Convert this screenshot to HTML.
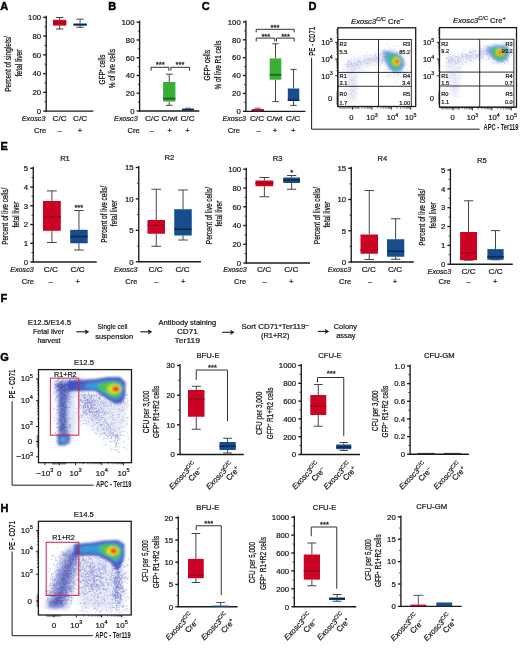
<!DOCTYPE html>
<html><head><meta charset="utf-8"><style>
html,body{margin:0;padding:0;background:#fff;}
body{width:520px;height:649px;overflow:hidden;font-family:"Liberation Sans", sans-serif;}
svg{display:block;will-change:transform;filter:blur(0.35px);}
</style></head><body>
<svg width="520" height="649" viewBox="0 0 520 649" font-family='"Liberation Sans", sans-serif'>
<rect width="520" height="649" fill="#fff"/>
<text x="0.20" y="9.96" font-size="11" fill="#000" text-anchor="start" font-weight="bold" stroke="#000" stroke-width="0.45">A</text>
<line x1="46.20" y1="15.80" x2="46.20" y2="111.60" stroke="#1a1a1a" stroke-width="1.35" />
<line x1="45.70" y1="111.10" x2="93.50" y2="111.10" stroke="#1a1a1a" stroke-width="1.35" />
<line x1="43.20" y1="17.30" x2="46.20" y2="17.30" stroke="#1a1a1a" stroke-width="1.35" />
<text x="41.10" y="20.11" font-size="7.8" fill="#1a1a1a" text-anchor="end" stroke="#1a1a1a" stroke-width="0.22" >100</text>
<line x1="43.20" y1="36.06" x2="46.20" y2="36.06" stroke="#1a1a1a" stroke-width="1.35" />
<text x="41.10" y="38.87" font-size="7.8" fill="#1a1a1a" text-anchor="end" stroke="#1a1a1a" stroke-width="0.22" >80</text>
<line x1="43.20" y1="54.82" x2="46.20" y2="54.82" stroke="#1a1a1a" stroke-width="1.35" />
<text x="41.10" y="57.63" font-size="7.8" fill="#1a1a1a" text-anchor="end" stroke="#1a1a1a" stroke-width="0.22" >60</text>
<line x1="43.20" y1="73.58" x2="46.20" y2="73.58" stroke="#1a1a1a" stroke-width="1.35" />
<text x="41.10" y="76.39" font-size="7.8" fill="#1a1a1a" text-anchor="end" stroke="#1a1a1a" stroke-width="0.22" >40</text>
<line x1="43.20" y1="92.34" x2="46.20" y2="92.34" stroke="#1a1a1a" stroke-width="1.35" />
<text x="41.10" y="95.15" font-size="7.8" fill="#1a1a1a" text-anchor="end" stroke="#1a1a1a" stroke-width="0.22" >20</text>
<line x1="43.20" y1="111.10" x2="46.20" y2="111.10" stroke="#1a1a1a" stroke-width="1.35" />
<text x="41.10" y="113.91" font-size="7.8" fill="#1a1a1a" text-anchor="end" stroke="#1a1a1a" stroke-width="0.22" >0</text>
<line x1="44.40" y1="26.68" x2="46.20" y2="26.68" stroke="#1a1a1a" stroke-width="0.8" />
<line x1="44.40" y1="45.44" x2="46.20" y2="45.44" stroke="#1a1a1a" stroke-width="0.8" />
<line x1="44.40" y1="64.20" x2="46.20" y2="64.20" stroke="#1a1a1a" stroke-width="0.8" />
<line x1="44.40" y1="82.96" x2="46.20" y2="82.96" stroke="#1a1a1a" stroke-width="0.8" />
<line x1="44.40" y1="101.72" x2="46.20" y2="101.72" stroke="#1a1a1a" stroke-width="0.8" />
<line x1="59.65" y1="17.50" x2="59.65" y2="19.80" stroke="#444" stroke-width="1.0" />
<line x1="59.65" y1="25.60" x2="59.65" y2="29.00" stroke="#444" stroke-width="1.0" />
<line x1="55.99" y1="17.50" x2="63.31" y2="17.50" stroke="#444" stroke-width="1.0" />
<line x1="55.99" y1="29.00" x2="63.31" y2="29.00" stroke="#444" stroke-width="1.0" />
<rect x="53.00" y="19.80" width="13.30" height="5.80" fill="#cc0324" />
<line x1="53.00" y1="22.70" x2="66.30" y2="22.70" stroke="#9a0820" stroke-width="1.6" />
<line x1="80.10" y1="19.20" x2="80.10" y2="23.60" stroke="#444" stroke-width="1.0" />
<line x1="80.10" y1="25.60" x2="80.10" y2="27.30" stroke="#444" stroke-width="1.0" />
<line x1="76.47" y1="19.20" x2="83.73" y2="19.20" stroke="#444" stroke-width="1.0" />
<line x1="76.47" y1="27.30" x2="83.73" y2="27.30" stroke="#444" stroke-width="1.0" />
<rect x="73.50" y="23.60" width="13.20" height="2.00" fill="#164d8d" />
<line x1="73.50" y1="24.60" x2="86.70" y2="24.60" stroke="#0a2a50" stroke-width="1.6" />
<text x="45.40" y="121.29" font-size="7.2" fill="#1a1a1a" text-anchor="end" stroke="#1a1a1a" stroke-width="0.22" font-style="italic" >Exosc3</text>
<text x="59.70" y="121.47" font-size="7.7" fill="#1a1a1a" text-anchor="middle" stroke="#1a1a1a" stroke-width="0.22" textLength="14.2" lengthAdjust="spacingAndGlyphs" >C/C</text>
<text x="80.10" y="121.47" font-size="7.7" fill="#1a1a1a" text-anchor="middle" stroke="#1a1a1a" stroke-width="0.22" textLength="14.2" lengthAdjust="spacingAndGlyphs" >C/C</text>
<text x="46.20" y="132.94" font-size="7.6" fill="#1a1a1a" text-anchor="end" stroke="#1a1a1a" stroke-width="0.22" >Cre</text>
<text x="59.70" y="132.94" font-size="7.6" fill="#1a1a1a" text-anchor="middle" stroke="#1a1a1a" stroke-width="0.22" >–</text>
<text x="80.00" y="132.94" font-size="7.6" fill="#1a1a1a" text-anchor="middle" stroke="#1a1a1a" stroke-width="0.22" >+</text>
<text transform="translate(7.60,64.00) rotate(-90)" x="0" y="3.24" font-size="9" fill="#1a1a1a" text-anchor="middle" stroke="#1a1a1a" stroke-width="0.28" textLength="55.7" lengthAdjust="spacingAndGlyphs" >Percent of singlets/</text>
<text transform="translate(18.90,63.00) rotate(-90)" x="0" y="3.24" font-size="9" fill="#1a1a1a" text-anchor="middle" stroke="#1a1a1a" stroke-width="0.28" textLength="27" lengthAdjust="spacingAndGlyphs" >fetal liver</text>
<text x="108.30" y="10.16" font-size="11" fill="#000" text-anchor="start" font-weight="bold" stroke="#000" stroke-width="0.45">B</text>
<line x1="139.60" y1="20.70" x2="139.60" y2="111.50" stroke="#1a1a1a" stroke-width="1.35" />
<line x1="139.10" y1="111.00" x2="199.30" y2="111.00" stroke="#1a1a1a" stroke-width="1.35" />
<line x1="136.60" y1="22.20" x2="139.60" y2="22.20" stroke="#1a1a1a" stroke-width="1.35" />
<text x="134.50" y="25.01" font-size="7.8" fill="#1a1a1a" text-anchor="end" stroke="#1a1a1a" stroke-width="0.22" >100</text>
<line x1="136.60" y1="39.96" x2="139.60" y2="39.96" stroke="#1a1a1a" stroke-width="1.35" />
<text x="134.50" y="42.77" font-size="7.8" fill="#1a1a1a" text-anchor="end" stroke="#1a1a1a" stroke-width="0.22" >80</text>
<line x1="136.60" y1="57.72" x2="139.60" y2="57.72" stroke="#1a1a1a" stroke-width="1.35" />
<text x="134.50" y="60.53" font-size="7.8" fill="#1a1a1a" text-anchor="end" stroke="#1a1a1a" stroke-width="0.22" >60</text>
<line x1="136.60" y1="75.48" x2="139.60" y2="75.48" stroke="#1a1a1a" stroke-width="1.35" />
<text x="134.50" y="78.29" font-size="7.8" fill="#1a1a1a" text-anchor="end" stroke="#1a1a1a" stroke-width="0.22" >40</text>
<line x1="136.60" y1="93.24" x2="139.60" y2="93.24" stroke="#1a1a1a" stroke-width="1.35" />
<text x="134.50" y="96.05" font-size="7.8" fill="#1a1a1a" text-anchor="end" stroke="#1a1a1a" stroke-width="0.22" >20</text>
<line x1="136.60" y1="111.00" x2="139.60" y2="111.00" stroke="#1a1a1a" stroke-width="1.35" />
<text x="134.50" y="113.81" font-size="7.8" fill="#1a1a1a" text-anchor="end" stroke="#1a1a1a" stroke-width="0.22" >0</text>
<line x1="137.80" y1="31.08" x2="139.60" y2="31.08" stroke="#1a1a1a" stroke-width="0.8" />
<line x1="137.80" y1="48.84" x2="139.60" y2="48.84" stroke="#1a1a1a" stroke-width="0.8" />
<line x1="137.80" y1="66.60" x2="139.60" y2="66.60" stroke="#1a1a1a" stroke-width="0.8" />
<line x1="137.80" y1="84.36" x2="139.60" y2="84.36" stroke="#1a1a1a" stroke-width="0.8" />
<line x1="137.80" y1="102.12" x2="139.60" y2="102.12" stroke="#1a1a1a" stroke-width="0.8" />
<line x1="169.25" y1="74.20" x2="169.25" y2="82.00" stroke="#444" stroke-width="1.0" />
<line x1="169.25" y1="101.50" x2="169.25" y2="105.30" stroke="#444" stroke-width="1.0" />
<line x1="165.87" y1="74.20" x2="172.63" y2="74.20" stroke="#444" stroke-width="1.0" />
<line x1="165.87" y1="105.30" x2="172.63" y2="105.30" stroke="#444" stroke-width="1.0" />
<rect x="163.10" y="82.00" width="12.30" height="19.50" fill="#39ae35" />
<line x1="163.10" y1="98.60" x2="175.40" y2="98.60" stroke="#1c6420" stroke-width="1.8" />
<rect x="182.00" y="108.60" width="12.00" height="2.00" fill="#0a2a50" />
<line x1="185.00" y1="108.20" x2="191.00" y2="108.20" stroke="#444" stroke-width="0.8" />
<polyline points="151.00,70.70 151.00,67.30 168.80,67.30 168.80,70.70" fill="none" stroke="#1a1a1a" stroke-width="0.9"/>
<polyline points="170.90,70.70 170.90,67.30 189.60,67.30 189.60,70.70" fill="none" stroke="#1a1a1a" stroke-width="0.9"/>
<text x="160.20" y="67.40" font-size="7.5" fill="#1a1a1a" text-anchor="middle" stroke="#1a1a1a" stroke-width="0.28" >***</text>
<text x="180.00" y="67.40" font-size="7.5" fill="#1a1a1a" text-anchor="middle" stroke="#1a1a1a" stroke-width="0.28" >***</text>
<text x="137.70" y="121.29" font-size="7.2" fill="#1a1a1a" text-anchor="end" stroke="#1a1a1a" stroke-width="0.22" font-style="italic" >Exosc3</text>
<text x="152.00" y="121.47" font-size="7.7" fill="#1a1a1a" text-anchor="middle" stroke="#1a1a1a" stroke-width="0.22" textLength="14.2" lengthAdjust="spacingAndGlyphs" >C/C</text>
<text x="169.50" y="121.47" font-size="7.7" fill="#1a1a1a" text-anchor="middle" stroke="#1a1a1a" stroke-width="0.22" textLength="15.9" lengthAdjust="spacingAndGlyphs" >C/wt</text>
<text x="187.50" y="121.47" font-size="7.7" fill="#1a1a1a" text-anchor="middle" stroke="#1a1a1a" stroke-width="0.22" textLength="14.2" lengthAdjust="spacingAndGlyphs" >C/C</text>
<text x="139.80" y="132.94" font-size="7.6" fill="#1a1a1a" text-anchor="end" stroke="#1a1a1a" stroke-width="0.22" >Cre</text>
<text x="151.50" y="132.94" font-size="7.6" fill="#1a1a1a" text-anchor="middle" stroke="#1a1a1a" stroke-width="0.22" >–</text>
<text x="169.70" y="132.94" font-size="7.6" fill="#1a1a1a" text-anchor="middle" stroke="#1a1a1a" stroke-width="0.22" >+</text>
<text x="187.50" y="132.94" font-size="7.6" fill="#1a1a1a" text-anchor="middle" stroke="#1a1a1a" stroke-width="0.22" >+</text>
<text transform="translate(101.50,69.50) rotate(-90)" x="0" y="3.24" font-size="9" fill="#1a1a1a" text-anchor="middle" stroke="#1a1a1a" stroke-width="0.28" textLength="30" lengthAdjust="spacingAndGlyphs" >GFP<tspan font-size="5" dy="-2.5">+</tspan><tspan dy="2.5"> cells</tspan></text>
<text transform="translate(111.70,68.70) rotate(-90)" x="0" y="3.24" font-size="9" fill="#1a1a1a" text-anchor="middle" stroke="#1a1a1a" stroke-width="0.28" textLength="39.3" lengthAdjust="spacingAndGlyphs" >% of live cells</text>
<text x="201.70" y="10.16" font-size="11" fill="#000" text-anchor="start" font-weight="bold" stroke="#000" stroke-width="0.45">C</text>
<line x1="245.90" y1="20.40" x2="245.90" y2="111.80" stroke="#1a1a1a" stroke-width="1.35" />
<line x1="245.40" y1="111.30" x2="305.40" y2="111.30" stroke="#1a1a1a" stroke-width="1.35" />
<line x1="242.90" y1="21.90" x2="245.90" y2="21.90" stroke="#1a1a1a" stroke-width="1.35" />
<text x="240.80" y="24.71" font-size="7.8" fill="#1a1a1a" text-anchor="end" stroke="#1a1a1a" stroke-width="0.22" >100</text>
<line x1="242.90" y1="39.78" x2="245.90" y2="39.78" stroke="#1a1a1a" stroke-width="1.35" />
<text x="240.80" y="42.59" font-size="7.8" fill="#1a1a1a" text-anchor="end" stroke="#1a1a1a" stroke-width="0.22" >80</text>
<line x1="242.90" y1="57.66" x2="245.90" y2="57.66" stroke="#1a1a1a" stroke-width="1.35" />
<text x="240.80" y="60.47" font-size="7.8" fill="#1a1a1a" text-anchor="end" stroke="#1a1a1a" stroke-width="0.22" >60</text>
<line x1="242.90" y1="75.54" x2="245.90" y2="75.54" stroke="#1a1a1a" stroke-width="1.35" />
<text x="240.80" y="78.35" font-size="7.8" fill="#1a1a1a" text-anchor="end" stroke="#1a1a1a" stroke-width="0.22" >40</text>
<line x1="242.90" y1="93.42" x2="245.90" y2="93.42" stroke="#1a1a1a" stroke-width="1.35" />
<text x="240.80" y="96.23" font-size="7.8" fill="#1a1a1a" text-anchor="end" stroke="#1a1a1a" stroke-width="0.22" >20</text>
<line x1="242.90" y1="111.30" x2="245.90" y2="111.30" stroke="#1a1a1a" stroke-width="1.35" />
<text x="240.80" y="114.11" font-size="7.8" fill="#1a1a1a" text-anchor="end" stroke="#1a1a1a" stroke-width="0.22" >0</text>
<line x1="244.10" y1="30.84" x2="245.90" y2="30.84" stroke="#1a1a1a" stroke-width="0.8" />
<line x1="244.10" y1="48.72" x2="245.90" y2="48.72" stroke="#1a1a1a" stroke-width="0.8" />
<line x1="244.10" y1="66.60" x2="245.90" y2="66.60" stroke="#1a1a1a" stroke-width="0.8" />
<line x1="244.10" y1="84.48" x2="245.90" y2="84.48" stroke="#1a1a1a" stroke-width="0.8" />
<line x1="244.10" y1="102.36" x2="245.90" y2="102.36" stroke="#1a1a1a" stroke-width="0.8" />
<line x1="257.75" y1="108.20" x2="257.75" y2="109.30" stroke="#444" stroke-width="0.8" />
<line x1="257.75" y1="111.00" x2="257.75" y2="111.00" stroke="#444" stroke-width="0.8" />
<line x1="254.37" y1="108.20" x2="261.13" y2="108.20" stroke="#444" stroke-width="0.8" />
<line x1="254.37" y1="111.00" x2="261.13" y2="111.00" stroke="#444" stroke-width="0.8" />
<rect x="251.60" y="109.30" width="12.30" height="1.70" fill="#cc0324" />
<line x1="251.60" y1="110.20" x2="263.90" y2="110.20" stroke="#9a0820" stroke-width="1.6" />
<line x1="275.50" y1="43.80" x2="275.50" y2="58.40" stroke="#444" stroke-width="1.0" />
<line x1="275.50" y1="79.70" x2="275.50" y2="101.60" stroke="#444" stroke-width="1.0" />
<line x1="272.31" y1="43.80" x2="278.69" y2="43.80" stroke="#444" stroke-width="1.0" />
<line x1="272.31" y1="101.60" x2="278.69" y2="101.60" stroke="#444" stroke-width="1.0" />
<rect x="269.70" y="58.40" width="11.60" height="21.30" fill="#39ae35" />
<line x1="269.70" y1="74.80" x2="281.30" y2="74.80" stroke="#1c6420" stroke-width="1.8" />
<line x1="293.55" y1="69.40" x2="293.55" y2="88.50" stroke="#444" stroke-width="1.0" />
<line x1="293.55" y1="100.80" x2="293.55" y2="105.40" stroke="#444" stroke-width="1.0" />
<line x1="290.39" y1="69.40" x2="296.71" y2="69.40" stroke="#444" stroke-width="1.0" />
<line x1="290.39" y1="105.40" x2="296.71" y2="105.40" stroke="#444" stroke-width="1.0" />
<rect x="287.80" y="88.50" width="11.50" height="12.30" fill="#164d8d" />
<line x1="287.80" y1="100.20" x2="299.30" y2="100.20" stroke="#0a2a50" stroke-width="1.6" />
<polyline points="256.20,32.30 256.20,29.30 294.20,29.30 294.20,32.30" fill="none" stroke="#1a1a1a" stroke-width="0.9"/>
<polyline points="256.20,41.50 256.20,38.10 274.70,38.10 274.70,41.50" fill="none" stroke="#1a1a1a" stroke-width="0.9"/>
<polyline points="276.50,41.50 276.50,38.10 294.20,38.10 294.20,41.50" fill="none" stroke="#1a1a1a" stroke-width="0.9"/>
<text x="275.00" y="29.70" font-size="7.5" fill="#1a1a1a" text-anchor="middle" stroke="#1a1a1a" stroke-width="0.28" >***</text>
<text x="265.80" y="38.90" font-size="7.5" fill="#1a1a1a" text-anchor="middle" stroke="#1a1a1a" stroke-width="0.28" >***</text>
<text x="285.60" y="38.90" font-size="7.5" fill="#1a1a1a" text-anchor="middle" stroke="#1a1a1a" stroke-width="0.28" >***</text>
<text x="246.00" y="121.29" font-size="7.2" fill="#1a1a1a" text-anchor="end" stroke="#1a1a1a" stroke-width="0.22" font-style="italic" >Exosc3</text>
<text x="257.00" y="121.47" font-size="7.7" fill="#1a1a1a" text-anchor="middle" stroke="#1a1a1a" stroke-width="0.22" textLength="14.2" lengthAdjust="spacingAndGlyphs" >C/C</text>
<text x="274.50" y="121.47" font-size="7.7" fill="#1a1a1a" text-anchor="middle" stroke="#1a1a1a" stroke-width="0.22" textLength="15.9" lengthAdjust="spacingAndGlyphs" >C/wt</text>
<text x="293.20" y="121.47" font-size="7.7" fill="#1a1a1a" text-anchor="middle" stroke="#1a1a1a" stroke-width="0.22" textLength="14.2" lengthAdjust="spacingAndGlyphs" >C/C</text>
<text x="240.00" y="132.94" font-size="7.6" fill="#1a1a1a" text-anchor="end" stroke="#1a1a1a" stroke-width="0.22" >Cre</text>
<text x="258.50" y="132.94" font-size="7.6" fill="#1a1a1a" text-anchor="middle" stroke="#1a1a1a" stroke-width="0.22" >–</text>
<text x="275.00" y="132.94" font-size="7.6" fill="#1a1a1a" text-anchor="middle" stroke="#1a1a1a" stroke-width="0.22" >+</text>
<text x="293.20" y="132.94" font-size="7.6" fill="#1a1a1a" text-anchor="middle" stroke="#1a1a1a" stroke-width="0.22" >+</text>
<text transform="translate(207.00,65.20) rotate(-90)" x="0" y="3.24" font-size="9" fill="#1a1a1a" text-anchor="middle" stroke="#1a1a1a" stroke-width="0.28" textLength="30.6" lengthAdjust="spacingAndGlyphs" >GFP<tspan font-size="5" dy="-2.5">+</tspan><tspan dy="2.5"> cells</tspan></text>
<text transform="translate(217.30,65.10) rotate(-90)" x="0" y="3.24" font-size="9" fill="#1a1a1a" text-anchor="middle" stroke="#1a1a1a" stroke-width="0.28" textLength="49" lengthAdjust="spacingAndGlyphs" >% of live R1 cells</text>
<text x="308.50" y="9.96" font-size="11" fill="#000" text-anchor="start" font-weight="bold" stroke="#000" stroke-width="0.45">D</text>
<defs><filter id="bl1" x="-50%" y="-50%" width="200%" height="200%"><feGaussianBlur stdDeviation="1.4"/></filter><filter id="bl2" x="-50%" y="-50%" width="200%" height="200%"><feGaussianBlur stdDeviation="0.6"/></filter><filter id="bl3" x="-50%" y="-50%" width="200%" height="200%"><feGaussianBlur stdDeviation="2.2"/></filter><filter id="bl4" x="-50%" y="-50%" width="200%" height="200%"><feGaussianBlur stdDeviation="1.0"/></filter></defs>
<polygon points="345,63 360,58 378,54 388,55 386,63 372,65 358,69 356,100 349,101 347,80" fill="#c8cdf0" fill-opacity="0.4" filter="url(#bl3)"/>
<path d="M359.8 65.5h0.8v0.8h-0.8zM347.1 62.7h0.8v0.8h-0.8zM347.2 63.5h0.8v0.8h-0.8zM364.1 61.2h0.8v0.8h-0.8zM363.5 59.0h0.8v0.8h-0.8zM352.8 56.1h0.8v0.8h-0.8zM367.5 65.2h0.8v0.8h-0.8zM347.6 61.4h0.8v0.8h-0.8zM351.9 64.9h0.8v0.8h-0.8zM380.7 61.7h0.8v0.8h-0.8zM371.6 62.1h0.8v0.8h-0.8zM348.4 64.4h0.8v0.8h-0.8zM373.4 59.9h0.8v0.8h-0.8zM369.3 60.2h0.8v0.8h-0.8zM378.9 55.2h0.8v0.8h-0.8zM367.6 58.3h0.8v0.8h-0.8zM375.7 67.7h0.8v0.8h-0.8zM348.5 66.0h0.8v0.8h-0.8zM351.2 62.9h0.8v0.8h-0.8zM373.9 54.1h0.8v0.8h-0.8zM382.0 62.0h0.8v0.8h-0.8zM369.5 57.4h0.8v0.8h-0.8zM382.2 55.9h0.8v0.8h-0.8zM375.1 60.7h0.8v0.8h-0.8zM374.8 58.5h0.8v0.8h-0.8zM356.1 65.1h0.8v0.8h-0.8zM345.4 64.3h0.8v0.8h-0.8zM351.7 65.2h0.8v0.8h-0.8zM350.6 66.5h0.8v0.8h-0.8zM383.5 58.9h0.8v0.8h-0.8zM370.1 55.3h0.8v0.8h-0.8zM382.0 60.7h0.8v0.8h-0.8zM362.4 55.3h0.8v0.8h-0.8zM351.8 65.1h0.8v0.8h-0.8zM353.6 62.6h0.8v0.8h-0.8zM357.4 62.0h0.8v0.8h-0.8zM358.5 57.5h0.8v0.8h-0.8zM373.2 58.0h0.8v0.8h-0.8zM376.2 61.1h0.8v0.8h-0.8zM379.9 53.3h0.8v0.8h-0.8zM361.5 61.8h0.8v0.8h-0.8zM372.6 59.4h0.8v0.8h-0.8zM354.5 65.0h0.8v0.8h-0.8zM347.9 63.6h0.8v0.8h-0.8zM349.2 63.8h0.8v0.8h-0.8zM382.1 55.7h0.8v0.8h-0.8zM355.3 64.7h0.8v0.8h-0.8zM352.2 54.0h0.8v0.8h-0.8zM364.6 60.4h0.8v0.8h-0.8zM348.9 65.5h0.8v0.8h-0.8zM380.8 58.0h0.8v0.8h-0.8zM385.3 56.0h0.8v0.8h-0.8zM369.6 60.4h0.8v0.8h-0.8zM388.1 52.1h0.8v0.8h-0.8zM355.8 63.5h0.8v0.8h-0.8zM376.4 56.6h0.8v0.8h-0.8zM359.5 67.7h0.8v0.8h-0.8zM388.5 51.1h0.8v0.8h-0.8zM380.1 54.9h0.8v0.8h-0.8zM367.1 60.5h0.8v0.8h-0.8zM346.1 66.4h0.8v0.8h-0.8zM375.9 57.4h0.8v0.8h-0.8zM387.9 55.8h0.8v0.8h-0.8zM360.8 63.6h0.8v0.8h-0.8zM353.9 67.1h0.8v0.8h-0.8zM384.4 53.4h0.8v0.8h-0.8zM373.2 57.4h0.8v0.8h-0.8zM375.0 55.4h0.8v0.8h-0.8zM376.6 58.3h0.8v0.8h-0.8zM378.0 63.1h0.8v0.8h-0.8zM385.9 58.4h0.8v0.8h-0.8zM385.6 54.3h0.8v0.8h-0.8zM351.8 69.2h0.8v0.8h-0.8zM380.9 62.8h0.8v0.8h-0.8zM386.6 53.4h0.8v0.8h-0.8zM368.7 60.0h0.8v0.8h-0.8zM386.0 52.8h0.8v0.8h-0.8zM383.2 59.4h0.8v0.8h-0.8zM380.7 60.0h0.8v0.8h-0.8zM357.7 66.3h0.8v0.8h-0.8zM355.7 62.8h0.8v0.8h-0.8zM383.4 59.8h0.8v0.8h-0.8zM371.0 57.3h0.8v0.8h-0.8zM383.2 56.6h0.8v0.8h-0.8zM368.6 60.3h0.8v0.8h-0.8zM354.8 62.7h0.8v0.8h-0.8zM350.7 63.6h0.8v0.8h-0.8zM368.3 63.3h0.8v0.8h-0.8zM369.0 57.9h0.8v0.8h-0.8zM369.1 62.3h0.8v0.8h-0.8zM376.9 57.6h0.8v0.8h-0.8zM378.6 55.9h0.8v0.8h-0.8zM370.1 59.0h0.8v0.8h-0.8zM373.5 59.7h0.8v0.8h-0.8zM367.1 58.2h0.8v0.8h-0.8zM383.5 56.0h0.8v0.8h-0.8zM370.9 57.2h0.8v0.8h-0.8zM351.7 65.5h0.8v0.8h-0.8zM348.1 64.8h0.8v0.8h-0.8zM374.3 51.4h0.8v0.8h-0.8zM351.3 57.7h0.8v0.8h-0.8zM353.2 56.7h0.8v0.8h-0.8zM355.5 61.2h0.8v0.8h-0.8zM367.9 59.7h0.8v0.8h-0.8zM350.8 64.5h0.8v0.8h-0.8zM359.9 64.2h0.8v0.8h-0.8zM377.4 58.8h0.8v0.8h-0.8zM364.9 60.8h0.8v0.8h-0.8zM371.4 58.9h0.8v0.8h-0.8zM388.0 47.0h0.8v0.8h-0.8zM349.5 64.2h0.8v0.8h-0.8zM378.4 59.6h0.8v0.8h-0.8zM364.8 57.2h0.8v0.8h-0.8zM357.5 68.3h0.8v0.8h-0.8zM369.4 58.0h0.8v0.8h-0.8zM347.1 60.1h0.8v0.8h-0.8zM349.5 61.5h0.8v0.8h-0.8zM381.3 61.0h0.8v0.8h-0.8zM348.6 60.5h0.8v0.8h-0.8zM357.3 58.7h0.8v0.8h-0.8zM357.4 65.0h0.8v0.8h-0.8zM355.7 63.4h0.8v0.8h-0.8zM347.4 66.5h0.8v0.8h-0.8zM358.2 58.7h0.8v0.8h-0.8zM366.9 62.9h0.8v0.8h-0.8zM345.8 64.5h0.8v0.8h-0.8zM375.9 57.4h0.8v0.8h-0.8zM365.9 59.5h0.8v0.8h-0.8zM379.1 59.1h0.8v0.8h-0.8zM379.9 59.9h0.8v0.8h-0.8zM375.5 58.1h0.8v0.8h-0.8zM380.4 52.5h0.8v0.8h-0.8zM362.2 61.7h0.8v0.8h-0.8zM352.1 65.4h0.8v0.8h-0.8zM356.2 63.2h0.8v0.8h-0.8zM382.2 53.5h0.8v0.8h-0.8zM357.2 64.7h0.8v0.8h-0.8zM365.4 63.5h0.8v0.8h-0.8zM359.1 59.7h0.8v0.8h-0.8zM368.6 68.7h0.8v0.8h-0.8zM358.3 61.7h0.8v0.8h-0.8zM360.2 61.6h0.8v0.8h-0.8zM353.5 62.4h0.8v0.8h-0.8zM357.3 63.8h0.8v0.8h-0.8zM347.7 64.1h0.8v0.8h-0.8zM353.9 59.9h0.8v0.8h-0.8zM376.4 53.4h0.8v0.8h-0.8zM382.1 59.0h0.8v0.8h-0.8zM388.3 60.7h0.8v0.8h-0.8zM374.6 60.7h0.8v0.8h-0.8zM382.2 52.8h0.8v0.8h-0.8zM380.7 60.8h0.8v0.8h-0.8zM367.7 54.5h0.8v0.8h-0.8zM378.6 53.7h0.8v0.8h-0.8zM374.1 56.2h0.8v0.8h-0.8zM347.0 66.2h0.8v0.8h-0.8zM350.2 59.3h0.8v0.8h-0.8zM370.9 55.2h0.8v0.8h-0.8zM367.9 60.2h0.8v0.8h-0.8zM375.9 57.9h0.8v0.8h-0.8zM374.9 61.0h0.8v0.8h-0.8zM356.6 63.2h0.8v0.8h-0.8zM376.8 63.7h0.8v0.8h-0.8zM385.9 56.3h0.8v0.8h-0.8zM364.9 54.7h0.8v0.8h-0.8zM371.3 58.0h0.8v0.8h-0.8zM351.3 68.6h0.8v0.8h-0.8zM357.9 61.3h0.8v0.8h-0.8zM347.4 68.7h0.8v0.8h-0.8zM374.4 55.9h0.8v0.8h-0.8zM366.1 60.7h0.8v0.8h-0.8zM350.6 61.6h0.8v0.8h-0.8zM387.2 55.9h0.8v0.8h-0.8zM365.9 52.0h0.8v0.8h-0.8zM364.2 62.8h0.8v0.8h-0.8zM386.0 60.9h0.8v0.8h-0.8zM348.5 61.6h0.8v0.8h-0.8zM351.2 59.2h0.8v0.8h-0.8zM382.9 54.5h0.8v0.8h-0.8zM383.4 56.9h0.8v0.8h-0.8zM344.0 64.2h0.8v0.8h-0.8zM358.6 64.1h0.8v0.8h-0.8zM358.6 61.3h0.8v0.8h-0.8zM377.6 56.5h0.8v0.8h-0.8zM384.3 49.3h0.8v0.8h-0.8zM356.7 64.2h0.8v0.8h-0.8zM387.1 54.3h0.8v0.8h-0.8zM363.4 61.7h0.8v0.8h-0.8zM349.8 60.7h0.8v0.8h-0.8zM385.2 59.3h0.8v0.8h-0.8zM367.3 63.1h0.8v0.8h-0.8zM387.5 52.1h0.8v0.8h-0.8zM374.3 54.6h0.8v0.8h-0.8zM368.6 58.5h0.8v0.8h-0.8zM374.8 59.9h0.8v0.8h-0.8zM372.6 59.9h0.8v0.8h-0.8zM385.7 59.4h0.8v0.8h-0.8zM359.3 66.7h0.8v0.8h-0.8zM386.9 61.3h0.8v0.8h-0.8zM357.0 60.4h0.8v0.8h-0.8zM352.6 64.7h0.8v0.8h-0.8zM383.2 56.8h0.8v0.8h-0.8zM385.1 56.7h0.8v0.8h-0.8zM351.2 64.3h0.8v0.8h-0.8zM360.4 62.7h0.8v0.8h-0.8zM354.1 58.8h0.8v0.8h-0.8zM376.3 59.9h0.8v0.8h-0.8zM366.9 62.0h0.8v0.8h-0.8zM347.2 72.5h0.8v0.8h-0.8zM348.9 62.9h0.8v0.8h-0.8zM382.3 59.8h0.8v0.8h-0.8zM354.8 64.3h0.8v0.8h-0.8zM387.3 50.6h0.8v0.8h-0.8zM347.6 64.9h0.8v0.8h-0.8zM382.1 57.6h0.8v0.8h-0.8zM343.1 69.0h0.8v0.8h-0.8zM382.2 50.0h0.8v0.8h-0.8zM356.2 63.3h0.8v0.8h-0.8zM366.4 52.2h0.8v0.8h-0.8zM375.0 53.5h0.8v0.8h-0.8zM364.4 60.0h0.8v0.8h-0.8zM378.9 65.6h0.8v0.8h-0.8zM372.6 60.6h0.8v0.8h-0.8zM354.8 57.9h0.8v0.8h-0.8zM351.0 64.9h0.8v0.8h-0.8zM369.5 60.9h0.8v0.8h-0.8zM371.7 59.4h0.8v0.8h-0.8zM366.3 59.0h0.8v0.8h-0.8zM382.2 57.3h0.8v0.8h-0.8zM357.2 60.7h0.8v0.8h-0.8zM359.4 62.1h0.8v0.8h-0.8zM373.3 59.9h0.8v0.8h-0.8zM374.4 57.5h0.8v0.8h-0.8zM345.9 66.8h0.8v0.8h-0.8zM375.0 64.5h0.8v0.8h-0.8zM376.1 58.0h0.8v0.8h-0.8zM386.0 62.2h0.8v0.8h-0.8zM355.2 68.0h0.8v0.8h-0.8zM358.9 60.4h0.8v0.8h-0.8zM353.2 66.1h0.8v0.8h-0.8zM374.2 58.1h0.8v0.8h-0.8zM362.6 70.1h0.8v0.8h-0.8zM351.5 63.3h0.8v0.8h-0.8zM363.7 56.5h0.8v0.8h-0.8zM378.9 58.0h0.8v0.8h-0.8zM360.1 68.9h0.8v0.8h-0.8zM378.6 59.1h0.8v0.8h-0.8zM360.6 63.2h0.8v0.8h-0.8zM353.1 62.7h0.8v0.8h-0.8zM360.6 60.7h0.8v0.8h-0.8zM386.7 59.5h0.8v0.8h-0.8zM380.8 54.1h0.8v0.8h-0.8zM346.1 64.2h0.8v0.8h-0.8zM384.9 59.8h0.8v0.8h-0.8zM384.6 57.5h0.8v0.8h-0.8zM379.9 56.5h0.8v0.8h-0.8zM348.7 66.7h0.8v0.8h-0.8zM356.0 54.5h0.8v0.8h-0.8zM359.2 70.0h0.8v0.8h-0.8zM371.4 64.6h0.8v0.8h-0.8z" fill="#5868c4" fill-opacity="0.32"/>
<path d="M350.9 93.1h0.8v0.8h-0.8zM357.9 85.4h0.8v0.8h-0.8zM356.3 77.2h0.8v0.8h-0.8zM352.7 84.1h0.8v0.8h-0.8zM352.4 97.4h0.8v0.8h-0.8zM360.4 77.7h0.8v0.8h-0.8zM350.0 90.5h0.8v0.8h-0.8zM348.3 90.5h0.8v0.8h-0.8zM354.0 81.9h0.8v0.8h-0.8zM353.9 68.0h0.8v0.8h-0.8zM354.7 68.0h0.8v0.8h-0.8zM349.6 78.9h0.8v0.8h-0.8zM350.6 94.4h0.8v0.8h-0.8zM352.3 80.6h0.8v0.8h-0.8zM353.9 102.4h0.8v0.8h-0.8zM352.0 89.0h0.8v0.8h-0.8zM356.3 87.9h0.8v0.8h-0.8zM359.7 63.2h0.8v0.8h-0.8zM351.9 89.6h0.8v0.8h-0.8zM355.4 92.4h0.8v0.8h-0.8zM351.0 73.4h0.8v0.8h-0.8zM352.4 96.4h0.8v0.8h-0.8zM348.2 73.7h0.8v0.8h-0.8zM351.9 63.7h0.8v0.8h-0.8zM351.1 80.2h0.8v0.8h-0.8zM353.6 77.3h0.8v0.8h-0.8zM348.9 80.7h0.8v0.8h-0.8zM351.8 77.7h0.8v0.8h-0.8zM352.0 93.3h0.8v0.8h-0.8zM356.1 103.8h0.8v0.8h-0.8zM349.3 80.4h0.8v0.8h-0.8zM349.5 84.6h0.8v0.8h-0.8zM353.8 70.1h0.8v0.8h-0.8zM353.6 84.7h0.8v0.8h-0.8zM345.6 88.2h0.8v0.8h-0.8zM356.2 64.5h0.8v0.8h-0.8zM354.8 87.3h0.8v0.8h-0.8zM353.7 89.9h0.8v0.8h-0.8zM356.6 82.5h0.8v0.8h-0.8zM355.1 80.5h0.8v0.8h-0.8zM354.5 76.0h0.8v0.8h-0.8zM351.6 104.0h0.8v0.8h-0.8zM353.6 83.3h0.8v0.8h-0.8zM348.0 76.3h0.8v0.8h-0.8zM352.7 95.3h0.8v0.8h-0.8zM353.5 90.8h0.8v0.8h-0.8zM351.9 99.9h0.8v0.8h-0.8zM350.6 79.0h0.8v0.8h-0.8zM355.1 85.7h0.8v0.8h-0.8zM351.0 78.7h0.8v0.8h-0.8zM351.1 91.9h0.8v0.8h-0.8zM353.2 71.7h0.8v0.8h-0.8zM353.5 87.0h0.8v0.8h-0.8zM348.5 93.5h0.8v0.8h-0.8zM351.0 81.3h0.8v0.8h-0.8zM354.8 99.5h0.8v0.8h-0.8zM349.6 89.8h0.8v0.8h-0.8zM350.3 98.1h0.8v0.8h-0.8zM349.7 93.9h0.8v0.8h-0.8zM359.8 57.0h0.8v0.8h-0.8zM350.5 90.5h0.8v0.8h-0.8zM351.7 77.6h0.8v0.8h-0.8zM359.5 85.9h0.8v0.8h-0.8zM346.2 94.4h0.8v0.8h-0.8zM346.0 97.7h0.8v0.8h-0.8zM350.0 86.6h0.8v0.8h-0.8zM356.4 86.3h0.8v0.8h-0.8zM347.1 66.3h0.8v0.8h-0.8zM356.1 93.1h0.8v0.8h-0.8zM349.1 94.5h0.8v0.8h-0.8zM353.7 92.1h0.8v0.8h-0.8zM344.1 81.7h0.8v0.8h-0.8zM355.2 93.1h0.8v0.8h-0.8zM355.1 58.0h0.8v0.8h-0.8zM352.6 90.4h0.8v0.8h-0.8zM360.9 74.5h0.8v0.8h-0.8zM350.8 85.4h0.8v0.8h-0.8zM355.1 80.1h0.8v0.8h-0.8zM356.0 76.3h0.8v0.8h-0.8zM352.9 79.2h0.8v0.8h-0.8zM352.6 77.4h0.8v0.8h-0.8zM346.4 97.0h0.8v0.8h-0.8zM353.1 78.9h0.8v0.8h-0.8zM352.7 95.9h0.8v0.8h-0.8zM348.6 83.8h0.8v0.8h-0.8zM353.9 90.8h0.8v0.8h-0.8zM350.8 61.8h0.8v0.8h-0.8zM356.4 88.6h0.8v0.8h-0.8zM352.0 81.9h0.8v0.8h-0.8zM352.9 80.3h0.8v0.8h-0.8z" fill="#7080d0" fill-opacity="0.24"/>
<path d="M388.9 58.1h0.8v0.8h-0.8zM391.4 59.1h0.8v0.8h-0.8zM388.0 69.1h0.8v0.8h-0.8zM387.1 69.3h0.8v0.8h-0.8zM388.9 66.8h0.8v0.8h-0.8zM403.2 65.6h0.8v0.8h-0.8zM390.6 64.4h0.8v0.8h-0.8zM395.9 50.1h0.8v0.8h-0.8zM391.4 65.3h0.8v0.8h-0.8zM392.2 64.6h0.8v0.8h-0.8zM399.4 70.1h0.8v0.8h-0.8zM400.4 68.7h0.8v0.8h-0.8zM393.3 63.9h0.8v0.8h-0.8zM393.4 61.5h0.8v0.8h-0.8zM393.9 50.2h0.8v0.8h-0.8zM393.0 63.8h0.8v0.8h-0.8zM389.2 63.8h0.8v0.8h-0.8zM398.1 62.7h0.8v0.8h-0.8zM407.5 43.1h0.8v0.8h-0.8zM393.8 49.4h0.8v0.8h-0.8zM400.9 85.2h0.8v0.8h-0.8zM380.0 65.0h0.8v0.8h-0.8zM398.1 61.6h0.8v0.8h-0.8zM398.3 46.1h0.8v0.8h-0.8zM400.1 67.0h0.8v0.8h-0.8zM395.1 59.3h0.8v0.8h-0.8zM398.8 60.1h0.8v0.8h-0.8zM396.3 59.9h0.8v0.8h-0.8zM381.5 63.7h0.8v0.8h-0.8zM396.2 70.0h0.8v0.8h-0.8zM389.7 63.7h0.8v0.8h-0.8zM398.7 65.2h0.8v0.8h-0.8zM402.5 79.9h0.8v0.8h-0.8zM389.5 48.6h0.8v0.8h-0.8zM400.1 76.2h0.8v0.8h-0.8zM400.5 70.5h0.8v0.8h-0.8zM391.3 58.3h0.8v0.8h-0.8zM400.3 56.7h0.8v0.8h-0.8zM384.1 56.0h0.8v0.8h-0.8zM410.0 79.4h0.8v0.8h-0.8zM390.9 58.2h0.8v0.8h-0.8zM396.4 58.0h0.8v0.8h-0.8zM402.9 63.4h0.8v0.8h-0.8zM388.5 74.5h0.8v0.8h-0.8zM391.5 65.8h0.8v0.8h-0.8zM394.9 61.5h0.8v0.8h-0.8zM396.9 58.5h0.8v0.8h-0.8zM383.9 46.3h0.8v0.8h-0.8zM387.4 57.9h0.8v0.8h-0.8zM394.9 64.4h0.8v0.8h-0.8zM398.3 65.0h0.8v0.8h-0.8zM390.2 58.3h0.8v0.8h-0.8zM382.3 62.6h0.8v0.8h-0.8zM397.9 68.2h0.8v0.8h-0.8zM394.3 62.6h0.8v0.8h-0.8zM400.6 64.1h0.8v0.8h-0.8zM399.4 68.7h0.8v0.8h-0.8zM396.3 74.5h0.8v0.8h-0.8zM391.6 61.1h0.8v0.8h-0.8zM390.2 57.6h0.8v0.8h-0.8zM404.3 78.1h0.8v0.8h-0.8zM395.1 68.5h0.8v0.8h-0.8zM402.1 70.5h0.8v0.8h-0.8zM402.2 53.9h0.8v0.8h-0.8zM391.2 67.6h0.8v0.8h-0.8zM403.6 64.8h0.8v0.8h-0.8zM389.8 61.2h0.8v0.8h-0.8zM391.0 57.1h0.8v0.8h-0.8zM404.0 59.0h0.8v0.8h-0.8zM395.1 81.3h0.8v0.8h-0.8zM402.1 66.7h0.8v0.8h-0.8zM391.3 67.3h0.8v0.8h-0.8zM404.7 69.0h0.8v0.8h-0.8zM402.6 64.8h0.8v0.8h-0.8zM398.1 62.4h0.8v0.8h-0.8zM397.6 74.4h0.8v0.8h-0.8zM386.4 63.5h0.8v0.8h-0.8zM396.4 59.4h0.8v0.8h-0.8zM393.2 70.3h0.8v0.8h-0.8zM407.0 69.0h0.8v0.8h-0.8zM397.0 51.6h0.8v0.8h-0.8zM406.6 64.6h0.8v0.8h-0.8zM394.8 55.1h0.8v0.8h-0.8zM394.7 55.2h0.8v0.8h-0.8zM395.4 67.7h0.8v0.8h-0.8zM395.2 66.2h0.8v0.8h-0.8zM389.9 75.4h0.8v0.8h-0.8zM391.1 49.5h0.8v0.8h-0.8zM393.9 57.9h0.8v0.8h-0.8zM388.9 61.2h0.8v0.8h-0.8zM396.7 54.5h0.8v0.8h-0.8zM394.2 75.4h0.8v0.8h-0.8zM399.1 62.8h0.8v0.8h-0.8zM395.8 63.0h0.8v0.8h-0.8zM394.7 69.9h0.8v0.8h-0.8zM394.4 44.8h0.8v0.8h-0.8zM394.9 56.9h0.8v0.8h-0.8zM398.9 59.1h0.8v0.8h-0.8zM395.9 81.4h0.8v0.8h-0.8zM388.7 55.0h0.8v0.8h-0.8zM386.5 44.8h0.8v0.8h-0.8zM383.7 66.9h0.8v0.8h-0.8zM391.2 49.1h0.8v0.8h-0.8zM386.1 68.9h0.8v0.8h-0.8zM390.3 61.1h0.8v0.8h-0.8zM397.0 74.9h0.8v0.8h-0.8zM406.6 72.3h0.8v0.8h-0.8zM395.9 65.5h0.8v0.8h-0.8zM405.8 75.4h0.8v0.8h-0.8zM393.1 67.7h0.8v0.8h-0.8zM396.7 64.4h0.8v0.8h-0.8zM392.0 53.4h0.8v0.8h-0.8zM391.8 51.6h0.8v0.8h-0.8zM402.3 68.3h0.8v0.8h-0.8zM387.8 75.2h0.8v0.8h-0.8zM400.4 48.7h0.8v0.8h-0.8zM406.0 70.5h0.8v0.8h-0.8zM407.4 54.2h0.8v0.8h-0.8zM398.2 67.4h0.8v0.8h-0.8zM396.2 65.4h0.8v0.8h-0.8zM401.3 52.0h0.8v0.8h-0.8zM387.5 52.8h0.8v0.8h-0.8zM391.7 59.2h0.8v0.8h-0.8zM397.2 66.1h0.8v0.8h-0.8zM395.2 58.6h0.8v0.8h-0.8zM392.3 71.6h0.8v0.8h-0.8zM399.6 64.8h0.8v0.8h-0.8zM393.1 76.4h0.8v0.8h-0.8zM391.4 69.2h0.8v0.8h-0.8zM401.9 61.9h0.8v0.8h-0.8zM400.0 55.1h0.8v0.8h-0.8zM401.1 65.6h0.8v0.8h-0.8zM385.5 69.4h0.8v0.8h-0.8zM389.6 74.3h0.8v0.8h-0.8zM390.9 62.7h0.8v0.8h-0.8zM396.7 61.3h0.8v0.8h-0.8zM396.6 59.6h0.8v0.8h-0.8zM399.0 64.0h0.8v0.8h-0.8zM396.3 42.0h0.8v0.8h-0.8zM402.0 64.3h0.8v0.8h-0.8zM384.3 64.8h0.8v0.8h-0.8zM397.8 72.6h0.8v0.8h-0.8zM388.5 76.4h0.8v0.8h-0.8zM394.0 83.2h0.8v0.8h-0.8zM394.1 69.4h0.8v0.8h-0.8zM392.8 55.1h0.8v0.8h-0.8zM401.6 71.3h0.8v0.8h-0.8zM404.2 70.9h0.8v0.8h-0.8zM391.6 50.7h0.8v0.8h-0.8zM391.1 58.6h0.8v0.8h-0.8zM390.1 68.7h0.8v0.8h-0.8zM397.0 61.8h0.8v0.8h-0.8zM396.0 62.8h0.8v0.8h-0.8zM396.3 70.0h0.8v0.8h-0.8zM400.8 58.5h0.8v0.8h-0.8zM386.0 75.4h0.8v0.8h-0.8zM395.7 72.8h0.8v0.8h-0.8zM385.1 61.4h0.8v0.8h-0.8zM395.2 52.5h0.8v0.8h-0.8zM391.9 69.8h0.8v0.8h-0.8zM401.5 76.8h0.8v0.8h-0.8zM389.8 52.8h0.8v0.8h-0.8zM398.1 71.5h0.8v0.8h-0.8zM396.2 53.6h0.8v0.8h-0.8zM399.7 70.3h0.8v0.8h-0.8zM398.3 60.1h0.8v0.8h-0.8zM396.8 70.3h0.8v0.8h-0.8zM391.6 49.3h0.8v0.8h-0.8zM397.0 67.8h0.8v0.8h-0.8zM395.1 71.1h0.8v0.8h-0.8zM391.5 63.3h0.8v0.8h-0.8zM393.2 68.6h0.8v0.8h-0.8zM404.6 62.0h0.8v0.8h-0.8zM407.3 76.2h0.8v0.8h-0.8zM399.7 68.7h0.8v0.8h-0.8zM405.6 62.6h0.8v0.8h-0.8zM394.3 55.5h0.8v0.8h-0.8zM397.8 74.8h0.8v0.8h-0.8zM398.2 67.4h0.8v0.8h-0.8zM393.8 65.4h0.8v0.8h-0.8zM386.4 72.4h0.8v0.8h-0.8zM392.5 55.2h0.8v0.8h-0.8zM390.5 57.4h0.8v0.8h-0.8zM400.1 72.5h0.8v0.8h-0.8zM386.9 71.4h0.8v0.8h-0.8zM400.3 59.4h0.8v0.8h-0.8zM386.1 58.0h0.8v0.8h-0.8zM391.2 66.7h0.8v0.8h-0.8zM392.9 47.8h0.8v0.8h-0.8zM396.4 51.7h0.8v0.8h-0.8zM400.4 54.3h0.8v0.8h-0.8zM390.8 57.2h0.8v0.8h-0.8zM391.7 74.4h0.8v0.8h-0.8zM400.1 68.8h0.8v0.8h-0.8zM396.9 51.6h0.8v0.8h-0.8zM391.9 59.6h0.8v0.8h-0.8zM389.1 68.1h0.8v0.8h-0.8zM390.6 58.3h0.8v0.8h-0.8zM388.7 47.5h0.8v0.8h-0.8zM398.6 74.6h0.8v0.8h-0.8z" fill="#4060c8" fill-opacity="0.35"/>
<g filter="url(#bl4)">
<polygon points="382,50 390,51 398,53 404,58 405,66 401,72 394,73 388,68 384,60" fill="#5a78d0" fill-opacity="0.55"/>
<polygon points="385,52.5 392,53 399,55 402.5,60 402.5,66 399,70 393,70.5 389,66 386,59" fill="#3aa8d8" fill-opacity="0.8"/>
<polygon points="388.5,55 394,55 399.5,57 401,62 400,67 395,68.5 391,65 389,60" fill="#4cbf48" fill-opacity="0.95"/>
<ellipse cx="396.3" cy="61.5" rx="3.9" ry="4.3" fill="#d8dc30" fill-opacity="0.95"/>
<ellipse cx="396.8" cy="61.6" rx="2.4" ry="2.7" fill="#f09020" fill-opacity="0.95"/>
<ellipse cx="397" cy="61.6" rx="1.3" ry="1.5" fill="#e83018" fill-opacity="0.9"/>
</g>
<polygon points="445,63 460,57 478,52 490,48 492,57 478,59 462,64 458,95 451,97 447,80" fill="#c8cdf0" fill-opacity="0.35" filter="url(#bl3)"/>
<path d="M479.4 55.0h0.8v0.8h-0.8zM490.1 51.7h0.8v0.8h-0.8zM453.5 51.0h0.8v0.8h-0.8zM469.9 57.5h0.8v0.8h-0.8zM469.6 51.1h0.8v0.8h-0.8zM474.7 50.5h0.8v0.8h-0.8zM464.7 55.4h0.8v0.8h-0.8zM474.8 56.9h0.8v0.8h-0.8zM452.3 58.5h0.8v0.8h-0.8zM448.3 62.7h0.8v0.8h-0.8zM445.7 61.5h0.8v0.8h-0.8zM476.3 55.4h0.8v0.8h-0.8zM455.8 50.3h0.8v0.8h-0.8zM469.5 60.6h0.8v0.8h-0.8zM463.4 57.9h0.8v0.8h-0.8zM480.7 48.4h0.8v0.8h-0.8zM466.0 54.7h0.8v0.8h-0.8zM487.6 54.5h0.8v0.8h-0.8zM482.5 48.9h0.8v0.8h-0.8zM458.5 56.7h0.8v0.8h-0.8zM481.5 57.0h0.8v0.8h-0.8zM457.2 59.2h0.8v0.8h-0.8zM464.8 56.2h0.8v0.8h-0.8zM477.6 55.5h0.8v0.8h-0.8zM458.3 57.6h0.8v0.8h-0.8zM473.5 51.4h0.8v0.8h-0.8zM487.1 50.3h0.8v0.8h-0.8zM483.8 49.0h0.8v0.8h-0.8zM452.8 54.7h0.8v0.8h-0.8zM449.0 60.4h0.8v0.8h-0.8zM474.9 55.2h0.8v0.8h-0.8zM452.5 64.2h0.8v0.8h-0.8zM462.4 62.4h0.8v0.8h-0.8zM481.8 58.3h0.8v0.8h-0.8zM473.0 49.6h0.8v0.8h-0.8zM485.8 45.6h0.8v0.8h-0.8zM454.3 54.4h0.8v0.8h-0.8zM476.8 55.4h0.8v0.8h-0.8zM470.4 57.1h0.8v0.8h-0.8zM451.8 58.7h0.8v0.8h-0.8zM467.2 58.5h0.8v0.8h-0.8zM466.1 53.7h0.8v0.8h-0.8zM446.9 56.9h0.8v0.8h-0.8zM469.8 49.4h0.8v0.8h-0.8zM460.4 60.4h0.8v0.8h-0.8zM448.4 55.8h0.8v0.8h-0.8zM446.1 56.6h0.8v0.8h-0.8zM485.7 59.1h0.8v0.8h-0.8zM466.4 55.8h0.8v0.8h-0.8zM447.2 55.3h0.8v0.8h-0.8zM461.5 54.4h0.8v0.8h-0.8zM465.3 54.6h0.8v0.8h-0.8zM454.3 59.3h0.8v0.8h-0.8zM470.7 52.4h0.8v0.8h-0.8zM481.5 54.3h0.8v0.8h-0.8zM455.3 57.1h0.8v0.8h-0.8zM475.0 51.0h0.8v0.8h-0.8zM459.6 61.0h0.8v0.8h-0.8zM474.0 53.1h0.8v0.8h-0.8zM478.7 50.5h0.8v0.8h-0.8zM448.2 59.9h0.8v0.8h-0.8zM455.5 56.1h0.8v0.8h-0.8zM475.5 46.9h0.8v0.8h-0.8zM471.9 51.2h0.8v0.8h-0.8zM475.4 50.6h0.8v0.8h-0.8zM454.8 54.9h0.8v0.8h-0.8zM480.0 54.0h0.8v0.8h-0.8zM448.0 52.6h0.8v0.8h-0.8zM473.6 58.1h0.8v0.8h-0.8zM479.9 51.6h0.8v0.8h-0.8zM458.5 58.5h0.8v0.8h-0.8zM463.5 50.1h0.8v0.8h-0.8zM448.2 59.1h0.8v0.8h-0.8zM451.7 55.0h0.8v0.8h-0.8zM486.3 51.5h0.8v0.8h-0.8zM461.1 52.2h0.8v0.8h-0.8zM488.2 51.2h0.8v0.8h-0.8zM450.1 57.3h0.8v0.8h-0.8zM452.8 58.6h0.8v0.8h-0.8zM477.9 59.3h0.8v0.8h-0.8zM450.2 57.9h0.8v0.8h-0.8zM446.6 57.5h0.8v0.8h-0.8zM478.4 54.0h0.8v0.8h-0.8zM479.6 46.5h0.8v0.8h-0.8zM479.3 55.3h0.8v0.8h-0.8zM475.0 55.1h0.8v0.8h-0.8zM458.7 56.5h0.8v0.8h-0.8zM447.9 60.3h0.8v0.8h-0.8zM482.7 53.6h0.8v0.8h-0.8zM479.1 58.6h0.8v0.8h-0.8zM468.3 56.5h0.8v0.8h-0.8zM470.0 56.3h0.8v0.8h-0.8zM452.6 55.7h0.8v0.8h-0.8zM473.7 51.5h0.8v0.8h-0.8zM463.5 48.8h0.8v0.8h-0.8zM479.8 51.5h0.8v0.8h-0.8zM450.1 58.6h0.8v0.8h-0.8zM481.8 55.9h0.8v0.8h-0.8zM489.6 46.9h0.8v0.8h-0.8zM457.8 60.0h0.8v0.8h-0.8zM462.1 52.4h0.8v0.8h-0.8zM485.7 49.0h0.8v0.8h-0.8zM446.0 63.3h0.8v0.8h-0.8zM472.6 48.3h0.8v0.8h-0.8zM448.7 54.5h0.8v0.8h-0.8zM483.5 50.6h0.8v0.8h-0.8zM484.0 47.4h0.8v0.8h-0.8zM486.0 52.4h0.8v0.8h-0.8zM470.6 52.7h0.8v0.8h-0.8zM479.6 51.9h0.8v0.8h-0.8zM472.2 51.0h0.8v0.8h-0.8zM455.0 63.4h0.8v0.8h-0.8zM480.4 52.8h0.8v0.8h-0.8zM481.6 50.0h0.8v0.8h-0.8zM473.1 50.5h0.8v0.8h-0.8zM467.7 55.7h0.8v0.8h-0.8zM454.5 60.1h0.8v0.8h-0.8zM476.0 56.5h0.8v0.8h-0.8zM463.2 56.0h0.8v0.8h-0.8zM448.9 59.5h0.8v0.8h-0.8zM449.5 54.8h0.8v0.8h-0.8zM452.1 56.8h0.8v0.8h-0.8zM469.1 55.2h0.8v0.8h-0.8zM490.3 47.8h0.8v0.8h-0.8zM470.8 60.2h0.8v0.8h-0.8zM466.3 54.2h0.8v0.8h-0.8zM482.7 51.7h0.8v0.8h-0.8zM447.9 61.6h0.8v0.8h-0.8zM450.8 60.5h0.8v0.8h-0.8zM482.1 53.7h0.8v0.8h-0.8zM487.2 53.1h0.8v0.8h-0.8zM465.3 61.8h0.8v0.8h-0.8zM456.1 55.8h0.8v0.8h-0.8zM487.6 48.1h0.8v0.8h-0.8zM467.1 62.8h0.8v0.8h-0.8zM489.7 51.5h0.8v0.8h-0.8zM456.0 63.1h0.8v0.8h-0.8zM486.0 50.6h0.8v0.8h-0.8zM480.3 48.1h0.8v0.8h-0.8zM489.9 51.3h0.8v0.8h-0.8zM480.6 51.0h0.8v0.8h-0.8zM457.8 54.2h0.8v0.8h-0.8zM450.3 61.2h0.8v0.8h-0.8zM450.9 59.0h0.8v0.8h-0.8zM457.4 61.5h0.8v0.8h-0.8zM446.4 57.8h0.8v0.8h-0.8zM448.2 58.7h0.8v0.8h-0.8zM488.4 46.1h0.8v0.8h-0.8zM451.7 59.1h0.8v0.8h-0.8zM487.6 47.4h0.8v0.8h-0.8zM464.9 60.7h0.8v0.8h-0.8zM466.6 54.2h0.8v0.8h-0.8zM457.2 59.7h0.8v0.8h-0.8zM471.5 59.9h0.8v0.8h-0.8zM457.2 58.4h0.8v0.8h-0.8zM458.4 55.0h0.8v0.8h-0.8zM452.5 58.6h0.8v0.8h-0.8zM487.7 57.3h0.8v0.8h-0.8zM449.6 56.5h0.8v0.8h-0.8zM454.5 58.4h0.8v0.8h-0.8zM457.6 60.5h0.8v0.8h-0.8zM491.8 50.5h0.8v0.8h-0.8zM449.8 65.7h0.8v0.8h-0.8zM448.4 56.8h0.8v0.8h-0.8zM490.8 51.3h0.8v0.8h-0.8zM461.0 56.9h0.8v0.8h-0.8zM482.0 51.8h0.8v0.8h-0.8zM465.7 54.7h0.8v0.8h-0.8zM471.5 56.1h0.8v0.8h-0.8zM479.7 50.6h0.8v0.8h-0.8zM450.6 61.5h0.8v0.8h-0.8zM467.7 57.4h0.8v0.8h-0.8zM472.5 48.5h0.8v0.8h-0.8zM471.8 55.6h0.8v0.8h-0.8zM477.0 55.8h0.8v0.8h-0.8zM448.8 56.8h0.8v0.8h-0.8zM483.8 49.2h0.8v0.8h-0.8zM447.6 57.9h0.8v0.8h-0.8zM484.3 53.8h0.8v0.8h-0.8zM482.2 53.5h0.8v0.8h-0.8zM462.3 56.3h0.8v0.8h-0.8zM467.8 56.3h0.8v0.8h-0.8zM450.9 53.1h0.8v0.8h-0.8zM483.4 56.3h0.8v0.8h-0.8zM462.8 55.2h0.8v0.8h-0.8zM485.5 50.6h0.8v0.8h-0.8zM467.4 54.4h0.8v0.8h-0.8zM447.6 59.3h0.8v0.8h-0.8zM454.6 59.7h0.8v0.8h-0.8zM482.4 52.5h0.8v0.8h-0.8zM476.8 53.9h0.8v0.8h-0.8zM471.3 52.5h0.8v0.8h-0.8zM478.5 57.2h0.8v0.8h-0.8zM478.0 53.6h0.8v0.8h-0.8zM466.9 55.3h0.8v0.8h-0.8zM450.9 59.8h0.8v0.8h-0.8zM472.4 53.0h0.8v0.8h-0.8zM471.2 52.6h0.8v0.8h-0.8zM483.2 50.9h0.8v0.8h-0.8zM465.1 52.7h0.8v0.8h-0.8zM465.0 54.2h0.8v0.8h-0.8zM460.9 59.7h0.8v0.8h-0.8zM466.9 55.2h0.8v0.8h-0.8zM486.9 45.6h0.8v0.8h-0.8zM446.0 58.6h0.8v0.8h-0.8zM487.1 54.5h0.8v0.8h-0.8zM473.1 57.0h0.8v0.8h-0.8zM448.0 60.9h0.8v0.8h-0.8zM448.5 66.3h0.8v0.8h-0.8zM481.4 50.9h0.8v0.8h-0.8zM483.1 47.9h0.8v0.8h-0.8zM447.0 57.7h0.8v0.8h-0.8zM475.7 57.5h0.8v0.8h-0.8zM486.1 49.5h0.8v0.8h-0.8zM466.7 58.2h0.8v0.8h-0.8zM458.2 61.6h0.8v0.8h-0.8zM449.3 54.4h0.8v0.8h-0.8zM468.5 58.7h0.8v0.8h-0.8zM469.8 56.3h0.8v0.8h-0.8zM451.5 61.9h0.8v0.8h-0.8zM458.7 58.6h0.8v0.8h-0.8zM470.7 51.1h0.8v0.8h-0.8zM470.7 52.8h0.8v0.8h-0.8zM476.1 54.2h0.8v0.8h-0.8zM472.2 54.7h0.8v0.8h-0.8zM456.9 61.5h0.8v0.8h-0.8zM462.7 56.1h0.8v0.8h-0.8zM462.0 54.8h0.8v0.8h-0.8zM469.7 54.9h0.8v0.8h-0.8zM489.0 55.9h0.8v0.8h-0.8zM454.8 61.1h0.8v0.8h-0.8zM466.2 57.0h0.8v0.8h-0.8zM465.3 54.3h0.8v0.8h-0.8zM457.4 56.5h0.8v0.8h-0.8zM452.3 61.1h0.8v0.8h-0.8zM474.3 49.4h0.8v0.8h-0.8zM480.6 51.6h0.8v0.8h-0.8zM478.8 49.3h0.8v0.8h-0.8zM480.0 45.7h0.8v0.8h-0.8zM451.7 58.6h0.8v0.8h-0.8zM478.7 50.8h0.8v0.8h-0.8zM487.5 49.4h0.8v0.8h-0.8zM481.4 49.4h0.8v0.8h-0.8zM461.7 57.4h0.8v0.8h-0.8zM477.6 56.2h0.8v0.8h-0.8zM469.8 56.6h0.8v0.8h-0.8zM481.3 49.5h0.8v0.8h-0.8zM465.9 58.3h0.8v0.8h-0.8zM451.3 56.7h0.8v0.8h-0.8zM450.6 57.8h0.8v0.8h-0.8zM484.4 45.1h0.8v0.8h-0.8zM453.1 61.2h0.8v0.8h-0.8zM447.7 61.1h0.8v0.8h-0.8zM469.3 52.6h0.8v0.8h-0.8zM470.9 54.8h0.8v0.8h-0.8zM468.4 52.2h0.8v0.8h-0.8zM461.0 54.9h0.8v0.8h-0.8zM487.2 47.5h0.8v0.8h-0.8zM449.7 61.4h0.8v0.8h-0.8zM468.9 51.7h0.8v0.8h-0.8zM487.4 51.1h0.8v0.8h-0.8zM474.4 54.0h0.8v0.8h-0.8zM469.6 53.2h0.8v0.8h-0.8zM461.8 56.2h0.8v0.8h-0.8zM470.1 59.5h0.8v0.8h-0.8zM477.6 44.6h0.8v0.8h-0.8zM484.6 52.5h0.8v0.8h-0.8zM457.6 57.0h0.8v0.8h-0.8zM454.8 62.3h0.8v0.8h-0.8zM470.7 62.4h0.8v0.8h-0.8zM475.0 54.8h0.8v0.8h-0.8zM480.1 57.1h0.8v0.8h-0.8zM445.6 65.8h0.8v0.8h-0.8zM471.5 52.6h0.8v0.8h-0.8zM467.2 54.4h0.8v0.8h-0.8zM471.2 51.7h0.8v0.8h-0.8zM470.9 55.4h0.8v0.8h-0.8zM452.9 57.0h0.8v0.8h-0.8zM451.0 62.5h0.8v0.8h-0.8zM480.9 48.4h0.8v0.8h-0.8zM450.4 59.8h0.8v0.8h-0.8zM460.0 54.0h0.8v0.8h-0.8zM453.4 59.8h0.8v0.8h-0.8zM485.0 49.9h0.8v0.8h-0.8zM465.6 56.4h0.8v0.8h-0.8zM483.1 47.5h0.8v0.8h-0.8zM464.8 54.2h0.8v0.8h-0.8zM449.6 56.9h0.8v0.8h-0.8zM461.3 53.5h0.8v0.8h-0.8zM457.4 52.2h0.8v0.8h-0.8zM468.5 54.6h0.8v0.8h-0.8zM463.0 54.1h0.8v0.8h-0.8zM460.4 54.5h0.8v0.8h-0.8zM480.9 54.4h0.8v0.8h-0.8zM462.8 64.5h0.8v0.8h-0.8zM458.4 56.6h0.8v0.8h-0.8zM468.8 57.1h0.8v0.8h-0.8zM450.2 63.6h0.8v0.8h-0.8zM461.5 58.7h0.8v0.8h-0.8zM458.5 58.2h0.8v0.8h-0.8zM474.9 55.3h0.8v0.8h-0.8zM477.7 54.7h0.8v0.8h-0.8zM483.5 54.6h0.8v0.8h-0.8zM483.0 50.3h0.8v0.8h-0.8zM461.4 53.6h0.8v0.8h-0.8zM488.8 58.5h0.8v0.8h-0.8zM468.4 58.7h0.8v0.8h-0.8zM451.6 56.4h0.8v0.8h-0.8zM484.8 49.9h0.8v0.8h-0.8zM456.3 56.3h0.8v0.8h-0.8zM485.2 54.4h0.8v0.8h-0.8zM469.7 60.3h0.8v0.8h-0.8zM462.2 52.9h0.8v0.8h-0.8zM459.4 57.9h0.8v0.8h-0.8zM454.3 56.1h0.8v0.8h-0.8zM476.1 56.3h0.8v0.8h-0.8zM461.1 56.6h0.8v0.8h-0.8zM448.6 61.5h0.8v0.8h-0.8zM451.4 56.3h0.8v0.8h-0.8zM465.1 53.2h0.8v0.8h-0.8z" fill="#5060c0" fill-opacity="0.35"/>
<path d="M460.2 68.6h0.8v0.8h-0.8zM456.9 87.9h0.8v0.8h-0.8zM460.2 84.8h0.8v0.8h-0.8zM453.3 74.0h0.8v0.8h-0.8zM450.6 89.7h0.8v0.8h-0.8zM454.2 74.8h0.8v0.8h-0.8zM456.9 74.4h0.8v0.8h-0.8zM453.5 77.4h0.8v0.8h-0.8zM460.8 96.6h0.8v0.8h-0.8zM454.4 66.3h0.8v0.8h-0.8zM456.0 82.7h0.8v0.8h-0.8zM456.2 87.7h0.8v0.8h-0.8zM453.9 91.3h0.8v0.8h-0.8zM457.9 84.1h0.8v0.8h-0.8zM453.6 77.2h0.8v0.8h-0.8zM457.4 71.0h0.8v0.8h-0.8zM454.4 74.5h0.8v0.8h-0.8zM450.1 88.0h0.8v0.8h-0.8zM454.9 82.4h0.8v0.8h-0.8zM458.1 67.1h0.8v0.8h-0.8zM454.8 84.9h0.8v0.8h-0.8zM457.9 71.2h0.8v0.8h-0.8zM457.5 84.2h0.8v0.8h-0.8zM459.7 93.4h0.8v0.8h-0.8zM456.9 103.5h0.8v0.8h-0.8zM455.0 77.8h0.8v0.8h-0.8zM453.8 72.6h0.8v0.8h-0.8zM454.9 63.2h0.8v0.8h-0.8zM454.7 86.3h0.8v0.8h-0.8zM458.5 78.5h0.8v0.8h-0.8zM459.9 75.5h0.8v0.8h-0.8zM454.5 63.2h0.8v0.8h-0.8zM452.3 74.1h0.8v0.8h-0.8zM460.1 87.2h0.8v0.8h-0.8zM451.2 87.2h0.8v0.8h-0.8zM456.6 79.7h0.8v0.8h-0.8zM455.1 79.0h0.8v0.8h-0.8zM453.1 64.7h0.8v0.8h-0.8zM454.7 94.5h0.8v0.8h-0.8zM459.9 79.3h0.8v0.8h-0.8zM452.4 79.9h0.8v0.8h-0.8zM458.1 85.4h0.8v0.8h-0.8zM453.0 85.5h0.8v0.8h-0.8zM454.3 87.0h0.8v0.8h-0.8zM453.6 67.6h0.8v0.8h-0.8zM455.2 89.4h0.8v0.8h-0.8zM451.2 81.0h0.8v0.8h-0.8zM458.0 78.3h0.8v0.8h-0.8zM452.8 101.8h0.8v0.8h-0.8zM457.8 92.0h0.8v0.8h-0.8zM451.8 97.9h0.8v0.8h-0.8zM449.4 77.0h0.8v0.8h-0.8zM457.5 95.0h0.8v0.8h-0.8zM451.8 75.5h0.8v0.8h-0.8zM455.7 63.2h0.8v0.8h-0.8zM457.2 87.4h0.8v0.8h-0.8zM453.5 87.2h0.8v0.8h-0.8zM457.6 85.0h0.8v0.8h-0.8zM456.8 96.7h0.8v0.8h-0.8zM453.4 83.6h0.8v0.8h-0.8z" fill="#7080d0" fill-opacity="0.22"/>
<path d="M496.0 60.0h0.8v0.8h-0.8zM496.6 56.8h0.8v0.8h-0.8zM499.8 54.4h0.8v0.8h-0.8zM509.0 53.5h0.8v0.8h-0.8zM507.2 58.8h0.8v0.8h-0.8zM506.7 53.0h0.8v0.8h-0.8zM504.4 58.4h0.8v0.8h-0.8zM495.4 55.6h0.8v0.8h-0.8zM498.3 53.8h0.8v0.8h-0.8zM506.6 49.8h0.8v0.8h-0.8zM489.2 43.9h0.8v0.8h-0.8zM496.4 50.3h0.8v0.8h-0.8zM499.1 57.3h0.8v0.8h-0.8zM509.2 55.8h0.8v0.8h-0.8zM501.7 49.7h0.8v0.8h-0.8zM502.4 61.9h0.8v0.8h-0.8zM506.8 42.7h0.8v0.8h-0.8zM504.2 63.2h0.8v0.8h-0.8zM503.8 45.4h0.8v0.8h-0.8zM497.2 57.4h0.8v0.8h-0.8zM501.4 49.3h0.8v0.8h-0.8zM493.9 59.6h0.8v0.8h-0.8zM491.3 62.3h0.8v0.8h-0.8zM499.1 55.7h0.8v0.8h-0.8zM491.3 50.6h0.8v0.8h-0.8zM503.0 45.5h0.8v0.8h-0.8zM511.0 45.9h0.8v0.8h-0.8zM491.9 54.2h0.8v0.8h-0.8zM501.8 58.2h0.8v0.8h-0.8zM496.9 52.8h0.8v0.8h-0.8zM497.6 50.7h0.8v0.8h-0.8zM484.1 59.5h0.8v0.8h-0.8zM500.4 54.9h0.8v0.8h-0.8zM495.4 55.4h0.8v0.8h-0.8zM498.9 53.6h0.8v0.8h-0.8zM505.4 44.1h0.8v0.8h-0.8zM500.5 47.9h0.8v0.8h-0.8zM497.2 62.6h0.8v0.8h-0.8zM492.8 53.4h0.8v0.8h-0.8zM495.6 59.5h0.8v0.8h-0.8zM493.4 44.3h0.8v0.8h-0.8zM502.0 52.0h0.8v0.8h-0.8zM497.2 60.2h0.8v0.8h-0.8zM493.9 51.8h0.8v0.8h-0.8zM499.9 56.4h0.8v0.8h-0.8zM496.0 60.0h0.8v0.8h-0.8zM511.9 51.6h0.8v0.8h-0.8zM509.8 41.8h0.8v0.8h-0.8zM507.1 52.0h0.8v0.8h-0.8zM499.8 52.0h0.8v0.8h-0.8zM495.3 46.6h0.8v0.8h-0.8zM496.7 61.5h0.8v0.8h-0.8zM505.6 52.0h0.8v0.8h-0.8zM496.0 50.0h0.8v0.8h-0.8zM492.1 64.4h0.8v0.8h-0.8zM502.8 54.7h0.8v0.8h-0.8zM496.2 48.1h0.8v0.8h-0.8zM506.6 58.5h0.8v0.8h-0.8zM493.5 59.7h0.8v0.8h-0.8zM492.6 57.7h0.8v0.8h-0.8zM493.5 51.6h0.8v0.8h-0.8zM501.9 56.5h0.8v0.8h-0.8zM504.8 49.2h0.8v0.8h-0.8zM508.1 61.7h0.8v0.8h-0.8zM498.9 56.7h0.8v0.8h-0.8zM494.5 53.1h0.8v0.8h-0.8zM491.4 54.5h0.8v0.8h-0.8zM500.1 61.7h0.8v0.8h-0.8zM504.5 58.7h0.8v0.8h-0.8zM496.9 52.7h0.8v0.8h-0.8zM497.0 55.3h0.8v0.8h-0.8zM487.9 58.4h0.8v0.8h-0.8zM490.0 51.0h0.8v0.8h-0.8zM499.1 51.0h0.8v0.8h-0.8zM508.6 53.4h0.8v0.8h-0.8zM508.1 60.8h0.8v0.8h-0.8zM496.1 56.3h0.8v0.8h-0.8zM506.5 52.1h0.8v0.8h-0.8zM499.5 50.8h0.8v0.8h-0.8zM499.3 52.0h0.8v0.8h-0.8zM499.5 59.8h0.8v0.8h-0.8zM507.0 54.8h0.8v0.8h-0.8zM500.2 58.9h0.8v0.8h-0.8zM497.3 47.9h0.8v0.8h-0.8zM505.4 48.6h0.8v0.8h-0.8zM504.4 48.4h0.8v0.8h-0.8zM509.5 48.0h0.8v0.8h-0.8zM503.9 62.6h0.8v0.8h-0.8zM493.5 62.6h0.8v0.8h-0.8zM494.3 43.8h0.8v0.8h-0.8zM503.2 58.0h0.8v0.8h-0.8zM498.7 52.2h0.8v0.8h-0.8zM496.8 52.3h0.8v0.8h-0.8zM488.7 50.7h0.8v0.8h-0.8zM509.4 62.9h0.8v0.8h-0.8zM496.9 49.9h0.8v0.8h-0.8zM501.3 60.1h0.8v0.8h-0.8zM503.2 47.3h0.8v0.8h-0.8zM499.9 54.8h0.8v0.8h-0.8zM507.3 60.9h0.8v0.8h-0.8zM502.0 61.0h0.8v0.8h-0.8zM496.7 62.9h0.8v0.8h-0.8zM496.5 56.3h0.8v0.8h-0.8zM504.3 48.7h0.8v0.8h-0.8zM495.0 43.9h0.8v0.8h-0.8zM499.9 53.7h0.8v0.8h-0.8zM497.1 56.9h0.8v0.8h-0.8zM486.8 53.9h0.8v0.8h-0.8zM499.5 52.5h0.8v0.8h-0.8zM503.6 64.1h0.8v0.8h-0.8zM496.4 48.6h0.8v0.8h-0.8zM495.5 54.5h0.8v0.8h-0.8zM502.4 49.0h0.8v0.8h-0.8zM504.8 48.1h0.8v0.8h-0.8zM503.8 56.5h0.8v0.8h-0.8zM501.7 66.4h0.8v0.8h-0.8zM497.5 53.0h0.8v0.8h-0.8zM501.7 59.0h0.8v0.8h-0.8zM491.3 55.6h0.8v0.8h-0.8zM494.7 57.6h0.8v0.8h-0.8zM506.9 54.3h0.8v0.8h-0.8zM498.4 55.1h0.8v0.8h-0.8zM482.0 58.4h0.8v0.8h-0.8zM502.2 54.9h0.8v0.8h-0.8zM496.7 49.8h0.8v0.8h-0.8zM498.0 61.0h0.8v0.8h-0.8zM498.4 61.8h0.8v0.8h-0.8zM484.2 51.4h0.8v0.8h-0.8zM500.6 53.9h0.8v0.8h-0.8zM489.4 50.2h0.8v0.8h-0.8zM506.2 46.6h0.8v0.8h-0.8zM493.3 47.7h0.8v0.8h-0.8zM495.8 57.7h0.8v0.8h-0.8zM502.4 42.3h0.8v0.8h-0.8zM507.4 50.6h0.8v0.8h-0.8zM495.6 63.6h0.8v0.8h-0.8zM498.5 46.9h0.8v0.8h-0.8zM495.3 49.8h0.8v0.8h-0.8zM493.2 52.1h0.8v0.8h-0.8zM504.1 56.0h0.8v0.8h-0.8zM491.0 70.1h0.8v0.8h-0.8zM493.3 54.7h0.8v0.8h-0.8zM499.2 58.4h0.8v0.8h-0.8zM497.1 56.6h0.8v0.8h-0.8zM511.1 54.6h0.8v0.8h-0.8zM492.8 55.9h0.8v0.8h-0.8zM494.4 51.9h0.8v0.8h-0.8zM500.1 55.9h0.8v0.8h-0.8zM497.4 58.9h0.8v0.8h-0.8zM497.9 46.5h0.8v0.8h-0.8zM504.1 51.9h0.8v0.8h-0.8zM506.0 50.2h0.8v0.8h-0.8zM502.3 55.8h0.8v0.8h-0.8zM483.5 45.4h0.8v0.8h-0.8zM492.6 62.1h0.8v0.8h-0.8zM488.1 59.3h0.8v0.8h-0.8zM505.3 56.9h0.8v0.8h-0.8zM502.9 51.1h0.8v0.8h-0.8zM498.9 55.3h0.8v0.8h-0.8zM501.4 58.1h0.8v0.8h-0.8zM497.8 50.0h0.8v0.8h-0.8zM495.8 56.4h0.8v0.8h-0.8zM489.4 46.8h0.8v0.8h-0.8zM496.6 50.8h0.8v0.8h-0.8zM497.0 52.6h0.8v0.8h-0.8zM503.5 42.6h0.8v0.8h-0.8zM497.2 56.7h0.8v0.8h-0.8zM501.8 60.9h0.8v0.8h-0.8zM505.1 48.0h0.8v0.8h-0.8zM502.7 52.1h0.8v0.8h-0.8zM494.4 62.8h0.8v0.8h-0.8zM495.4 49.1h0.8v0.8h-0.8zM496.6 49.1h0.8v0.8h-0.8zM504.8 56.2h0.8v0.8h-0.8zM507.1 56.4h0.8v0.8h-0.8zM495.5 60.0h0.8v0.8h-0.8zM495.2 51.3h0.8v0.8h-0.8zM498.0 54.2h0.8v0.8h-0.8zM505.9 50.5h0.8v0.8h-0.8zM501.0 53.8h0.8v0.8h-0.8zM491.7 47.7h0.8v0.8h-0.8zM497.7 56.3h0.8v0.8h-0.8zM500.9 56.8h0.8v0.8h-0.8zM499.3 51.4h0.8v0.8h-0.8zM501.5 48.2h0.8v0.8h-0.8zM491.2 52.1h0.8v0.8h-0.8zM490.7 51.0h0.8v0.8h-0.8zM494.7 50.8h0.8v0.8h-0.8zM498.7 49.4h0.8v0.8h-0.8zM496.6 44.1h0.8v0.8h-0.8zM499.8 48.9h0.8v0.8h-0.8zM494.4 55.4h0.8v0.8h-0.8zM484.9 51.9h0.8v0.8h-0.8zM499.5 54.6h0.8v0.8h-0.8zM490.3 55.3h0.8v0.8h-0.8zM499.9 48.4h0.8v0.8h-0.8zM503.3 53.7h0.8v0.8h-0.8zM499.1 51.4h0.8v0.8h-0.8zM502.2 54.6h0.8v0.8h-0.8zM505.6 56.6h0.8v0.8h-0.8z" fill="#4060c8" fill-opacity="0.35"/>
<g filter="url(#bl4)">
<polygon points="486,47 494,45 504,44.5 509,47 510,54 507,61 500,63 492,59 487,53" fill="#5a78d0" fill-opacity="0.55"/>
<polygon points="489,48.5 496,46.5 504,46.5 507.5,49 508,55 505,59.5 499,61 493,57 490,52" fill="#3aa8d8" fill-opacity="0.8"/>
<polygon points="491.5,49.5 497,47.8 503.5,48 506.5,51 506,56 502,59 497,58.5 493,55" fill="#4cbf48" fill-opacity="0.95"/>
<ellipse cx="500" cy="52.3" rx="4.2" ry="3.7" fill="#d8dc30" fill-opacity="0.95"/>
<ellipse cx="500.3" cy="52.5" rx="2.6" ry="2.3" fill="#f09020" fill-opacity="0.95"/>
<ellipse cx="500.5" cy="52.5" rx="1.4" ry="1.3" fill="#e83018" fill-opacity="0.9"/>
</g>
<g stroke="#1a1a1a" stroke-width="0.9" fill="none"><rect x="337.8" y="39.4" width="73.5" height="67.1"/><line x1="378.5" y1="39.4" x2="378.5" y2="106.5"/><line x1="337.8" y1="72.4" x2="411.3" y2="72.4"/><line x1="337.8" y1="86.3" x2="411.3" y2="86.3"/></g>
<rect x="337.8" y="27.8" width="77.89999999999998" height="78.7" fill="none" stroke="#1a1a1a" stroke-width="1.3"/>
<text x="339.60" y="46.12" font-size="5.6" fill="#1a1a1a" text-anchor="start" stroke="#1a1a1a" stroke-width="0.22" >R2</text>
<text x="339.60" y="53.62" font-size="5.6" fill="#1a1a1a" text-anchor="start" stroke="#1a1a1a" stroke-width="0.22" >5.5</text>
<text x="410.10" y="46.12" font-size="5.6" fill="#1a1a1a" text-anchor="end" stroke="#1a1a1a" stroke-width="0.22" >R3</text>
<text x="410.10" y="53.62" font-size="5.6" fill="#1a1a1a" text-anchor="end" stroke="#1a1a1a" stroke-width="0.22" >85.2</text>
<text x="339.60" y="78.22" font-size="5.6" fill="#1a1a1a" text-anchor="start" stroke="#1a1a1a" stroke-width="0.22" >R1</text>
<text x="339.60" y="85.22" font-size="5.6" fill="#1a1a1a" text-anchor="start" stroke="#1a1a1a" stroke-width="0.22" >3.1</text>
<text x="410.10" y="78.22" font-size="5.6" fill="#1a1a1a" text-anchor="end" stroke="#1a1a1a" stroke-width="0.22" >R4</text>
<text x="410.10" y="85.22" font-size="5.6" fill="#1a1a1a" text-anchor="end" stroke="#1a1a1a" stroke-width="0.22" >3.4</text>
<text x="339.60" y="96.02" font-size="5.6" fill="#1a1a1a" text-anchor="start" stroke="#1a1a1a" stroke-width="0.22" >R0</text>
<text x="339.60" y="104.52" font-size="5.6" fill="#1a1a1a" text-anchor="start" stroke="#1a1a1a" stroke-width="0.22" >1.7</text>
<text x="410.10" y="96.02" font-size="5.6" fill="#1a1a1a" text-anchor="end" stroke="#1a1a1a" stroke-width="0.22" >R5</text>
<text x="410.10" y="104.52" font-size="5.6" fill="#1a1a1a" text-anchor="end" stroke="#1a1a1a" stroke-width="0.22" >1.00</text>
<g stroke="#1a1a1a" stroke-width="0.9" fill="none"><rect x="439.5" y="39.2" width="74.39999999999998" height="68.0"/><line x1="479.7" y1="39.2" x2="479.7" y2="107.2"/><line x1="439.5" y1="72.1" x2="513.9" y2="72.1"/><line x1="439.5" y1="86" x2="513.9" y2="86"/></g>
<rect x="439.5" y="27.6" width="77.0" height="79.6" fill="none" stroke="#1a1a1a" stroke-width="1.3"/>
<text x="441.30" y="45.92" font-size="5.6" fill="#1a1a1a" text-anchor="start" stroke="#1a1a1a" stroke-width="0.22" >R2</text>
<text x="441.30" y="53.42" font-size="5.6" fill="#1a1a1a" text-anchor="start" stroke="#1a1a1a" stroke-width="0.22" >9.2</text>
<text x="512.70" y="45.92" font-size="5.6" fill="#1a1a1a" text-anchor="end" stroke="#1a1a1a" stroke-width="0.22" >R3</text>
<text x="512.70" y="53.42" font-size="5.6" fill="#1a1a1a" text-anchor="end" stroke="#1a1a1a" stroke-width="0.22" >93.2</text>
<text x="441.30" y="77.92" font-size="5.6" fill="#1a1a1a" text-anchor="start" stroke="#1a1a1a" stroke-width="0.22" >R1</text>
<text x="441.30" y="84.92" font-size="5.6" fill="#1a1a1a" text-anchor="start" stroke="#1a1a1a" stroke-width="0.22" >1.5</text>
<text x="512.70" y="77.92" font-size="5.6" fill="#1a1a1a" text-anchor="end" stroke="#1a1a1a" stroke-width="0.22" >R4</text>
<text x="512.70" y="84.92" font-size="5.6" fill="#1a1a1a" text-anchor="end" stroke="#1a1a1a" stroke-width="0.22" >0.7</text>
<text x="441.30" y="95.72" font-size="5.6" fill="#1a1a1a" text-anchor="start" stroke="#1a1a1a" stroke-width="0.22" >R0</text>
<text x="441.30" y="104.22" font-size="5.6" fill="#1a1a1a" text-anchor="start" stroke="#1a1a1a" stroke-width="0.22" >1.1</text>
<text x="512.70" y="95.72" font-size="5.6" fill="#1a1a1a" text-anchor="end" stroke="#1a1a1a" stroke-width="0.22" >R5</text>
<text x="512.70" y="104.22" font-size="5.6" fill="#1a1a1a" text-anchor="end" stroke="#1a1a1a" stroke-width="0.22" >0.0</text>
<line x1="335.20" y1="75.80" x2="337.80" y2="75.80" stroke="#1a1a1a" stroke-width="0.9" />
<line x1="336.20" y1="70.77" x2="337.80" y2="70.77" stroke="#1a1a1a" stroke-width="0.6" />
<line x1="336.20" y1="67.83" x2="337.80" y2="67.83" stroke="#1a1a1a" stroke-width="0.6" />
<line x1="336.20" y1="65.75" x2="337.80" y2="65.75" stroke="#1a1a1a" stroke-width="0.6" />
<line x1="336.20" y1="64.13" x2="337.80" y2="64.13" stroke="#1a1a1a" stroke-width="0.6" />
<line x1="336.20" y1="62.80" x2="337.80" y2="62.80" stroke="#1a1a1a" stroke-width="0.6" />
<line x1="336.20" y1="61.69" x2="337.80" y2="61.69" stroke="#1a1a1a" stroke-width="0.6" />
<line x1="336.20" y1="60.72" x2="337.80" y2="60.72" stroke="#1a1a1a" stroke-width="0.6" />
<line x1="336.20" y1="59.86" x2="337.80" y2="59.86" stroke="#1a1a1a" stroke-width="0.6" />
<line x1="335.20" y1="59.10" x2="337.80" y2="59.10" stroke="#1a1a1a" stroke-width="0.9" />
<line x1="336.20" y1="54.07" x2="337.80" y2="54.07" stroke="#1a1a1a" stroke-width="0.6" />
<line x1="336.20" y1="51.13" x2="337.80" y2="51.13" stroke="#1a1a1a" stroke-width="0.6" />
<line x1="336.20" y1="49.05" x2="337.80" y2="49.05" stroke="#1a1a1a" stroke-width="0.6" />
<line x1="336.20" y1="47.43" x2="337.80" y2="47.43" stroke="#1a1a1a" stroke-width="0.6" />
<line x1="336.20" y1="46.10" x2="337.80" y2="46.10" stroke="#1a1a1a" stroke-width="0.6" />
<line x1="336.20" y1="44.99" x2="337.80" y2="44.99" stroke="#1a1a1a" stroke-width="0.6" />
<line x1="336.20" y1="44.02" x2="337.80" y2="44.02" stroke="#1a1a1a" stroke-width="0.6" />
<line x1="336.20" y1="43.16" x2="337.80" y2="43.16" stroke="#1a1a1a" stroke-width="0.6" />
<line x1="335.20" y1="42.40" x2="337.80" y2="42.40" stroke="#1a1a1a" stroke-width="0.9" />
<line x1="336.20" y1="37.37" x2="337.80" y2="37.37" stroke="#1a1a1a" stroke-width="0.6" />
<line x1="336.20" y1="34.43" x2="337.80" y2="34.43" stroke="#1a1a1a" stroke-width="0.6" />
<line x1="336.20" y1="32.35" x2="337.80" y2="32.35" stroke="#1a1a1a" stroke-width="0.6" />
<line x1="336.20" y1="30.73" x2="337.80" y2="30.73" stroke="#1a1a1a" stroke-width="0.6" />
<line x1="336.20" y1="29.40" x2="337.80" y2="29.40" stroke="#1a1a1a" stroke-width="0.6" />
<line x1="336.30" y1="92.00" x2="337.80" y2="92.00" stroke="#1a1a1a" stroke-width="0.5" />
<line x1="336.30" y1="93.10" x2="337.80" y2="93.10" stroke="#1a1a1a" stroke-width="0.5" />
<line x1="336.30" y1="94.20" x2="337.80" y2="94.20" stroke="#1a1a1a" stroke-width="0.5" />
<line x1="336.30" y1="95.30" x2="337.80" y2="95.30" stroke="#1a1a1a" stroke-width="0.5" />
<line x1="336.30" y1="96.40" x2="337.80" y2="96.40" stroke="#1a1a1a" stroke-width="0.5" />
<line x1="336.30" y1="97.50" x2="337.80" y2="97.50" stroke="#1a1a1a" stroke-width="0.5" />
<line x1="336.30" y1="98.60" x2="337.80" y2="98.60" stroke="#1a1a1a" stroke-width="0.5" />
<line x1="336.30" y1="99.70" x2="337.80" y2="99.70" stroke="#1a1a1a" stroke-width="0.5" />
<line x1="336.30" y1="100.80" x2="337.80" y2="100.80" stroke="#1a1a1a" stroke-width="0.5" />
<line x1="336.30" y1="101.90" x2="337.80" y2="101.90" stroke="#1a1a1a" stroke-width="0.5" />
<line x1="336.30" y1="103.00" x2="337.80" y2="103.00" stroke="#1a1a1a" stroke-width="0.5" />
<line x1="336.30" y1="104.10" x2="337.80" y2="104.10" stroke="#1a1a1a" stroke-width="0.5" />
<text x="332.60" y="45.44" font-size="7.6" fill="#1a1a1a" text-anchor="end" stroke="#1a1a1a" stroke-width="0.22" >10<tspan font-size="5.3" dy="-3.4">5</tspan></text>
<text x="332.60" y="62.34" font-size="7.6" fill="#1a1a1a" text-anchor="end" stroke="#1a1a1a" stroke-width="0.22" >10<tspan font-size="5.3" dy="-3.4">4</tspan></text>
<text x="332.60" y="78.84" font-size="7.6" fill="#1a1a1a" text-anchor="end" stroke="#1a1a1a" stroke-width="0.22" >10<tspan font-size="5.3" dy="-3.4">3</tspan></text>
<text x="330.10" y="100.84" font-size="7.6" fill="#1a1a1a" text-anchor="middle" stroke="#1a1a1a" stroke-width="0.22" >0</text>
<line x1="352.50" y1="107.10" x2="352.50" y2="109.70" stroke="#1a1a1a" stroke-width="0.9" />
<line x1="358.34" y1="107.10" x2="358.34" y2="108.70" stroke="#1a1a1a" stroke-width="0.6" />
<line x1="361.76" y1="107.10" x2="361.76" y2="108.70" stroke="#1a1a1a" stroke-width="0.6" />
<line x1="364.18" y1="107.10" x2="364.18" y2="108.70" stroke="#1a1a1a" stroke-width="0.6" />
<line x1="366.06" y1="107.10" x2="366.06" y2="108.70" stroke="#1a1a1a" stroke-width="0.6" />
<line x1="367.60" y1="107.10" x2="367.60" y2="108.70" stroke="#1a1a1a" stroke-width="0.6" />
<line x1="368.89" y1="107.10" x2="368.89" y2="108.70" stroke="#1a1a1a" stroke-width="0.6" />
<line x1="370.02" y1="107.10" x2="370.02" y2="108.70" stroke="#1a1a1a" stroke-width="0.6" />
<line x1="371.01" y1="107.10" x2="371.01" y2="108.70" stroke="#1a1a1a" stroke-width="0.6" />
<line x1="371.90" y1="107.10" x2="371.90" y2="109.70" stroke="#1a1a1a" stroke-width="0.9" />
<line x1="377.74" y1="107.10" x2="377.74" y2="108.70" stroke="#1a1a1a" stroke-width="0.6" />
<line x1="381.16" y1="107.10" x2="381.16" y2="108.70" stroke="#1a1a1a" stroke-width="0.6" />
<line x1="383.58" y1="107.10" x2="383.58" y2="108.70" stroke="#1a1a1a" stroke-width="0.6" />
<line x1="385.46" y1="107.10" x2="385.46" y2="108.70" stroke="#1a1a1a" stroke-width="0.6" />
<line x1="387.00" y1="107.10" x2="387.00" y2="108.70" stroke="#1a1a1a" stroke-width="0.6" />
<line x1="388.29" y1="107.10" x2="388.29" y2="108.70" stroke="#1a1a1a" stroke-width="0.6" />
<line x1="389.42" y1="107.10" x2="389.42" y2="108.70" stroke="#1a1a1a" stroke-width="0.6" />
<line x1="390.41" y1="107.10" x2="390.41" y2="108.70" stroke="#1a1a1a" stroke-width="0.6" />
<line x1="391.30" y1="107.10" x2="391.30" y2="109.70" stroke="#1a1a1a" stroke-width="0.9" />
<line x1="397.14" y1="107.10" x2="397.14" y2="108.70" stroke="#1a1a1a" stroke-width="0.6" />
<line x1="400.56" y1="107.10" x2="400.56" y2="108.70" stroke="#1a1a1a" stroke-width="0.6" />
<line x1="402.98" y1="107.10" x2="402.98" y2="108.70" stroke="#1a1a1a" stroke-width="0.6" />
<line x1="404.86" y1="107.10" x2="404.86" y2="108.70" stroke="#1a1a1a" stroke-width="0.6" />
<line x1="406.40" y1="107.10" x2="406.40" y2="108.70" stroke="#1a1a1a" stroke-width="0.6" />
<line x1="407.69" y1="107.10" x2="407.69" y2="108.70" stroke="#1a1a1a" stroke-width="0.6" />
<line x1="408.82" y1="107.10" x2="408.82" y2="108.70" stroke="#1a1a1a" stroke-width="0.6" />
<line x1="409.81" y1="107.10" x2="409.81" y2="108.70" stroke="#1a1a1a" stroke-width="0.6" />
<line x1="410.70" y1="107.10" x2="410.70" y2="109.70" stroke="#1a1a1a" stroke-width="0.9" />
<line x1="339.80" y1="107.10" x2="339.80" y2="108.70" stroke="#1a1a1a" stroke-width="0.5" />
<line x1="341.00" y1="107.10" x2="341.00" y2="108.70" stroke="#1a1a1a" stroke-width="0.5" />
<line x1="342.20" y1="107.10" x2="342.20" y2="108.70" stroke="#1a1a1a" stroke-width="0.5" />
<line x1="343.40" y1="107.10" x2="343.40" y2="108.70" stroke="#1a1a1a" stroke-width="0.5" />
<line x1="344.60" y1="107.10" x2="344.60" y2="108.70" stroke="#1a1a1a" stroke-width="0.5" />
<line x1="345.80" y1="107.10" x2="345.80" y2="108.70" stroke="#1a1a1a" stroke-width="0.5" />
<line x1="347.00" y1="107.10" x2="347.00" y2="108.70" stroke="#1a1a1a" stroke-width="0.5" />
<line x1="348.20" y1="107.10" x2="348.20" y2="108.70" stroke="#1a1a1a" stroke-width="0.5" />
<line x1="349.40" y1="107.10" x2="349.40" y2="108.70" stroke="#1a1a1a" stroke-width="0.5" />
<line x1="350.60" y1="107.10" x2="350.60" y2="108.70" stroke="#1a1a1a" stroke-width="0.5" />
<line x1="351.80" y1="107.10" x2="351.80" y2="108.70" stroke="#1a1a1a" stroke-width="0.5" />
<line x1="353.00" y1="107.10" x2="353.00" y2="108.70" stroke="#1a1a1a" stroke-width="0.5" />
<line x1="354.20" y1="107.10" x2="354.20" y2="108.70" stroke="#1a1a1a" stroke-width="0.5" />
<line x1="355.40" y1="107.10" x2="355.40" y2="108.70" stroke="#1a1a1a" stroke-width="0.5" />
<line x1="356.60" y1="107.10" x2="356.60" y2="108.70" stroke="#1a1a1a" stroke-width="0.5" />
<line x1="357.80" y1="107.10" x2="357.80" y2="108.70" stroke="#1a1a1a" stroke-width="0.5" />
<line x1="359.00" y1="107.10" x2="359.00" y2="108.70" stroke="#1a1a1a" stroke-width="0.5" />
<text x="351.40" y="120.34" font-size="7.6" fill="#1a1a1a" text-anchor="middle" stroke="#1a1a1a" stroke-width="0.22" >0</text>
<text x="371.90" y="120.34" font-size="7.6" fill="#1a1a1a" text-anchor="middle" stroke="#1a1a1a" stroke-width="0.22" >10<tspan font-size="5.3" dy="-3.4">3</tspan></text>
<text x="392.40" y="120.34" font-size="7.6" fill="#1a1a1a" text-anchor="middle" stroke="#1a1a1a" stroke-width="0.22" >10<tspan font-size="5.3" dy="-3.4">4</tspan></text>
<text x="410.70" y="120.34" font-size="7.6" fill="#1a1a1a" text-anchor="middle" stroke="#1a1a1a" stroke-width="0.22" >10<tspan font-size="5.3" dy="-3.4">5</tspan></text>
<line x1="436.90" y1="75.80" x2="439.50" y2="75.80" stroke="#1a1a1a" stroke-width="0.9" />
<line x1="437.90" y1="70.77" x2="439.50" y2="70.77" stroke="#1a1a1a" stroke-width="0.6" />
<line x1="437.90" y1="67.83" x2="439.50" y2="67.83" stroke="#1a1a1a" stroke-width="0.6" />
<line x1="437.90" y1="65.75" x2="439.50" y2="65.75" stroke="#1a1a1a" stroke-width="0.6" />
<line x1="437.90" y1="64.13" x2="439.50" y2="64.13" stroke="#1a1a1a" stroke-width="0.6" />
<line x1="437.90" y1="62.80" x2="439.50" y2="62.80" stroke="#1a1a1a" stroke-width="0.6" />
<line x1="437.90" y1="61.69" x2="439.50" y2="61.69" stroke="#1a1a1a" stroke-width="0.6" />
<line x1="437.90" y1="60.72" x2="439.50" y2="60.72" stroke="#1a1a1a" stroke-width="0.6" />
<line x1="437.90" y1="59.86" x2="439.50" y2="59.86" stroke="#1a1a1a" stroke-width="0.6" />
<line x1="436.90" y1="59.10" x2="439.50" y2="59.10" stroke="#1a1a1a" stroke-width="0.9" />
<line x1="437.90" y1="54.07" x2="439.50" y2="54.07" stroke="#1a1a1a" stroke-width="0.6" />
<line x1="437.90" y1="51.13" x2="439.50" y2="51.13" stroke="#1a1a1a" stroke-width="0.6" />
<line x1="437.90" y1="49.05" x2="439.50" y2="49.05" stroke="#1a1a1a" stroke-width="0.6" />
<line x1="437.90" y1="47.43" x2="439.50" y2="47.43" stroke="#1a1a1a" stroke-width="0.6" />
<line x1="437.90" y1="46.10" x2="439.50" y2="46.10" stroke="#1a1a1a" stroke-width="0.6" />
<line x1="437.90" y1="44.99" x2="439.50" y2="44.99" stroke="#1a1a1a" stroke-width="0.6" />
<line x1="437.90" y1="44.02" x2="439.50" y2="44.02" stroke="#1a1a1a" stroke-width="0.6" />
<line x1="437.90" y1="43.16" x2="439.50" y2="43.16" stroke="#1a1a1a" stroke-width="0.6" />
<line x1="436.90" y1="42.40" x2="439.50" y2="42.40" stroke="#1a1a1a" stroke-width="0.9" />
<line x1="437.90" y1="37.37" x2="439.50" y2="37.37" stroke="#1a1a1a" stroke-width="0.6" />
<line x1="437.90" y1="34.43" x2="439.50" y2="34.43" stroke="#1a1a1a" stroke-width="0.6" />
<line x1="437.90" y1="32.35" x2="439.50" y2="32.35" stroke="#1a1a1a" stroke-width="0.6" />
<line x1="437.90" y1="30.73" x2="439.50" y2="30.73" stroke="#1a1a1a" stroke-width="0.6" />
<line x1="437.90" y1="29.40" x2="439.50" y2="29.40" stroke="#1a1a1a" stroke-width="0.6" />
<line x1="438.00" y1="92.00" x2="439.50" y2="92.00" stroke="#1a1a1a" stroke-width="0.5" />
<line x1="438.00" y1="93.10" x2="439.50" y2="93.10" stroke="#1a1a1a" stroke-width="0.5" />
<line x1="438.00" y1="94.20" x2="439.50" y2="94.20" stroke="#1a1a1a" stroke-width="0.5" />
<line x1="438.00" y1="95.30" x2="439.50" y2="95.30" stroke="#1a1a1a" stroke-width="0.5" />
<line x1="438.00" y1="96.40" x2="439.50" y2="96.40" stroke="#1a1a1a" stroke-width="0.5" />
<line x1="438.00" y1="97.50" x2="439.50" y2="97.50" stroke="#1a1a1a" stroke-width="0.5" />
<line x1="438.00" y1="98.60" x2="439.50" y2="98.60" stroke="#1a1a1a" stroke-width="0.5" />
<line x1="438.00" y1="99.70" x2="439.50" y2="99.70" stroke="#1a1a1a" stroke-width="0.5" />
<line x1="438.00" y1="100.80" x2="439.50" y2="100.80" stroke="#1a1a1a" stroke-width="0.5" />
<line x1="438.00" y1="101.90" x2="439.50" y2="101.90" stroke="#1a1a1a" stroke-width="0.5" />
<line x1="438.00" y1="103.00" x2="439.50" y2="103.00" stroke="#1a1a1a" stroke-width="0.5" />
<line x1="438.00" y1="104.10" x2="439.50" y2="104.10" stroke="#1a1a1a" stroke-width="0.5" />
<text x="434.30" y="45.44" font-size="7.6" fill="#1a1a1a" text-anchor="end" stroke="#1a1a1a" stroke-width="0.22" >10<tspan font-size="5.3" dy="-3.4">5</tspan></text>
<text x="434.30" y="62.34" font-size="7.6" fill="#1a1a1a" text-anchor="end" stroke="#1a1a1a" stroke-width="0.22" >10<tspan font-size="5.3" dy="-3.4">4</tspan></text>
<text x="434.30" y="78.84" font-size="7.6" fill="#1a1a1a" text-anchor="end" stroke="#1a1a1a" stroke-width="0.22" >10<tspan font-size="5.3" dy="-3.4">3</tspan></text>
<text x="431.80" y="100.84" font-size="7.6" fill="#1a1a1a" text-anchor="middle" stroke="#1a1a1a" stroke-width="0.22" >0</text>
<line x1="452.95" y1="107.80" x2="452.95" y2="110.40" stroke="#1a1a1a" stroke-width="0.9" />
<line x1="458.81" y1="107.80" x2="458.81" y2="109.40" stroke="#1a1a1a" stroke-width="0.6" />
<line x1="462.23" y1="107.80" x2="462.23" y2="109.40" stroke="#1a1a1a" stroke-width="0.6" />
<line x1="464.66" y1="107.80" x2="464.66" y2="109.40" stroke="#1a1a1a" stroke-width="0.6" />
<line x1="466.54" y1="107.80" x2="466.54" y2="109.40" stroke="#1a1a1a" stroke-width="0.6" />
<line x1="468.09" y1="107.80" x2="468.09" y2="109.40" stroke="#1a1a1a" stroke-width="0.6" />
<line x1="469.39" y1="107.80" x2="469.39" y2="109.40" stroke="#1a1a1a" stroke-width="0.6" />
<line x1="470.52" y1="107.80" x2="470.52" y2="109.40" stroke="#1a1a1a" stroke-width="0.6" />
<line x1="471.51" y1="107.80" x2="471.51" y2="109.40" stroke="#1a1a1a" stroke-width="0.6" />
<line x1="472.40" y1="107.80" x2="472.40" y2="110.40" stroke="#1a1a1a" stroke-width="0.9" />
<line x1="478.26" y1="107.80" x2="478.26" y2="109.40" stroke="#1a1a1a" stroke-width="0.6" />
<line x1="481.68" y1="107.80" x2="481.68" y2="109.40" stroke="#1a1a1a" stroke-width="0.6" />
<line x1="484.11" y1="107.80" x2="484.11" y2="109.40" stroke="#1a1a1a" stroke-width="0.6" />
<line x1="485.99" y1="107.80" x2="485.99" y2="109.40" stroke="#1a1a1a" stroke-width="0.6" />
<line x1="487.54" y1="107.80" x2="487.54" y2="109.40" stroke="#1a1a1a" stroke-width="0.6" />
<line x1="488.84" y1="107.80" x2="488.84" y2="109.40" stroke="#1a1a1a" stroke-width="0.6" />
<line x1="489.97" y1="107.80" x2="489.97" y2="109.40" stroke="#1a1a1a" stroke-width="0.6" />
<line x1="490.96" y1="107.80" x2="490.96" y2="109.40" stroke="#1a1a1a" stroke-width="0.6" />
<line x1="491.85" y1="107.80" x2="491.85" y2="110.40" stroke="#1a1a1a" stroke-width="0.9" />
<line x1="497.71" y1="107.80" x2="497.71" y2="109.40" stroke="#1a1a1a" stroke-width="0.6" />
<line x1="501.13" y1="107.80" x2="501.13" y2="109.40" stroke="#1a1a1a" stroke-width="0.6" />
<line x1="503.56" y1="107.80" x2="503.56" y2="109.40" stroke="#1a1a1a" stroke-width="0.6" />
<line x1="505.44" y1="107.80" x2="505.44" y2="109.40" stroke="#1a1a1a" stroke-width="0.6" />
<line x1="506.99" y1="107.80" x2="506.99" y2="109.40" stroke="#1a1a1a" stroke-width="0.6" />
<line x1="508.29" y1="107.80" x2="508.29" y2="109.40" stroke="#1a1a1a" stroke-width="0.6" />
<line x1="509.42" y1="107.80" x2="509.42" y2="109.40" stroke="#1a1a1a" stroke-width="0.6" />
<line x1="510.41" y1="107.80" x2="510.41" y2="109.40" stroke="#1a1a1a" stroke-width="0.6" />
<line x1="511.30" y1="107.80" x2="511.30" y2="110.40" stroke="#1a1a1a" stroke-width="0.9" />
<line x1="441.50" y1="107.80" x2="441.50" y2="109.40" stroke="#1a1a1a" stroke-width="0.5" />
<line x1="442.70" y1="107.80" x2="442.70" y2="109.40" stroke="#1a1a1a" stroke-width="0.5" />
<line x1="443.90" y1="107.80" x2="443.90" y2="109.40" stroke="#1a1a1a" stroke-width="0.5" />
<line x1="445.10" y1="107.80" x2="445.10" y2="109.40" stroke="#1a1a1a" stroke-width="0.5" />
<line x1="446.30" y1="107.80" x2="446.30" y2="109.40" stroke="#1a1a1a" stroke-width="0.5" />
<line x1="447.50" y1="107.80" x2="447.50" y2="109.40" stroke="#1a1a1a" stroke-width="0.5" />
<line x1="448.70" y1="107.80" x2="448.70" y2="109.40" stroke="#1a1a1a" stroke-width="0.5" />
<line x1="449.90" y1="107.80" x2="449.90" y2="109.40" stroke="#1a1a1a" stroke-width="0.5" />
<line x1="451.10" y1="107.80" x2="451.10" y2="109.40" stroke="#1a1a1a" stroke-width="0.5" />
<line x1="452.30" y1="107.80" x2="452.30" y2="109.40" stroke="#1a1a1a" stroke-width="0.5" />
<line x1="453.50" y1="107.80" x2="453.50" y2="109.40" stroke="#1a1a1a" stroke-width="0.5" />
<line x1="454.70" y1="107.80" x2="454.70" y2="109.40" stroke="#1a1a1a" stroke-width="0.5" />
<line x1="455.90" y1="107.80" x2="455.90" y2="109.40" stroke="#1a1a1a" stroke-width="0.5" />
<line x1="457.10" y1="107.80" x2="457.10" y2="109.40" stroke="#1a1a1a" stroke-width="0.5" />
<line x1="458.30" y1="107.80" x2="458.30" y2="109.40" stroke="#1a1a1a" stroke-width="0.5" />
<line x1="459.50" y1="107.80" x2="459.50" y2="109.40" stroke="#1a1a1a" stroke-width="0.5" />
<text x="452.50" y="120.34" font-size="7.6" fill="#1a1a1a" text-anchor="middle" stroke="#1a1a1a" stroke-width="0.22" >0</text>
<text x="472.40" y="120.34" font-size="7.6" fill="#1a1a1a" text-anchor="middle" stroke="#1a1a1a" stroke-width="0.22" >10<tspan font-size="5.3" dy="-3.4">3</tspan></text>
<text x="494.00" y="120.34" font-size="7.6" fill="#1a1a1a" text-anchor="middle" stroke="#1a1a1a" stroke-width="0.22" >10<tspan font-size="5.3" dy="-3.4">4</tspan></text>
<text x="511.30" y="120.34" font-size="7.6" fill="#1a1a1a" text-anchor="middle" stroke="#1a1a1a" stroke-width="0.22" >10<tspan font-size="5.3" dy="-3.4">5</tspan></text>
<text x="377.30" y="24.37" font-size="7.7" fill="#1a1a1a" text-anchor="middle" stroke="#1a1a1a" stroke-width="0.22" ><tspan font-style="italic">Exosc3</tspan><tspan font-size="5.6" dy="-3">C/C</tspan><tspan dy="3"> Cre</tspan><tspan font-size="5.6" dy="-3">–</tspan></text>
<text x="479.40" y="22.87" font-size="7.7" fill="#1a1a1a" text-anchor="middle" stroke="#1a1a1a" stroke-width="0.22" ><tspan font-style="italic">Exosc3</tspan><tspan font-size="5.6" dy="-3">C/C</tspan><tspan dy="3"> Cre</tspan><tspan font-size="5.6" dy="-3">+</tspan></text>
<text transform="translate(311.90,41.35) rotate(-90)" x="0" y="3.02" font-size="8.4" fill="#1a1a1a" text-anchor="middle" font-weight="bold" textLength="28.9" lengthAdjust="spacingAndGlyphs" >PE - CD71</text>
<polyline points="311.6,57.7 311.6,129.2 479.6,129.2" fill="none" stroke="#1a1a1a" stroke-width="1"/>
<text x="501.00" y="130.10" font-size="8.6" fill="#1a1a1a" text-anchor="middle" font-weight="bold" textLength="35" lengthAdjust="spacingAndGlyphs" >APC - Ter119</text>
<text x="0.40" y="150.16" font-size="11" fill="#000" text-anchor="start" font-weight="bold" stroke="#000" stroke-width="0.45">E</text>
<line x1="33.25" y1="166.75" x2="33.25" y2="262.50" stroke="#1a1a1a" stroke-width="1.35" />
<line x1="32.75" y1="262.00" x2="96.70" y2="262.00" stroke="#1a1a1a" stroke-width="1.35" />
<line x1="30.25" y1="168.25" x2="33.25" y2="168.25" stroke="#1a1a1a" stroke-width="1.35" />
<text x="28.15" y="171.06" font-size="7.8" fill="#1a1a1a" text-anchor="end" stroke="#1a1a1a" stroke-width="0.22" >5</text>
<line x1="30.25" y1="187.00" x2="33.25" y2="187.00" stroke="#1a1a1a" stroke-width="1.35" />
<text x="28.15" y="189.81" font-size="7.8" fill="#1a1a1a" text-anchor="end" stroke="#1a1a1a" stroke-width="0.22" >4</text>
<line x1="30.25" y1="205.75" x2="33.25" y2="205.75" stroke="#1a1a1a" stroke-width="1.35" />
<text x="28.15" y="208.56" font-size="7.8" fill="#1a1a1a" text-anchor="end" stroke="#1a1a1a" stroke-width="0.22" >3</text>
<line x1="30.25" y1="224.50" x2="33.25" y2="224.50" stroke="#1a1a1a" stroke-width="1.35" />
<text x="28.15" y="227.31" font-size="7.8" fill="#1a1a1a" text-anchor="end" stroke="#1a1a1a" stroke-width="0.22" >2</text>
<line x1="30.25" y1="243.25" x2="33.25" y2="243.25" stroke="#1a1a1a" stroke-width="1.35" />
<text x="28.15" y="246.06" font-size="7.8" fill="#1a1a1a" text-anchor="end" stroke="#1a1a1a" stroke-width="0.22" >1</text>
<line x1="30.25" y1="262.00" x2="33.25" y2="262.00" stroke="#1a1a1a" stroke-width="1.35" />
<text x="28.15" y="264.81" font-size="7.8" fill="#1a1a1a" text-anchor="end" stroke="#1a1a1a" stroke-width="0.22" >0</text>
<line x1="31.45" y1="177.62" x2="33.25" y2="177.62" stroke="#1a1a1a" stroke-width="0.8" />
<line x1="31.45" y1="196.38" x2="33.25" y2="196.38" stroke="#1a1a1a" stroke-width="0.8" />
<line x1="31.45" y1="215.12" x2="33.25" y2="215.12" stroke="#1a1a1a" stroke-width="0.8" />
<line x1="31.45" y1="233.88" x2="33.25" y2="233.88" stroke="#1a1a1a" stroke-width="0.8" />
<line x1="31.45" y1="252.62" x2="33.25" y2="252.62" stroke="#1a1a1a" stroke-width="0.8" />
<text x="65.00" y="160.84" font-size="7.6" fill="#1a1a1a" text-anchor="middle" stroke="#1a1a1a" stroke-width="0.22" >R1</text>
<line x1="51.90" y1="190.90" x2="51.90" y2="201.00" stroke="#444" stroke-width="1.0" />
<line x1="51.90" y1="230.80" x2="51.90" y2="242.50" stroke="#444" stroke-width="1.0" />
<line x1="47.00" y1="190.90" x2="56.80" y2="190.90" stroke="#444" stroke-width="1.0" />
<line x1="47.00" y1="242.50" x2="56.80" y2="242.50" stroke="#444" stroke-width="1.0" />
<rect x="43.00" y="201.00" width="17.80" height="29.80" fill="#cc0324" />
<line x1="43.00" y1="216.90" x2="60.80" y2="216.90" stroke="#9a0820" stroke-width="1.6" />
<line x1="78.95" y1="210.50" x2="78.95" y2="229.80" stroke="#444" stroke-width="1.0" />
<line x1="78.95" y1="243.30" x2="78.95" y2="250.00" stroke="#444" stroke-width="1.0" />
<line x1="74.14" y1="210.50" x2="83.76" y2="210.50" stroke="#444" stroke-width="1.0" />
<line x1="74.14" y1="250.00" x2="83.76" y2="250.00" stroke="#444" stroke-width="1.0" />
<rect x="70.20" y="229.80" width="17.50" height="13.50" fill="#164d8d" />
<line x1="70.20" y1="236.60" x2="87.70" y2="236.60" stroke="#0a2a50" stroke-width="1.6" />
<text transform="translate(4.30,216.20) rotate(-90)" x="0" y="3.24" font-size="9" fill="#1a1a1a" text-anchor="middle" stroke="#1a1a1a" stroke-width="0.28" textLength="57.1" lengthAdjust="spacingAndGlyphs" >Percent of live cells/</text>
<text transform="translate(15.50,214.60) rotate(-90)" x="0" y="3.24" font-size="9" fill="#1a1a1a" text-anchor="middle" stroke="#1a1a1a" stroke-width="0.28" textLength="25.9" lengthAdjust="spacingAndGlyphs" >fetal liver</text>
<text x="33.80" y="272.19" font-size="7.2" fill="#1a1a1a" text-anchor="end" stroke="#1a1a1a" stroke-width="0.22" font-style="italic" >Exosc3</text>
<text x="50.90" y="272.37" font-size="7.7" fill="#1a1a1a" text-anchor="middle" stroke="#1a1a1a" stroke-width="0.22" textLength="14.2" lengthAdjust="spacingAndGlyphs" >C/C</text>
<text x="77.70" y="272.37" font-size="7.7" fill="#1a1a1a" text-anchor="middle" stroke="#1a1a1a" stroke-width="0.22" textLength="14.2" lengthAdjust="spacingAndGlyphs" >C/C</text>
<text x="34.00" y="283.94" font-size="7.6" fill="#1a1a1a" text-anchor="end" stroke="#1a1a1a" stroke-width="0.22" >Cre</text>
<text x="50.90" y="283.94" font-size="7.6" fill="#1a1a1a" text-anchor="middle" stroke="#1a1a1a" stroke-width="0.22" >–</text>
<text x="77.70" y="283.94" font-size="7.6" fill="#1a1a1a" text-anchor="middle" stroke="#1a1a1a" stroke-width="0.22" >+</text>
<text x="78.80" y="210.20" font-size="7.5" fill="#1a1a1a" text-anchor="middle" stroke="#1a1a1a" stroke-width="0.28" >***</text>
<line x1="138.75" y1="166.00" x2="138.75" y2="262.25" stroke="#1a1a1a" stroke-width="1.35" />
<line x1="138.25" y1="261.75" x2="201.00" y2="261.75" stroke="#1a1a1a" stroke-width="1.35" />
<line x1="135.75" y1="167.50" x2="138.75" y2="167.50" stroke="#1a1a1a" stroke-width="1.35" />
<text x="133.65" y="170.31" font-size="7.8" fill="#1a1a1a" text-anchor="end" stroke="#1a1a1a" stroke-width="0.22" >15</text>
<line x1="135.75" y1="198.92" x2="138.75" y2="198.92" stroke="#1a1a1a" stroke-width="1.35" />
<text x="133.65" y="201.72" font-size="7.8" fill="#1a1a1a" text-anchor="end" stroke="#1a1a1a" stroke-width="0.22" >10</text>
<line x1="135.75" y1="230.33" x2="138.75" y2="230.33" stroke="#1a1a1a" stroke-width="1.35" />
<text x="133.65" y="233.14" font-size="7.8" fill="#1a1a1a" text-anchor="end" stroke="#1a1a1a" stroke-width="0.22" >5</text>
<line x1="135.75" y1="261.75" x2="138.75" y2="261.75" stroke="#1a1a1a" stroke-width="1.35" />
<text x="133.65" y="264.56" font-size="7.8" fill="#1a1a1a" text-anchor="end" stroke="#1a1a1a" stroke-width="0.22" >0</text>
<line x1="136.95" y1="183.21" x2="138.75" y2="183.21" stroke="#1a1a1a" stroke-width="0.8" />
<line x1="136.95" y1="214.62" x2="138.75" y2="214.62" stroke="#1a1a1a" stroke-width="0.8" />
<line x1="136.95" y1="246.04" x2="138.75" y2="246.04" stroke="#1a1a1a" stroke-width="0.8" />
<text x="169.40" y="159.64" font-size="7.6" fill="#1a1a1a" text-anchor="middle" stroke="#1a1a1a" stroke-width="0.22" >R2</text>
<line x1="156.25" y1="189.25" x2="156.25" y2="220.00" stroke="#444" stroke-width="1.0" />
<line x1="156.25" y1="233.75" x2="156.25" y2="246.25" stroke="#444" stroke-width="1.0" />
<line x1="151.44" y1="189.25" x2="161.06" y2="189.25" stroke="#444" stroke-width="1.0" />
<line x1="151.44" y1="246.25" x2="161.06" y2="246.25" stroke="#444" stroke-width="1.0" />
<rect x="147.50" y="220.00" width="17.50" height="13.75" fill="#cc0324" />
<line x1="147.50" y1="225.50" x2="165.00" y2="225.50" stroke="#9a0820" stroke-width="1.6" />
<line x1="183.00" y1="190.00" x2="183.00" y2="209.25" stroke="#444" stroke-width="1.0" />
<line x1="183.00" y1="235.50" x2="183.00" y2="240.00" stroke="#444" stroke-width="1.0" />
<line x1="178.19" y1="190.00" x2="187.81" y2="190.00" stroke="#444" stroke-width="1.0" />
<line x1="178.19" y1="240.00" x2="187.81" y2="240.00" stroke="#444" stroke-width="1.0" />
<rect x="174.25" y="209.25" width="17.50" height="26.25" fill="#164d8d" />
<line x1="174.25" y1="229.25" x2="191.75" y2="229.25" stroke="#0a2a50" stroke-width="1.6" />
<text transform="translate(103.70,214.30) rotate(-90)" x="0" y="3.24" font-size="9" fill="#1a1a1a" text-anchor="middle" stroke="#1a1a1a" stroke-width="0.28" textLength="57.1" lengthAdjust="spacingAndGlyphs" >Percent of live cells/</text>
<text transform="translate(114.00,213.20) rotate(-90)" x="0" y="3.24" font-size="9" fill="#1a1a1a" text-anchor="middle" stroke="#1a1a1a" stroke-width="0.28" textLength="25.9" lengthAdjust="spacingAndGlyphs" >fetal liver</text>
<text x="137.50" y="272.19" font-size="7.2" fill="#1a1a1a" text-anchor="end" stroke="#1a1a1a" stroke-width="0.22" font-style="italic" >Exosc3</text>
<text x="155.60" y="272.37" font-size="7.7" fill="#1a1a1a" text-anchor="middle" stroke="#1a1a1a" stroke-width="0.22" textLength="14.2" lengthAdjust="spacingAndGlyphs" >C/C</text>
<text x="182.50" y="272.37" font-size="7.7" fill="#1a1a1a" text-anchor="middle" stroke="#1a1a1a" stroke-width="0.22" textLength="14.2" lengthAdjust="spacingAndGlyphs" >C/C</text>
<text x="137.50" y="283.94" font-size="7.6" fill="#1a1a1a" text-anchor="end" stroke="#1a1a1a" stroke-width="0.22" >Cre</text>
<text x="156.25" y="283.94" font-size="7.6" fill="#1a1a1a" text-anchor="middle" stroke="#1a1a1a" stroke-width="0.22" >–</text>
<text x="183.25" y="283.94" font-size="7.6" fill="#1a1a1a" text-anchor="middle" stroke="#1a1a1a" stroke-width="0.22" >+</text>
<line x1="246.25" y1="167.75" x2="246.25" y2="263.50" stroke="#1a1a1a" stroke-width="1.35" />
<line x1="245.75" y1="263.00" x2="310.00" y2="263.00" stroke="#1a1a1a" stroke-width="1.35" />
<line x1="243.25" y1="169.25" x2="246.25" y2="169.25" stroke="#1a1a1a" stroke-width="1.35" />
<text x="241.15" y="172.06" font-size="7.8" fill="#1a1a1a" text-anchor="end" stroke="#1a1a1a" stroke-width="0.22" >100</text>
<line x1="243.25" y1="188.00" x2="246.25" y2="188.00" stroke="#1a1a1a" stroke-width="1.35" />
<text x="241.15" y="190.81" font-size="7.8" fill="#1a1a1a" text-anchor="end" stroke="#1a1a1a" stroke-width="0.22" >80</text>
<line x1="243.25" y1="206.75" x2="246.25" y2="206.75" stroke="#1a1a1a" stroke-width="1.35" />
<text x="241.15" y="209.56" font-size="7.8" fill="#1a1a1a" text-anchor="end" stroke="#1a1a1a" stroke-width="0.22" >60</text>
<line x1="243.25" y1="225.50" x2="246.25" y2="225.50" stroke="#1a1a1a" stroke-width="1.35" />
<text x="241.15" y="228.31" font-size="7.8" fill="#1a1a1a" text-anchor="end" stroke="#1a1a1a" stroke-width="0.22" >40</text>
<line x1="243.25" y1="244.25" x2="246.25" y2="244.25" stroke="#1a1a1a" stroke-width="1.35" />
<text x="241.15" y="247.06" font-size="7.8" fill="#1a1a1a" text-anchor="end" stroke="#1a1a1a" stroke-width="0.22" >20</text>
<line x1="243.25" y1="263.00" x2="246.25" y2="263.00" stroke="#1a1a1a" stroke-width="1.35" />
<text x="241.15" y="265.81" font-size="7.8" fill="#1a1a1a" text-anchor="end" stroke="#1a1a1a" stroke-width="0.22" >0</text>
<line x1="244.45" y1="178.62" x2="246.25" y2="178.62" stroke="#1a1a1a" stroke-width="0.8" />
<line x1="244.45" y1="197.38" x2="246.25" y2="197.38" stroke="#1a1a1a" stroke-width="0.8" />
<line x1="244.45" y1="216.12" x2="246.25" y2="216.12" stroke="#1a1a1a" stroke-width="0.8" />
<line x1="244.45" y1="234.88" x2="246.25" y2="234.88" stroke="#1a1a1a" stroke-width="0.8" />
<line x1="244.45" y1="253.62" x2="246.25" y2="253.62" stroke="#1a1a1a" stroke-width="0.8" />
<text x="277.70" y="160.94" font-size="7.6" fill="#1a1a1a" text-anchor="middle" stroke="#1a1a1a" stroke-width="0.22" >R3</text>
<line x1="264.38" y1="177.50" x2="264.38" y2="180.50" stroke="#444" stroke-width="1.0" />
<line x1="264.38" y1="186.25" x2="264.38" y2="196.75" stroke="#444" stroke-width="1.0" />
<line x1="259.49" y1="177.50" x2="269.26" y2="177.50" stroke="#444" stroke-width="1.0" />
<line x1="259.49" y1="196.75" x2="269.26" y2="196.75" stroke="#444" stroke-width="1.0" />
<rect x="255.50" y="180.50" width="17.75" height="5.75" fill="#cc0324" />
<line x1="255.50" y1="183.25" x2="273.25" y2="183.25" stroke="#9a0820" stroke-width="1.6" />
<line x1="291.62" y1="175.50" x2="291.62" y2="177.50" stroke="#444" stroke-width="1.0" />
<line x1="291.62" y1="183.00" x2="291.62" y2="189.25" stroke="#444" stroke-width="1.0" />
<line x1="287.02" y1="175.50" x2="296.23" y2="175.50" stroke="#444" stroke-width="1.0" />
<line x1="287.02" y1="189.25" x2="296.23" y2="189.25" stroke="#444" stroke-width="1.0" />
<rect x="283.25" y="177.50" width="16.75" height="5.50" fill="#164d8d" />
<line x1="283.25" y1="180.00" x2="300.00" y2="180.00" stroke="#0a2a50" stroke-width="1.6" />
<text transform="translate(208.75,215.60) rotate(-90)" x="0" y="3.24" font-size="9" fill="#1a1a1a" text-anchor="middle" stroke="#1a1a1a" stroke-width="0.28" textLength="57.1" lengthAdjust="spacingAndGlyphs" >Percent of live cells/</text>
<text transform="translate(218.75,213.60) rotate(-90)" x="0" y="3.24" font-size="9" fill="#1a1a1a" text-anchor="middle" stroke="#1a1a1a" stroke-width="0.28" textLength="25.9" lengthAdjust="spacingAndGlyphs" >fetal liver</text>
<text x="246.75" y="272.19" font-size="7.2" fill="#1a1a1a" text-anchor="end" stroke="#1a1a1a" stroke-width="0.22" font-style="italic" >Exosc3</text>
<text x="264.00" y="272.37" font-size="7.7" fill="#1a1a1a" text-anchor="middle" stroke="#1a1a1a" stroke-width="0.22" textLength="14.2" lengthAdjust="spacingAndGlyphs" >C/C</text>
<text x="291.25" y="272.37" font-size="7.7" fill="#1a1a1a" text-anchor="middle" stroke="#1a1a1a" stroke-width="0.22" textLength="14.2" lengthAdjust="spacingAndGlyphs" >C/C</text>
<text x="246.25" y="283.94" font-size="7.6" fill="#1a1a1a" text-anchor="end" stroke="#1a1a1a" stroke-width="0.22" >Cre</text>
<text x="264.50" y="283.94" font-size="7.6" fill="#1a1a1a" text-anchor="middle" stroke="#1a1a1a" stroke-width="0.22" >–</text>
<text x="291.25" y="283.94" font-size="7.6" fill="#1a1a1a" text-anchor="middle" stroke="#1a1a1a" stroke-width="0.22" >+</text>
<text x="291.75" y="175.15" font-size="7.5" fill="#1a1a1a" text-anchor="middle" stroke="#1a1a1a" stroke-width="0.28" >*</text>
<line x1="351.25" y1="166.75" x2="351.25" y2="262.50" stroke="#1a1a1a" stroke-width="1.35" />
<line x1="350.75" y1="262.00" x2="413.75" y2="262.00" stroke="#1a1a1a" stroke-width="1.35" />
<line x1="348.25" y1="168.25" x2="351.25" y2="168.25" stroke="#1a1a1a" stroke-width="1.35" />
<text x="346.15" y="171.06" font-size="7.8" fill="#1a1a1a" text-anchor="end" stroke="#1a1a1a" stroke-width="0.22" >15</text>
<line x1="348.25" y1="199.50" x2="351.25" y2="199.50" stroke="#1a1a1a" stroke-width="1.35" />
<text x="346.15" y="202.31" font-size="7.8" fill="#1a1a1a" text-anchor="end" stroke="#1a1a1a" stroke-width="0.22" >10</text>
<line x1="348.25" y1="230.75" x2="351.25" y2="230.75" stroke="#1a1a1a" stroke-width="1.35" />
<text x="346.15" y="233.56" font-size="7.8" fill="#1a1a1a" text-anchor="end" stroke="#1a1a1a" stroke-width="0.22" >5</text>
<line x1="348.25" y1="262.00" x2="351.25" y2="262.00" stroke="#1a1a1a" stroke-width="1.35" />
<text x="346.15" y="264.81" font-size="7.8" fill="#1a1a1a" text-anchor="end" stroke="#1a1a1a" stroke-width="0.22" >0</text>
<line x1="349.45" y1="183.88" x2="351.25" y2="183.88" stroke="#1a1a1a" stroke-width="0.8" />
<line x1="349.45" y1="215.12" x2="351.25" y2="215.12" stroke="#1a1a1a" stroke-width="0.8" />
<line x1="349.45" y1="246.38" x2="351.25" y2="246.38" stroke="#1a1a1a" stroke-width="0.8" />
<text x="382.30" y="160.84" font-size="7.6" fill="#1a1a1a" text-anchor="middle" stroke="#1a1a1a" stroke-width="0.22" >R4</text>
<line x1="369.25" y1="190.50" x2="369.25" y2="234.50" stroke="#444" stroke-width="1.0" />
<line x1="369.25" y1="253.75" x2="369.25" y2="259.50" stroke="#444" stroke-width="1.0" />
<line x1="364.44" y1="190.50" x2="374.06" y2="190.50" stroke="#444" stroke-width="1.0" />
<line x1="364.44" y1="259.50" x2="374.06" y2="259.50" stroke="#444" stroke-width="1.0" />
<rect x="360.50" y="234.50" width="17.50" height="19.25" fill="#cc0324" />
<line x1="360.50" y1="250.00" x2="378.00" y2="250.00" stroke="#9a0820" stroke-width="1.6" />
<line x1="395.62" y1="218.75" x2="395.62" y2="239.25" stroke="#444" stroke-width="1.0" />
<line x1="395.62" y1="256.75" x2="395.62" y2="259.25" stroke="#444" stroke-width="1.0" />
<line x1="390.88" y1="218.75" x2="400.37" y2="218.75" stroke="#444" stroke-width="1.0" />
<line x1="390.88" y1="259.25" x2="400.37" y2="259.25" stroke="#444" stroke-width="1.0" />
<rect x="387.00" y="239.25" width="17.25" height="17.50" fill="#164d8d" />
<line x1="387.00" y1="251.25" x2="404.25" y2="251.25" stroke="#0a2a50" stroke-width="1.6" />
<text transform="translate(317.00,215.60) rotate(-90)" x="0" y="3.24" font-size="9" fill="#1a1a1a" text-anchor="middle" stroke="#1a1a1a" stroke-width="0.28" textLength="57.1" lengthAdjust="spacingAndGlyphs" >Percent of live cells/</text>
<text transform="translate(326.30,214.50) rotate(-90)" x="0" y="3.24" font-size="9" fill="#1a1a1a" text-anchor="middle" stroke="#1a1a1a" stroke-width="0.28" textLength="25.9" lengthAdjust="spacingAndGlyphs" >fetal liver</text>
<text x="351.25" y="272.19" font-size="7.2" fill="#1a1a1a" text-anchor="end" stroke="#1a1a1a" stroke-width="0.22" font-style="italic" >Exosc3</text>
<text x="368.75" y="272.37" font-size="7.7" fill="#1a1a1a" text-anchor="middle" stroke="#1a1a1a" stroke-width="0.22" textLength="14.2" lengthAdjust="spacingAndGlyphs" >C/C</text>
<text x="395.00" y="272.37" font-size="7.7" fill="#1a1a1a" text-anchor="middle" stroke="#1a1a1a" stroke-width="0.22" textLength="14.2" lengthAdjust="spacingAndGlyphs" >C/C</text>
<text x="351.25" y="283.94" font-size="7.6" fill="#1a1a1a" text-anchor="end" stroke="#1a1a1a" stroke-width="0.22" >Cre</text>
<text x="370.00" y="283.94" font-size="7.6" fill="#1a1a1a" text-anchor="middle" stroke="#1a1a1a" stroke-width="0.22" >–</text>
<text x="395.00" y="283.94" font-size="7.6" fill="#1a1a1a" text-anchor="middle" stroke="#1a1a1a" stroke-width="0.22" >+</text>
<line x1="450.40" y1="168.50" x2="450.40" y2="264.70" stroke="#1a1a1a" stroke-width="1.35" />
<line x1="449.90" y1="264.20" x2="512.80" y2="264.20" stroke="#1a1a1a" stroke-width="1.35" />
<line x1="447.40" y1="170.00" x2="450.40" y2="170.00" stroke="#1a1a1a" stroke-width="1.35" />
<text x="445.30" y="172.81" font-size="7.8" fill="#1a1a1a" text-anchor="end" stroke="#1a1a1a" stroke-width="0.22" >5</text>
<line x1="447.40" y1="188.84" x2="450.40" y2="188.84" stroke="#1a1a1a" stroke-width="1.35" />
<text x="445.30" y="191.65" font-size="7.8" fill="#1a1a1a" text-anchor="end" stroke="#1a1a1a" stroke-width="0.22" >4</text>
<line x1="447.40" y1="207.68" x2="450.40" y2="207.68" stroke="#1a1a1a" stroke-width="1.35" />
<text x="445.30" y="210.49" font-size="7.8" fill="#1a1a1a" text-anchor="end" stroke="#1a1a1a" stroke-width="0.22" >3</text>
<line x1="447.40" y1="226.52" x2="450.40" y2="226.52" stroke="#1a1a1a" stroke-width="1.35" />
<text x="445.30" y="229.33" font-size="7.8" fill="#1a1a1a" text-anchor="end" stroke="#1a1a1a" stroke-width="0.22" >2</text>
<line x1="447.40" y1="245.36" x2="450.40" y2="245.36" stroke="#1a1a1a" stroke-width="1.35" />
<text x="445.30" y="248.17" font-size="7.8" fill="#1a1a1a" text-anchor="end" stroke="#1a1a1a" stroke-width="0.22" >1</text>
<line x1="447.40" y1="264.20" x2="450.40" y2="264.20" stroke="#1a1a1a" stroke-width="1.35" />
<text x="445.30" y="267.01" font-size="7.8" fill="#1a1a1a" text-anchor="end" stroke="#1a1a1a" stroke-width="0.22" >0</text>
<line x1="448.60" y1="179.42" x2="450.40" y2="179.42" stroke="#1a1a1a" stroke-width="0.8" />
<line x1="448.60" y1="198.26" x2="450.40" y2="198.26" stroke="#1a1a1a" stroke-width="0.8" />
<line x1="448.60" y1="217.10" x2="450.40" y2="217.10" stroke="#1a1a1a" stroke-width="0.8" />
<line x1="448.60" y1="235.94" x2="450.40" y2="235.94" stroke="#1a1a1a" stroke-width="0.8" />
<line x1="448.60" y1="254.78" x2="450.40" y2="254.78" stroke="#1a1a1a" stroke-width="0.8" />
<text x="481.80" y="162.74" font-size="7.6" fill="#1a1a1a" text-anchor="middle" stroke="#1a1a1a" stroke-width="0.22" >R5</text>
<line x1="468.55" y1="200.80" x2="468.55" y2="232.00" stroke="#444" stroke-width="1.0" />
<line x1="468.55" y1="260.20" x2="468.55" y2="260.20" stroke="#444" stroke-width="1.0" />
<line x1="463.90" y1="200.80" x2="473.20" y2="200.80" stroke="#444" stroke-width="1.0" />
<line x1="463.90" y1="260.20" x2="473.20" y2="260.20" stroke="#444" stroke-width="1.0" />
<rect x="460.10" y="232.00" width="16.90" height="28.20" fill="#cc0324" />
<line x1="460.10" y1="252.80" x2="477.00" y2="252.80" stroke="#9a0820" stroke-width="1.6" />
<line x1="495.50" y1="230.60" x2="495.50" y2="249.10" stroke="#444" stroke-width="1.0" />
<line x1="495.50" y1="259.80" x2="495.50" y2="259.80" stroke="#444" stroke-width="1.0" />
<line x1="491.04" y1="230.60" x2="499.96" y2="230.60" stroke="#444" stroke-width="1.0" />
<line x1="491.04" y1="259.80" x2="499.96" y2="259.80" stroke="#444" stroke-width="1.0" />
<rect x="487.40" y="249.10" width="16.20" height="10.70" fill="#164d8d" />
<line x1="487.40" y1="256.80" x2="503.60" y2="256.80" stroke="#0a2a50" stroke-width="1.6" />
<text transform="translate(421.50,217.20) rotate(-90)" x="0" y="3.24" font-size="9" fill="#1a1a1a" text-anchor="middle" stroke="#1a1a1a" stroke-width="0.28" textLength="57.1" lengthAdjust="spacingAndGlyphs" >Percent of live cells/</text>
<text transform="translate(432.40,215.30) rotate(-90)" x="0" y="3.24" font-size="9" fill="#1a1a1a" text-anchor="middle" stroke="#1a1a1a" stroke-width="0.28" textLength="25.9" lengthAdjust="spacingAndGlyphs" >fetal liver</text>
<text x="451.20" y="273.79" font-size="7.2" fill="#1a1a1a" text-anchor="end" stroke="#1a1a1a" stroke-width="0.22" font-style="italic" >Exosc3</text>
<text x="468.50" y="273.97" font-size="7.7" fill="#1a1a1a" text-anchor="middle" stroke="#1a1a1a" stroke-width="0.22" textLength="14.2" lengthAdjust="spacingAndGlyphs" >C/C</text>
<text x="495.60" y="273.97" font-size="7.7" fill="#1a1a1a" text-anchor="middle" stroke="#1a1a1a" stroke-width="0.22" textLength="14.2" lengthAdjust="spacingAndGlyphs" >C/C</text>
<text x="450.80" y="283.54" font-size="7.6" fill="#1a1a1a" text-anchor="end" stroke="#1a1a1a" stroke-width="0.22" >Cre</text>
<text x="468.50" y="283.54" font-size="7.6" fill="#1a1a1a" text-anchor="middle" stroke="#1a1a1a" stroke-width="0.22" >–</text>
<text x="495.30" y="283.54" font-size="7.6" fill="#1a1a1a" text-anchor="middle" stroke="#1a1a1a" stroke-width="0.22" >+</text>
<text x="0.50" y="301.56" font-size="11" fill="#000" text-anchor="start" font-weight="bold" stroke="#000" stroke-width="0.45">F</text>
<text x="49.40" y="325.09" font-size="7.2" fill="#1a1a1a" text-anchor="middle" stroke="#1a1a1a" stroke-width="0.22" textLength="43.3" lengthAdjust="spacingAndGlyphs" >E12.5/E14.5</text>
<text x="48.50" y="333.79" font-size="7.2" fill="#1a1a1a" text-anchor="middle" stroke="#1a1a1a" stroke-width="0.22" textLength="31.1" lengthAdjust="spacingAndGlyphs" >Fetal liver</text>
<text x="49.00" y="343.09" font-size="7.2" fill="#1a1a1a" text-anchor="middle" stroke="#1a1a1a" stroke-width="0.22" textLength="23.2" lengthAdjust="spacingAndGlyphs" >harvest</text>
<line x1="76.20" y1="331.80" x2="86.80" y2="331.80" stroke="#1a1a1a" stroke-width="1.1" />
<path d="M89.30 331.80 L84.70 329.20 L85.90 331.80 L84.70 334.40 Z" fill="#1a1a1a"/>
<text x="112.50" y="329.29" font-size="7.2" fill="#1a1a1a" text-anchor="middle" stroke="#1a1a1a" stroke-width="0.22" textLength="29.8" lengthAdjust="spacingAndGlyphs" >Single cell</text>
<text x="114.20" y="338.59" font-size="7.2" fill="#1a1a1a" text-anchor="middle" stroke="#1a1a1a" stroke-width="0.22" textLength="38.1" lengthAdjust="spacingAndGlyphs" >suspension</text>
<line x1="140.20" y1="331.80" x2="149.80" y2="331.80" stroke="#1a1a1a" stroke-width="1.1" />
<path d="M152.30 331.80 L147.70 329.20 L148.90 331.80 L147.70 334.40 Z" fill="#1a1a1a"/>
<text x="187.30" y="324.79" font-size="7.2" fill="#1a1a1a" text-anchor="middle" stroke="#1a1a1a" stroke-width="0.22" textLength="57.7" lengthAdjust="spacingAndGlyphs" >Antibody staining</text>
<text x="187.30" y="333.99" font-size="7.2" fill="#1a1a1a" text-anchor="middle" stroke="#1a1a1a" stroke-width="0.22" textLength="20.8" lengthAdjust="spacingAndGlyphs" >CD71</text>
<text x="187.30" y="343.19" font-size="7.2" fill="#1a1a1a" text-anchor="middle" stroke="#1a1a1a" stroke-width="0.22" textLength="25.4" lengthAdjust="spacingAndGlyphs" >Ter119</text>
<line x1="222.20" y1="332.30" x2="232.10" y2="332.30" stroke="#1a1a1a" stroke-width="1.1" />
<path d="M234.60 332.30 L230.00 329.70 L231.20 332.30 L230.00 334.90 Z" fill="#1a1a1a"/>
<text x="275.00" y="329.39" font-size="7.2" fill="#1a1a1a" text-anchor="middle" stroke="#1a1a1a" stroke-width="0.22" textLength="67" lengthAdjust="spacingAndGlyphs" >Sort CD71<tspan font-size="5" dy="-2.6">+</tspan><tspan dy="2.6">Ter119</tspan><tspan font-size="5" dy="-2.6">–</tspan></text>
<text x="275.20" y="338.44" font-size="7.6" fill="#1a1a1a" text-anchor="middle" stroke="#1a1a1a" stroke-width="0.22" textLength="28.5" lengthAdjust="spacingAndGlyphs" >(R1+R2)</text>
<line x1="317.70" y1="331.40" x2="326.70" y2="331.40" stroke="#1a1a1a" stroke-width="1.1" />
<path d="M329.20 331.40 L324.60 328.80 L325.80 331.40 L324.60 334.00 Z" fill="#1a1a1a"/>
<text x="345.30" y="329.39" font-size="7.2" fill="#1a1a1a" text-anchor="middle" stroke="#1a1a1a" stroke-width="0.22" textLength="23.1" lengthAdjust="spacingAndGlyphs" >Colony</text>
<text x="345.80" y="338.09" font-size="7.2" fill="#1a1a1a" text-anchor="middle" stroke="#1a1a1a" stroke-width="0.22" textLength="19.3" lengthAdjust="spacingAndGlyphs" >assay</text>
<text x="84.00" y="364.77" font-size="7.7" fill="#1a1a1a" text-anchor="middle" stroke="#1a1a1a" stroke-width="0.22" >E12.5</text>
<polygon points="78,393 100,395 124,398 126,415 120,440 100,435 80,420" fill="#c4c8ec" fill-opacity="0.35" filter="url(#bl3)"/>
<path d="M87.1 414.1h0.8v0.8h-0.8zM86.9 395.9h0.8v0.8h-0.8zM124.1 427.5h0.8v0.8h-0.8zM79.5 396.2h0.8v0.8h-0.8zM95.2 419.7h0.8v0.8h-0.8zM101.0 432.9h0.8v0.8h-0.8zM123.2 401.6h0.8v0.8h-0.8zM114.7 395.1h0.8v0.8h-0.8zM110.3 394.4h0.8v0.8h-0.8zM121.2 405.2h0.8v0.8h-0.8zM106.2 394.4h0.8v0.8h-0.8zM124.0 405.6h0.8v0.8h-0.8zM109.4 446.4h0.8v0.8h-0.8zM90.6 397.9h0.8v0.8h-0.8zM99.7 399.2h0.8v0.8h-0.8zM88.2 398.2h0.8v0.8h-0.8zM110.1 429.3h0.8v0.8h-0.8zM127.7 400.6h0.8v0.8h-0.8zM106.5 397.7h0.8v0.8h-0.8zM121.2 396.1h0.8v0.8h-0.8zM119.1 428.7h0.8v0.8h-0.8zM94.6 400.0h0.8v0.8h-0.8zM122.5 409.8h0.8v0.8h-0.8zM112.1 396.2h0.8v0.8h-0.8zM100.7 417.0h0.8v0.8h-0.8zM122.1 415.7h0.8v0.8h-0.8zM122.2 397.5h0.8v0.8h-0.8zM117.0 403.2h0.8v0.8h-0.8zM127.7 438.6h0.8v0.8h-0.8zM79.2 400.5h0.8v0.8h-0.8zM126.7 395.1h0.8v0.8h-0.8zM123.6 394.0h0.8v0.8h-0.8zM114.8 395.9h0.8v0.8h-0.8zM86.4 394.9h0.8v0.8h-0.8zM82.5 423.2h0.8v0.8h-0.8zM123.9 402.3h0.8v0.8h-0.8zM122.1 425.8h0.8v0.8h-0.8zM117.6 398.3h0.8v0.8h-0.8zM79.9 423.7h0.8v0.8h-0.8zM89.6 410.9h0.8v0.8h-0.8zM83.2 406.7h0.8v0.8h-0.8zM127.5 394.1h0.8v0.8h-0.8zM121.9 401.3h0.8v0.8h-0.8zM102.4 395.3h0.8v0.8h-0.8zM99.4 395.6h0.8v0.8h-0.8zM112.3 396.6h0.8v0.8h-0.8zM114.9 395.9h0.8v0.8h-0.8zM83.6 410.7h0.8v0.8h-0.8zM102.8 402.9h0.8v0.8h-0.8zM126.4 397.7h0.8v0.8h-0.8zM114.6 440.4h0.8v0.8h-0.8zM86.9 399.6h0.8v0.8h-0.8zM81.4 399.3h0.8v0.8h-0.8zM103.4 394.2h0.8v0.8h-0.8zM105.8 405.6h0.8v0.8h-0.8zM78.5 403.3h0.8v0.8h-0.8zM110.7 423.6h0.8v0.8h-0.8zM105.4 413.4h0.8v0.8h-0.8zM127.1 423.8h0.8v0.8h-0.8zM113.9 439.5h0.8v0.8h-0.8zM93.9 405.1h0.8v0.8h-0.8zM126.6 406.1h0.8v0.8h-0.8zM97.3 404.5h0.8v0.8h-0.8zM85.2 405.7h0.8v0.8h-0.8zM124.3 417.7h0.8v0.8h-0.8zM108.5 398.9h0.8v0.8h-0.8zM90.0 404.0h0.8v0.8h-0.8zM83.8 397.2h0.8v0.8h-0.8zM117.2 436.7h0.8v0.8h-0.8zM94.2 424.1h0.8v0.8h-0.8zM105.4 420.4h0.8v0.8h-0.8zM126.6 401.3h0.8v0.8h-0.8zM115.3 394.0h0.8v0.8h-0.8zM103.5 437.6h0.8v0.8h-0.8zM127.7 416.6h0.8v0.8h-0.8zM109.5 398.3h0.8v0.8h-0.8zM96.9 428.0h0.8v0.8h-0.8zM97.7 425.5h0.8v0.8h-0.8zM108.6 412.3h0.8v0.8h-0.8zM94.1 422.8h0.8v0.8h-0.8zM105.2 419.2h0.8v0.8h-0.8zM108.6 397.9h0.8v0.8h-0.8zM123.4 399.3h0.8v0.8h-0.8zM114.1 409.1h0.8v0.8h-0.8zM101.8 412.0h0.8v0.8h-0.8zM85.1 397.8h0.8v0.8h-0.8zM104.4 444.6h0.8v0.8h-0.8zM104.4 412.1h0.8v0.8h-0.8zM119.1 396.4h0.8v0.8h-0.8zM110.0 408.4h0.8v0.8h-0.8zM122.7 435.2h0.8v0.8h-0.8zM119.6 404.2h0.8v0.8h-0.8zM90.6 396.0h0.8v0.8h-0.8zM95.8 395.0h0.8v0.8h-0.8zM104.1 433.1h0.8v0.8h-0.8zM82.4 407.9h0.8v0.8h-0.8zM127.8 404.9h0.8v0.8h-0.8zM100.5 424.1h0.8v0.8h-0.8zM117.9 409.4h0.8v0.8h-0.8zM96.3 423.0h0.8v0.8h-0.8zM89.9 411.9h0.8v0.8h-0.8zM95.0 403.7h0.8v0.8h-0.8zM78.9 404.2h0.8v0.8h-0.8zM106.5 397.2h0.8v0.8h-0.8zM86.9 394.3h0.8v0.8h-0.8zM91.7 426.0h0.8v0.8h-0.8zM90.1 401.6h0.8v0.8h-0.8zM120.9 419.7h0.8v0.8h-0.8zM99.2 397.2h0.8v0.8h-0.8zM108.9 432.1h0.8v0.8h-0.8zM80.2 403.8h0.8v0.8h-0.8zM96.4 407.4h0.8v0.8h-0.8zM92.8 425.5h0.8v0.8h-0.8zM110.4 405.5h0.8v0.8h-0.8zM95.6 433.8h0.8v0.8h-0.8zM106.9 404.4h0.8v0.8h-0.8zM113.6 449.0h0.8v0.8h-0.8zM111.3 403.8h0.8v0.8h-0.8zM81.5 401.9h0.8v0.8h-0.8zM97.0 429.1h0.8v0.8h-0.8zM102.8 412.2h0.8v0.8h-0.8zM115.9 442.1h0.8v0.8h-0.8zM107.6 394.1h0.8v0.8h-0.8zM101.1 408.5h0.8v0.8h-0.8zM98.7 436.3h0.8v0.8h-0.8zM122.5 409.1h0.8v0.8h-0.8zM102.6 407.2h0.8v0.8h-0.8zM119.2 411.4h0.8v0.8h-0.8zM115.0 422.2h0.8v0.8h-0.8zM80.0 405.2h0.8v0.8h-0.8zM105.7 423.0h0.8v0.8h-0.8zM116.5 430.2h0.8v0.8h-0.8zM89.0 395.2h0.8v0.8h-0.8zM118.9 394.6h0.8v0.8h-0.8zM82.4 394.9h0.8v0.8h-0.8zM106.2 428.8h0.8v0.8h-0.8zM112.0 394.3h0.8v0.8h-0.8zM102.1 425.4h0.8v0.8h-0.8zM112.6 394.3h0.8v0.8h-0.8zM107.2 406.1h0.8v0.8h-0.8zM118.8 451.8h0.8v0.8h-0.8zM103.9 402.1h0.8v0.8h-0.8zM127.4 394.0h0.8v0.8h-0.8zM91.1 399.7h0.8v0.8h-0.8zM90.8 401.2h0.8v0.8h-0.8zM105.8 438.1h0.8v0.8h-0.8zM99.0 411.3h0.8v0.8h-0.8zM93.2 394.3h0.8v0.8h-0.8zM118.1 438.8h0.8v0.8h-0.8zM80.6 397.3h0.8v0.8h-0.8zM96.7 412.9h0.8v0.8h-0.8zM102.4 408.6h0.8v0.8h-0.8zM96.3 416.0h0.8v0.8h-0.8zM105.8 443.9h0.8v0.8h-0.8zM93.7 394.3h0.8v0.8h-0.8zM98.4 412.7h0.8v0.8h-0.8zM94.2 414.8h0.8v0.8h-0.8zM117.8 399.6h0.8v0.8h-0.8zM113.5 400.3h0.8v0.8h-0.8zM107.6 433.0h0.8v0.8h-0.8zM124.7 408.0h0.8v0.8h-0.8zM121.9 407.5h0.8v0.8h-0.8zM99.7 394.3h0.8v0.8h-0.8zM80.4 419.9h0.8v0.8h-0.8zM87.0 416.9h0.8v0.8h-0.8zM106.1 444.2h0.8v0.8h-0.8zM102.9 432.9h0.8v0.8h-0.8zM111.7 422.5h0.8v0.8h-0.8zM88.6 400.4h0.8v0.8h-0.8zM82.8 394.9h0.8v0.8h-0.8zM125.5 431.4h0.8v0.8h-0.8zM110.9 405.9h0.8v0.8h-0.8zM123.3 399.0h0.8v0.8h-0.8zM85.7 423.4h0.8v0.8h-0.8zM112.8 394.3h0.8v0.8h-0.8zM119.8 394.2h0.8v0.8h-0.8zM89.6 400.4h0.8v0.8h-0.8zM93.9 415.9h0.8v0.8h-0.8zM85.7 414.5h0.8v0.8h-0.8zM127.0 432.8h0.8v0.8h-0.8zM79.6 404.7h0.8v0.8h-0.8zM110.0 404.2h0.8v0.8h-0.8zM105.3 397.9h0.8v0.8h-0.8zM101.2 394.8h0.8v0.8h-0.8zM99.5 426.8h0.8v0.8h-0.8zM83.7 422.9h0.8v0.8h-0.8zM127.8 444.2h0.8v0.8h-0.8zM95.4 400.3h0.8v0.8h-0.8zM102.8 428.6h0.8v0.8h-0.8zM121.2 409.8h0.8v0.8h-0.8zM105.0 417.0h0.8v0.8h-0.8zM85.0 394.7h0.8v0.8h-0.8zM122.7 399.5h0.8v0.8h-0.8zM126.4 417.0h0.8v0.8h-0.8zM125.2 402.5h0.8v0.8h-0.8zM80.5 421.2h0.8v0.8h-0.8zM100.5 402.0h0.8v0.8h-0.8zM115.1 398.7h0.8v0.8h-0.8zM117.4 396.6h0.8v0.8h-0.8zM81.5 400.6h0.8v0.8h-0.8zM82.8 414.4h0.8v0.8h-0.8zM117.4 413.9h0.8v0.8h-0.8zM101.1 416.8h0.8v0.8h-0.8zM103.7 394.1h0.8v0.8h-0.8zM110.3 394.9h0.8v0.8h-0.8zM106.9 395.5h0.8v0.8h-0.8zM96.7 402.9h0.8v0.8h-0.8zM86.2 421.7h0.8v0.8h-0.8zM125.1 396.4h0.8v0.8h-0.8zM120.1 402.0h0.8v0.8h-0.8zM102.0 439.5h0.8v0.8h-0.8zM82.7 395.9h0.8v0.8h-0.8zM104.8 410.4h0.8v0.8h-0.8zM101.4 395.2h0.8v0.8h-0.8zM104.8 396.2h0.8v0.8h-0.8zM96.3 411.1h0.8v0.8h-0.8zM98.2 397.1h0.8v0.8h-0.8zM84.4 397.3h0.8v0.8h-0.8zM121.6 398.4h0.8v0.8h-0.8zM122.5 410.8h0.8v0.8h-0.8zM125.2 394.0h0.8v0.8h-0.8zM117.6 410.0h0.8v0.8h-0.8zM112.4 415.1h0.8v0.8h-0.8zM115.5 398.1h0.8v0.8h-0.8zM91.2 396.0h0.8v0.8h-0.8zM97.7 394.1h0.8v0.8h-0.8zM92.6 411.8h0.8v0.8h-0.8zM89.7 415.7h0.8v0.8h-0.8zM117.2 416.8h0.8v0.8h-0.8zM108.0 398.6h0.8v0.8h-0.8zM112.6 418.4h0.8v0.8h-0.8zM101.1 433.7h0.8v0.8h-0.8zM82.4 405.5h0.8v0.8h-0.8zM114.7 398.6h0.8v0.8h-0.8zM85.6 422.9h0.8v0.8h-0.8zM85.0 402.5h0.8v0.8h-0.8zM89.0 397.1h0.8v0.8h-0.8zM126.8 401.9h0.8v0.8h-0.8zM117.6 451.7h0.8v0.8h-0.8zM102.9 409.5h0.8v0.8h-0.8zM123.4 431.0h0.8v0.8h-0.8zM109.8 428.7h0.8v0.8h-0.8zM109.3 397.2h0.8v0.8h-0.8zM117.3 436.9h0.8v0.8h-0.8zM113.9 394.8h0.8v0.8h-0.8zM86.1 402.7h0.8v0.8h-0.8zM111.6 448.5h0.8v0.8h-0.8zM124.9 435.3h0.8v0.8h-0.8zM115.2 442.4h0.8v0.8h-0.8zM118.1 435.7h0.8v0.8h-0.8zM99.8 416.5h0.8v0.8h-0.8zM117.2 435.0h0.8v0.8h-0.8zM117.4 448.7h0.8v0.8h-0.8zM119.9 398.9h0.8v0.8h-0.8zM87.9 398.2h0.8v0.8h-0.8zM89.8 408.2h0.8v0.8h-0.8zM123.4 410.2h0.8v0.8h-0.8zM113.5 423.4h0.8v0.8h-0.8zM117.2 404.7h0.8v0.8h-0.8zM112.1 432.3h0.8v0.8h-0.8zM119.3 446.1h0.8v0.8h-0.8zM82.4 405.5h0.8v0.8h-0.8zM119.8 420.9h0.8v0.8h-0.8zM107.7 402.3h0.8v0.8h-0.8zM117.6 436.0h0.8v0.8h-0.8zM102.5 394.0h0.8v0.8h-0.8zM83.5 394.0h0.8v0.8h-0.8zM98.9 433.9h0.8v0.8h-0.8zM100.9 417.5h0.8v0.8h-0.8zM88.7 402.1h0.8v0.8h-0.8zM120.2 402.9h0.8v0.8h-0.8zM92.6 418.5h0.8v0.8h-0.8zM91.6 394.7h0.8v0.8h-0.8zM100.1 424.6h0.8v0.8h-0.8zM118.4 421.5h0.8v0.8h-0.8zM112.1 395.3h0.8v0.8h-0.8zM119.1 394.2h0.8v0.8h-0.8zM91.6 396.8h0.8v0.8h-0.8zM122.5 397.9h0.8v0.8h-0.8zM122.7 417.8h0.8v0.8h-0.8zM103.0 404.9h0.8v0.8h-0.8zM78.0 412.3h0.8v0.8h-0.8zM125.3 396.5h0.8v0.8h-0.8zM118.5 408.0h0.8v0.8h-0.8zM95.6 398.8h0.8v0.8h-0.8zM105.6 394.9h0.8v0.8h-0.8zM103.7 438.4h0.8v0.8h-0.8zM124.4 404.0h0.8v0.8h-0.8zM111.3 441.4h0.8v0.8h-0.8zM109.2 394.6h0.8v0.8h-0.8zM125.9 407.5h0.8v0.8h-0.8zM111.1 403.3h0.8v0.8h-0.8zM96.8 419.4h0.8v0.8h-0.8zM111.8 412.0h0.8v0.8h-0.8zM102.9 442.7h0.8v0.8h-0.8zM126.8 403.4h0.8v0.8h-0.8zM119.7 394.3h0.8v0.8h-0.8zM105.9 423.2h0.8v0.8h-0.8zM115.6 407.7h0.8v0.8h-0.8zM114.4 441.1h0.8v0.8h-0.8zM84.8 401.7h0.8v0.8h-0.8zM122.6 447.2h0.8v0.8h-0.8zM107.4 395.8h0.8v0.8h-0.8zM80.3 415.5h0.8v0.8h-0.8zM115.4 404.8h0.8v0.8h-0.8zM92.0 420.1h0.8v0.8h-0.8zM92.6 429.6h0.8v0.8h-0.8zM99.0 413.4h0.8v0.8h-0.8zM110.4 449.7h0.8v0.8h-0.8zM111.8 433.2h0.8v0.8h-0.8zM126.2 404.2h0.8v0.8h-0.8zM112.5 425.3h0.8v0.8h-0.8zM86.1 399.8h0.8v0.8h-0.8zM119.3 415.4h0.8v0.8h-0.8zM95.4 432.3h0.8v0.8h-0.8zM103.8 395.7h0.8v0.8h-0.8zM80.7 401.1h0.8v0.8h-0.8zM97.1 400.5h0.8v0.8h-0.8zM126.1 448.6h0.8v0.8h-0.8zM93.5 396.8h0.8v0.8h-0.8zM99.9 401.5h0.8v0.8h-0.8zM91.0 395.1h0.8v0.8h-0.8zM97.3 404.8h0.8v0.8h-0.8zM123.4 397.3h0.8v0.8h-0.8zM119.9 407.8h0.8v0.8h-0.8zM116.9 419.8h0.8v0.8h-0.8zM85.6 401.2h0.8v0.8h-0.8zM101.5 429.1h0.8v0.8h-0.8zM111.5 414.3h0.8v0.8h-0.8zM91.8 428.8h0.8v0.8h-0.8zM123.9 403.3h0.8v0.8h-0.8zM92.4 412.5h0.8v0.8h-0.8zM91.0 419.3h0.8v0.8h-0.8zM106.3 435.2h0.8v0.8h-0.8zM125.0 402.9h0.8v0.8h-0.8zM90.2 399.3h0.8v0.8h-0.8zM105.4 394.5h0.8v0.8h-0.8zM111.9 428.9h0.8v0.8h-0.8zM118.4 405.8h0.8v0.8h-0.8zM93.3 395.1h0.8v0.8h-0.8zM126.4 420.3h0.8v0.8h-0.8zM112.6 419.5h0.8v0.8h-0.8zM97.7 430.6h0.8v0.8h-0.8zM115.1 445.9h0.8v0.8h-0.8zM97.6 402.4h0.8v0.8h-0.8zM95.5 433.3h0.8v0.8h-0.8zM121.6 396.8h0.8v0.8h-0.8zM104.1 412.6h0.8v0.8h-0.8zM123.1 422.2h0.8v0.8h-0.8zM94.9 395.5h0.8v0.8h-0.8zM98.7 394.4h0.8v0.8h-0.8zM120.6 410.8h0.8v0.8h-0.8zM106.9 422.0h0.8v0.8h-0.8zM106.7 405.3h0.8v0.8h-0.8zM120.2 399.6h0.8v0.8h-0.8zM119.9 431.8h0.8v0.8h-0.8zM111.6 395.9h0.8v0.8h-0.8zM103.0 428.9h0.8v0.8h-0.8zM122.9 441.8h0.8v0.8h-0.8zM119.0 428.0h0.8v0.8h-0.8zM121.9 420.6h0.8v0.8h-0.8zM113.2 395.5h0.8v0.8h-0.8zM108.6 424.8h0.8v0.8h-0.8zM81.4 399.7h0.8v0.8h-0.8zM119.2 417.4h0.8v0.8h-0.8zM88.7 399.6h0.8v0.8h-0.8zM82.7 397.9h0.8v0.8h-0.8zM126.7 422.7h0.8v0.8h-0.8zM96.0 433.0h0.8v0.8h-0.8zM81.6 424.5h0.8v0.8h-0.8zM109.5 394.0h0.8v0.8h-0.8zM91.8 395.7h0.8v0.8h-0.8zM100.3 394.4h0.8v0.8h-0.8zM118.4 414.1h0.8v0.8h-0.8zM119.4 394.2h0.8v0.8h-0.8zM89.2 395.1h0.8v0.8h-0.8zM95.0 419.2h0.8v0.8h-0.8zM106.4 401.9h0.8v0.8h-0.8zM117.7 397.7h0.8v0.8h-0.8zM120.0 397.5h0.8v0.8h-0.8zM104.9 433.6h0.8v0.8h-0.8zM116.9 394.1h0.8v0.8h-0.8zM103.2 394.1h0.8v0.8h-0.8zM81.2 406.4h0.8v0.8h-0.8zM114.2 419.2h0.8v0.8h-0.8zM98.0 416.1h0.8v0.8h-0.8zM107.4 411.4h0.8v0.8h-0.8zM121.4 398.0h0.8v0.8h-0.8zM118.2 451.6h0.8v0.8h-0.8zM84.7 409.4h0.8v0.8h-0.8zM112.1 408.0h0.8v0.8h-0.8zM100.7 425.2h0.8v0.8h-0.8zM87.5 402.4h0.8v0.8h-0.8zM92.1 405.3h0.8v0.8h-0.8zM114.8 397.0h0.8v0.8h-0.8zM99.9 411.6h0.8v0.8h-0.8zM113.2 397.1h0.8v0.8h-0.8zM91.3 397.1h0.8v0.8h-0.8zM113.1 414.4h0.8v0.8h-0.8zM115.4 449.2h0.8v0.8h-0.8zM124.0 446.7h0.8v0.8h-0.8zM114.0 426.3h0.8v0.8h-0.8zM88.3 394.4h0.8v0.8h-0.8zM121.2 394.0h0.8v0.8h-0.8zM109.5 426.3h0.8v0.8h-0.8zM95.8 399.3h0.8v0.8h-0.8zM109.6 396.2h0.8v0.8h-0.8zM86.8 394.2h0.8v0.8h-0.8zM122.9 403.0h0.8v0.8h-0.8zM100.8 433.2h0.8v0.8h-0.8zM83.3 395.0h0.8v0.8h-0.8zM116.9 396.0h0.8v0.8h-0.8zM127.5 409.0h0.8v0.8h-0.8zM117.7 443.1h0.8v0.8h-0.8zM119.1 409.3h0.8v0.8h-0.8zM83.4 395.4h0.8v0.8h-0.8zM103.4 414.7h0.8v0.8h-0.8zM90.6 397.5h0.8v0.8h-0.8zM123.4 394.1h0.8v0.8h-0.8zM125.3 425.3h0.8v0.8h-0.8zM97.2 427.1h0.8v0.8h-0.8zM120.1 433.9h0.8v0.8h-0.8zM78.6 395.6h0.8v0.8h-0.8zM107.3 397.6h0.8v0.8h-0.8zM78.5 404.1h0.8v0.8h-0.8zM117.3 435.5h0.8v0.8h-0.8zM80.2 408.5h0.8v0.8h-0.8zM104.7 440.9h0.8v0.8h-0.8zM94.2 394.5h0.8v0.8h-0.8zM122.3 418.9h0.8v0.8h-0.8zM110.0 409.7h0.8v0.8h-0.8zM90.2 397.4h0.8v0.8h-0.8zM107.6 395.0h0.8v0.8h-0.8zM88.0 395.4h0.8v0.8h-0.8zM107.3 408.1h0.8v0.8h-0.8zM113.3 419.7h0.8v0.8h-0.8zM81.4 407.2h0.8v0.8h-0.8zM98.0 408.9h0.8v0.8h-0.8zM113.7 422.4h0.8v0.8h-0.8zM110.5 398.4h0.8v0.8h-0.8zM101.6 423.9h0.8v0.8h-0.8zM123.5 395.7h0.8v0.8h-0.8zM81.1 417.1h0.8v0.8h-0.8zM127.3 398.4h0.8v0.8h-0.8zM97.6 398.1h0.8v0.8h-0.8zM119.2 431.8h0.8v0.8h-0.8zM115.1 419.5h0.8v0.8h-0.8zM82.7 394.2h0.8v0.8h-0.8zM118.1 449.5h0.8v0.8h-0.8zM80.4 394.2h0.8v0.8h-0.8zM124.5 398.5h0.8v0.8h-0.8zM111.6 397.8h0.8v0.8h-0.8zM109.9 444.9h0.8v0.8h-0.8zM78.9 396.0h0.8v0.8h-0.8zM113.5 449.2h0.8v0.8h-0.8zM118.4 396.8h0.8v0.8h-0.8zM103.6 396.2h0.8v0.8h-0.8zM117.3 395.0h0.8v0.8h-0.8zM123.8 441.0h0.8v0.8h-0.8zM120.6 394.0h0.8v0.8h-0.8zM119.1 414.2h0.8v0.8h-0.8zM109.0 410.8h0.8v0.8h-0.8zM118.0 416.7h0.8v0.8h-0.8zM80.7 394.6h0.8v0.8h-0.8zM92.5 413.5h0.8v0.8h-0.8zM78.4 405.0h0.8v0.8h-0.8zM118.6 435.4h0.8v0.8h-0.8zM84.1 408.2h0.8v0.8h-0.8zM88.4 420.7h0.8v0.8h-0.8zM83.5 406.6h0.8v0.8h-0.8zM82.7 402.9h0.8v0.8h-0.8zM120.5 426.9h0.8v0.8h-0.8zM93.1 403.6h0.8v0.8h-0.8zM126.9 417.6h0.8v0.8h-0.8zM83.7 394.5h0.8v0.8h-0.8zM107.9 423.9h0.8v0.8h-0.8zM100.8 411.9h0.8v0.8h-0.8zM108.6 405.5h0.8v0.8h-0.8zM123.8 420.6h0.8v0.8h-0.8zM117.8 427.1h0.8v0.8h-0.8zM119.9 443.2h0.8v0.8h-0.8zM120.5 423.0h0.8v0.8h-0.8zM121.9 406.7h0.8v0.8h-0.8zM125.1 396.6h0.8v0.8h-0.8zM113.3 407.3h0.8v0.8h-0.8zM93.0 398.9h0.8v0.8h-0.8zM94.2 402.7h0.8v0.8h-0.8zM100.1 394.8h0.8v0.8h-0.8zM110.7 450.0h0.8v0.8h-0.8zM116.1 445.1h0.8v0.8h-0.8zM127.7 436.1h0.8v0.8h-0.8zM91.7 428.8h0.8v0.8h-0.8zM98.6 398.8h0.8v0.8h-0.8zM89.5 394.1h0.8v0.8h-0.8zM124.0 440.7h0.8v0.8h-0.8zM116.5 401.8h0.8v0.8h-0.8zM122.5 430.7h0.8v0.8h-0.8zM104.6 432.3h0.8v0.8h-0.8zM119.3 395.0h0.8v0.8h-0.8zM109.3 401.2h0.8v0.8h-0.8zM104.9 403.6h0.8v0.8h-0.8zM110.5 412.6h0.8v0.8h-0.8zM124.9 413.0h0.8v0.8h-0.8zM123.7 405.5h0.8v0.8h-0.8zM126.4 423.7h0.8v0.8h-0.8zM88.6 394.8h0.8v0.8h-0.8zM123.3 400.1h0.8v0.8h-0.8zM91.0 394.0h0.8v0.8h-0.8zM127.5 425.8h0.8v0.8h-0.8zM99.9 396.6h0.8v0.8h-0.8zM112.5 423.5h0.8v0.8h-0.8zM115.7 428.2h0.8v0.8h-0.8zM90.9 398.7h0.8v0.8h-0.8zM112.6 394.1h0.8v0.8h-0.8zM91.0 397.5h0.8v0.8h-0.8zM110.2 448.3h0.8v0.8h-0.8zM110.8 416.5h0.8v0.8h-0.8zM112.7 417.0h0.8v0.8h-0.8zM81.2 400.8h0.8v0.8h-0.8zM78.7 394.4h0.8v0.8h-0.8z" fill="#4a58c0" fill-opacity="0.45"/>
<path d="M95.5 415.1h0.8v0.8h-0.8zM102.0 417.3h0.8v0.8h-0.8zM92.0 406.4h0.8v0.8h-0.8zM85.1 407.0h0.8v0.8h-0.8zM104.5 429.7h0.8v0.8h-0.8zM86.7 400.1h0.8v0.8h-0.8zM114.7 434.8h0.8v0.8h-0.8zM91.8 400.4h0.8v0.8h-0.8zM106.1 426.9h0.8v0.8h-0.8zM89.6 404.3h0.8v0.8h-0.8zM103.8 421.9h0.8v0.8h-0.8zM88.9 407.4h0.8v0.8h-0.8zM115.8 444.1h0.8v0.8h-0.8zM102.6 423.7h0.8v0.8h-0.8zM83.0 396.5h0.8v0.8h-0.8zM115.1 444.5h0.8v0.8h-0.8zM87.3 400.1h0.8v0.8h-0.8zM94.5 413.0h0.8v0.8h-0.8zM91.3 404.5h0.8v0.8h-0.8zM95.8 410.4h0.8v0.8h-0.8zM89.3 411.0h0.8v0.8h-0.8zM94.1 409.0h0.8v0.8h-0.8zM115.4 436.8h0.8v0.8h-0.8zM112.1 434.3h0.8v0.8h-0.8zM99.0 420.1h0.8v0.8h-0.8zM108.2 429.3h0.8v0.8h-0.8zM99.8 421.4h0.8v0.8h-0.8zM98.3 417.8h0.8v0.8h-0.8zM91.5 415.4h0.8v0.8h-0.8zM102.9 422.8h0.8v0.8h-0.8zM106.0 425.4h0.8v0.8h-0.8zM117.1 436.5h0.8v0.8h-0.8zM114.9 437.1h0.8v0.8h-0.8zM88.8 402.6h0.8v0.8h-0.8zM84.7 412.8h0.8v0.8h-0.8zM98.5 415.4h0.8v0.8h-0.8zM97.9 420.1h0.8v0.8h-0.8zM105.4 427.8h0.8v0.8h-0.8zM116.5 439.7h0.8v0.8h-0.8zM81.4 393.5h0.8v0.8h-0.8zM80.5 400.6h0.8v0.8h-0.8zM101.5 426.4h0.8v0.8h-0.8zM103.3 421.1h0.8v0.8h-0.8zM113.3 429.0h0.8v0.8h-0.8zM110.7 442.0h0.8v0.8h-0.8zM88.8 412.3h0.8v0.8h-0.8zM115.4 437.6h0.8v0.8h-0.8zM82.5 400.5h0.8v0.8h-0.8zM88.9 399.4h0.8v0.8h-0.8zM114.0 441.8h0.8v0.8h-0.8zM83.5 397.4h0.8v0.8h-0.8zM95.5 417.1h0.8v0.8h-0.8zM101.8 418.3h0.8v0.8h-0.8zM90.3 404.2h0.8v0.8h-0.8zM117.0 440.9h0.8v0.8h-0.8zM115.9 443.0h0.8v0.8h-0.8zM94.2 411.5h0.8v0.8h-0.8zM96.9 421.7h0.8v0.8h-0.8zM81.1 395.6h0.8v0.8h-0.8zM96.2 414.1h0.8v0.8h-0.8zM87.0 406.3h0.8v0.8h-0.8zM117.1 440.5h0.8v0.8h-0.8zM98.1 414.8h0.8v0.8h-0.8zM84.1 403.4h0.8v0.8h-0.8zM101.6 424.1h0.8v0.8h-0.8zM112.4 426.9h0.8v0.8h-0.8zM116.0 450.0h0.8v0.8h-0.8zM99.8 418.7h0.8v0.8h-0.8zM87.0 402.8h0.8v0.8h-0.8zM95.4 408.0h0.8v0.8h-0.8zM94.3 413.9h0.8v0.8h-0.8zM110.0 427.0h0.8v0.8h-0.8zM86.3 410.2h0.8v0.8h-0.8zM104.1 412.5h0.8v0.8h-0.8zM116.9 440.3h0.8v0.8h-0.8zM113.5 434.3h0.8v0.8h-0.8zM106.9 430.7h0.8v0.8h-0.8zM93.0 412.3h0.8v0.8h-0.8zM84.5 394.1h0.8v0.8h-0.8zM97.7 409.9h0.8v0.8h-0.8zM80.1 399.6h0.8v0.8h-0.8zM107.0 425.3h0.8v0.8h-0.8zM116.7 434.7h0.8v0.8h-0.8zM98.5 415.2h0.8v0.8h-0.8zM99.9 412.6h0.8v0.8h-0.8zM90.2 403.1h0.8v0.8h-0.8zM106.0 423.3h0.8v0.8h-0.8zM90.3 411.2h0.8v0.8h-0.8zM84.3 403.3h0.8v0.8h-0.8zM98.9 418.8h0.8v0.8h-0.8zM114.7 435.4h0.8v0.8h-0.8zM106.5 428.8h0.8v0.8h-0.8zM101.6 419.1h0.8v0.8h-0.8zM85.2 414.1h0.8v0.8h-0.8zM110.7 424.0h0.8v0.8h-0.8zM103.8 412.2h0.8v0.8h-0.8zM89.2 402.0h0.8v0.8h-0.8zM92.1 402.6h0.8v0.8h-0.8zM114.0 429.0h0.8v0.8h-0.8zM91.0 406.9h0.8v0.8h-0.8zM108.0 430.4h0.8v0.8h-0.8zM83.2 405.0h0.8v0.8h-0.8zM82.3 402.1h0.8v0.8h-0.8zM107.9 427.8h0.8v0.8h-0.8zM89.8 397.5h0.8v0.8h-0.8zM86.4 409.5h0.8v0.8h-0.8zM92.0 414.3h0.8v0.8h-0.8zM91.9 409.6h0.8v0.8h-0.8zM89.6 408.6h0.8v0.8h-0.8zM106.9 436.1h0.8v0.8h-0.8zM107.3 433.5h0.8v0.8h-0.8zM90.5 403.1h0.8v0.8h-0.8zM85.2 406.5h0.8v0.8h-0.8zM95.6 410.6h0.8v0.8h-0.8zM110.9 429.4h0.8v0.8h-0.8zM104.0 429.9h0.8v0.8h-0.8zM111.2 428.3h0.8v0.8h-0.8zM84.4 396.4h0.8v0.8h-0.8zM87.7 410.0h0.8v0.8h-0.8zM85.1 399.8h0.8v0.8h-0.8zM89.7 411.7h0.8v0.8h-0.8zM110.4 430.0h0.8v0.8h-0.8zM89.4 414.2h0.8v0.8h-0.8zM104.5 419.9h0.8v0.8h-0.8zM88.5 413.4h0.8v0.8h-0.8zM92.0 411.9h0.8v0.8h-0.8zM110.9 423.4h0.8v0.8h-0.8zM116.9 434.1h0.8v0.8h-0.8zM93.3 409.6h0.8v0.8h-0.8zM104.3 424.4h0.8v0.8h-0.8zM102.5 429.0h0.8v0.8h-0.8zM112.6 435.6h0.8v0.8h-0.8zM84.5 402.8h0.8v0.8h-0.8zM94.7 407.2h0.8v0.8h-0.8zM110.4 431.7h0.8v0.8h-0.8zM94.8 414.6h0.8v0.8h-0.8zM106.3 430.4h0.8v0.8h-0.8zM98.6 409.7h0.8v0.8h-0.8zM92.1 417.4h0.8v0.8h-0.8zM115.1 435.6h0.8v0.8h-0.8zM97.6 414.1h0.8v0.8h-0.8zM86.6 398.3h0.8v0.8h-0.8zM84.6 404.9h0.8v0.8h-0.8zM95.1 414.1h0.8v0.8h-0.8zM109.2 431.2h0.8v0.8h-0.8zM99.4 421.7h0.8v0.8h-0.8zM83.2 408.5h0.8v0.8h-0.8zM87.3 404.9h0.8v0.8h-0.8zM85.1 403.0h0.8v0.8h-0.8zM89.3 412.7h0.8v0.8h-0.8zM96.9 418.1h0.8v0.8h-0.8zM91.5 407.8h0.8v0.8h-0.8zM91.2 398.4h0.8v0.8h-0.8zM110.9 438.1h0.8v0.8h-0.8zM103.3 428.8h0.8v0.8h-0.8zM107.7 425.5h0.8v0.8h-0.8zM89.7 405.5h0.8v0.8h-0.8zM110.7 435.4h0.8v0.8h-0.8zM86.7 411.7h0.8v0.8h-0.8zM88.2 400.8h0.8v0.8h-0.8zM88.2 400.7h0.8v0.8h-0.8zM86.3 410.4h0.8v0.8h-0.8zM112.9 433.9h0.8v0.8h-0.8zM107.0 423.4h0.8v0.8h-0.8zM114.9 446.6h0.8v0.8h-0.8zM111.3 437.1h0.8v0.8h-0.8zM94.6 417.6h0.8v0.8h-0.8zM86.4 413.5h0.8v0.8h-0.8zM94.7 407.4h0.8v0.8h-0.8zM109.3 441.0h0.8v0.8h-0.8zM113.4 431.3h0.8v0.8h-0.8zM109.6 426.2h0.8v0.8h-0.8zM103.5 432.1h0.8v0.8h-0.8zM85.5 402.5h0.8v0.8h-0.8zM109.9 440.4h0.8v0.8h-0.8zM113.1 431.7h0.8v0.8h-0.8zM115.7 429.9h0.8v0.8h-0.8zM108.4 428.4h0.8v0.8h-0.8zM100.4 422.3h0.8v0.8h-0.8zM110.8 421.0h0.8v0.8h-0.8zM89.1 410.2h0.8v0.8h-0.8zM85.5 403.2h0.8v0.8h-0.8zM110.8 433.3h0.8v0.8h-0.8zM84.4 397.5h0.8v0.8h-0.8zM96.4 422.6h0.8v0.8h-0.8zM115.6 444.6h0.8v0.8h-0.8zM111.0 437.6h0.8v0.8h-0.8zM107.3 438.2h0.8v0.8h-0.8zM104.2 426.2h0.8v0.8h-0.8zM110.1 432.2h0.8v0.8h-0.8zM98.6 410.4h0.8v0.8h-0.8zM88.6 410.3h0.8v0.8h-0.8zM116.3 435.8h0.8v0.8h-0.8zM116.9 437.9h0.8v0.8h-0.8zM97.2 411.0h0.8v0.8h-0.8zM82.6 400.5h0.8v0.8h-0.8zM109.7 433.9h0.8v0.8h-0.8zM109.2 426.0h0.8v0.8h-0.8zM115.4 434.8h0.8v0.8h-0.8zM94.8 402.8h0.8v0.8h-0.8zM88.8 410.7h0.8v0.8h-0.8zM109.1 434.6h0.8v0.8h-0.8zM99.6 416.6h0.8v0.8h-0.8zM118.4 438.2h0.8v0.8h-0.8zM112.0 441.4h0.8v0.8h-0.8zM102.0 411.1h0.8v0.8h-0.8zM95.9 411.6h0.8v0.8h-0.8zM79.6 398.8h0.8v0.8h-0.8zM116.1 434.1h0.8v0.8h-0.8zM114.8 436.1h0.8v0.8h-0.8zM105.2 419.5h0.8v0.8h-0.8zM103.6 427.3h0.8v0.8h-0.8zM95.4 415.2h0.8v0.8h-0.8zM86.7 402.0h0.8v0.8h-0.8zM107.8 424.4h0.8v0.8h-0.8zM90.3 408.4h0.8v0.8h-0.8zM104.5 421.4h0.8v0.8h-0.8zM102.6 414.4h0.8v0.8h-0.8zM107.3 424.0h0.8v0.8h-0.8zM112.6 432.5h0.8v0.8h-0.8zM115.4 438.4h0.8v0.8h-0.8zM85.2 393.7h0.8v0.8h-0.8zM85.0 405.7h0.8v0.8h-0.8zM116.6 447.2h0.8v0.8h-0.8zM91.1 411.1h0.8v0.8h-0.8zM95.8 412.4h0.8v0.8h-0.8zM88.0 406.9h0.8v0.8h-0.8zM88.2 411.5h0.8v0.8h-0.8zM87.0 406.4h0.8v0.8h-0.8zM113.4 439.9h0.8v0.8h-0.8zM99.6 424.1h0.8v0.8h-0.8zM87.5 405.8h0.8v0.8h-0.8zM108.7 426.4h0.8v0.8h-0.8zM93.5 415.0h0.8v0.8h-0.8zM106.2 428.8h0.8v0.8h-0.8zM113.0 434.1h0.8v0.8h-0.8zM112.4 429.0h0.8v0.8h-0.8zM106.0 422.0h0.8v0.8h-0.8zM97.0 422.2h0.8v0.8h-0.8zM105.5 413.7h0.8v0.8h-0.8zM85.3 411.4h0.8v0.8h-0.8zM108.6 427.2h0.8v0.8h-0.8zM96.0 410.1h0.8v0.8h-0.8zM96.8 417.2h0.8v0.8h-0.8zM114.4 434.6h0.8v0.8h-0.8zM91.9 412.3h0.8v0.8h-0.8zM96.2 410.4h0.8v0.8h-0.8zM103.1 417.3h0.8v0.8h-0.8zM98.4 422.3h0.8v0.8h-0.8zM104.2 419.8h0.8v0.8h-0.8zM94.3 416.6h0.8v0.8h-0.8zM113.7 435.4h0.8v0.8h-0.8zM94.3 409.3h0.8v0.8h-0.8zM107.8 427.4h0.8v0.8h-0.8zM84.4 397.8h0.8v0.8h-0.8zM91.3 409.0h0.8v0.8h-0.8zM107.8 418.0h0.8v0.8h-0.8zM112.9 434.2h0.8v0.8h-0.8zM86.7 399.3h0.8v0.8h-0.8zM88.9 396.2h0.8v0.8h-0.8zM98.4 419.8h0.8v0.8h-0.8zM105.8 421.8h0.8v0.8h-0.8zM84.1 400.5h0.8v0.8h-0.8zM82.2 392.1h0.8v0.8h-0.8zM86.5 405.4h0.8v0.8h-0.8zM102.1 411.9h0.8v0.8h-0.8zM96.6 412.4h0.8v0.8h-0.8zM96.0 418.1h0.8v0.8h-0.8zM119.4 438.7h0.8v0.8h-0.8zM88.7 408.0h0.8v0.8h-0.8zM94.6 411.0h0.8v0.8h-0.8zM100.9 419.1h0.8v0.8h-0.8zM98.3 410.1h0.8v0.8h-0.8zM99.8 412.4h0.8v0.8h-0.8zM91.3 419.4h0.8v0.8h-0.8zM114.6 430.8h0.8v0.8h-0.8zM87.8 408.4h0.8v0.8h-0.8zM109.6 427.3h0.8v0.8h-0.8zM110.1 431.0h0.8v0.8h-0.8zM108.8 435.3h0.8v0.8h-0.8zM102.3 416.9h0.8v0.8h-0.8zM119.9 435.1h0.8v0.8h-0.8zM103.6 428.3h0.8v0.8h-0.8zM93.9 404.3h0.8v0.8h-0.8zM112.4 417.3h0.8v0.8h-0.8zM105.7 434.6h0.8v0.8h-0.8zM90.8 407.1h0.8v0.8h-0.8zM111.7 434.3h0.8v0.8h-0.8zM118.2 442.5h0.8v0.8h-0.8zM110.8 436.6h0.8v0.8h-0.8zM104.3 418.4h0.8v0.8h-0.8zM98.0 415.1h0.8v0.8h-0.8zM110.9 433.1h0.8v0.8h-0.8zM87.2 398.9h0.8v0.8h-0.8zM108.0 436.6h0.8v0.8h-0.8zM106.8 428.6h0.8v0.8h-0.8zM108.5 435.4h0.8v0.8h-0.8zM89.7 417.8h0.8v0.8h-0.8zM117.5 437.5h0.8v0.8h-0.8zM103.5 414.1h0.8v0.8h-0.8z" fill="#4a58c0" fill-opacity="0.45"/>
<path d="M76.6 408.3h0.8v0.8h-0.8zM76.1 413.5h0.8v0.8h-0.8zM88.0 405.5h0.8v0.8h-0.8zM92.0 401.6h0.8v0.8h-0.8zM90.9 403.2h0.8v0.8h-0.8zM102.0 404.4h0.8v0.8h-0.8zM91.7 401.8h0.8v0.8h-0.8zM86.9 400.6h0.8v0.8h-0.8zM92.1 416.0h0.8v0.8h-0.8zM100.9 406.4h0.8v0.8h-0.8zM105.4 411.1h0.8v0.8h-0.8zM93.7 404.0h0.8v0.8h-0.8zM83.2 406.5h0.8v0.8h-0.8zM89.5 395.5h0.8v0.8h-0.8zM81.7 416.6h0.8v0.8h-0.8zM93.7 408.0h0.8v0.8h-0.8zM93.6 402.2h0.8v0.8h-0.8zM95.7 411.5h0.8v0.8h-0.8zM89.5 408.1h0.8v0.8h-0.8zM100.2 402.1h0.8v0.8h-0.8zM93.4 400.6h0.8v0.8h-0.8zM96.8 402.8h0.8v0.8h-0.8zM101.2 400.4h0.8v0.8h-0.8zM105.5 403.1h0.8v0.8h-0.8zM85.3 399.6h0.8v0.8h-0.8zM97.3 399.9h0.8v0.8h-0.8zM106.4 412.7h0.8v0.8h-0.8zM96.1 396.5h0.8v0.8h-0.8zM91.8 400.6h0.8v0.8h-0.8zM77.5 407.6h0.8v0.8h-0.8zM109.6 401.8h0.8v0.8h-0.8zM98.5 412.7h0.8v0.8h-0.8zM84.3 403.0h0.8v0.8h-0.8zM94.1 407.8h0.8v0.8h-0.8zM82.8 406.3h0.8v0.8h-0.8zM91.1 410.7h0.8v0.8h-0.8zM79.2 401.6h0.8v0.8h-0.8zM88.0 403.1h0.8v0.8h-0.8zM97.8 401.2h0.8v0.8h-0.8zM113.9 400.8h0.8v0.8h-0.8zM98.7 411.1h0.8v0.8h-0.8zM99.7 403.8h0.8v0.8h-0.8zM85.4 403.5h0.8v0.8h-0.8zM97.3 405.7h0.8v0.8h-0.8zM96.7 408.4h0.8v0.8h-0.8zM84.9 399.4h0.8v0.8h-0.8zM103.5 402.1h0.8v0.8h-0.8zM79.3 416.2h0.8v0.8h-0.8zM85.3 399.4h0.8v0.8h-0.8zM99.7 398.2h0.8v0.8h-0.8zM85.0 411.3h0.8v0.8h-0.8zM85.4 420.0h0.8v0.8h-0.8zM92.8 421.1h0.8v0.8h-0.8zM93.0 405.3h0.8v0.8h-0.8zM86.9 403.7h0.8v0.8h-0.8zM88.0 404.9h0.8v0.8h-0.8zM98.2 397.4h0.8v0.8h-0.8zM84.7 392.4h0.8v0.8h-0.8zM104.0 404.6h0.8v0.8h-0.8zM91.9 404.7h0.8v0.8h-0.8zM100.0 406.9h0.8v0.8h-0.8zM98.8 404.0h0.8v0.8h-0.8zM91.0 404.7h0.8v0.8h-0.8zM77.1 411.5h0.8v0.8h-0.8zM79.4 399.0h0.8v0.8h-0.8zM97.4 405.3h0.8v0.8h-0.8zM98.5 415.2h0.8v0.8h-0.8zM106.9 413.3h0.8v0.8h-0.8zM90.2 417.3h0.8v0.8h-0.8zM85.0 404.5h0.8v0.8h-0.8zM100.0 403.7h0.8v0.8h-0.8zM91.0 402.9h0.8v0.8h-0.8zM102.9 390.2h0.8v0.8h-0.8zM102.2 411.4h0.8v0.8h-0.8zM91.4 408.4h0.8v0.8h-0.8zM84.3 411.7h0.8v0.8h-0.8zM116.5 399.5h0.8v0.8h-0.8zM103.2 404.7h0.8v0.8h-0.8zM89.3 402.1h0.8v0.8h-0.8zM90.5 397.5h0.8v0.8h-0.8zM81.1 415.0h0.8v0.8h-0.8zM91.9 408.3h0.8v0.8h-0.8zM94.5 407.9h0.8v0.8h-0.8zM79.8 399.3h0.8v0.8h-0.8zM97.1 411.0h0.8v0.8h-0.8zM82.8 401.5h0.8v0.8h-0.8zM83.5 408.9h0.8v0.8h-0.8zM94.8 405.2h0.8v0.8h-0.8zM86.8 407.1h0.8v0.8h-0.8zM92.3 400.5h0.8v0.8h-0.8zM94.7 401.0h0.8v0.8h-0.8zM99.6 408.8h0.8v0.8h-0.8zM86.5 408.5h0.8v0.8h-0.8zM92.5 400.8h0.8v0.8h-0.8zM84.7 395.0h0.8v0.8h-0.8zM83.0 407.1h0.8v0.8h-0.8zM101.7 401.2h0.8v0.8h-0.8zM93.3 407.1h0.8v0.8h-0.8zM98.2 407.7h0.8v0.8h-0.8zM101.8 409.6h0.8v0.8h-0.8zM85.9 407.4h0.8v0.8h-0.8zM73.3 403.9h0.8v0.8h-0.8zM92.2 408.5h0.8v0.8h-0.8zM89.6 410.0h0.8v0.8h-0.8zM102.6 400.0h0.8v0.8h-0.8zM87.7 406.6h0.8v0.8h-0.8zM95.9 405.9h0.8v0.8h-0.8zM98.6 397.9h0.8v0.8h-0.8zM98.2 412.0h0.8v0.8h-0.8zM100.9 407.6h0.8v0.8h-0.8zM90.1 407.4h0.8v0.8h-0.8zM91.4 395.5h0.8v0.8h-0.8zM87.2 404.8h0.8v0.8h-0.8zM87.9 399.4h0.8v0.8h-0.8zM90.1 402.8h0.8v0.8h-0.8zM92.6 404.7h0.8v0.8h-0.8zM93.4 411.0h0.8v0.8h-0.8zM93.1 407.4h0.8v0.8h-0.8zM82.2 387.3h0.8v0.8h-0.8zM88.8 409.1h0.8v0.8h-0.8zM89.3 401.3h0.8v0.8h-0.8zM82.1 410.4h0.8v0.8h-0.8zM87.8 406.5h0.8v0.8h-0.8zM101.0 408.2h0.8v0.8h-0.8zM109.9 404.2h0.8v0.8h-0.8zM99.6 409.2h0.8v0.8h-0.8zM86.8 405.3h0.8v0.8h-0.8zM87.5 398.9h0.8v0.8h-0.8zM94.4 400.4h0.8v0.8h-0.8zM105.4 400.6h0.8v0.8h-0.8zM87.6 405.5h0.8v0.8h-0.8zM87.9 405.3h0.8v0.8h-0.8zM87.1 396.5h0.8v0.8h-0.8zM72.7 397.3h0.8v0.8h-0.8zM104.2 407.7h0.8v0.8h-0.8zM93.2 402.2h0.8v0.8h-0.8zM90.8 406.8h0.8v0.8h-0.8zM80.9 400.2h0.8v0.8h-0.8zM84.9 412.6h0.8v0.8h-0.8zM83.5 412.0h0.8v0.8h-0.8zM88.3 421.4h0.8v0.8h-0.8zM91.4 405.2h0.8v0.8h-0.8zM102.8 410.2h0.8v0.8h-0.8zM99.5 398.6h0.8v0.8h-0.8zM101.1 415.1h0.8v0.8h-0.8zM91.2 402.1h0.8v0.8h-0.8zM83.3 411.1h0.8v0.8h-0.8zM94.4 405.0h0.8v0.8h-0.8zM82.1 414.7h0.8v0.8h-0.8zM99.0 404.9h0.8v0.8h-0.8zM103.8 399.3h0.8v0.8h-0.8zM99.1 399.0h0.8v0.8h-0.8zM103.3 403.3h0.8v0.8h-0.8zM101.8 402.5h0.8v0.8h-0.8zM95.2 411.9h0.8v0.8h-0.8zM84.8 405.6h0.8v0.8h-0.8zM85.3 410.1h0.8v0.8h-0.8zM87.2 402.8h0.8v0.8h-0.8zM90.4 412.0h0.8v0.8h-0.8zM83.7 404.8h0.8v0.8h-0.8zM89.4 401.7h0.8v0.8h-0.8zM85.7 404.0h0.8v0.8h-0.8zM93.6 395.7h0.8v0.8h-0.8zM93.9 397.9h0.8v0.8h-0.8zM92.1 418.7h0.8v0.8h-0.8zM84.3 404.6h0.8v0.8h-0.8zM90.0 410.9h0.8v0.8h-0.8zM88.2 394.3h0.8v0.8h-0.8zM79.1 406.1h0.8v0.8h-0.8zM94.0 411.4h0.8v0.8h-0.8zM87.7 409.0h0.8v0.8h-0.8zM83.5 412.8h0.8v0.8h-0.8zM91.4 400.9h0.8v0.8h-0.8zM93.4 415.5h0.8v0.8h-0.8zM85.2 397.6h0.8v0.8h-0.8zM83.9 398.1h0.8v0.8h-0.8zM91.6 407.1h0.8v0.8h-0.8zM90.7 406.2h0.8v0.8h-0.8zM101.5 403.3h0.8v0.8h-0.8zM82.0 391.3h0.8v0.8h-0.8zM93.9 400.9h0.8v0.8h-0.8zM90.0 407.5h0.8v0.8h-0.8zM95.7 395.6h0.8v0.8h-0.8zM84.3 405.4h0.8v0.8h-0.8zM90.8 411.9h0.8v0.8h-0.8zM88.0 392.6h0.8v0.8h-0.8zM101.4 395.2h0.8v0.8h-0.8zM84.2 407.3h0.8v0.8h-0.8zM83.5 419.9h0.8v0.8h-0.8zM93.9 408.2h0.8v0.8h-0.8zM88.5 418.3h0.8v0.8h-0.8zM96.3 400.7h0.8v0.8h-0.8zM102.0 394.9h0.8v0.8h-0.8zM87.3 406.7h0.8v0.8h-0.8zM93.1 399.2h0.8v0.8h-0.8zM104.6 413.8h0.8v0.8h-0.8zM84.5 407.2h0.8v0.8h-0.8zM86.9 402.4h0.8v0.8h-0.8zM99.9 405.8h0.8v0.8h-0.8zM91.1 405.6h0.8v0.8h-0.8zM82.6 412.3h0.8v0.8h-0.8zM86.0 412.9h0.8v0.8h-0.8zM88.3 402.3h0.8v0.8h-0.8zM103.9 406.1h0.8v0.8h-0.8zM86.9 401.8h0.8v0.8h-0.8zM96.8 416.2h0.8v0.8h-0.8zM96.9 402.6h0.8v0.8h-0.8zM83.0 401.0h0.8v0.8h-0.8zM91.0 406.5h0.8v0.8h-0.8zM86.8 412.7h0.8v0.8h-0.8zM84.3 400.7h0.8v0.8h-0.8zM96.0 407.9h0.8v0.8h-0.8zM88.9 410.8h0.8v0.8h-0.8zM80.7 414.8h0.8v0.8h-0.8zM109.5 416.7h0.8v0.8h-0.8zM93.0 416.8h0.8v0.8h-0.8zM92.4 413.0h0.8v0.8h-0.8zM90.4 406.2h0.8v0.8h-0.8zM96.2 394.5h0.8v0.8h-0.8zM90.3 415.3h0.8v0.8h-0.8z" fill="#3a48b8" fill-opacity="0.45"/>
<g filter="url(#bl1)">
<polygon points="52,381 79,381 78,392 75,400 76,420 75,435 70,444 57,444 57.5,420 57,405 54,392" fill="#a8b0e4" fill-opacity="0.35"/>
<polygon points="55,382 77,382 72,392 69,402 69,434 58.5,434 58.5,405 57,392" fill="#6878cc" fill-opacity="0.4"/>
<polygon points="58,384 70,384 67,395 66,410 66,434 59,434 59,410 58.5,395" fill="#3444aa" fill-opacity="0.45"/>
</g>
<path d="M63.6 410.3h0.8v0.8h-0.8zM63.1 406.0h0.8v0.8h-0.8zM64.7 426.3h0.8v0.8h-0.8zM63.0 404.6h0.8v0.8h-0.8zM62.6 396.8h0.8v0.8h-0.8zM65.5 440.2h0.8v0.8h-0.8zM63.9 395.1h0.8v0.8h-0.8zM60.2 388.9h0.8v0.8h-0.8zM61.3 413.4h0.8v0.8h-0.8zM64.4 412.4h0.8v0.8h-0.8zM59.4 412.1h0.8v0.8h-0.8zM64.2 434.0h0.8v0.8h-0.8zM60.2 404.5h0.8v0.8h-0.8zM62.2 415.5h0.8v0.8h-0.8zM61.4 437.8h0.8v0.8h-0.8zM59.7 420.2h0.8v0.8h-0.8zM64.1 401.0h0.8v0.8h-0.8zM65.4 406.5h0.8v0.8h-0.8zM65.0 407.1h0.8v0.8h-0.8zM59.4 421.2h0.8v0.8h-0.8zM63.4 395.2h0.8v0.8h-0.8zM58.8 431.5h0.8v0.8h-0.8zM64.0 387.0h0.8v0.8h-0.8zM60.8 420.9h0.8v0.8h-0.8zM63.1 410.5h0.8v0.8h-0.8zM61.6 419.1h0.8v0.8h-0.8zM65.4 420.7h0.8v0.8h-0.8zM59.7 392.7h0.8v0.8h-0.8zM64.9 415.2h0.8v0.8h-0.8zM64.3 418.8h0.8v0.8h-0.8zM58.3 421.3h0.8v0.8h-0.8zM60.5 427.2h0.8v0.8h-0.8zM64.5 407.1h0.8v0.8h-0.8zM60.2 426.7h0.8v0.8h-0.8zM64.5 437.0h0.8v0.8h-0.8zM61.9 388.9h0.8v0.8h-0.8zM67.6 436.0h0.8v0.8h-0.8zM63.6 397.8h0.8v0.8h-0.8zM61.9 430.2h0.8v0.8h-0.8zM56.9 434.4h0.8v0.8h-0.8zM56.3 421.9h0.8v0.8h-0.8zM64.8 394.1h0.8v0.8h-0.8zM61.9 384.8h0.8v0.8h-0.8zM61.3 386.8h0.8v0.8h-0.8zM61.8 392.9h0.8v0.8h-0.8zM67.9 434.4h0.8v0.8h-0.8zM57.2 440.0h0.8v0.8h-0.8zM67.7 398.2h0.8v0.8h-0.8zM62.7 425.1h0.8v0.8h-0.8zM58.3 435.3h0.8v0.8h-0.8zM65.6 433.3h0.8v0.8h-0.8zM63.3 408.4h0.8v0.8h-0.8zM65.0 394.0h0.8v0.8h-0.8zM63.7 424.8h0.8v0.8h-0.8zM60.7 423.0h0.8v0.8h-0.8zM65.4 395.1h0.8v0.8h-0.8zM61.8 412.1h0.8v0.8h-0.8zM62.3 424.0h0.8v0.8h-0.8zM63.2 404.2h0.8v0.8h-0.8zM60.7 423.9h0.8v0.8h-0.8zM66.6 414.7h0.8v0.8h-0.8zM56.9 409.8h0.8v0.8h-0.8zM62.0 393.4h0.8v0.8h-0.8zM64.6 429.7h0.8v0.8h-0.8zM59.4 419.3h0.8v0.8h-0.8zM63.2 417.0h0.8v0.8h-0.8zM63.2 382.4h0.8v0.8h-0.8zM58.4 429.9h0.8v0.8h-0.8zM66.4 419.9h0.8v0.8h-0.8zM66.2 398.4h0.8v0.8h-0.8zM63.9 420.7h0.8v0.8h-0.8zM64.5 421.2h0.8v0.8h-0.8zM59.3 389.3h0.8v0.8h-0.8zM63.7 393.4h0.8v0.8h-0.8zM63.7 405.6h0.8v0.8h-0.8zM63.8 416.9h0.8v0.8h-0.8zM59.0 414.1h0.8v0.8h-0.8zM69.8 430.9h0.8v0.8h-0.8zM67.8 394.7h0.8v0.8h-0.8zM60.3 415.3h0.8v0.8h-0.8zM60.7 429.0h0.8v0.8h-0.8zM58.4 395.4h0.8v0.8h-0.8zM61.3 404.2h0.8v0.8h-0.8zM61.8 419.2h0.8v0.8h-0.8zM62.3 413.9h0.8v0.8h-0.8zM63.2 430.6h0.8v0.8h-0.8zM64.6 397.5h0.8v0.8h-0.8zM60.1 388.0h0.8v0.8h-0.8zM59.5 400.3h0.8v0.8h-0.8zM62.2 427.5h0.8v0.8h-0.8zM65.4 395.8h0.8v0.8h-0.8zM60.7 387.6h0.8v0.8h-0.8zM62.7 440.0h0.8v0.8h-0.8zM56.2 427.3h0.8v0.8h-0.8zM62.0 405.7h0.8v0.8h-0.8zM59.1 437.0h0.8v0.8h-0.8zM63.2 406.1h0.8v0.8h-0.8zM63.9 411.0h0.8v0.8h-0.8zM58.6 434.6h0.8v0.8h-0.8zM58.4 415.2h0.8v0.8h-0.8zM56.5 396.3h0.8v0.8h-0.8zM58.0 389.0h0.8v0.8h-0.8zM67.0 438.9h0.8v0.8h-0.8zM64.5 418.1h0.8v0.8h-0.8zM60.9 391.9h0.8v0.8h-0.8zM63.8 425.8h0.8v0.8h-0.8zM62.1 420.3h0.8v0.8h-0.8zM60.5 409.3h0.8v0.8h-0.8zM65.8 403.2h0.8v0.8h-0.8zM63.2 398.6h0.8v0.8h-0.8zM63.1 413.7h0.8v0.8h-0.8zM69.3 425.6h0.8v0.8h-0.8zM62.0 383.5h0.8v0.8h-0.8zM59.5 393.9h0.8v0.8h-0.8zM65.3 407.5h0.8v0.8h-0.8zM65.6 399.9h0.8v0.8h-0.8zM63.7 410.3h0.8v0.8h-0.8zM58.8 399.9h0.8v0.8h-0.8zM62.6 404.6h0.8v0.8h-0.8zM65.9 389.5h0.8v0.8h-0.8zM63.5 433.8h0.8v0.8h-0.8zM62.2 427.0h0.8v0.8h-0.8zM55.8 413.6h0.8v0.8h-0.8zM62.8 435.4h0.8v0.8h-0.8zM65.9 406.9h0.8v0.8h-0.8zM61.1 436.4h0.8v0.8h-0.8zM69.2 424.3h0.8v0.8h-0.8zM60.9 390.7h0.8v0.8h-0.8zM61.3 384.5h0.8v0.8h-0.8zM64.3 410.0h0.8v0.8h-0.8zM63.7 395.9h0.8v0.8h-0.8zM60.8 394.0h0.8v0.8h-0.8zM60.4 430.2h0.8v0.8h-0.8zM63.0 396.5h0.8v0.8h-0.8zM68.8 426.6h0.8v0.8h-0.8zM57.3 405.2h0.8v0.8h-0.8zM67.0 389.3h0.8v0.8h-0.8zM62.0 415.7h0.8v0.8h-0.8zM63.8 412.3h0.8v0.8h-0.8zM60.2 398.6h0.8v0.8h-0.8zM61.7 398.3h0.8v0.8h-0.8zM60.2 428.7h0.8v0.8h-0.8zM58.7 389.5h0.8v0.8h-0.8zM60.2 424.7h0.8v0.8h-0.8zM61.2 436.6h0.8v0.8h-0.8zM70.2 433.7h0.8v0.8h-0.8zM64.2 396.4h0.8v0.8h-0.8zM67.1 394.6h0.8v0.8h-0.8zM61.3 429.0h0.8v0.8h-0.8zM63.6 432.9h0.8v0.8h-0.8zM63.7 419.1h0.8v0.8h-0.8zM66.4 424.5h0.8v0.8h-0.8zM57.9 389.2h0.8v0.8h-0.8zM64.5 422.3h0.8v0.8h-0.8zM59.9 438.4h0.8v0.8h-0.8zM60.8 402.9h0.8v0.8h-0.8zM59.1 420.8h0.8v0.8h-0.8zM65.5 414.5h0.8v0.8h-0.8zM64.2 435.0h0.8v0.8h-0.8zM63.8 408.9h0.8v0.8h-0.8zM60.8 423.1h0.8v0.8h-0.8zM64.3 430.0h0.8v0.8h-0.8zM59.8 428.0h0.8v0.8h-0.8zM64.4 402.2h0.8v0.8h-0.8zM61.6 430.6h0.8v0.8h-0.8zM60.5 391.6h0.8v0.8h-0.8zM64.0 402.5h0.8v0.8h-0.8zM63.5 425.7h0.8v0.8h-0.8zM64.1 401.1h0.8v0.8h-0.8zM62.1 398.3h0.8v0.8h-0.8zM62.1 407.9h0.8v0.8h-0.8zM62.4 432.1h0.8v0.8h-0.8zM62.8 438.5h0.8v0.8h-0.8zM66.6 385.3h0.8v0.8h-0.8zM60.1 416.2h0.8v0.8h-0.8zM65.5 399.2h0.8v0.8h-0.8zM63.7 439.1h0.8v0.8h-0.8zM67.5 431.5h0.8v0.8h-0.8zM61.1 428.0h0.8v0.8h-0.8zM64.8 430.3h0.8v0.8h-0.8zM60.8 398.5h0.8v0.8h-0.8zM57.5 422.6h0.8v0.8h-0.8zM56.6 417.5h0.8v0.8h-0.8zM59.9 429.0h0.8v0.8h-0.8zM61.5 436.2h0.8v0.8h-0.8zM60.5 399.9h0.8v0.8h-0.8zM58.6 417.9h0.8v0.8h-0.8zM59.1 427.7h0.8v0.8h-0.8zM61.9 426.7h0.8v0.8h-0.8zM63.4 417.6h0.8v0.8h-0.8zM63.8 421.7h0.8v0.8h-0.8zM59.6 390.8h0.8v0.8h-0.8zM66.0 437.1h0.8v0.8h-0.8zM61.2 427.8h0.8v0.8h-0.8zM63.1 438.7h0.8v0.8h-0.8zM66.1 408.9h0.8v0.8h-0.8zM65.7 406.2h0.8v0.8h-0.8zM63.3 430.2h0.8v0.8h-0.8zM61.2 397.6h0.8v0.8h-0.8zM60.2 404.6h0.8v0.8h-0.8zM54.1 399.4h0.8v0.8h-0.8zM62.2 394.7h0.8v0.8h-0.8zM65.7 388.7h0.8v0.8h-0.8zM59.8 428.3h0.8v0.8h-0.8zM58.9 430.1h0.8v0.8h-0.8zM60.6 384.2h0.8v0.8h-0.8zM66.2 418.9h0.8v0.8h-0.8zM59.2 404.5h0.8v0.8h-0.8zM61.8 387.1h0.8v0.8h-0.8zM65.7 418.0h0.8v0.8h-0.8zM67.9 432.5h0.8v0.8h-0.8zM65.9 384.6h0.8v0.8h-0.8zM67.7 397.9h0.8v0.8h-0.8zM62.6 435.3h0.8v0.8h-0.8zM61.0 406.2h0.8v0.8h-0.8zM60.5 419.2h0.8v0.8h-0.8zM56.0 435.1h0.8v0.8h-0.8zM63.3 415.3h0.8v0.8h-0.8zM57.6 408.7h0.8v0.8h-0.8zM59.9 437.5h0.8v0.8h-0.8zM57.6 418.8h0.8v0.8h-0.8zM65.3 437.0h0.8v0.8h-0.8zM67.8 433.6h0.8v0.8h-0.8zM59.1 383.4h0.8v0.8h-0.8zM60.8 397.0h0.8v0.8h-0.8zM58.2 422.9h0.8v0.8h-0.8zM55.7 400.3h0.8v0.8h-0.8zM64.8 427.2h0.8v0.8h-0.8zM60.3 413.0h0.8v0.8h-0.8zM64.4 429.9h0.8v0.8h-0.8zM63.1 427.0h0.8v0.8h-0.8zM55.0 398.5h0.8v0.8h-0.8zM64.2 391.5h0.8v0.8h-0.8zM63.5 414.1h0.8v0.8h-0.8zM63.5 402.2h0.8v0.8h-0.8zM61.2 399.1h0.8v0.8h-0.8zM63.7 388.9h0.8v0.8h-0.8zM65.0 389.6h0.8v0.8h-0.8zM67.9 394.7h0.8v0.8h-0.8zM68.9 396.1h0.8v0.8h-0.8zM67.0 431.0h0.8v0.8h-0.8zM58.5 425.7h0.8v0.8h-0.8zM59.7 440.7h0.8v0.8h-0.8zM60.6 436.8h0.8v0.8h-0.8zM64.9 421.0h0.8v0.8h-0.8zM62.5 399.9h0.8v0.8h-0.8zM66.8 389.2h0.8v0.8h-0.8zM60.9 395.5h0.8v0.8h-0.8zM63.5 388.3h0.8v0.8h-0.8zM64.6 400.9h0.8v0.8h-0.8zM56.7 427.3h0.8v0.8h-0.8zM64.8 392.6h0.8v0.8h-0.8zM63.2 433.5h0.8v0.8h-0.8zM66.5 426.7h0.8v0.8h-0.8zM62.6 389.2h0.8v0.8h-0.8zM59.6 433.4h0.8v0.8h-0.8zM61.2 385.4h0.8v0.8h-0.8zM61.3 426.3h0.8v0.8h-0.8zM62.0 412.8h0.8v0.8h-0.8zM61.8 405.7h0.8v0.8h-0.8zM63.1 426.0h0.8v0.8h-0.8zM65.5 398.1h0.8v0.8h-0.8zM57.2 411.9h0.8v0.8h-0.8zM58.6 436.9h0.8v0.8h-0.8zM62.4 432.9h0.8v0.8h-0.8zM57.0 388.9h0.8v0.8h-0.8zM53.6 393.1h0.8v0.8h-0.8zM58.0 411.7h0.8v0.8h-0.8zM61.3 434.2h0.8v0.8h-0.8zM62.1 417.1h0.8v0.8h-0.8zM61.1 421.7h0.8v0.8h-0.8zM59.1 399.8h0.8v0.8h-0.8zM68.6 433.8h0.8v0.8h-0.8zM64.2 410.1h0.8v0.8h-0.8zM58.4 434.0h0.8v0.8h-0.8zM63.2 406.5h0.8v0.8h-0.8zM63.8 430.5h0.8v0.8h-0.8zM63.7 431.8h0.8v0.8h-0.8zM60.7 410.0h0.8v0.8h-0.8zM62.3 428.2h0.8v0.8h-0.8zM63.1 439.7h0.8v0.8h-0.8zM56.5 405.7h0.8v0.8h-0.8zM60.5 436.2h0.8v0.8h-0.8zM66.0 389.6h0.8v0.8h-0.8zM53.9 417.1h0.8v0.8h-0.8zM60.5 407.4h0.8v0.8h-0.8zM66.5 392.3h0.8v0.8h-0.8zM60.3 414.3h0.8v0.8h-0.8zM59.0 401.0h0.8v0.8h-0.8zM60.5 438.6h0.8v0.8h-0.8zM64.1 386.8h0.8v0.8h-0.8zM64.3 427.1h0.8v0.8h-0.8zM58.8 427.9h0.8v0.8h-0.8zM63.6 413.5h0.8v0.8h-0.8zM61.3 420.2h0.8v0.8h-0.8zM63.7 434.6h0.8v0.8h-0.8zM58.1 386.4h0.8v0.8h-0.8zM66.1 396.1h0.8v0.8h-0.8zM62.1 383.6h0.8v0.8h-0.8zM60.3 399.1h0.8v0.8h-0.8zM65.0 395.2h0.8v0.8h-0.8zM61.9 408.0h0.8v0.8h-0.8zM58.7 428.2h0.8v0.8h-0.8zM60.6 405.1h0.8v0.8h-0.8zM60.6 437.5h0.8v0.8h-0.8zM64.8 419.9h0.8v0.8h-0.8zM62.8 396.0h0.8v0.8h-0.8zM66.3 407.1h0.8v0.8h-0.8zM61.8 424.6h0.8v0.8h-0.8zM61.0 424.6h0.8v0.8h-0.8zM62.8 401.7h0.8v0.8h-0.8zM65.6 429.4h0.8v0.8h-0.8zM69.0 439.4h0.8v0.8h-0.8zM59.5 384.4h0.8v0.8h-0.8zM61.6 427.5h0.8v0.8h-0.8zM57.4 427.2h0.8v0.8h-0.8zM67.9 411.3h0.8v0.8h-0.8zM62.4 395.4h0.8v0.8h-0.8zM59.7 396.4h0.8v0.8h-0.8zM57.6 419.8h0.8v0.8h-0.8zM63.6 422.3h0.8v0.8h-0.8zM62.2 416.4h0.8v0.8h-0.8zM61.7 401.1h0.8v0.8h-0.8zM62.0 401.6h0.8v0.8h-0.8zM62.3 392.4h0.8v0.8h-0.8zM63.4 426.2h0.8v0.8h-0.8zM60.0 397.3h0.8v0.8h-0.8zM64.9 433.1h0.8v0.8h-0.8zM61.1 424.6h0.8v0.8h-0.8zM70.1 396.8h0.8v0.8h-0.8zM61.1 384.5h0.8v0.8h-0.8zM56.3 395.2h0.8v0.8h-0.8zM63.9 383.7h0.8v0.8h-0.8zM64.6 383.3h0.8v0.8h-0.8zM64.8 395.7h0.8v0.8h-0.8zM63.5 390.5h0.8v0.8h-0.8zM59.9 416.2h0.8v0.8h-0.8zM63.3 411.5h0.8v0.8h-0.8zM67.4 401.7h0.8v0.8h-0.8zM59.7 415.2h0.8v0.8h-0.8zM65.8 389.8h0.8v0.8h-0.8zM68.5 387.7h0.8v0.8h-0.8zM61.8 384.2h0.8v0.8h-0.8zM64.0 412.8h0.8v0.8h-0.8zM61.4 410.9h0.8v0.8h-0.8zM54.4 419.9h0.8v0.8h-0.8zM62.3 393.4h0.8v0.8h-0.8zM63.8 399.0h0.8v0.8h-0.8zM65.1 414.6h0.8v0.8h-0.8zM57.9 387.2h0.8v0.8h-0.8zM63.6 391.8h0.8v0.8h-0.8zM65.1 409.4h0.8v0.8h-0.8zM65.3 405.5h0.8v0.8h-0.8zM64.2 437.7h0.8v0.8h-0.8zM64.0 413.9h0.8v0.8h-0.8zM63.3 429.8h0.8v0.8h-0.8zM69.0 418.7h0.8v0.8h-0.8zM63.6 387.3h0.8v0.8h-0.8zM61.2 400.2h0.8v0.8h-0.8zM69.7 426.4h0.8v0.8h-0.8zM63.7 403.9h0.8v0.8h-0.8zM61.2 430.4h0.8v0.8h-0.8zM61.2 384.5h0.8v0.8h-0.8zM61.0 431.1h0.8v0.8h-0.8zM70.1 437.7h0.8v0.8h-0.8zM61.0 386.2h0.8v0.8h-0.8zM69.7 417.8h0.8v0.8h-0.8zM57.6 407.0h0.8v0.8h-0.8zM69.6 399.1h0.8v0.8h-0.8zM64.2 398.6h0.8v0.8h-0.8zM62.4 439.0h0.8v0.8h-0.8zM66.3 390.5h0.8v0.8h-0.8zM64.7 417.0h0.8v0.8h-0.8zM65.8 437.0h0.8v0.8h-0.8zM64.0 386.2h0.8v0.8h-0.8zM65.3 436.1h0.8v0.8h-0.8zM61.2 384.4h0.8v0.8h-0.8zM64.8 411.9h0.8v0.8h-0.8zM66.9 430.2h0.8v0.8h-0.8zM62.3 407.6h0.8v0.8h-0.8zM60.0 408.2h0.8v0.8h-0.8zM58.7 433.6h0.8v0.8h-0.8zM62.6 439.5h0.8v0.8h-0.8zM61.9 402.2h0.8v0.8h-0.8zM69.5 407.3h0.8v0.8h-0.8zM66.1 409.6h0.8v0.8h-0.8zM62.6 423.8h0.8v0.8h-0.8zM63.6 425.7h0.8v0.8h-0.8zM62.8 416.4h0.8v0.8h-0.8zM65.1 401.1h0.8v0.8h-0.8zM64.1 439.2h0.8v0.8h-0.8zM61.6 387.5h0.8v0.8h-0.8zM63.2 418.8h0.8v0.8h-0.8zM66.6 414.4h0.8v0.8h-0.8zM59.3 419.8h0.8v0.8h-0.8zM61.0 425.9h0.8v0.8h-0.8zM59.5 407.8h0.8v0.8h-0.8zM60.4 415.7h0.8v0.8h-0.8zM56.6 409.2h0.8v0.8h-0.8zM67.6 388.3h0.8v0.8h-0.8zM58.4 405.9h0.8v0.8h-0.8zM62.5 404.1h0.8v0.8h-0.8zM64.9 432.5h0.8v0.8h-0.8zM62.0 409.8h0.8v0.8h-0.8zM63.7 433.3h0.8v0.8h-0.8zM60.7 395.9h0.8v0.8h-0.8zM60.7 410.2h0.8v0.8h-0.8zM66.6 427.1h0.8v0.8h-0.8zM54.8 388.0h0.8v0.8h-0.8zM60.8 423.9h0.8v0.8h-0.8zM62.4 386.1h0.8v0.8h-0.8zM60.7 428.2h0.8v0.8h-0.8zM66.5 433.3h0.8v0.8h-0.8zM59.7 388.2h0.8v0.8h-0.8zM67.2 396.6h0.8v0.8h-0.8zM62.9 390.8h0.8v0.8h-0.8zM60.9 416.6h0.8v0.8h-0.8zM64.6 430.8h0.8v0.8h-0.8zM69.9 401.0h0.8v0.8h-0.8zM61.3 401.4h0.8v0.8h-0.8zM59.2 405.4h0.8v0.8h-0.8zM64.1 402.6h0.8v0.8h-0.8zM63.8 415.7h0.8v0.8h-0.8zM65.6 417.6h0.8v0.8h-0.8zM60.3 397.1h0.8v0.8h-0.8zM63.9 428.2h0.8v0.8h-0.8zM64.1 407.7h0.8v0.8h-0.8zM64.0 394.5h0.8v0.8h-0.8zM58.2 402.9h0.8v0.8h-0.8zM59.3 406.2h0.8v0.8h-0.8zM65.3 426.6h0.8v0.8h-0.8zM62.5 438.2h0.8v0.8h-0.8zM61.2 412.1h0.8v0.8h-0.8zM66.9 400.0h0.8v0.8h-0.8zM61.4 402.5h0.8v0.8h-0.8zM63.0 413.6h0.8v0.8h-0.8zM60.8 401.1h0.8v0.8h-0.8zM61.7 382.1h0.8v0.8h-0.8zM62.4 387.6h0.8v0.8h-0.8zM59.8 429.6h0.8v0.8h-0.8zM61.8 397.9h0.8v0.8h-0.8zM63.9 401.1h0.8v0.8h-0.8zM66.0 421.9h0.8v0.8h-0.8zM64.3 389.6h0.8v0.8h-0.8zM56.6 397.4h0.8v0.8h-0.8zM60.3 416.7h0.8v0.8h-0.8zM62.6 438.1h0.8v0.8h-0.8zM64.9 385.5h0.8v0.8h-0.8zM65.9 432.3h0.8v0.8h-0.8zM64.6 402.8h0.8v0.8h-0.8zM64.3 390.4h0.8v0.8h-0.8zM59.5 437.6h0.8v0.8h-0.8zM62.3 399.5h0.8v0.8h-0.8zM66.7 439.5h0.8v0.8h-0.8zM63.8 403.9h0.8v0.8h-0.8zM62.5 436.6h0.8v0.8h-0.8zM60.4 417.9h0.8v0.8h-0.8zM63.6 392.9h0.8v0.8h-0.8zM62.7 394.1h0.8v0.8h-0.8zM57.6 409.6h0.8v0.8h-0.8zM61.6 434.0h0.8v0.8h-0.8zM65.3 430.5h0.8v0.8h-0.8zM58.0 390.2h0.8v0.8h-0.8zM60.8 392.1h0.8v0.8h-0.8zM66.3 423.2h0.8v0.8h-0.8zM60.9 428.6h0.8v0.8h-0.8zM61.8 421.0h0.8v0.8h-0.8zM61.1 392.7h0.8v0.8h-0.8zM58.7 404.6h0.8v0.8h-0.8zM62.9 405.6h0.8v0.8h-0.8zM68.3 401.0h0.8v0.8h-0.8zM62.9 434.3h0.8v0.8h-0.8zM61.1 427.7h0.8v0.8h-0.8zM67.8 398.7h0.8v0.8h-0.8zM59.2 402.0h0.8v0.8h-0.8zM60.9 387.1h0.8v0.8h-0.8zM64.6 427.8h0.8v0.8h-0.8zM62.9 389.8h0.8v0.8h-0.8zM61.5 404.6h0.8v0.8h-0.8zM56.8 430.8h0.8v0.8h-0.8zM60.8 403.4h0.8v0.8h-0.8zM64.7 424.9h0.8v0.8h-0.8zM57.3 423.6h0.8v0.8h-0.8zM59.6 426.0h0.8v0.8h-0.8zM66.8 397.5h0.8v0.8h-0.8zM64.3 400.7h0.8v0.8h-0.8zM68.2 438.4h0.8v0.8h-0.8zM58.7 412.8h0.8v0.8h-0.8zM61.2 406.2h0.8v0.8h-0.8zM63.9 435.7h0.8v0.8h-0.8zM58.8 420.0h0.8v0.8h-0.8zM63.4 422.3h0.8v0.8h-0.8zM63.0 385.3h0.8v0.8h-0.8zM57.1 391.4h0.8v0.8h-0.8zM55.7 391.6h0.8v0.8h-0.8zM59.6 426.3h0.8v0.8h-0.8zM67.9 398.4h0.8v0.8h-0.8zM60.8 423.3h0.8v0.8h-0.8zM63.4 409.9h0.8v0.8h-0.8zM61.1 432.3h0.8v0.8h-0.8zM63.8 414.0h0.8v0.8h-0.8zM69.3 437.8h0.8v0.8h-0.8zM56.3 423.8h0.8v0.8h-0.8zM59.9 392.8h0.8v0.8h-0.8zM55.3 432.1h0.8v0.8h-0.8zM64.1 420.1h0.8v0.8h-0.8zM59.9 387.0h0.8v0.8h-0.8zM61.3 398.0h0.8v0.8h-0.8zM64.7 433.8h0.8v0.8h-0.8zM60.9 409.6h0.8v0.8h-0.8zM70.4 402.4h0.8v0.8h-0.8zM63.1 424.1h0.8v0.8h-0.8zM61.6 390.5h0.8v0.8h-0.8zM68.5 406.9h0.8v0.8h-0.8zM62.9 438.3h0.8v0.8h-0.8zM62.3 384.7h0.8v0.8h-0.8zM61.0 414.5h0.8v0.8h-0.8zM60.3 414.5h0.8v0.8h-0.8zM60.6 423.5h0.8v0.8h-0.8zM59.9 410.0h0.8v0.8h-0.8zM58.2 385.6h0.8v0.8h-0.8zM66.7 392.1h0.8v0.8h-0.8zM64.0 430.6h0.8v0.8h-0.8zM61.8 394.6h0.8v0.8h-0.8zM62.8 439.2h0.8v0.8h-0.8zM60.0 404.2h0.8v0.8h-0.8zM64.1 388.7h0.8v0.8h-0.8zM61.2 435.5h0.8v0.8h-0.8zM66.7 392.7h0.8v0.8h-0.8zM66.2 430.5h0.8v0.8h-0.8zM70.0 424.6h0.8v0.8h-0.8zM54.3 391.4h0.8v0.8h-0.8zM64.9 413.3h0.8v0.8h-0.8zM64.9 384.2h0.8v0.8h-0.8zM59.8 415.9h0.8v0.8h-0.8zM68.7 435.6h0.8v0.8h-0.8zM62.8 397.5h0.8v0.8h-0.8zM64.8 406.5h0.8v0.8h-0.8zM60.5 403.6h0.8v0.8h-0.8zM61.7 423.0h0.8v0.8h-0.8zM67.0 436.1h0.8v0.8h-0.8zM63.3 403.2h0.8v0.8h-0.8zM63.6 438.9h0.8v0.8h-0.8zM69.7 427.9h0.8v0.8h-0.8zM61.9 414.5h0.8v0.8h-0.8zM61.9 437.5h0.8v0.8h-0.8zM59.1 431.7h0.8v0.8h-0.8zM64.5 433.2h0.8v0.8h-0.8zM58.4 384.1h0.8v0.8h-0.8zM65.5 390.9h0.8v0.8h-0.8zM58.9 394.2h0.8v0.8h-0.8zM63.9 407.5h0.8v0.8h-0.8zM64.2 424.2h0.8v0.8h-0.8zM66.8 427.5h0.8v0.8h-0.8zM67.9 393.0h0.8v0.8h-0.8zM62.1 417.3h0.8v0.8h-0.8zM62.8 408.9h0.8v0.8h-0.8zM62.8 439.3h0.8v0.8h-0.8zM64.3 423.0h0.8v0.8h-0.8zM65.3 408.0h0.8v0.8h-0.8zM60.6 401.1h0.8v0.8h-0.8zM61.6 405.1h0.8v0.8h-0.8zM63.1 428.8h0.8v0.8h-0.8zM55.7 419.4h0.8v0.8h-0.8zM62.4 387.6h0.8v0.8h-0.8zM65.5 405.1h0.8v0.8h-0.8zM58.9 426.4h0.8v0.8h-0.8zM59.9 421.4h0.8v0.8h-0.8zM58.6 393.9h0.8v0.8h-0.8zM66.6 434.1h0.8v0.8h-0.8zM63.3 403.1h0.8v0.8h-0.8zM62.6 426.6h0.8v0.8h-0.8zM56.6 441.4h0.8v0.8h-0.8zM58.8 406.3h0.8v0.8h-0.8zM57.3 396.9h0.8v0.8h-0.8zM61.2 387.7h0.8v0.8h-0.8zM57.5 423.8h0.8v0.8h-0.8zM63.7 421.2h0.8v0.8h-0.8zM61.8 385.2h0.8v0.8h-0.8zM61.1 412.5h0.8v0.8h-0.8zM55.5 433.1h0.8v0.8h-0.8zM59.6 402.6h0.8v0.8h-0.8zM62.6 397.9h0.8v0.8h-0.8zM59.7 399.0h0.8v0.8h-0.8zM65.1 411.7h0.8v0.8h-0.8zM63.1 417.3h0.8v0.8h-0.8zM59.5 428.2h0.8v0.8h-0.8zM53.5 408.1h0.8v0.8h-0.8zM67.0 434.6h0.8v0.8h-0.8zM63.0 423.1h0.8v0.8h-0.8zM60.4 429.2h0.8v0.8h-0.8zM61.7 403.0h0.8v0.8h-0.8zM65.4 413.4h0.8v0.8h-0.8zM70.6 404.0h0.8v0.8h-0.8zM62.6 434.4h0.8v0.8h-0.8zM66.4 407.8h0.8v0.8h-0.8zM63.9 427.5h0.8v0.8h-0.8zM63.9 389.9h0.8v0.8h-0.8zM64.3 430.0h0.8v0.8h-0.8zM63.5 396.0h0.8v0.8h-0.8z" fill="#1f2c96" fill-opacity="0.45"/>
<path d="M66.1 384.8h0.8v0.8h-0.8zM65.6 378.3h0.8v0.8h-0.8zM71.3 383.9h0.8v0.8h-0.8zM78.6 383.7h0.8v0.8h-0.8zM73.9 387.3h0.8v0.8h-0.8zM63.9 384.6h0.8v0.8h-0.8zM68.4 393.3h0.8v0.8h-0.8zM67.0 380.5h0.8v0.8h-0.8zM73.6 387.3h0.8v0.8h-0.8zM73.0 377.3h0.8v0.8h-0.8zM63.7 380.0h0.8v0.8h-0.8zM68.2 386.9h0.8v0.8h-0.8zM57.7 386.7h0.8v0.8h-0.8zM59.7 386.6h0.8v0.8h-0.8zM72.8 382.7h0.8v0.8h-0.8zM73.7 380.0h0.8v0.8h-0.8zM59.7 383.4h0.8v0.8h-0.8zM63.0 390.4h0.8v0.8h-0.8zM71.4 383.5h0.8v0.8h-0.8zM61.2 384.7h0.8v0.8h-0.8zM61.4 383.7h0.8v0.8h-0.8zM76.4 381.8h0.8v0.8h-0.8zM69.8 381.2h0.8v0.8h-0.8zM56.9 384.2h0.8v0.8h-0.8zM58.7 386.5h0.8v0.8h-0.8zM71.6 384.9h0.8v0.8h-0.8zM68.2 384.6h0.8v0.8h-0.8zM64.6 384.9h0.8v0.8h-0.8zM61.5 387.8h0.8v0.8h-0.8zM64.8 387.0h0.8v0.8h-0.8zM56.4 380.1h0.8v0.8h-0.8zM68.1 384.6h0.8v0.8h-0.8zM76.8 384.7h0.8v0.8h-0.8zM75.9 383.1h0.8v0.8h-0.8zM67.0 383.8h0.8v0.8h-0.8zM61.8 381.1h0.8v0.8h-0.8zM70.0 382.0h0.8v0.8h-0.8zM58.7 385.6h0.8v0.8h-0.8zM77.0 383.4h0.8v0.8h-0.8zM74.7 387.1h0.8v0.8h-0.8zM61.2 379.8h0.8v0.8h-0.8zM74.0 389.7h0.8v0.8h-0.8zM60.1 382.4h0.8v0.8h-0.8zM60.5 385.9h0.8v0.8h-0.8zM75.1 385.9h0.8v0.8h-0.8zM61.0 380.9h0.8v0.8h-0.8zM69.2 379.8h0.8v0.8h-0.8zM59.6 384.3h0.8v0.8h-0.8zM61.3 385.9h0.8v0.8h-0.8zM64.9 381.3h0.8v0.8h-0.8zM57.5 389.5h0.8v0.8h-0.8zM68.7 384.7h0.8v0.8h-0.8zM68.8 383.6h0.8v0.8h-0.8zM74.4 388.9h0.8v0.8h-0.8zM66.9 391.6h0.8v0.8h-0.8zM63.7 386.6h0.8v0.8h-0.8zM77.8 383.7h0.8v0.8h-0.8zM68.2 379.6h0.8v0.8h-0.8zM80.7 383.0h0.8v0.8h-0.8zM59.4 383.2h0.8v0.8h-0.8zM60.9 382.3h0.8v0.8h-0.8zM71.6 384.5h0.8v0.8h-0.8zM72.2 373.8h0.8v0.8h-0.8zM80.2 381.4h0.8v0.8h-0.8zM69.2 384.6h0.8v0.8h-0.8zM66.0 385.2h0.8v0.8h-0.8zM65.9 383.9h0.8v0.8h-0.8zM57.2 385.0h0.8v0.8h-0.8zM58.4 385.9h0.8v0.8h-0.8zM66.5 383.8h0.8v0.8h-0.8zM59.7 385.4h0.8v0.8h-0.8zM79.1 387.2h0.8v0.8h-0.8zM62.9 380.6h0.8v0.8h-0.8zM75.5 384.3h0.8v0.8h-0.8zM59.4 387.4h0.8v0.8h-0.8zM65.7 383.8h0.8v0.8h-0.8zM70.9 383.3h0.8v0.8h-0.8zM70.3 381.6h0.8v0.8h-0.8zM57.2 383.8h0.8v0.8h-0.8zM71.1 386.8h0.8v0.8h-0.8zM63.8 382.4h0.8v0.8h-0.8zM77.4 386.1h0.8v0.8h-0.8zM77.5 386.8h0.8v0.8h-0.8zM67.7 384.3h0.8v0.8h-0.8zM60.4 383.5h0.8v0.8h-0.8zM65.7 379.2h0.8v0.8h-0.8zM76.5 389.1h0.8v0.8h-0.8zM64.4 381.0h0.8v0.8h-0.8zM76.5 384.5h0.8v0.8h-0.8zM58.4 384.9h0.8v0.8h-0.8zM60.1 381.6h0.8v0.8h-0.8zM77.3 387.4h0.8v0.8h-0.8zM67.4 386.2h0.8v0.8h-0.8zM77.8 380.0h0.8v0.8h-0.8zM71.9 377.7h0.8v0.8h-0.8zM71.9 386.6h0.8v0.8h-0.8zM59.2 386.7h0.8v0.8h-0.8zM66.8 382.6h0.8v0.8h-0.8zM67.8 388.8h0.8v0.8h-0.8zM67.7 390.6h0.8v0.8h-0.8zM81.2 379.3h0.8v0.8h-0.8zM55.8 387.4h0.8v0.8h-0.8zM61.3 377.2h0.8v0.8h-0.8zM55.7 384.5h0.8v0.8h-0.8zM76.7 384.6h0.8v0.8h-0.8zM64.6 383.9h0.8v0.8h-0.8zM59.1 394.8h0.8v0.8h-0.8zM54.9 384.0h0.8v0.8h-0.8zM71.6 387.9h0.8v0.8h-0.8zM61.1 383.0h0.8v0.8h-0.8zM56.5 385.7h0.8v0.8h-0.8zM65.7 384.0h0.8v0.8h-0.8zM74.2 385.2h0.8v0.8h-0.8zM69.6 387.1h0.8v0.8h-0.8zM65.2 390.4h0.8v0.8h-0.8zM72.6 385.4h0.8v0.8h-0.8zM56.2 389.9h0.8v0.8h-0.8zM81.3 382.7h0.8v0.8h-0.8zM58.6 379.1h0.8v0.8h-0.8zM68.2 384.4h0.8v0.8h-0.8zM58.1 386.7h0.8v0.8h-0.8zM68.8 379.5h0.8v0.8h-0.8zM58.1 385.6h0.8v0.8h-0.8zM61.4 391.7h0.8v0.8h-0.8zM58.4 377.7h0.8v0.8h-0.8zM69.0 384.2h0.8v0.8h-0.8zM68.8 380.5h0.8v0.8h-0.8zM68.5 386.1h0.8v0.8h-0.8zM71.8 385.1h0.8v0.8h-0.8zM61.7 380.5h0.8v0.8h-0.8zM65.3 383.6h0.8v0.8h-0.8zM59.1 382.0h0.8v0.8h-0.8zM62.9 386.5h0.8v0.8h-0.8zM79.3 382.3h0.8v0.8h-0.8zM69.0 388.0h0.8v0.8h-0.8zM74.1 384.8h0.8v0.8h-0.8zM61.3 380.9h0.8v0.8h-0.8zM66.1 382.4h0.8v0.8h-0.8zM60.1 384.5h0.8v0.8h-0.8zM60.7 380.7h0.8v0.8h-0.8zM63.8 391.3h0.8v0.8h-0.8zM78.3 383.1h0.8v0.8h-0.8zM56.6 384.4h0.8v0.8h-0.8zM76.0 381.3h0.8v0.8h-0.8zM65.8 382.7h0.8v0.8h-0.8zM64.5 379.5h0.8v0.8h-0.8zM70.2 385.9h0.8v0.8h-0.8zM62.9 385.7h0.8v0.8h-0.8zM70.5 382.4h0.8v0.8h-0.8zM76.7 384.9h0.8v0.8h-0.8zM59.6 386.5h0.8v0.8h-0.8zM68.2 384.6h0.8v0.8h-0.8zM59.1 381.9h0.8v0.8h-0.8zM68.5 381.9h0.8v0.8h-0.8zM58.8 386.0h0.8v0.8h-0.8zM69.2 381.0h0.8v0.8h-0.8zM54.0 387.0h0.8v0.8h-0.8zM70.6 384.9h0.8v0.8h-0.8zM77.0 383.5h0.8v0.8h-0.8zM74.5 381.1h0.8v0.8h-0.8zM71.3 383.0h0.8v0.8h-0.8zM66.9 381.6h0.8v0.8h-0.8zM59.7 380.8h0.8v0.8h-0.8zM56.4 386.7h0.8v0.8h-0.8zM77.3 379.2h0.8v0.8h-0.8zM57.0 383.9h0.8v0.8h-0.8zM64.0 387.8h0.8v0.8h-0.8zM55.3 380.8h0.8v0.8h-0.8zM77.7 382.7h0.8v0.8h-0.8zM74.3 381.9h0.8v0.8h-0.8zM68.7 387.2h0.8v0.8h-0.8zM60.6 384.4h0.8v0.8h-0.8zM76.6 384.2h0.8v0.8h-0.8zM71.3 380.6h0.8v0.8h-0.8zM60.4 387.4h0.8v0.8h-0.8zM61.4 388.1h0.8v0.8h-0.8zM72.2 385.5h0.8v0.8h-0.8zM79.1 390.0h0.8v0.8h-0.8zM63.7 386.8h0.8v0.8h-0.8zM76.8 383.0h0.8v0.8h-0.8zM71.7 381.5h0.8v0.8h-0.8zM71.0 384.0h0.8v0.8h-0.8zM73.0 386.5h0.8v0.8h-0.8zM75.1 382.4h0.8v0.8h-0.8zM71.7 384.5h0.8v0.8h-0.8zM69.8 384.9h0.8v0.8h-0.8zM58.3 384.8h0.8v0.8h-0.8zM72.5 390.1h0.8v0.8h-0.8zM62.6 379.9h0.8v0.8h-0.8zM70.1 381.6h0.8v0.8h-0.8zM74.2 382.6h0.8v0.8h-0.8zM76.0 387.8h0.8v0.8h-0.8zM65.9 388.0h0.8v0.8h-0.8zM70.8 384.6h0.8v0.8h-0.8zM77.9 385.5h0.8v0.8h-0.8zM71.0 383.4h0.8v0.8h-0.8zM61.7 389.9h0.8v0.8h-0.8zM65.6 381.8h0.8v0.8h-0.8zM79.0 388.2h0.8v0.8h-0.8zM57.3 386.0h0.8v0.8h-0.8zM69.3 382.9h0.8v0.8h-0.8zM63.7 392.6h0.8v0.8h-0.8zM57.5 379.2h0.8v0.8h-0.8zM58.2 383.4h0.8v0.8h-0.8zM63.4 386.8h0.8v0.8h-0.8zM69.7 379.0h0.8v0.8h-0.8zM65.0 385.0h0.8v0.8h-0.8zM71.0 383.2h0.8v0.8h-0.8zM57.7 382.9h0.8v0.8h-0.8zM67.5 384.1h0.8v0.8h-0.8zM72.1 386.1h0.8v0.8h-0.8zM74.4 389.2h0.8v0.8h-0.8zM80.1 378.5h0.8v0.8h-0.8zM78.4 379.7h0.8v0.8h-0.8zM76.1 379.6h0.8v0.8h-0.8zM72.1 387.2h0.8v0.8h-0.8zM64.3 379.9h0.8v0.8h-0.8zM62.6 384.7h0.8v0.8h-0.8zM56.3 386.2h0.8v0.8h-0.8zM78.1 386.7h0.8v0.8h-0.8zM74.9 383.1h0.8v0.8h-0.8zM63.4 386.7h0.8v0.8h-0.8zM60.7 384.1h0.8v0.8h-0.8zM59.3 388.2h0.8v0.8h-0.8zM74.6 384.7h0.8v0.8h-0.8zM79.8 389.6h0.8v0.8h-0.8zM55.8 383.4h0.8v0.8h-0.8zM60.0 387.5h0.8v0.8h-0.8zM65.0 386.3h0.8v0.8h-0.8zM67.5 393.0h0.8v0.8h-0.8zM60.7 388.1h0.8v0.8h-0.8zM63.7 383.7h0.8v0.8h-0.8zM70.3 390.4h0.8v0.8h-0.8zM61.7 386.0h0.8v0.8h-0.8zM68.0 389.6h0.8v0.8h-0.8zM65.1 381.8h0.8v0.8h-0.8zM64.8 382.6h0.8v0.8h-0.8zM70.9 385.0h0.8v0.8h-0.8zM58.2 386.7h0.8v0.8h-0.8zM59.1 382.1h0.8v0.8h-0.8zM77.8 386.7h0.8v0.8h-0.8zM60.6 389.0h0.8v0.8h-0.8zM69.4 390.8h0.8v0.8h-0.8zM70.6 386.4h0.8v0.8h-0.8zM71.0 384.9h0.8v0.8h-0.8zM65.1 383.5h0.8v0.8h-0.8zM72.5 387.5h0.8v0.8h-0.8zM75.9 386.6h0.8v0.8h-0.8zM67.8 386.9h0.8v0.8h-0.8zM57.7 381.0h0.8v0.8h-0.8zM81.0 382.4h0.8v0.8h-0.8zM78.7 383.4h0.8v0.8h-0.8zM60.4 383.8h0.8v0.8h-0.8zM69.6 381.8h0.8v0.8h-0.8zM66.4 388.1h0.8v0.8h-0.8zM63.4 389.6h0.8v0.8h-0.8zM70.0 382.4h0.8v0.8h-0.8zM69.1 390.9h0.8v0.8h-0.8zM59.4 381.2h0.8v0.8h-0.8zM64.2 386.6h0.8v0.8h-0.8zM68.4 382.3h0.8v0.8h-0.8zM59.0 390.7h0.8v0.8h-0.8zM60.6 384.1h0.8v0.8h-0.8zM56.7 381.0h0.8v0.8h-0.8zM55.4 386.3h0.8v0.8h-0.8zM63.8 383.3h0.8v0.8h-0.8zM69.7 386.4h0.8v0.8h-0.8zM69.0 386.8h0.8v0.8h-0.8zM61.5 382.1h0.8v0.8h-0.8zM63.4 381.9h0.8v0.8h-0.8zM61.7 386.0h0.8v0.8h-0.8zM58.9 384.6h0.8v0.8h-0.8zM56.3 389.4h0.8v0.8h-0.8zM71.9 384.1h0.8v0.8h-0.8zM70.7 385.2h0.8v0.8h-0.8zM67.4 383.7h0.8v0.8h-0.8zM75.2 384.5h0.8v0.8h-0.8zM66.4 386.7h0.8v0.8h-0.8zM60.3 382.7h0.8v0.8h-0.8zM71.0 380.6h0.8v0.8h-0.8zM78.3 389.1h0.8v0.8h-0.8zM66.5 380.6h0.8v0.8h-0.8zM73.4 382.6h0.8v0.8h-0.8zM80.2 382.4h0.8v0.8h-0.8zM64.1 379.9h0.8v0.8h-0.8zM76.4 380.5h0.8v0.8h-0.8zM65.3 379.7h0.8v0.8h-0.8zM68.7 383.8h0.8v0.8h-0.8zM54.9 385.3h0.8v0.8h-0.8zM77.9 388.0h0.8v0.8h-0.8zM61.8 389.1h0.8v0.8h-0.8zM70.7 386.8h0.8v0.8h-0.8zM70.0 383.1h0.8v0.8h-0.8zM67.4 385.3h0.8v0.8h-0.8zM73.5 387.8h0.8v0.8h-0.8zM78.3 379.7h0.8v0.8h-0.8zM64.2 385.5h0.8v0.8h-0.8zM70.0 379.7h0.8v0.8h-0.8zM59.6 378.5h0.8v0.8h-0.8zM67.4 382.8h0.8v0.8h-0.8zM61.7 384.2h0.8v0.8h-0.8zM65.5 391.2h0.8v0.8h-0.8zM64.1 385.8h0.8v0.8h-0.8zM66.8 381.3h0.8v0.8h-0.8zM71.4 384.4h0.8v0.8h-0.8zM78.7 388.3h0.8v0.8h-0.8zM79.1 385.3h0.8v0.8h-0.8zM61.3 390.4h0.8v0.8h-0.8zM68.7 385.2h0.8v0.8h-0.8zM68.2 387.2h0.8v0.8h-0.8zM76.9 385.0h0.8v0.8h-0.8zM70.9 387.2h0.8v0.8h-0.8zM72.3 386.7h0.8v0.8h-0.8zM62.7 379.9h0.8v0.8h-0.8zM77.2 382.7h0.8v0.8h-0.8zM59.1 378.7h0.8v0.8h-0.8zM55.8 386.4h0.8v0.8h-0.8zM67.6 381.3h0.8v0.8h-0.8zM73.7 381.4h0.8v0.8h-0.8zM69.6 387.2h0.8v0.8h-0.8zM67.9 382.6h0.8v0.8h-0.8zM76.4 386.7h0.8v0.8h-0.8zM77.2 383.8h0.8v0.8h-0.8zM81.3 386.1h0.8v0.8h-0.8zM61.8 386.1h0.8v0.8h-0.8zM59.0 384.4h0.8v0.8h-0.8zM57.8 386.0h0.8v0.8h-0.8zM65.8 389.2h0.8v0.8h-0.8zM69.3 383.0h0.8v0.8h-0.8zM61.2 381.1h0.8v0.8h-0.8zM68.5 384.1h0.8v0.8h-0.8zM63.2 387.0h0.8v0.8h-0.8zM69.5 389.7h0.8v0.8h-0.8zM69.5 383.1h0.8v0.8h-0.8zM74.7 383.9h0.8v0.8h-0.8zM60.6 381.4h0.8v0.8h-0.8zM72.5 383.3h0.8v0.8h-0.8zM62.5 384.1h0.8v0.8h-0.8zM69.2 382.8h0.8v0.8h-0.8zM62.0 385.2h0.8v0.8h-0.8zM74.9 386.1h0.8v0.8h-0.8zM60.8 383.3h0.8v0.8h-0.8zM60.4 392.2h0.8v0.8h-0.8zM65.3 380.7h0.8v0.8h-0.8zM61.6 384.6h0.8v0.8h-0.8zM78.0 382.8h0.8v0.8h-0.8zM66.4 384.6h0.8v0.8h-0.8zM63.5 382.1h0.8v0.8h-0.8zM57.7 378.3h0.8v0.8h-0.8zM62.1 378.0h0.8v0.8h-0.8zM78.9 387.0h0.8v0.8h-0.8zM61.7 379.7h0.8v0.8h-0.8zM68.2 380.9h0.8v0.8h-0.8zM81.2 382.8h0.8v0.8h-0.8zM72.9 381.2h0.8v0.8h-0.8zM66.7 384.4h0.8v0.8h-0.8zM62.7 379.1h0.8v0.8h-0.8zM72.0 380.4h0.8v0.8h-0.8zM69.3 384.1h0.8v0.8h-0.8zM66.8 384.1h0.8v0.8h-0.8zM67.4 385.8h0.8v0.8h-0.8zM77.4 385.5h0.8v0.8h-0.8zM75.5 382.2h0.8v0.8h-0.8zM77.5 386.8h0.8v0.8h-0.8zM77.2 382.6h0.8v0.8h-0.8zM58.6 385.0h0.8v0.8h-0.8zM58.0 382.5h0.8v0.8h-0.8zM78.6 382.0h0.8v0.8h-0.8zM72.2 388.2h0.8v0.8h-0.8zM57.8 379.6h0.8v0.8h-0.8zM69.2 381.4h0.8v0.8h-0.8zM57.4 390.0h0.8v0.8h-0.8zM69.6 386.4h0.8v0.8h-0.8zM67.2 384.6h0.8v0.8h-0.8zM67.7 390.0h0.8v0.8h-0.8zM58.2 378.6h0.8v0.8h-0.8zM59.7 381.8h0.8v0.8h-0.8zM68.3 390.6h0.8v0.8h-0.8zM62.4 383.9h0.8v0.8h-0.8zM64.9 389.2h0.8v0.8h-0.8zM76.8 382.1h0.8v0.8h-0.8zM79.5 379.9h0.8v0.8h-0.8zM77.3 387.1h0.8v0.8h-0.8zM74.9 379.1h0.8v0.8h-0.8zM55.7 385.3h0.8v0.8h-0.8zM69.3 386.7h0.8v0.8h-0.8zM66.6 380.6h0.8v0.8h-0.8zM61.9 386.9h0.8v0.8h-0.8zM59.2 378.5h0.8v0.8h-0.8zM56.7 390.7h0.8v0.8h-0.8zM79.9 382.7h0.8v0.8h-0.8zM63.3 385.8h0.8v0.8h-0.8zM68.4 384.8h0.8v0.8h-0.8zM66.6 382.7h0.8v0.8h-0.8zM57.9 386.2h0.8v0.8h-0.8zM59.6 388.7h0.8v0.8h-0.8zM78.8 385.8h0.8v0.8h-0.8zM75.6 381.8h0.8v0.8h-0.8zM75.8 384.7h0.8v0.8h-0.8zM79.3 391.7h0.8v0.8h-0.8z" fill="#23309a" fill-opacity="0.45"/>
<g filter="url(#bl4)">
<polygon points="57,435 64,433.5 69.5,435 69.5,443 65,445.5 58,445.5" fill="#2c48b8" fill-opacity="0.75"/>
<ellipse cx="63.5" cy="439.5" rx="3.4" ry="2.4" fill="#48b0e8" fill-opacity="0.85"/>
</g>
<g filter="url(#bl4)">
<polygon points="68,380.5 95,379 108,377 120,377 125.5,382 125.5,395 122,403 115,404 106,398 95,391 68,391" fill="#3448b8" fill-opacity="0.85"/>
<polygon points="86,384 100,382 112,380.5 121.5,382 123.5,389 121.5,397 115,400 107,395.5 98,389.5 86,388" fill="#2ea0dc" fill-opacity="0.95"/>
<polygon points="97,384.5 108,382 118,382.5 122,388 120.5,395 114.5,397.5 107,394 100,389.5" fill="#52c048" fill-opacity="0.97"/>
<ellipse cx="114" cy="389" rx="7.5" ry="5.6" fill="#a8d838" fill-opacity="0.97"/>
<ellipse cx="115" cy="389" rx="5.8" ry="4.4" fill="#e8e030" fill-opacity="0.97"/>
<ellipse cx="115.6" cy="389" rx="3.9" ry="3.2" fill="#f09020" fill-opacity="0.97"/>
<ellipse cx="116" cy="389" rx="2.4" ry="2.1" fill="#e01818" fill-opacity="0.97"/>
</g>
<rect x="38.5" y="369.6" width="93.0" height="93.09999999999997" fill="none" stroke="#1a1a1a" stroke-width="1.3"/>
<rect x="50.4" y="378.1" width="28.4" height="57.099999999999966" fill="none" stroke="#d02040" stroke-width="1"/>
<text x="65.30" y="376.79" font-size="7.2" fill="#1a1a1a" text-anchor="middle" stroke="#1a1a1a" stroke-width="0.22" >R1+R2</text>
<text x="32.90" y="381.28" font-size="8.0" fill="#1a1a1a" text-anchor="end" stroke="#1a1a1a" stroke-width="0.22" >10<tspan font-size="5.6" dy="-3.6">5</tspan></text>
<line x1="36.00" y1="378.90" x2="38.50" y2="378.90" stroke="#1a1a1a" stroke-width="0.9" />
<text x="32.90" y="402.98" font-size="8.0" fill="#1a1a1a" text-anchor="end" stroke="#1a1a1a" stroke-width="0.22" >10<tspan font-size="5.6" dy="-3.6">4</tspan></text>
<line x1="36.00" y1="400.60" x2="38.50" y2="400.60" stroke="#1a1a1a" stroke-width="0.9" />
<text x="32.90" y="428.88" font-size="8.0" fill="#1a1a1a" text-anchor="end" stroke="#1a1a1a" stroke-width="0.22" >10<tspan font-size="5.6" dy="-3.6">3</tspan></text>
<line x1="36.00" y1="426.50" x2="38.50" y2="426.50" stroke="#1a1a1a" stroke-width="0.9" />
<text x="29.90" y="444.38" font-size="8.0" fill="#1a1a1a" text-anchor="middle" stroke="#1a1a1a" stroke-width="0.22" >0</text>
<line x1="36.00" y1="441.50" x2="38.50" y2="441.50" stroke="#1a1a1a" stroke-width="0.9" />
<text x="33.10" y="459.38" font-size="8.0" fill="#1a1a1a" text-anchor="end" stroke="#1a1a1a" stroke-width="0.22" >−10<tspan font-size="5.6" dy="-3.4">3</tspan></text>
<line x1="36.00" y1="456.80" x2="38.50" y2="456.80" stroke="#1a1a1a" stroke-width="0.9" />
<text x="44.90" y="475.58" font-size="8.0" fill="#1a1a1a" text-anchor="middle" stroke="#1a1a1a" stroke-width="0.22" >−10<tspan font-size="5.6" dy="-3.4">3</tspan></text>
<line x1="44.90" y1="462.70" x2="44.90" y2="465.20" stroke="#1a1a1a" stroke-width="0.9" />
<text x="59.30" y="475.58" font-size="8.0" fill="#1a1a1a" text-anchor="middle" stroke="#1a1a1a" stroke-width="0.22" >0</text>
<line x1="59.30" y1="462.70" x2="59.30" y2="465.20" stroke="#1a1a1a" stroke-width="0.9" />
<text x="75.50" y="475.58" font-size="8.0" fill="#1a1a1a" text-anchor="middle" stroke="#1a1a1a" stroke-width="0.22" >10<tspan font-size="5.6" dy="-3.6">3</tspan></text>
<line x1="75.50" y1="462.70" x2="75.50" y2="465.20" stroke="#1a1a1a" stroke-width="0.9" />
<text x="101.80" y="475.58" font-size="8.0" fill="#1a1a1a" text-anchor="middle" stroke="#1a1a1a" stroke-width="0.22" >10<tspan font-size="5.6" dy="-3.6">4</tspan></text>
<line x1="101.80" y1="462.70" x2="101.80" y2="465.20" stroke="#1a1a1a" stroke-width="0.9" />
<text x="123.50" y="475.58" font-size="8.0" fill="#1a1a1a" text-anchor="middle" stroke="#1a1a1a" stroke-width="0.22" >10<tspan font-size="5.6" dy="-3.6">5</tspan></text>
<line x1="123.50" y1="462.70" x2="123.50" y2="465.20" stroke="#1a1a1a" stroke-width="0.9" />
<line x1="36.70" y1="435.50" x2="38.50" y2="435.50" stroke="#1a1a1a" stroke-width="0.55" />
<line x1="36.70" y1="436.55" x2="38.50" y2="436.55" stroke="#1a1a1a" stroke-width="0.55" />
<line x1="36.70" y1="437.60" x2="38.50" y2="437.60" stroke="#1a1a1a" stroke-width="0.55" />
<line x1="36.70" y1="438.65" x2="38.50" y2="438.65" stroke="#1a1a1a" stroke-width="0.55" />
<line x1="36.70" y1="439.70" x2="38.50" y2="439.70" stroke="#1a1a1a" stroke-width="0.55" />
<line x1="36.70" y1="440.75" x2="38.50" y2="440.75" stroke="#1a1a1a" stroke-width="0.55" />
<line x1="36.70" y1="441.80" x2="38.50" y2="441.80" stroke="#1a1a1a" stroke-width="0.55" />
<line x1="36.70" y1="442.85" x2="38.50" y2="442.85" stroke="#1a1a1a" stroke-width="0.55" />
<line x1="36.70" y1="443.90" x2="38.50" y2="443.90" stroke="#1a1a1a" stroke-width="0.55" />
<line x1="36.70" y1="444.95" x2="38.50" y2="444.95" stroke="#1a1a1a" stroke-width="0.55" />
<line x1="36.70" y1="446.00" x2="38.50" y2="446.00" stroke="#1a1a1a" stroke-width="0.55" />
<line x1="36.70" y1="447.05" x2="38.50" y2="447.05" stroke="#1a1a1a" stroke-width="0.55" />
<line x1="52.30" y1="462.70" x2="52.30" y2="464.50" stroke="#1a1a1a" stroke-width="0.55" />
<line x1="53.40" y1="462.70" x2="53.40" y2="464.50" stroke="#1a1a1a" stroke-width="0.55" />
<line x1="54.50" y1="462.70" x2="54.50" y2="464.50" stroke="#1a1a1a" stroke-width="0.55" />
<line x1="55.60" y1="462.70" x2="55.60" y2="464.50" stroke="#1a1a1a" stroke-width="0.55" />
<line x1="56.70" y1="462.70" x2="56.70" y2="464.50" stroke="#1a1a1a" stroke-width="0.55" />
<line x1="57.80" y1="462.70" x2="57.80" y2="464.50" stroke="#1a1a1a" stroke-width="0.55" />
<line x1="58.90" y1="462.70" x2="58.90" y2="464.50" stroke="#1a1a1a" stroke-width="0.55" />
<line x1="60.00" y1="462.70" x2="60.00" y2="464.50" stroke="#1a1a1a" stroke-width="0.55" />
<line x1="61.10" y1="462.70" x2="61.10" y2="464.50" stroke="#1a1a1a" stroke-width="0.55" />
<line x1="62.20" y1="462.70" x2="62.20" y2="464.50" stroke="#1a1a1a" stroke-width="0.55" />
<line x1="63.30" y1="462.70" x2="63.30" y2="464.50" stroke="#1a1a1a" stroke-width="0.55" />
<line x1="64.40" y1="462.70" x2="64.40" y2="464.50" stroke="#1a1a1a" stroke-width="0.55" />
<line x1="65.50" y1="462.70" x2="65.50" y2="464.50" stroke="#1a1a1a" stroke-width="0.55" />
<line x1="36.90" y1="418.70" x2="38.50" y2="418.70" stroke="#1a1a1a" stroke-width="0.6" />
<line x1="83.42" y1="462.70" x2="83.42" y2="464.30" stroke="#1a1a1a" stroke-width="0.6" />
<line x1="36.90" y1="414.14" x2="38.50" y2="414.14" stroke="#1a1a1a" stroke-width="0.6" />
<line x1="88.05" y1="462.70" x2="88.05" y2="464.30" stroke="#1a1a1a" stroke-width="0.6" />
<line x1="36.90" y1="410.91" x2="38.50" y2="410.91" stroke="#1a1a1a" stroke-width="0.6" />
<line x1="91.33" y1="462.70" x2="91.33" y2="464.30" stroke="#1a1a1a" stroke-width="0.6" />
<line x1="36.90" y1="408.40" x2="38.50" y2="408.40" stroke="#1a1a1a" stroke-width="0.6" />
<line x1="93.88" y1="462.70" x2="93.88" y2="464.30" stroke="#1a1a1a" stroke-width="0.6" />
<line x1="36.90" y1="406.35" x2="38.50" y2="406.35" stroke="#1a1a1a" stroke-width="0.6" />
<line x1="95.97" y1="462.70" x2="95.97" y2="464.30" stroke="#1a1a1a" stroke-width="0.6" />
<line x1="36.90" y1="404.61" x2="38.50" y2="404.61" stroke="#1a1a1a" stroke-width="0.6" />
<line x1="97.73" y1="462.70" x2="97.73" y2="464.30" stroke="#1a1a1a" stroke-width="0.6" />
<line x1="36.90" y1="403.11" x2="38.50" y2="403.11" stroke="#1a1a1a" stroke-width="0.6" />
<line x1="99.25" y1="462.70" x2="99.25" y2="464.30" stroke="#1a1a1a" stroke-width="0.6" />
<line x1="36.90" y1="401.79" x2="38.50" y2="401.79" stroke="#1a1a1a" stroke-width="0.6" />
<line x1="100.60" y1="462.70" x2="100.60" y2="464.30" stroke="#1a1a1a" stroke-width="0.6" />
<line x1="36.90" y1="394.07" x2="38.50" y2="394.07" stroke="#1a1a1a" stroke-width="0.6" />
<line x1="108.33" y1="462.70" x2="108.33" y2="464.30" stroke="#1a1a1a" stroke-width="0.6" />
<line x1="36.90" y1="390.25" x2="38.50" y2="390.25" stroke="#1a1a1a" stroke-width="0.6" />
<line x1="112.15" y1="462.70" x2="112.15" y2="464.30" stroke="#1a1a1a" stroke-width="0.6" />
<line x1="36.90" y1="387.54" x2="38.50" y2="387.54" stroke="#1a1a1a" stroke-width="0.6" />
<line x1="114.86" y1="462.70" x2="114.86" y2="464.30" stroke="#1a1a1a" stroke-width="0.6" />
<line x1="36.90" y1="385.43" x2="38.50" y2="385.43" stroke="#1a1a1a" stroke-width="0.6" />
<line x1="116.97" y1="462.70" x2="116.97" y2="464.30" stroke="#1a1a1a" stroke-width="0.6" />
<line x1="36.90" y1="383.71" x2="38.50" y2="383.71" stroke="#1a1a1a" stroke-width="0.6" />
<line x1="118.69" y1="462.70" x2="118.69" y2="464.30" stroke="#1a1a1a" stroke-width="0.6" />
<line x1="36.90" y1="382.26" x2="38.50" y2="382.26" stroke="#1a1a1a" stroke-width="0.6" />
<line x1="120.14" y1="462.70" x2="120.14" y2="464.30" stroke="#1a1a1a" stroke-width="0.6" />
<line x1="36.90" y1="381.00" x2="38.50" y2="381.00" stroke="#1a1a1a" stroke-width="0.6" />
<line x1="121.40" y1="462.70" x2="121.40" y2="464.30" stroke="#1a1a1a" stroke-width="0.6" />
<line x1="36.90" y1="379.89" x2="38.50" y2="379.89" stroke="#1a1a1a" stroke-width="0.6" />
<line x1="122.51" y1="462.70" x2="122.51" y2="464.30" stroke="#1a1a1a" stroke-width="0.6" />
<text transform="translate(12.00,384.00) rotate(-90)" x="0" y="3.02" font-size="8.4" fill="#1a1a1a" text-anchor="middle" font-weight="bold" textLength="29" lengthAdjust="spacingAndGlyphs" >PE - CD71</text>
<polyline points="12.1,401.3 12.1,485.2 93.7,485.2" fill="none" stroke="#1a1a1a" stroke-width="1"/>
<text x="113.85" y="487.10" font-size="8.6" fill="#1a1a1a" text-anchor="middle" font-weight="bold" textLength="35.5" lengthAdjust="spacingAndGlyphs" >APC - Ter119</text>
<text x="0.30" y="361.46" font-size="11" fill="#000" text-anchor="start" font-weight="bold" stroke="#000" stroke-width="0.45">G</text>
<text x="83.80" y="516.97" font-size="7.7" fill="#1a1a1a" text-anchor="middle" stroke="#1a1a1a" stroke-width="0.22" >E14.5</text>
<polygon points="79,558 110,560 124,570 124,605 100,610 80,606" fill="#c4c8ec" fill-opacity="0.4" filter="url(#bl3)"/>
<path d="M116.0 559.6h0.8v0.8h-0.8zM83.6 592.5h0.8v0.8h-0.8zM86.2 593.6h0.8v0.8h-0.8zM111.9 569.7h0.8v0.8h-0.8zM102.4 568.7h0.8v0.8h-0.8zM121.7 591.7h0.8v0.8h-0.8zM112.9 591.2h0.8v0.8h-0.8zM82.0 605.7h0.8v0.8h-0.8zM117.2 585.3h0.8v0.8h-0.8zM107.9 584.1h0.8v0.8h-0.8zM116.0 586.3h0.8v0.8h-0.8zM92.6 585.4h0.8v0.8h-0.8zM89.5 557.3h0.8v0.8h-0.8zM104.5 604.9h0.8v0.8h-0.8zM114.3 568.5h0.8v0.8h-0.8zM103.9 589.1h0.8v0.8h-0.8zM107.4 582.3h0.8v0.8h-0.8zM104.0 594.9h0.8v0.8h-0.8zM122.2 585.4h0.8v0.8h-0.8zM117.4 594.4h0.8v0.8h-0.8zM84.9 571.2h0.8v0.8h-0.8zM94.4 576.5h0.8v0.8h-0.8zM103.1 573.2h0.8v0.8h-0.8zM127.9 597.4h0.8v0.8h-0.8zM97.2 595.5h0.8v0.8h-0.8zM124.3 565.8h0.8v0.8h-0.8zM109.8 609.7h0.8v0.8h-0.8zM97.4 605.3h0.8v0.8h-0.8zM118.4 574.6h0.8v0.8h-0.8zM86.1 601.4h0.8v0.8h-0.8zM99.4 576.3h0.8v0.8h-0.8zM101.7 597.1h0.8v0.8h-0.8zM122.8 607.4h0.8v0.8h-0.8zM116.6 566.7h0.8v0.8h-0.8zM97.1 557.4h0.8v0.8h-0.8zM88.8 575.7h0.8v0.8h-0.8zM87.7 583.2h0.8v0.8h-0.8zM85.5 592.9h0.8v0.8h-0.8zM99.1 570.6h0.8v0.8h-0.8zM112.6 575.0h0.8v0.8h-0.8zM80.2 603.1h0.8v0.8h-0.8zM116.0 605.3h0.8v0.8h-0.8zM93.4 571.5h0.8v0.8h-0.8zM113.1 565.1h0.8v0.8h-0.8zM126.4 592.9h0.8v0.8h-0.8zM105.9 559.8h0.8v0.8h-0.8zM92.9 580.3h0.8v0.8h-0.8zM127.1 565.0h0.8v0.8h-0.8zM108.0 561.3h0.8v0.8h-0.8zM126.6 598.1h0.8v0.8h-0.8zM118.8 598.2h0.8v0.8h-0.8zM87.8 570.3h0.8v0.8h-0.8zM80.9 587.3h0.8v0.8h-0.8zM83.0 567.4h0.8v0.8h-0.8zM87.5 607.6h0.8v0.8h-0.8zM117.7 572.7h0.8v0.8h-0.8zM126.6 565.8h0.8v0.8h-0.8zM85.9 578.0h0.8v0.8h-0.8zM118.5 562.4h0.8v0.8h-0.8zM117.7 586.9h0.8v0.8h-0.8zM118.1 575.5h0.8v0.8h-0.8zM81.1 562.4h0.8v0.8h-0.8zM114.4 584.9h0.8v0.8h-0.8zM116.4 567.9h0.8v0.8h-0.8zM92.7 568.6h0.8v0.8h-0.8zM120.7 595.7h0.8v0.8h-0.8zM86.6 596.9h0.8v0.8h-0.8zM80.9 582.7h0.8v0.8h-0.8zM91.6 599.1h0.8v0.8h-0.8zM114.2 594.6h0.8v0.8h-0.8zM88.7 559.4h0.8v0.8h-0.8zM110.4 595.2h0.8v0.8h-0.8zM79.5 603.1h0.8v0.8h-0.8zM123.0 576.9h0.8v0.8h-0.8zM104.4 592.8h0.8v0.8h-0.8zM124.4 592.7h0.8v0.8h-0.8zM104.3 599.3h0.8v0.8h-0.8zM103.0 558.8h0.8v0.8h-0.8zM105.8 579.8h0.8v0.8h-0.8zM95.4 578.7h0.8v0.8h-0.8zM89.8 574.2h0.8v0.8h-0.8zM115.6 605.7h0.8v0.8h-0.8zM101.4 603.5h0.8v0.8h-0.8zM85.1 585.4h0.8v0.8h-0.8zM115.5 600.0h0.8v0.8h-0.8zM98.0 566.2h0.8v0.8h-0.8zM126.1 590.5h0.8v0.8h-0.8zM111.0 576.0h0.8v0.8h-0.8zM84.5 588.4h0.8v0.8h-0.8zM98.8 606.0h0.8v0.8h-0.8zM111.5 598.6h0.8v0.8h-0.8zM106.9 598.4h0.8v0.8h-0.8zM85.6 611.8h0.8v0.8h-0.8zM107.5 589.9h0.8v0.8h-0.8zM88.3 562.0h0.8v0.8h-0.8zM113.6 596.9h0.8v0.8h-0.8zM111.7 571.0h0.8v0.8h-0.8zM102.9 599.2h0.8v0.8h-0.8zM110.4 607.0h0.8v0.8h-0.8zM83.4 599.6h0.8v0.8h-0.8zM79.6 591.4h0.8v0.8h-0.8zM105.2 561.1h0.8v0.8h-0.8zM99.5 593.7h0.8v0.8h-0.8zM121.5 561.2h0.8v0.8h-0.8zM104.0 600.7h0.8v0.8h-0.8zM84.7 606.1h0.8v0.8h-0.8zM125.0 575.8h0.8v0.8h-0.8zM89.2 565.0h0.8v0.8h-0.8zM89.8 580.0h0.8v0.8h-0.8zM113.6 608.5h0.8v0.8h-0.8zM106.4 609.4h0.8v0.8h-0.8zM99.9 593.2h0.8v0.8h-0.8zM79.0 580.0h0.8v0.8h-0.8zM80.1 564.3h0.8v0.8h-0.8zM118.6 563.3h0.8v0.8h-0.8zM93.7 585.9h0.8v0.8h-0.8zM104.7 558.7h0.8v0.8h-0.8zM84.4 594.2h0.8v0.8h-0.8zM98.8 562.1h0.8v0.8h-0.8zM102.5 577.5h0.8v0.8h-0.8zM128.0 559.6h0.8v0.8h-0.8zM87.8 561.1h0.8v0.8h-0.8zM106.0 609.8h0.8v0.8h-0.8zM117.1 563.2h0.8v0.8h-0.8zM105.4 576.7h0.8v0.8h-0.8zM126.9 595.9h0.8v0.8h-0.8zM108.6 571.1h0.8v0.8h-0.8zM100.4 586.0h0.8v0.8h-0.8zM97.6 588.0h0.8v0.8h-0.8zM83.4 580.1h0.8v0.8h-0.8zM127.4 579.0h0.8v0.8h-0.8zM103.8 598.4h0.8v0.8h-0.8zM118.8 597.5h0.8v0.8h-0.8zM97.7 596.1h0.8v0.8h-0.8zM88.8 590.9h0.8v0.8h-0.8zM79.8 567.6h0.8v0.8h-0.8zM87.6 576.4h0.8v0.8h-0.8zM115.2 558.1h0.8v0.8h-0.8zM121.9 562.0h0.8v0.8h-0.8zM125.6 609.2h0.8v0.8h-0.8zM109.1 603.2h0.8v0.8h-0.8zM125.1 581.6h0.8v0.8h-0.8zM120.9 558.9h0.8v0.8h-0.8zM117.3 592.6h0.8v0.8h-0.8zM117.1 565.2h0.8v0.8h-0.8zM83.1 585.8h0.8v0.8h-0.8zM108.7 594.8h0.8v0.8h-0.8zM87.8 588.2h0.8v0.8h-0.8zM126.5 570.9h0.8v0.8h-0.8zM119.2 609.8h0.8v0.8h-0.8zM112.0 581.2h0.8v0.8h-0.8zM99.5 582.7h0.8v0.8h-0.8zM85.1 561.1h0.8v0.8h-0.8zM92.7 566.5h0.8v0.8h-0.8zM123.1 576.9h0.8v0.8h-0.8zM121.9 588.0h0.8v0.8h-0.8zM123.0 606.3h0.8v0.8h-0.8zM113.9 581.7h0.8v0.8h-0.8zM90.9 588.0h0.8v0.8h-0.8zM94.3 602.6h0.8v0.8h-0.8zM81.1 592.0h0.8v0.8h-0.8zM95.6 580.1h0.8v0.8h-0.8zM105.6 611.0h0.8v0.8h-0.8zM127.7 576.6h0.8v0.8h-0.8zM125.9 609.6h0.8v0.8h-0.8zM104.8 588.0h0.8v0.8h-0.8zM88.7 600.4h0.8v0.8h-0.8zM102.8 598.9h0.8v0.8h-0.8zM124.2 591.3h0.8v0.8h-0.8zM113.1 587.2h0.8v0.8h-0.8zM85.4 582.3h0.8v0.8h-0.8zM82.1 566.9h0.8v0.8h-0.8zM127.0 577.9h0.8v0.8h-0.8zM85.6 580.9h0.8v0.8h-0.8zM81.9 590.4h0.8v0.8h-0.8zM90.2 569.0h0.8v0.8h-0.8zM110.2 607.9h0.8v0.8h-0.8zM79.7 596.3h0.8v0.8h-0.8zM107.5 583.8h0.8v0.8h-0.8zM99.6 557.6h0.8v0.8h-0.8zM96.2 585.8h0.8v0.8h-0.8zM95.4 611.7h0.8v0.8h-0.8zM95.7 603.5h0.8v0.8h-0.8zM118.7 600.7h0.8v0.8h-0.8zM103.1 584.5h0.8v0.8h-0.8zM120.3 563.5h0.8v0.8h-0.8zM90.0 557.7h0.8v0.8h-0.8zM103.1 581.9h0.8v0.8h-0.8zM125.8 608.2h0.8v0.8h-0.8zM98.9 584.3h0.8v0.8h-0.8zM84.1 598.4h0.8v0.8h-0.8zM104.4 566.2h0.8v0.8h-0.8zM122.0 559.3h0.8v0.8h-0.8zM88.4 583.2h0.8v0.8h-0.8zM127.9 564.6h0.8v0.8h-0.8zM92.1 600.5h0.8v0.8h-0.8zM95.5 608.1h0.8v0.8h-0.8zM79.9 570.1h0.8v0.8h-0.8zM94.2 603.6h0.8v0.8h-0.8zM84.0 594.1h0.8v0.8h-0.8zM122.5 610.6h0.8v0.8h-0.8zM118.5 559.8h0.8v0.8h-0.8zM102.7 569.0h0.8v0.8h-0.8zM85.0 570.4h0.8v0.8h-0.8zM115.0 588.6h0.8v0.8h-0.8zM85.4 572.7h0.8v0.8h-0.8zM82.2 607.9h0.8v0.8h-0.8zM116.0 583.0h0.8v0.8h-0.8zM126.1 610.8h0.8v0.8h-0.8zM89.1 571.0h0.8v0.8h-0.8zM88.4 591.6h0.8v0.8h-0.8zM108.2 585.5h0.8v0.8h-0.8zM116.9 586.1h0.8v0.8h-0.8zM94.4 593.8h0.8v0.8h-0.8zM125.5 559.7h0.8v0.8h-0.8zM102.8 564.7h0.8v0.8h-0.8zM115.6 580.7h0.8v0.8h-0.8zM120.1 593.8h0.8v0.8h-0.8zM126.0 588.9h0.8v0.8h-0.8zM108.2 610.6h0.8v0.8h-0.8zM118.4 575.6h0.8v0.8h-0.8zM84.1 607.7h0.8v0.8h-0.8zM82.1 607.8h0.8v0.8h-0.8zM124.7 593.4h0.8v0.8h-0.8zM125.5 590.4h0.8v0.8h-0.8zM115.5 589.8h0.8v0.8h-0.8zM89.9 561.3h0.8v0.8h-0.8zM115.4 581.8h0.8v0.8h-0.8zM85.1 587.7h0.8v0.8h-0.8zM92.0 571.4h0.8v0.8h-0.8zM121.9 591.0h0.8v0.8h-0.8zM115.7 601.9h0.8v0.8h-0.8zM100.4 581.8h0.8v0.8h-0.8zM100.2 576.7h0.8v0.8h-0.8zM117.2 605.6h0.8v0.8h-0.8zM93.6 596.1h0.8v0.8h-0.8zM89.6 557.4h0.8v0.8h-0.8zM112.6 599.7h0.8v0.8h-0.8zM95.2 611.7h0.8v0.8h-0.8zM114.2 574.7h0.8v0.8h-0.8zM116.2 603.4h0.8v0.8h-0.8zM85.9 607.1h0.8v0.8h-0.8zM100.3 572.1h0.8v0.8h-0.8zM97.5 586.1h0.8v0.8h-0.8zM104.8 573.2h0.8v0.8h-0.8zM81.9 591.7h0.8v0.8h-0.8zM114.2 595.2h0.8v0.8h-0.8zM98.4 604.2h0.8v0.8h-0.8zM79.8 564.1h0.8v0.8h-0.8zM79.9 587.5h0.8v0.8h-0.8zM104.6 569.5h0.8v0.8h-0.8zM104.8 557.2h0.8v0.8h-0.8zM80.8 609.9h0.8v0.8h-0.8zM122.4 560.8h0.8v0.8h-0.8zM111.1 584.9h0.8v0.8h-0.8zM105.4 603.2h0.8v0.8h-0.8zM110.4 608.8h0.8v0.8h-0.8zM112.4 607.3h0.8v0.8h-0.8zM84.7 602.2h0.8v0.8h-0.8zM94.7 607.6h0.8v0.8h-0.8zM117.8 610.1h0.8v0.8h-0.8zM116.0 578.5h0.8v0.8h-0.8zM104.7 600.0h0.8v0.8h-0.8zM81.8 586.7h0.8v0.8h-0.8zM106.8 596.5h0.8v0.8h-0.8zM95.8 590.3h0.8v0.8h-0.8zM115.1 578.0h0.8v0.8h-0.8zM112.4 606.7h0.8v0.8h-0.8zM97.1 585.9h0.8v0.8h-0.8zM102.7 603.1h0.8v0.8h-0.8zM92.2 572.7h0.8v0.8h-0.8zM98.2 592.9h0.8v0.8h-0.8zM86.6 610.8h0.8v0.8h-0.8zM103.6 597.2h0.8v0.8h-0.8zM99.2 558.5h0.8v0.8h-0.8zM97.9 588.4h0.8v0.8h-0.8zM83.4 610.9h0.8v0.8h-0.8zM107.8 582.2h0.8v0.8h-0.8zM80.4 570.6h0.8v0.8h-0.8zM95.5 592.7h0.8v0.8h-0.8zM87.5 583.7h0.8v0.8h-0.8zM92.3 588.1h0.8v0.8h-0.8zM112.7 585.5h0.8v0.8h-0.8zM115.8 591.3h0.8v0.8h-0.8zM83.1 593.1h0.8v0.8h-0.8zM102.7 598.7h0.8v0.8h-0.8zM124.9 576.3h0.8v0.8h-0.8zM120.7 569.6h0.8v0.8h-0.8zM110.9 557.3h0.8v0.8h-0.8zM119.4 581.5h0.8v0.8h-0.8zM101.3 584.4h0.8v0.8h-0.8zM97.2 569.7h0.8v0.8h-0.8zM112.9 591.5h0.8v0.8h-0.8zM81.7 571.9h0.8v0.8h-0.8zM124.7 572.6h0.8v0.8h-0.8zM93.4 588.8h0.8v0.8h-0.8zM97.3 609.1h0.8v0.8h-0.8zM127.2 564.1h0.8v0.8h-0.8zM90.0 566.4h0.8v0.8h-0.8zM100.8 572.6h0.8v0.8h-0.8zM112.0 605.7h0.8v0.8h-0.8zM82.5 558.4h0.8v0.8h-0.8zM84.5 574.0h0.8v0.8h-0.8zM85.6 580.7h0.8v0.8h-0.8zM96.8 597.0h0.8v0.8h-0.8zM126.4 610.8h0.8v0.8h-0.8zM99.6 592.4h0.8v0.8h-0.8zM85.5 590.6h0.8v0.8h-0.8zM122.3 605.7h0.8v0.8h-0.8zM85.9 566.1h0.8v0.8h-0.8zM123.2 595.4h0.8v0.8h-0.8zM116.4 560.7h0.8v0.8h-0.8zM109.3 558.3h0.8v0.8h-0.8zM115.1 600.7h0.8v0.8h-0.8zM94.8 557.2h0.8v0.8h-0.8zM114.9 611.9h0.8v0.8h-0.8zM109.4 577.1h0.8v0.8h-0.8zM95.1 601.7h0.8v0.8h-0.8zM126.5 577.1h0.8v0.8h-0.8zM89.8 611.8h0.8v0.8h-0.8zM100.0 581.3h0.8v0.8h-0.8zM94.2 596.9h0.8v0.8h-0.8zM127.1 582.8h0.8v0.8h-0.8zM120.9 579.0h0.8v0.8h-0.8zM99.7 601.1h0.8v0.8h-0.8zM126.6 598.5h0.8v0.8h-0.8zM113.5 602.5h0.8v0.8h-0.8zM124.0 609.4h0.8v0.8h-0.8zM105.0 578.3h0.8v0.8h-0.8zM79.3 586.0h0.8v0.8h-0.8zM96.4 557.0h0.8v0.8h-0.8zM127.7 573.9h0.8v0.8h-0.8zM124.7 557.9h0.8v0.8h-0.8zM96.6 600.1h0.8v0.8h-0.8zM112.0 594.0h0.8v0.8h-0.8zM102.9 562.0h0.8v0.8h-0.8zM119.7 598.9h0.8v0.8h-0.8zM102.4 587.9h0.8v0.8h-0.8zM118.4 584.2h0.8v0.8h-0.8zM102.3 583.6h0.8v0.8h-0.8zM115.1 597.5h0.8v0.8h-0.8zM95.4 599.7h0.8v0.8h-0.8zM97.4 594.1h0.8v0.8h-0.8zM97.5 606.5h0.8v0.8h-0.8zM125.1 599.8h0.8v0.8h-0.8zM97.7 576.3h0.8v0.8h-0.8zM100.2 590.3h0.8v0.8h-0.8zM80.7 587.0h0.8v0.8h-0.8zM124.5 560.5h0.8v0.8h-0.8zM122.7 588.5h0.8v0.8h-0.8zM127.9 596.8h0.8v0.8h-0.8zM114.2 598.4h0.8v0.8h-0.8zM99.6 563.5h0.8v0.8h-0.8zM120.9 605.2h0.8v0.8h-0.8zM114.3 569.0h0.8v0.8h-0.8zM103.5 585.3h0.8v0.8h-0.8zM96.8 583.9h0.8v0.8h-0.8zM101.4 610.9h0.8v0.8h-0.8zM109.7 610.7h0.8v0.8h-0.8zM123.5 566.8h0.8v0.8h-0.8zM116.8 578.0h0.8v0.8h-0.8zM108.3 588.0h0.8v0.8h-0.8zM115.2 573.5h0.8v0.8h-0.8zM112.2 577.3h0.8v0.8h-0.8zM117.3 584.1h0.8v0.8h-0.8zM110.5 611.8h0.8v0.8h-0.8zM92.7 557.3h0.8v0.8h-0.8zM122.9 585.9h0.8v0.8h-0.8zM110.7 602.7h0.8v0.8h-0.8zM122.6 578.2h0.8v0.8h-0.8zM127.4 578.5h0.8v0.8h-0.8zM114.6 602.8h0.8v0.8h-0.8zM96.8 580.1h0.8v0.8h-0.8zM97.0 575.8h0.8v0.8h-0.8zM99.2 603.6h0.8v0.8h-0.8zM82.0 611.4h0.8v0.8h-0.8zM117.7 587.8h0.8v0.8h-0.8zM110.5 573.5h0.8v0.8h-0.8zM116.5 605.1h0.8v0.8h-0.8zM97.7 584.5h0.8v0.8h-0.8zM89.7 570.8h0.8v0.8h-0.8zM120.8 592.3h0.8v0.8h-0.8zM100.9 592.2h0.8v0.8h-0.8zM88.1 557.2h0.8v0.8h-0.8zM96.5 588.6h0.8v0.8h-0.8zM88.0 586.8h0.8v0.8h-0.8zM94.9 571.4h0.8v0.8h-0.8zM115.3 576.8h0.8v0.8h-0.8zM115.4 598.2h0.8v0.8h-0.8zM97.4 558.7h0.8v0.8h-0.8zM120.3 587.3h0.8v0.8h-0.8zM107.4 594.7h0.8v0.8h-0.8zM105.9 606.9h0.8v0.8h-0.8zM79.4 610.3h0.8v0.8h-0.8zM109.2 579.4h0.8v0.8h-0.8zM123.5 606.2h0.8v0.8h-0.8zM108.2 557.5h0.8v0.8h-0.8zM109.6 579.7h0.8v0.8h-0.8zM107.1 602.7h0.8v0.8h-0.8zM85.5 603.4h0.8v0.8h-0.8zM94.2 570.8h0.8v0.8h-0.8zM80.8 562.9h0.8v0.8h-0.8zM92.1 586.1h0.8v0.8h-0.8zM125.1 566.5h0.8v0.8h-0.8zM93.2 577.5h0.8v0.8h-0.8zM110.4 576.5h0.8v0.8h-0.8zM111.8 565.3h0.8v0.8h-0.8zM81.1 588.9h0.8v0.8h-0.8zM114.5 564.4h0.8v0.8h-0.8zM81.4 593.8h0.8v0.8h-0.8zM82.2 607.9h0.8v0.8h-0.8zM112.8 565.8h0.8v0.8h-0.8zM99.1 560.1h0.8v0.8h-0.8zM83.3 576.4h0.8v0.8h-0.8zM122.0 607.0h0.8v0.8h-0.8zM115.9 592.1h0.8v0.8h-0.8zM107.6 585.1h0.8v0.8h-0.8zM111.1 584.3h0.8v0.8h-0.8zM98.5 603.0h0.8v0.8h-0.8zM93.7 579.3h0.8v0.8h-0.8zM112.3 610.0h0.8v0.8h-0.8zM95.9 580.8h0.8v0.8h-0.8zM98.7 568.6h0.8v0.8h-0.8zM96.4 600.4h0.8v0.8h-0.8zM88.2 583.3h0.8v0.8h-0.8zM92.9 588.8h0.8v0.8h-0.8zM116.9 563.4h0.8v0.8h-0.8zM102.8 567.3h0.8v0.8h-0.8zM110.7 594.3h0.8v0.8h-0.8zM89.8 569.7h0.8v0.8h-0.8zM93.9 575.1h0.8v0.8h-0.8zM122.7 605.1h0.8v0.8h-0.8zM117.8 578.7h0.8v0.8h-0.8zM101.4 568.1h0.8v0.8h-0.8zM101.6 609.3h0.8v0.8h-0.8zM83.5 578.7h0.8v0.8h-0.8zM88.6 603.5h0.8v0.8h-0.8zM93.8 583.8h0.8v0.8h-0.8zM81.5 595.0h0.8v0.8h-0.8zM104.2 601.0h0.8v0.8h-0.8zM114.4 597.9h0.8v0.8h-0.8zM91.9 570.8h0.8v0.8h-0.8zM108.3 559.7h0.8v0.8h-0.8zM124.9 596.6h0.8v0.8h-0.8zM103.2 576.9h0.8v0.8h-0.8zM82.8 587.5h0.8v0.8h-0.8zM116.9 563.5h0.8v0.8h-0.8zM83.9 594.7h0.8v0.8h-0.8zM102.0 600.5h0.8v0.8h-0.8zM99.2 611.0h0.8v0.8h-0.8zM121.8 574.7h0.8v0.8h-0.8zM105.3 589.3h0.8v0.8h-0.8zM101.1 602.0h0.8v0.8h-0.8zM113.6 602.0h0.8v0.8h-0.8zM91.4 584.8h0.8v0.8h-0.8zM105.6 589.1h0.8v0.8h-0.8zM79.8 601.7h0.8v0.8h-0.8zM101.0 565.7h0.8v0.8h-0.8zM120.9 587.6h0.8v0.8h-0.8zM115.3 597.7h0.8v0.8h-0.8zM109.5 607.3h0.8v0.8h-0.8zM81.7 575.3h0.8v0.8h-0.8zM87.0 592.0h0.8v0.8h-0.8zM89.8 558.6h0.8v0.8h-0.8zM85.7 566.6h0.8v0.8h-0.8zM105.5 582.0h0.8v0.8h-0.8zM101.8 557.7h0.8v0.8h-0.8zM104.9 570.9h0.8v0.8h-0.8zM83.5 560.1h0.8v0.8h-0.8zM86.4 579.0h0.8v0.8h-0.8zM87.2 582.5h0.8v0.8h-0.8zM87.0 597.4h0.8v0.8h-0.8zM121.9 574.8h0.8v0.8h-0.8zM82.5 610.1h0.8v0.8h-0.8zM83.1 592.7h0.8v0.8h-0.8zM116.1 583.6h0.8v0.8h-0.8zM122.7 565.1h0.8v0.8h-0.8zM114.3 606.9h0.8v0.8h-0.8zM123.0 603.7h0.8v0.8h-0.8zM100.4 585.1h0.8v0.8h-0.8zM120.6 577.9h0.8v0.8h-0.8zM91.5 558.7h0.8v0.8h-0.8zM89.0 564.7h0.8v0.8h-0.8zM124.5 574.0h0.8v0.8h-0.8zM96.3 610.6h0.8v0.8h-0.8zM112.9 580.9h0.8v0.8h-0.8zM84.2 577.1h0.8v0.8h-0.8zM93.3 609.2h0.8v0.8h-0.8zM99.6 610.5h0.8v0.8h-0.8zM92.2 559.6h0.8v0.8h-0.8zM123.1 561.1h0.8v0.8h-0.8zM117.6 589.7h0.8v0.8h-0.8zM92.9 602.9h0.8v0.8h-0.8zM100.0 611.1h0.8v0.8h-0.8zM106.3 608.9h0.8v0.8h-0.8zM124.6 577.7h0.8v0.8h-0.8zM112.9 597.0h0.8v0.8h-0.8zM111.1 558.3h0.8v0.8h-0.8zM112.7 598.9h0.8v0.8h-0.8zM88.5 562.2h0.8v0.8h-0.8zM82.3 586.9h0.8v0.8h-0.8zM84.2 603.6h0.8v0.8h-0.8zM99.3 611.8h0.8v0.8h-0.8zM115.0 580.6h0.8v0.8h-0.8zM87.9 580.5h0.8v0.8h-0.8zM108.7 604.4h0.8v0.8h-0.8zM122.7 574.9h0.8v0.8h-0.8zM80.1 593.6h0.8v0.8h-0.8zM112.7 592.6h0.8v0.8h-0.8zM118.4 601.7h0.8v0.8h-0.8zM109.6 602.2h0.8v0.8h-0.8zM85.1 609.0h0.8v0.8h-0.8zM111.7 562.2h0.8v0.8h-0.8zM87.3 592.3h0.8v0.8h-0.8zM94.0 608.5h0.8v0.8h-0.8zM92.7 583.7h0.8v0.8h-0.8zM103.7 608.7h0.8v0.8h-0.8zM93.9 606.1h0.8v0.8h-0.8zM114.4 588.3h0.8v0.8h-0.8zM125.4 605.6h0.8v0.8h-0.8zM115.7 587.0h0.8v0.8h-0.8zM81.1 569.1h0.8v0.8h-0.8zM110.9 563.4h0.8v0.8h-0.8zM110.5 576.1h0.8v0.8h-0.8zM98.0 602.3h0.8v0.8h-0.8zM120.2 598.1h0.8v0.8h-0.8zM100.9 586.5h0.8v0.8h-0.8zM127.3 607.9h0.8v0.8h-0.8zM108.8 561.3h0.8v0.8h-0.8zM123.2 559.5h0.8v0.8h-0.8zM84.7 593.2h0.8v0.8h-0.8zM88.6 598.4h0.8v0.8h-0.8zM112.6 566.1h0.8v0.8h-0.8zM123.5 611.9h0.8v0.8h-0.8zM111.2 611.0h0.8v0.8h-0.8zM118.3 583.0h0.8v0.8h-0.8zM119.4 608.6h0.8v0.8h-0.8zM113.1 561.6h0.8v0.8h-0.8zM97.3 595.7h0.8v0.8h-0.8zM96.9 566.2h0.8v0.8h-0.8zM101.4 564.8h0.8v0.8h-0.8zM102.2 562.4h0.8v0.8h-0.8zM114.6 568.7h0.8v0.8h-0.8zM124.9 562.9h0.8v0.8h-0.8zM109.9 592.4h0.8v0.8h-0.8zM88.7 591.5h0.8v0.8h-0.8zM105.9 590.9h0.8v0.8h-0.8zM88.1 583.2h0.8v0.8h-0.8zM120.0 591.0h0.8v0.8h-0.8zM90.9 575.4h0.8v0.8h-0.8zM122.1 559.9h0.8v0.8h-0.8zM102.4 585.2h0.8v0.8h-0.8zM100.1 557.1h0.8v0.8h-0.8zM84.2 603.3h0.8v0.8h-0.8zM101.3 573.0h0.8v0.8h-0.8zM101.1 559.9h0.8v0.8h-0.8zM83.0 602.6h0.8v0.8h-0.8zM116.2 567.8h0.8v0.8h-0.8zM94.6 561.2h0.8v0.8h-0.8zM94.6 585.7h0.8v0.8h-0.8zM115.9 584.8h0.8v0.8h-0.8zM120.5 611.9h0.8v0.8h-0.8zM106.8 559.4h0.8v0.8h-0.8zM85.6 594.0h0.8v0.8h-0.8zM85.4 606.5h0.8v0.8h-0.8zM81.7 560.0h0.8v0.8h-0.8zM127.8 579.4h0.8v0.8h-0.8zM106.2 589.8h0.8v0.8h-0.8zM84.8 575.5h0.8v0.8h-0.8zM97.1 597.6h0.8v0.8h-0.8zM117.3 595.2h0.8v0.8h-0.8zM87.9 582.4h0.8v0.8h-0.8zM123.9 566.6h0.8v0.8h-0.8zM96.1 590.9h0.8v0.8h-0.8zM127.8 558.4h0.8v0.8h-0.8zM112.9 582.4h0.8v0.8h-0.8zM104.9 603.2h0.8v0.8h-0.8zM83.7 589.9h0.8v0.8h-0.8zM94.5 598.5h0.8v0.8h-0.8zM114.0 579.9h0.8v0.8h-0.8zM86.5 599.1h0.8v0.8h-0.8zM113.3 588.0h0.8v0.8h-0.8zM115.5 609.2h0.8v0.8h-0.8zM91.0 594.9h0.8v0.8h-0.8zM118.5 571.6h0.8v0.8h-0.8zM123.3 574.2h0.8v0.8h-0.8zM125.8 589.0h0.8v0.8h-0.8zM126.7 605.6h0.8v0.8h-0.8zM117.3 577.4h0.8v0.8h-0.8zM101.5 589.3h0.8v0.8h-0.8zM118.4 579.9h0.8v0.8h-0.8zM123.0 568.9h0.8v0.8h-0.8zM104.5 565.0h0.8v0.8h-0.8zM87.4 573.0h0.8v0.8h-0.8zM81.3 588.3h0.8v0.8h-0.8zM109.4 578.8h0.8v0.8h-0.8zM118.1 587.0h0.8v0.8h-0.8zM112.5 561.7h0.8v0.8h-0.8zM95.2 558.2h0.8v0.8h-0.8zM86.8 603.7h0.8v0.8h-0.8z" fill="#4a58c0" fill-opacity="0.45"/>
<path d="M120.0 596.1h0.8v0.8h-0.8zM114.5 596.4h0.8v0.8h-0.8zM121.1 570.0h0.8v0.8h-0.8zM124.6 578.7h0.8v0.8h-0.8zM110.8 604.5h0.8v0.8h-0.8zM117.7 576.2h0.8v0.8h-0.8zM115.9 596.8h0.8v0.8h-0.8zM118.2 580.9h0.8v0.8h-0.8zM120.7 574.6h0.8v0.8h-0.8zM115.1 578.8h0.8v0.8h-0.8zM115.4 592.6h0.8v0.8h-0.8zM116.9 573.4h0.8v0.8h-0.8zM116.2 563.1h0.8v0.8h-0.8zM118.0 586.1h0.8v0.8h-0.8zM119.2 582.4h0.8v0.8h-0.8zM118.6 574.7h0.8v0.8h-0.8zM117.6 586.7h0.8v0.8h-0.8zM114.1 591.5h0.8v0.8h-0.8zM117.9 585.6h0.8v0.8h-0.8zM116.2 607.1h0.8v0.8h-0.8zM117.5 576.5h0.8v0.8h-0.8zM115.1 591.5h0.8v0.8h-0.8zM116.9 576.3h0.8v0.8h-0.8zM115.5 595.3h0.8v0.8h-0.8zM117.7 596.6h0.8v0.8h-0.8zM117.5 572.0h0.8v0.8h-0.8zM119.9 588.5h0.8v0.8h-0.8zM115.7 581.6h0.8v0.8h-0.8zM114.8 594.1h0.8v0.8h-0.8zM116.3 590.3h0.8v0.8h-0.8zM118.2 582.1h0.8v0.8h-0.8zM118.5 582.3h0.8v0.8h-0.8zM114.2 580.4h0.8v0.8h-0.8zM114.2 593.3h0.8v0.8h-0.8zM119.3 578.5h0.8v0.8h-0.8zM119.2 587.7h0.8v0.8h-0.8zM120.2 574.7h0.8v0.8h-0.8zM117.6 574.1h0.8v0.8h-0.8zM115.6 600.1h0.8v0.8h-0.8zM111.9 574.9h0.8v0.8h-0.8zM118.9 593.5h0.8v0.8h-0.8zM115.3 562.6h0.8v0.8h-0.8zM112.7 589.0h0.8v0.8h-0.8zM120.6 595.0h0.8v0.8h-0.8zM115.4 599.9h0.8v0.8h-0.8zM117.0 591.8h0.8v0.8h-0.8zM117.0 602.5h0.8v0.8h-0.8zM116.0 561.4h0.8v0.8h-0.8zM116.6 587.1h0.8v0.8h-0.8zM118.3 577.1h0.8v0.8h-0.8zM116.9 572.5h0.8v0.8h-0.8zM116.8 585.9h0.8v0.8h-0.8zM118.2 603.1h0.8v0.8h-0.8zM111.9 590.7h0.8v0.8h-0.8zM118.7 572.3h0.8v0.8h-0.8zM117.7 584.9h0.8v0.8h-0.8zM114.7 592.9h0.8v0.8h-0.8zM122.8 592.4h0.8v0.8h-0.8zM119.7 596.7h0.8v0.8h-0.8zM117.1 595.7h0.8v0.8h-0.8zM115.2 587.0h0.8v0.8h-0.8zM119.5 599.4h0.8v0.8h-0.8zM116.7 581.8h0.8v0.8h-0.8zM118.8 584.1h0.8v0.8h-0.8zM117.9 593.8h0.8v0.8h-0.8zM115.4 594.6h0.8v0.8h-0.8zM118.6 582.1h0.8v0.8h-0.8zM114.0 578.1h0.8v0.8h-0.8zM117.4 595.3h0.8v0.8h-0.8zM112.0 592.8h0.8v0.8h-0.8zM118.0 572.6h0.8v0.8h-0.8zM119.9 589.3h0.8v0.8h-0.8zM118.7 574.3h0.8v0.8h-0.8zM114.4 594.9h0.8v0.8h-0.8zM121.4 589.0h0.8v0.8h-0.8zM117.0 580.1h0.8v0.8h-0.8zM112.7 595.8h0.8v0.8h-0.8zM117.2 598.5h0.8v0.8h-0.8zM115.5 596.5h0.8v0.8h-0.8zM115.5 591.4h0.8v0.8h-0.8zM121.3 577.3h0.8v0.8h-0.8zM120.0 584.9h0.8v0.8h-0.8zM114.9 587.2h0.8v0.8h-0.8zM119.3 577.2h0.8v0.8h-0.8zM116.8 578.8h0.8v0.8h-0.8zM115.4 582.7h0.8v0.8h-0.8zM119.8 579.6h0.8v0.8h-0.8zM121.0 580.8h0.8v0.8h-0.8zM115.6 596.7h0.8v0.8h-0.8zM121.4 577.9h0.8v0.8h-0.8zM119.1 572.3h0.8v0.8h-0.8zM116.4 580.9h0.8v0.8h-0.8zM119.5 571.3h0.8v0.8h-0.8zM116.1 577.5h0.8v0.8h-0.8zM117.8 571.6h0.8v0.8h-0.8zM118.1 568.6h0.8v0.8h-0.8zM119.8 570.7h0.8v0.8h-0.8zM112.3 603.2h0.8v0.8h-0.8zM121.0 575.8h0.8v0.8h-0.8zM114.5 590.2h0.8v0.8h-0.8zM123.1 591.5h0.8v0.8h-0.8zM119.3 572.1h0.8v0.8h-0.8zM112.6 589.2h0.8v0.8h-0.8zM120.3 586.5h0.8v0.8h-0.8zM117.5 600.1h0.8v0.8h-0.8zM115.2 596.9h0.8v0.8h-0.8zM119.8 578.2h0.8v0.8h-0.8zM117.8 586.2h0.8v0.8h-0.8zM119.1 574.4h0.8v0.8h-0.8zM116.9 586.0h0.8v0.8h-0.8zM117.6 585.2h0.8v0.8h-0.8zM118.2 582.9h0.8v0.8h-0.8zM116.1 596.2h0.8v0.8h-0.8zM115.7 581.5h0.8v0.8h-0.8zM115.1 572.5h0.8v0.8h-0.8zM118.7 584.5h0.8v0.8h-0.8zM117.1 589.9h0.8v0.8h-0.8zM117.0 592.4h0.8v0.8h-0.8zM122.5 588.8h0.8v0.8h-0.8zM116.8 602.9h0.8v0.8h-0.8zM119.4 566.9h0.8v0.8h-0.8zM121.2 587.3h0.8v0.8h-0.8zM119.9 572.5h0.8v0.8h-0.8zM115.2 578.0h0.8v0.8h-0.8zM119.0 572.8h0.8v0.8h-0.8zM115.5 595.3h0.8v0.8h-0.8zM115.7 586.3h0.8v0.8h-0.8zM115.0 566.6h0.8v0.8h-0.8zM117.3 583.7h0.8v0.8h-0.8zM113.6 595.5h0.8v0.8h-0.8zM119.8 594.6h0.8v0.8h-0.8zM116.1 572.6h0.8v0.8h-0.8zM117.2 586.8h0.8v0.8h-0.8zM117.0 578.6h0.8v0.8h-0.8zM114.8 577.0h0.8v0.8h-0.8zM117.3 579.7h0.8v0.8h-0.8zM122.1 582.0h0.8v0.8h-0.8zM118.7 580.0h0.8v0.8h-0.8zM117.0 574.5h0.8v0.8h-0.8zM116.2 568.8h0.8v0.8h-0.8zM111.8 599.5h0.8v0.8h-0.8zM114.6 589.7h0.8v0.8h-0.8zM117.2 578.8h0.8v0.8h-0.8zM119.5 579.0h0.8v0.8h-0.8zM118.7 581.0h0.8v0.8h-0.8zM120.2 595.3h0.8v0.8h-0.8zM117.7 596.8h0.8v0.8h-0.8zM118.9 601.8h0.8v0.8h-0.8zM117.2 568.3h0.8v0.8h-0.8zM118.1 587.6h0.8v0.8h-0.8zM116.5 582.7h0.8v0.8h-0.8zM116.8 571.5h0.8v0.8h-0.8zM122.2 576.6h0.8v0.8h-0.8zM114.6 567.9h0.8v0.8h-0.8zM115.2 584.6h0.8v0.8h-0.8zM121.5 591.4h0.8v0.8h-0.8zM115.5 571.6h0.8v0.8h-0.8zM114.4 584.1h0.8v0.8h-0.8zM119.9 579.8h0.8v0.8h-0.8zM121.9 605.8h0.8v0.8h-0.8zM117.9 561.6h0.8v0.8h-0.8zM120.5 583.9h0.8v0.8h-0.8zM119.3 595.6h0.8v0.8h-0.8zM114.7 585.7h0.8v0.8h-0.8zM118.0 576.9h0.8v0.8h-0.8zM119.4 583.6h0.8v0.8h-0.8zM116.4 605.2h0.8v0.8h-0.8zM118.0 602.6h0.8v0.8h-0.8zM117.1 596.2h0.8v0.8h-0.8zM115.4 586.6h0.8v0.8h-0.8zM120.5 561.6h0.8v0.8h-0.8zM119.0 582.1h0.8v0.8h-0.8zM120.5 586.9h0.8v0.8h-0.8zM117.3 571.2h0.8v0.8h-0.8zM125.5 577.0h0.8v0.8h-0.8zM116.6 577.2h0.8v0.8h-0.8zM116.7 587.3h0.8v0.8h-0.8zM113.8 596.4h0.8v0.8h-0.8zM116.8 591.4h0.8v0.8h-0.8zM111.7 579.4h0.8v0.8h-0.8zM116.7 580.8h0.8v0.8h-0.8zM115.7 588.3h0.8v0.8h-0.8zM118.6 574.4h0.8v0.8h-0.8zM112.1 592.8h0.8v0.8h-0.8zM116.6 596.5h0.8v0.8h-0.8zM119.9 583.8h0.8v0.8h-0.8zM113.6 581.1h0.8v0.8h-0.8zM115.5 598.3h0.8v0.8h-0.8zM112.8 594.8h0.8v0.8h-0.8zM113.3 578.8h0.8v0.8h-0.8zM113.6 577.5h0.8v0.8h-0.8zM116.3 589.0h0.8v0.8h-0.8zM115.9 592.4h0.8v0.8h-0.8zM122.3 586.7h0.8v0.8h-0.8zM114.3 583.1h0.8v0.8h-0.8zM117.2 581.1h0.8v0.8h-0.8zM120.6 597.4h0.8v0.8h-0.8zM123.0 590.6h0.8v0.8h-0.8zM110.2 583.5h0.8v0.8h-0.8zM119.3 576.3h0.8v0.8h-0.8zM115.8 594.8h0.8v0.8h-0.8zM117.9 572.8h0.8v0.8h-0.8zM115.9 551.8h0.8v0.8h-0.8zM117.5 571.8h0.8v0.8h-0.8zM117.3 572.2h0.8v0.8h-0.8zM114.9 579.4h0.8v0.8h-0.8zM125.1 572.2h0.8v0.8h-0.8zM114.2 579.2h0.8v0.8h-0.8zM120.4 593.6h0.8v0.8h-0.8zM119.4 581.5h0.8v0.8h-0.8zM117.8 576.7h0.8v0.8h-0.8zM117.0 576.3h0.8v0.8h-0.8zM113.5 574.3h0.8v0.8h-0.8zM122.8 589.2h0.8v0.8h-0.8zM115.4 583.8h0.8v0.8h-0.8zM116.2 598.1h0.8v0.8h-0.8zM117.4 578.1h0.8v0.8h-0.8zM119.3 588.4h0.8v0.8h-0.8zM115.6 576.6h0.8v0.8h-0.8zM117.9 567.3h0.8v0.8h-0.8zM115.0 595.8h0.8v0.8h-0.8zM119.8 597.0h0.8v0.8h-0.8zM116.3 578.5h0.8v0.8h-0.8zM116.7 579.8h0.8v0.8h-0.8zM121.0 582.6h0.8v0.8h-0.8zM121.2 577.3h0.8v0.8h-0.8zM118.5 602.4h0.8v0.8h-0.8zM115.4 577.9h0.8v0.8h-0.8zM115.8 567.6h0.8v0.8h-0.8zM116.7 578.0h0.8v0.8h-0.8zM123.5 579.8h0.8v0.8h-0.8zM111.6 595.1h0.8v0.8h-0.8zM120.1 584.6h0.8v0.8h-0.8zM118.3 592.7h0.8v0.8h-0.8zM115.9 585.4h0.8v0.8h-0.8zM117.9 602.8h0.8v0.8h-0.8zM121.3 586.8h0.8v0.8h-0.8zM113.8 594.5h0.8v0.8h-0.8zM117.3 597.5h0.8v0.8h-0.8zM117.6 586.9h0.8v0.8h-0.8zM119.3 577.1h0.8v0.8h-0.8zM115.7 609.7h0.8v0.8h-0.8zM115.1 595.0h0.8v0.8h-0.8zM119.3 593.8h0.8v0.8h-0.8zM121.2 570.5h0.8v0.8h-0.8zM120.1 562.8h0.8v0.8h-0.8zM117.6 588.6h0.8v0.8h-0.8zM120.3 596.6h0.8v0.8h-0.8zM114.9 582.0h0.8v0.8h-0.8zM117.0 577.5h0.8v0.8h-0.8zM115.2 577.8h0.8v0.8h-0.8zM120.6 599.6h0.8v0.8h-0.8zM119.5 603.1h0.8v0.8h-0.8zM117.7 573.2h0.8v0.8h-0.8zM115.7 587.1h0.8v0.8h-0.8zM120.3 598.0h0.8v0.8h-0.8zM115.0 595.3h0.8v0.8h-0.8zM116.0 591.4h0.8v0.8h-0.8zM120.0 600.9h0.8v0.8h-0.8zM116.0 587.6h0.8v0.8h-0.8zM118.6 580.5h0.8v0.8h-0.8zM117.7 591.4h0.8v0.8h-0.8zM113.0 578.0h0.8v0.8h-0.8zM123.8 589.8h0.8v0.8h-0.8zM115.9 565.2h0.8v0.8h-0.8zM114.9 590.6h0.8v0.8h-0.8zM119.3 589.8h0.8v0.8h-0.8zM119.1 578.5h0.8v0.8h-0.8zM121.8 572.8h0.8v0.8h-0.8zM118.9 582.1h0.8v0.8h-0.8zM112.8 594.7h0.8v0.8h-0.8zM116.7 592.6h0.8v0.8h-0.8zM120.9 586.7h0.8v0.8h-0.8zM115.7 582.7h0.8v0.8h-0.8zM117.3 600.5h0.8v0.8h-0.8zM119.8 602.1h0.8v0.8h-0.8zM119.5 576.7h0.8v0.8h-0.8zM120.0 595.4h0.8v0.8h-0.8zM117.1 590.0h0.8v0.8h-0.8zM116.6 571.4h0.8v0.8h-0.8zM117.2 593.2h0.8v0.8h-0.8zM116.5 560.8h0.8v0.8h-0.8zM115.3 596.7h0.8v0.8h-0.8zM118.1 597.1h0.8v0.8h-0.8zM115.4 580.5h0.8v0.8h-0.8zM114.7 576.6h0.8v0.8h-0.8zM118.9 586.5h0.8v0.8h-0.8zM116.1 588.2h0.8v0.8h-0.8zM113.9 580.8h0.8v0.8h-0.8zM113.4 568.8h0.8v0.8h-0.8zM113.8 573.1h0.8v0.8h-0.8zM121.8 599.8h0.8v0.8h-0.8zM120.9 578.7h0.8v0.8h-0.8zM119.2 572.7h0.8v0.8h-0.8zM116.0 587.6h0.8v0.8h-0.8zM113.1 587.1h0.8v0.8h-0.8zM119.1 562.6h0.8v0.8h-0.8zM110.8 582.0h0.8v0.8h-0.8zM117.1 586.5h0.8v0.8h-0.8zM114.4 591.1h0.8v0.8h-0.8zM117.8 577.1h0.8v0.8h-0.8zM121.9 587.8h0.8v0.8h-0.8zM119.5 605.0h0.8v0.8h-0.8zM116.1 582.6h0.8v0.8h-0.8zM112.7 582.5h0.8v0.8h-0.8zM118.6 612.1h0.8v0.8h-0.8zM119.0 587.2h0.8v0.8h-0.8zM114.0 575.8h0.8v0.8h-0.8zM112.4 570.1h0.8v0.8h-0.8zM117.8 588.2h0.8v0.8h-0.8zM115.0 582.6h0.8v0.8h-0.8zM115.3 591.7h0.8v0.8h-0.8zM119.2 578.9h0.8v0.8h-0.8zM116.2 571.7h0.8v0.8h-0.8zM116.2 608.7h0.8v0.8h-0.8zM117.4 594.3h0.8v0.8h-0.8zM119.0 601.0h0.8v0.8h-0.8zM116.6 575.2h0.8v0.8h-0.8zM120.3 595.0h0.8v0.8h-0.8zM115.7 596.9h0.8v0.8h-0.8zM117.4 584.5h0.8v0.8h-0.8zM122.5 590.8h0.8v0.8h-0.8zM118.3 581.5h0.8v0.8h-0.8zM118.0 596.4h0.8v0.8h-0.8zM118.7 576.8h0.8v0.8h-0.8zM118.7 583.7h0.8v0.8h-0.8zM118.3 582.9h0.8v0.8h-0.8zM111.5 567.5h0.8v0.8h-0.8zM116.4 561.0h0.8v0.8h-0.8zM113.3 607.0h0.8v0.8h-0.8zM119.3 580.0h0.8v0.8h-0.8zM118.3 560.6h0.8v0.8h-0.8zM118.1 595.7h0.8v0.8h-0.8zM118.0 570.8h0.8v0.8h-0.8zM120.1 579.2h0.8v0.8h-0.8zM115.9 587.1h0.8v0.8h-0.8zM116.6 607.2h0.8v0.8h-0.8zM117.1 608.4h0.8v0.8h-0.8zM118.7 571.5h0.8v0.8h-0.8zM117.5 585.6h0.8v0.8h-0.8zM121.4 598.9h0.8v0.8h-0.8zM124.4 577.8h0.8v0.8h-0.8zM116.3 610.4h0.8v0.8h-0.8zM115.0 588.9h0.8v0.8h-0.8zM121.9 574.0h0.8v0.8h-0.8zM116.5 576.9h0.8v0.8h-0.8zM118.9 589.4h0.8v0.8h-0.8zM117.3 592.2h0.8v0.8h-0.8zM115.3 580.9h0.8v0.8h-0.8zM118.7 607.0h0.8v0.8h-0.8zM117.3 585.6h0.8v0.8h-0.8zM121.0 585.8h0.8v0.8h-0.8zM121.0 587.6h0.8v0.8h-0.8zM120.6 587.0h0.8v0.8h-0.8zM114.9 575.7h0.8v0.8h-0.8zM118.6 605.5h0.8v0.8h-0.8zM122.6 581.5h0.8v0.8h-0.8zM124.3 572.8h0.8v0.8h-0.8zM115.1 595.2h0.8v0.8h-0.8zM113.3 595.0h0.8v0.8h-0.8zM118.5 591.9h0.8v0.8h-0.8zM114.2 589.2h0.8v0.8h-0.8zM120.0 584.4h0.8v0.8h-0.8zM120.3 585.3h0.8v0.8h-0.8zM118.4 581.5h0.8v0.8h-0.8zM113.7 583.3h0.8v0.8h-0.8zM118.8 576.7h0.8v0.8h-0.8zM112.1 568.0h0.8v0.8h-0.8zM121.1 582.5h0.8v0.8h-0.8zM115.4 598.5h0.8v0.8h-0.8zM117.0 568.5h0.8v0.8h-0.8zM116.2 575.3h0.8v0.8h-0.8zM116.9 575.0h0.8v0.8h-0.8zM117.6 590.0h0.8v0.8h-0.8zM115.9 582.8h0.8v0.8h-0.8zM117.0 594.1h0.8v0.8h-0.8zM115.5 593.2h0.8v0.8h-0.8zM120.9 582.9h0.8v0.8h-0.8zM114.8 581.6h0.8v0.8h-0.8z" fill="#3040b0" fill-opacity="0.5"/>
<path d="M79.0 570.1h0.8v0.8h-0.8zM83.5 573.5h0.8v0.8h-0.8zM90.0 579.6h0.8v0.8h-0.8zM93.8 578.8h0.8v0.8h-0.8zM92.5 577.5h0.8v0.8h-0.8zM84.0 580.9h0.8v0.8h-0.8zM103.1 585.0h0.8v0.8h-0.8zM82.3 578.8h0.8v0.8h-0.8zM80.1 581.8h0.8v0.8h-0.8zM91.3 570.9h0.8v0.8h-0.8zM87.0 572.9h0.8v0.8h-0.8zM92.8 566.3h0.8v0.8h-0.8zM93.3 577.3h0.8v0.8h-0.8zM97.0 574.6h0.8v0.8h-0.8zM92.8 595.8h0.8v0.8h-0.8zM100.8 577.9h0.8v0.8h-0.8zM82.0 580.6h0.8v0.8h-0.8zM97.4 551.1h0.8v0.8h-0.8zM91.6 578.4h0.8v0.8h-0.8zM93.2 575.9h0.8v0.8h-0.8zM91.7 587.4h0.8v0.8h-0.8zM95.9 572.5h0.8v0.8h-0.8zM91.1 593.8h0.8v0.8h-0.8zM86.1 570.3h0.8v0.8h-0.8zM95.4 576.3h0.8v0.8h-0.8zM95.3 587.2h0.8v0.8h-0.8zM101.8 578.8h0.8v0.8h-0.8zM93.2 574.4h0.8v0.8h-0.8zM91.1 584.0h0.8v0.8h-0.8zM82.9 565.7h0.8v0.8h-0.8zM89.3 566.3h0.8v0.8h-0.8zM87.1 585.7h0.8v0.8h-0.8zM75.2 580.2h0.8v0.8h-0.8zM82.6 572.8h0.8v0.8h-0.8zM88.4 566.1h0.8v0.8h-0.8zM81.2 575.6h0.8v0.8h-0.8zM69.6 555.9h0.8v0.8h-0.8zM89.8 584.9h0.8v0.8h-0.8zM107.5 572.4h0.8v0.8h-0.8zM86.6 572.4h0.8v0.8h-0.8zM96.6 583.4h0.8v0.8h-0.8zM85.4 579.3h0.8v0.8h-0.8zM92.7 585.3h0.8v0.8h-0.8zM89.7 573.1h0.8v0.8h-0.8zM86.2 563.1h0.8v0.8h-0.8zM95.0 581.4h0.8v0.8h-0.8zM101.8 577.4h0.8v0.8h-0.8zM89.3 566.7h0.8v0.8h-0.8zM83.8 568.5h0.8v0.8h-0.8zM95.6 575.8h0.8v0.8h-0.8zM74.8 574.1h0.8v0.8h-0.8zM90.6 565.6h0.8v0.8h-0.8zM92.7 579.8h0.8v0.8h-0.8zM84.7 562.8h0.8v0.8h-0.8zM90.4 577.4h0.8v0.8h-0.8zM90.9 588.9h0.8v0.8h-0.8zM94.1 566.0h0.8v0.8h-0.8zM99.0 569.2h0.8v0.8h-0.8zM98.4 575.9h0.8v0.8h-0.8zM102.6 566.0h0.8v0.8h-0.8zM98.6 578.8h0.8v0.8h-0.8zM85.8 581.3h0.8v0.8h-0.8zM110.8 578.2h0.8v0.8h-0.8zM86.9 573.6h0.8v0.8h-0.8zM103.2 577.3h0.8v0.8h-0.8zM104.6 569.1h0.8v0.8h-0.8zM103.3 560.8h0.8v0.8h-0.8zM91.6 572.3h0.8v0.8h-0.8zM89.0 586.0h0.8v0.8h-0.8zM88.2 578.2h0.8v0.8h-0.8zM107.6 582.4h0.8v0.8h-0.8zM89.6 568.4h0.8v0.8h-0.8zM77.1 578.4h0.8v0.8h-0.8zM100.0 585.0h0.8v0.8h-0.8zM94.8 594.4h0.8v0.8h-0.8zM99.1 554.2h0.8v0.8h-0.8zM85.9 582.2h0.8v0.8h-0.8zM89.8 582.5h0.8v0.8h-0.8zM113.3 568.1h0.8v0.8h-0.8zM110.5 574.3h0.8v0.8h-0.8zM81.3 575.9h0.8v0.8h-0.8zM100.1 569.8h0.8v0.8h-0.8zM105.5 567.1h0.8v0.8h-0.8zM91.4 583.3h0.8v0.8h-0.8zM91.3 570.0h0.8v0.8h-0.8zM92.8 580.9h0.8v0.8h-0.8zM106.7 587.2h0.8v0.8h-0.8zM107.8 574.7h0.8v0.8h-0.8zM79.8 574.6h0.8v0.8h-0.8zM89.7 566.0h0.8v0.8h-0.8zM88.9 574.4h0.8v0.8h-0.8zM93.4 583.3h0.8v0.8h-0.8zM85.7 585.3h0.8v0.8h-0.8zM93.3 581.6h0.8v0.8h-0.8zM102.8 563.9h0.8v0.8h-0.8zM105.7 568.5h0.8v0.8h-0.8zM96.1 584.8h0.8v0.8h-0.8zM100.3 560.9h0.8v0.8h-0.8zM94.3 585.2h0.8v0.8h-0.8zM92.0 574.3h0.8v0.8h-0.8zM93.5 589.8h0.8v0.8h-0.8zM88.6 566.5h0.8v0.8h-0.8zM84.2 570.2h0.8v0.8h-0.8zM91.1 578.1h0.8v0.8h-0.8zM92.3 559.5h0.8v0.8h-0.8zM80.4 581.1h0.8v0.8h-0.8zM98.7 562.8h0.8v0.8h-0.8zM100.4 553.1h0.8v0.8h-0.8zM111.5 580.3h0.8v0.8h-0.8zM79.7 579.6h0.8v0.8h-0.8zM92.7 570.9h0.8v0.8h-0.8zM90.0 573.0h0.8v0.8h-0.8zM92.2 566.9h0.8v0.8h-0.8zM88.4 580.0h0.8v0.8h-0.8zM97.2 563.0h0.8v0.8h-0.8zM89.1 589.1h0.8v0.8h-0.8zM98.7 589.9h0.8v0.8h-0.8zM82.2 565.6h0.8v0.8h-0.8zM75.6 557.5h0.8v0.8h-0.8zM90.0 565.5h0.8v0.8h-0.8zM84.3 568.7h0.8v0.8h-0.8zM91.5 582.5h0.8v0.8h-0.8zM97.5 559.2h0.8v0.8h-0.8zM104.9 572.0h0.8v0.8h-0.8zM85.0 574.7h0.8v0.8h-0.8zM89.8 562.5h0.8v0.8h-0.8zM105.4 569.8h0.8v0.8h-0.8zM88.2 579.9h0.8v0.8h-0.8zM106.4 579.4h0.8v0.8h-0.8zM85.8 579.0h0.8v0.8h-0.8zM101.8 578.4h0.8v0.8h-0.8zM98.2 570.7h0.8v0.8h-0.8zM92.4 559.8h0.8v0.8h-0.8zM87.2 564.8h0.8v0.8h-0.8zM93.0 588.5h0.8v0.8h-0.8zM75.0 563.1h0.8v0.8h-0.8zM85.5 574.2h0.8v0.8h-0.8zM102.3 568.0h0.8v0.8h-0.8zM86.7 585.9h0.8v0.8h-0.8zM96.0 579.8h0.8v0.8h-0.8zM99.7 568.3h0.8v0.8h-0.8zM94.8 569.1h0.8v0.8h-0.8zM87.2 576.2h0.8v0.8h-0.8zM96.5 563.5h0.8v0.8h-0.8zM86.8 580.5h0.8v0.8h-0.8zM94.3 581.0h0.8v0.8h-0.8zM90.5 567.8h0.8v0.8h-0.8zM99.3 580.4h0.8v0.8h-0.8zM70.2 582.8h0.8v0.8h-0.8zM86.9 581.0h0.8v0.8h-0.8zM105.6 572.5h0.8v0.8h-0.8zM85.2 577.3h0.8v0.8h-0.8zM93.7 580.1h0.8v0.8h-0.8zM81.7 577.2h0.8v0.8h-0.8zM100.2 581.3h0.8v0.8h-0.8zM98.0 585.8h0.8v0.8h-0.8zM86.4 586.0h0.8v0.8h-0.8zM94.7 566.0h0.8v0.8h-0.8zM90.6 577.5h0.8v0.8h-0.8zM95.7 587.2h0.8v0.8h-0.8zM94.5 570.4h0.8v0.8h-0.8zM110.5 572.0h0.8v0.8h-0.8zM86.4 583.4h0.8v0.8h-0.8zM89.7 567.9h0.8v0.8h-0.8zM84.5 585.7h0.8v0.8h-0.8zM84.5 575.9h0.8v0.8h-0.8zM89.3 573.3h0.8v0.8h-0.8zM86.4 576.4h0.8v0.8h-0.8zM97.8 584.5h0.8v0.8h-0.8zM90.1 564.5h0.8v0.8h-0.8zM81.1 575.1h0.8v0.8h-0.8zM73.1 587.0h0.8v0.8h-0.8zM93.2 576.1h0.8v0.8h-0.8zM81.8 569.2h0.8v0.8h-0.8zM87.0 581.1h0.8v0.8h-0.8zM89.7 580.6h0.8v0.8h-0.8zM97.1 557.7h0.8v0.8h-0.8zM91.1 586.4h0.8v0.8h-0.8zM88.9 576.2h0.8v0.8h-0.8zM92.0 564.0h0.8v0.8h-0.8zM110.5 573.8h0.8v0.8h-0.8zM98.1 571.0h0.8v0.8h-0.8zM104.3 585.4h0.8v0.8h-0.8zM102.5 583.6h0.8v0.8h-0.8zM98.6 587.6h0.8v0.8h-0.8zM96.2 576.3h0.8v0.8h-0.8zM99.5 567.0h0.8v0.8h-0.8zM72.6 582.4h0.8v0.8h-0.8zM94.2 568.7h0.8v0.8h-0.8zM90.8 566.5h0.8v0.8h-0.8zM86.2 576.8h0.8v0.8h-0.8zM94.0 582.6h0.8v0.8h-0.8zM92.3 580.8h0.8v0.8h-0.8zM98.5 568.7h0.8v0.8h-0.8zM79.4 568.9h0.8v0.8h-0.8zM91.0 570.3h0.8v0.8h-0.8zM110.7 568.9h0.8v0.8h-0.8zM96.8 568.2h0.8v0.8h-0.8zM98.5 563.7h0.8v0.8h-0.8zM100.6 576.7h0.8v0.8h-0.8zM89.8 564.3h0.8v0.8h-0.8zM106.4 569.9h0.8v0.8h-0.8zM104.6 553.4h0.8v0.8h-0.8zM83.4 591.4h0.8v0.8h-0.8zM107.3 575.2h0.8v0.8h-0.8zM101.0 580.6h0.8v0.8h-0.8zM90.1 576.3h0.8v0.8h-0.8zM83.8 563.0h0.8v0.8h-0.8zM94.0 581.7h0.8v0.8h-0.8zM94.3 564.1h0.8v0.8h-0.8zM99.8 575.9h0.8v0.8h-0.8zM99.0 572.5h0.8v0.8h-0.8zM90.9 584.6h0.8v0.8h-0.8zM104.0 564.3h0.8v0.8h-0.8zM84.1 583.8h0.8v0.8h-0.8zM95.9 575.6h0.8v0.8h-0.8zM85.1 584.2h0.8v0.8h-0.8zM94.5 577.1h0.8v0.8h-0.8zM96.1 570.4h0.8v0.8h-0.8zM96.2 576.3h0.8v0.8h-0.8zM98.8 578.5h0.8v0.8h-0.8zM82.7 568.7h0.8v0.8h-0.8zM90.8 585.6h0.8v0.8h-0.8zM87.8 585.3h0.8v0.8h-0.8zM101.7 583.0h0.8v0.8h-0.8zM111.1 575.0h0.8v0.8h-0.8zM95.6 586.1h0.8v0.8h-0.8zM96.3 584.0h0.8v0.8h-0.8zM92.0 587.8h0.8v0.8h-0.8zM95.8 557.9h0.8v0.8h-0.8zM101.7 573.4h0.8v0.8h-0.8zM85.9 572.4h0.8v0.8h-0.8zM90.7 585.4h0.8v0.8h-0.8zM95.7 574.5h0.8v0.8h-0.8zM92.9 567.1h0.8v0.8h-0.8zM87.9 570.9h0.8v0.8h-0.8zM91.2 564.7h0.8v0.8h-0.8zM89.8 584.1h0.8v0.8h-0.8zM96.6 575.1h0.8v0.8h-0.8zM95.8 573.0h0.8v0.8h-0.8zM83.5 583.0h0.8v0.8h-0.8zM111.0 579.7h0.8v0.8h-0.8zM98.5 597.2h0.8v0.8h-0.8zM83.3 579.8h0.8v0.8h-0.8zM90.3 572.6h0.8v0.8h-0.8zM79.7 574.4h0.8v0.8h-0.8zM96.2 560.8h0.8v0.8h-0.8zM91.2 570.7h0.8v0.8h-0.8zM85.0 580.8h0.8v0.8h-0.8zM106.2 578.9h0.8v0.8h-0.8zM101.3 581.9h0.8v0.8h-0.8zM92.5 580.3h0.8v0.8h-0.8zM103.6 571.3h0.8v0.8h-0.8zM91.8 562.8h0.8v0.8h-0.8zM78.1 567.8h0.8v0.8h-0.8zM100.2 578.4h0.8v0.8h-0.8zM95.1 586.9h0.8v0.8h-0.8zM78.8 587.5h0.8v0.8h-0.8zM93.7 582.1h0.8v0.8h-0.8zM104.1 567.9h0.8v0.8h-0.8zM86.0 578.7h0.8v0.8h-0.8zM92.5 569.9h0.8v0.8h-0.8zM92.0 568.6h0.8v0.8h-0.8zM94.1 571.7h0.8v0.8h-0.8zM106.7 565.8h0.8v0.8h-0.8zM97.7 575.8h0.8v0.8h-0.8zM105.7 566.5h0.8v0.8h-0.8zM89.3 590.6h0.8v0.8h-0.8zM87.7 571.7h0.8v0.8h-0.8zM89.8 566.4h0.8v0.8h-0.8zM102.8 588.7h0.8v0.8h-0.8zM91.8 568.4h0.8v0.8h-0.8zM82.1 581.0h0.8v0.8h-0.8zM88.7 580.0h0.8v0.8h-0.8zM73.7 571.4h0.8v0.8h-0.8zM98.0 578.9h0.8v0.8h-0.8zM70.0 577.8h0.8v0.8h-0.8zM94.0 574.9h0.8v0.8h-0.8zM90.3 571.2h0.8v0.8h-0.8zM94.2 579.7h0.8v0.8h-0.8zM67.6 575.0h0.8v0.8h-0.8zM100.5 573.2h0.8v0.8h-0.8zM102.8 566.8h0.8v0.8h-0.8zM108.4 583.7h0.8v0.8h-0.8zM89.7 599.7h0.8v0.8h-0.8zM104.6 589.3h0.8v0.8h-0.8zM83.4 574.1h0.8v0.8h-0.8zM96.8 584.5h0.8v0.8h-0.8zM93.6 563.5h0.8v0.8h-0.8zM102.8 573.6h0.8v0.8h-0.8zM96.5 572.3h0.8v0.8h-0.8zM92.1 562.9h0.8v0.8h-0.8zM98.4 569.5h0.8v0.8h-0.8zM78.7 578.8h0.8v0.8h-0.8zM92.7 583.7h0.8v0.8h-0.8zM99.6 564.3h0.8v0.8h-0.8zM91.6 575.1h0.8v0.8h-0.8zM93.7 565.7h0.8v0.8h-0.8zM93.6 583.9h0.8v0.8h-0.8zM103.0 588.1h0.8v0.8h-0.8zM99.1 552.6h0.8v0.8h-0.8zM90.8 570.3h0.8v0.8h-0.8zM69.7 588.8h0.8v0.8h-0.8zM100.3 575.1h0.8v0.8h-0.8zM95.9 579.4h0.8v0.8h-0.8zM91.3 587.3h0.8v0.8h-0.8zM107.7 582.4h0.8v0.8h-0.8zM88.5 577.4h0.8v0.8h-0.8zM100.9 581.5h0.8v0.8h-0.8zM87.5 583.6h0.8v0.8h-0.8zM98.8 580.3h0.8v0.8h-0.8zM89.6 574.9h0.8v0.8h-0.8zM77.7 574.8h0.8v0.8h-0.8zM89.4 572.5h0.8v0.8h-0.8zM90.7 572.3h0.8v0.8h-0.8zM93.7 576.0h0.8v0.8h-0.8zM88.1 573.9h0.8v0.8h-0.8zM92.3 579.5h0.8v0.8h-0.8zM96.5 571.9h0.8v0.8h-0.8zM86.4 560.5h0.8v0.8h-0.8zM83.0 578.7h0.8v0.8h-0.8zM85.6 589.4h0.8v0.8h-0.8zM91.7 571.7h0.8v0.8h-0.8zM91.7 570.3h0.8v0.8h-0.8zM87.9 575.7h0.8v0.8h-0.8zM81.4 576.3h0.8v0.8h-0.8zM92.3 567.1h0.8v0.8h-0.8zM101.2 578.3h0.8v0.8h-0.8zM101.7 569.2h0.8v0.8h-0.8zM83.0 564.5h0.8v0.8h-0.8zM80.4 558.3h0.8v0.8h-0.8zM105.6 570.9h0.8v0.8h-0.8zM94.6 570.3h0.8v0.8h-0.8zM91.8 589.1h0.8v0.8h-0.8zM79.1 566.3h0.8v0.8h-0.8zM94.1 567.0h0.8v0.8h-0.8zM98.6 586.6h0.8v0.8h-0.8zM100.2 581.8h0.8v0.8h-0.8zM91.7 584.0h0.8v0.8h-0.8zM86.6 564.5h0.8v0.8h-0.8zM90.9 572.9h0.8v0.8h-0.8zM102.8 566.3h0.8v0.8h-0.8zM102.2 568.2h0.8v0.8h-0.8zM82.9 560.0h0.8v0.8h-0.8zM92.7 562.2h0.8v0.8h-0.8zM94.7 575.5h0.8v0.8h-0.8zM89.8 557.9h0.8v0.8h-0.8zM88.8 579.0h0.8v0.8h-0.8zM78.7 581.2h0.8v0.8h-0.8zM93.1 570.2h0.8v0.8h-0.8zM94.6 580.9h0.8v0.8h-0.8zM92.8 568.2h0.8v0.8h-0.8zM99.3 569.0h0.8v0.8h-0.8zM95.9 583.7h0.8v0.8h-0.8zM103.5 589.2h0.8v0.8h-0.8zM101.2 576.4h0.8v0.8h-0.8zM91.4 576.7h0.8v0.8h-0.8zM97.2 601.6h0.8v0.8h-0.8zM98.3 567.7h0.8v0.8h-0.8zM105.2 560.9h0.8v0.8h-0.8zM101.1 563.7h0.8v0.8h-0.8zM84.3 570.6h0.8v0.8h-0.8zM90.7 563.1h0.8v0.8h-0.8zM98.0 574.0h0.8v0.8h-0.8zM103.8 566.0h0.8v0.8h-0.8zM78.5 581.2h0.8v0.8h-0.8zM91.2 583.7h0.8v0.8h-0.8zM74.2 563.9h0.8v0.8h-0.8zM93.7 592.4h0.8v0.8h-0.8zM83.1 558.1h0.8v0.8h-0.8zM89.4 587.6h0.8v0.8h-0.8zM105.7 563.0h0.8v0.8h-0.8zM88.1 558.7h0.8v0.8h-0.8zM86.2 566.5h0.8v0.8h-0.8zM96.4 585.2h0.8v0.8h-0.8zM112.1 571.9h0.8v0.8h-0.8zM99.6 577.0h0.8v0.8h-0.8zM94.0 592.3h0.8v0.8h-0.8zM98.6 589.0h0.8v0.8h-0.8zM95.4 582.7h0.8v0.8h-0.8zM97.1 574.2h0.8v0.8h-0.8zM87.4 571.5h0.8v0.8h-0.8zM93.1 571.6h0.8v0.8h-0.8zM90.3 568.8h0.8v0.8h-0.8zM99.9 572.9h0.8v0.8h-0.8zM92.1 573.1h0.8v0.8h-0.8zM103.5 570.3h0.8v0.8h-0.8zM104.3 567.4h0.8v0.8h-0.8zM105.3 580.5h0.8v0.8h-0.8zM89.1 579.1h0.8v0.8h-0.8zM102.1 566.6h0.8v0.8h-0.8zM91.2 577.8h0.8v0.8h-0.8zM91.3 572.5h0.8v0.8h-0.8zM93.2 577.8h0.8v0.8h-0.8zM99.2 588.2h0.8v0.8h-0.8zM90.4 601.2h0.8v0.8h-0.8zM90.4 590.9h0.8v0.8h-0.8zM92.0 562.1h0.8v0.8h-0.8zM89.5 572.0h0.8v0.8h-0.8zM101.6 557.1h0.8v0.8h-0.8zM87.9 573.9h0.8v0.8h-0.8zM98.3 578.6h0.8v0.8h-0.8zM99.9 573.6h0.8v0.8h-0.8zM91.1 585.8h0.8v0.8h-0.8zM106.8 578.4h0.8v0.8h-0.8zM94.3 567.4h0.8v0.8h-0.8zM109.9 578.6h0.8v0.8h-0.8zM98.0 560.8h0.8v0.8h-0.8zM97.9 596.7h0.8v0.8h-0.8zM91.7 573.2h0.8v0.8h-0.8zM105.3 573.4h0.8v0.8h-0.8zM99.8 592.3h0.8v0.8h-0.8zM83.7 567.7h0.8v0.8h-0.8zM98.5 576.1h0.8v0.8h-0.8zM93.3 573.6h0.8v0.8h-0.8zM94.1 578.2h0.8v0.8h-0.8zM89.2 572.6h0.8v0.8h-0.8zM94.9 565.4h0.8v0.8h-0.8zM96.6 555.5h0.8v0.8h-0.8zM98.1 574.0h0.8v0.8h-0.8zM83.6 587.0h0.8v0.8h-0.8zM83.7 593.4h0.8v0.8h-0.8zM87.2 585.8h0.8v0.8h-0.8zM92.5 589.4h0.8v0.8h-0.8zM91.3 584.2h0.8v0.8h-0.8zM90.5 558.3h0.8v0.8h-0.8zM96.1 579.3h0.8v0.8h-0.8zM96.2 589.9h0.8v0.8h-0.8zM87.2 562.3h0.8v0.8h-0.8zM95.1 568.9h0.8v0.8h-0.8zM92.2 575.0h0.8v0.8h-0.8zM86.5 584.8h0.8v0.8h-0.8zM92.1 591.0h0.8v0.8h-0.8zM95.0 584.5h0.8v0.8h-0.8zM90.7 569.2h0.8v0.8h-0.8zM88.8 567.2h0.8v0.8h-0.8zM96.6 576.3h0.8v0.8h-0.8zM84.4 561.3h0.8v0.8h-0.8zM86.2 558.8h0.8v0.8h-0.8zM86.0 561.5h0.8v0.8h-0.8zM98.7 564.7h0.8v0.8h-0.8zM88.3 574.0h0.8v0.8h-0.8zM93.3 578.8h0.8v0.8h-0.8zM99.1 580.8h0.8v0.8h-0.8zM90.3 586.2h0.8v0.8h-0.8zM96.0 568.7h0.8v0.8h-0.8zM104.9 564.5h0.8v0.8h-0.8zM96.8 586.2h0.8v0.8h-0.8zM93.9 578.1h0.8v0.8h-0.8zM94.0 581.0h0.8v0.8h-0.8z" fill="#3848b0" fill-opacity="0.45"/>
<g filter="url(#bl1)">
<polygon points="44,609 47,595 52,580 57,565 62,552 70,545 80,544 80,560 78,572 75,588 72,600 68,610" fill="#a8b0e4" fill-opacity="0.4"/>
<polygon points="48,607 51,595 55,580 60,566 66,553 75,547 79,551 76,563 72,578 69,594 65,607" fill="#6878cc" fill-opacity="0.42"/>
<polygon points="53,604 57,592 61,578 66,565 72,553 78,549 76,557 71,568 67,582 63,596 59,605" fill="#3444aa" fill-opacity="0.35"/>
</g>
<path d="M70.7 603.2h0.8v0.8h-0.8zM72.8 557.4h0.8v0.8h-0.8zM62.6 600.2h0.8v0.8h-0.8zM60.6 582.6h0.8v0.8h-0.8zM65.0 586.7h0.8v0.8h-0.8zM70.3 565.6h0.8v0.8h-0.8zM55.9 591.1h0.8v0.8h-0.8zM59.9 577.5h0.8v0.8h-0.8zM48.6 598.8h0.8v0.8h-0.8zM47.7 594.9h0.8v0.8h-0.8zM57.4 577.3h0.8v0.8h-0.8zM75.6 562.3h0.8v0.8h-0.8zM52.5 579.1h0.8v0.8h-0.8zM59.3 570.0h0.8v0.8h-0.8zM69.1 557.6h0.8v0.8h-0.8zM60.8 594.8h0.8v0.8h-0.8zM60.9 550.9h0.8v0.8h-0.8zM59.9 579.2h0.8v0.8h-0.8zM65.1 557.7h0.8v0.8h-0.8zM85.6 559.1h0.8v0.8h-0.8zM53.6 579.8h0.8v0.8h-0.8zM66.7 583.2h0.8v0.8h-0.8zM62.0 590.7h0.8v0.8h-0.8zM59.0 583.6h0.8v0.8h-0.8zM62.1 593.5h0.8v0.8h-0.8zM65.2 565.5h0.8v0.8h-0.8zM71.6 573.7h0.8v0.8h-0.8zM64.0 571.3h0.8v0.8h-0.8zM59.6 599.8h0.8v0.8h-0.8zM53.0 591.7h0.8v0.8h-0.8zM79.3 563.2h0.8v0.8h-0.8zM62.1 590.0h0.8v0.8h-0.8zM77.2 589.1h0.8v0.8h-0.8zM64.2 573.1h0.8v0.8h-0.8zM72.1 559.2h0.8v0.8h-0.8zM60.6 593.5h0.8v0.8h-0.8zM64.1 577.9h0.8v0.8h-0.8zM69.3 566.9h0.8v0.8h-0.8zM59.6 577.5h0.8v0.8h-0.8zM65.4 584.8h0.8v0.8h-0.8zM61.8 562.8h0.8v0.8h-0.8zM63.0 569.7h0.8v0.8h-0.8zM64.1 555.0h0.8v0.8h-0.8zM47.8 593.5h0.8v0.8h-0.8zM65.3 580.9h0.8v0.8h-0.8zM66.3 573.4h0.8v0.8h-0.8zM54.6 589.0h0.8v0.8h-0.8zM66.7 580.9h0.8v0.8h-0.8zM59.4 560.0h0.8v0.8h-0.8zM63.2 586.9h0.8v0.8h-0.8zM66.1 567.4h0.8v0.8h-0.8zM79.7 565.1h0.8v0.8h-0.8zM69.1 554.0h0.8v0.8h-0.8zM78.6 553.3h0.8v0.8h-0.8zM50.0 583.0h0.8v0.8h-0.8zM63.2 593.6h0.8v0.8h-0.8zM56.6 588.3h0.8v0.8h-0.8zM71.2 579.5h0.8v0.8h-0.8zM73.2 577.4h0.8v0.8h-0.8zM61.9 551.8h0.8v0.8h-0.8zM69.5 558.3h0.8v0.8h-0.8zM46.9 598.0h0.8v0.8h-0.8zM71.0 588.4h0.8v0.8h-0.8zM62.5 575.2h0.8v0.8h-0.8zM56.4 572.7h0.8v0.8h-0.8zM83.3 557.9h0.8v0.8h-0.8zM57.3 587.3h0.8v0.8h-0.8zM67.6 561.3h0.8v0.8h-0.8zM65.9 578.6h0.8v0.8h-0.8zM53.2 601.9h0.8v0.8h-0.8zM67.9 606.4h0.8v0.8h-0.8zM74.8 574.4h0.8v0.8h-0.8zM69.8 551.4h0.8v0.8h-0.8zM66.2 603.4h0.8v0.8h-0.8zM66.7 569.8h0.8v0.8h-0.8zM72.4 569.0h0.8v0.8h-0.8zM68.3 550.9h0.8v0.8h-0.8zM56.9 588.8h0.8v0.8h-0.8zM61.3 593.6h0.8v0.8h-0.8zM62.2 594.3h0.8v0.8h-0.8zM58.9 589.3h0.8v0.8h-0.8zM58.3 589.8h0.8v0.8h-0.8zM59.3 600.5h0.8v0.8h-0.8zM75.7 568.7h0.8v0.8h-0.8zM66.8 555.6h0.8v0.8h-0.8zM58.5 582.9h0.8v0.8h-0.8zM61.0 601.2h0.8v0.8h-0.8zM59.5 593.0h0.8v0.8h-0.8zM69.8 573.4h0.8v0.8h-0.8zM56.9 567.0h0.8v0.8h-0.8zM65.1 562.9h0.8v0.8h-0.8zM56.3 598.9h0.8v0.8h-0.8zM66.2 588.5h0.8v0.8h-0.8zM58.0 557.3h0.8v0.8h-0.8zM70.7 560.6h0.8v0.8h-0.8zM72.1 559.7h0.8v0.8h-0.8zM64.9 554.8h0.8v0.8h-0.8zM82.8 549.6h0.8v0.8h-0.8zM69.0 566.9h0.8v0.8h-0.8zM66.1 600.7h0.8v0.8h-0.8zM76.2 556.7h0.8v0.8h-0.8zM71.9 553.9h0.8v0.8h-0.8zM78.7 588.7h0.8v0.8h-0.8zM50.3 585.1h0.8v0.8h-0.8zM75.4 560.0h0.8v0.8h-0.8zM45.2 590.5h0.8v0.8h-0.8zM70.4 570.1h0.8v0.8h-0.8zM73.5 575.3h0.8v0.8h-0.8zM72.6 559.6h0.8v0.8h-0.8zM65.6 565.0h0.8v0.8h-0.8zM71.1 571.9h0.8v0.8h-0.8zM65.7 554.0h0.8v0.8h-0.8zM69.4 573.1h0.8v0.8h-0.8zM64.5 582.5h0.8v0.8h-0.8zM72.0 566.1h0.8v0.8h-0.8zM50.0 593.7h0.8v0.8h-0.8zM71.3 586.4h0.8v0.8h-0.8zM62.2 571.8h0.8v0.8h-0.8zM64.6 588.8h0.8v0.8h-0.8zM61.7 580.6h0.8v0.8h-0.8zM59.5 594.2h0.8v0.8h-0.8zM74.5 557.5h0.8v0.8h-0.8zM65.6 590.3h0.8v0.8h-0.8zM60.7 578.3h0.8v0.8h-0.8zM71.0 573.9h0.8v0.8h-0.8zM58.5 598.2h0.8v0.8h-0.8zM68.2 578.4h0.8v0.8h-0.8zM65.0 554.3h0.8v0.8h-0.8zM59.2 589.6h0.8v0.8h-0.8zM48.3 597.9h0.8v0.8h-0.8zM69.3 570.1h0.8v0.8h-0.8zM72.7 564.2h0.8v0.8h-0.8zM65.2 567.6h0.8v0.8h-0.8zM75.0 566.3h0.8v0.8h-0.8zM58.3 578.5h0.8v0.8h-0.8zM79.3 565.7h0.8v0.8h-0.8zM72.3 556.4h0.8v0.8h-0.8zM65.9 593.4h0.8v0.8h-0.8zM70.5 555.6h0.8v0.8h-0.8zM83.6 554.4h0.8v0.8h-0.8zM64.4 584.0h0.8v0.8h-0.8zM64.0 603.2h0.8v0.8h-0.8zM66.4 588.7h0.8v0.8h-0.8zM64.0 558.9h0.8v0.8h-0.8zM70.5 586.0h0.8v0.8h-0.8zM88.2 552.7h0.8v0.8h-0.8zM47.1 599.3h0.8v0.8h-0.8zM64.7 595.6h0.8v0.8h-0.8zM58.6 595.3h0.8v0.8h-0.8zM83.2 552.6h0.8v0.8h-0.8zM71.1 562.5h0.8v0.8h-0.8zM73.4 551.3h0.8v0.8h-0.8zM58.5 592.2h0.8v0.8h-0.8zM66.3 581.1h0.8v0.8h-0.8zM52.2 576.7h0.8v0.8h-0.8zM56.4 603.4h0.8v0.8h-0.8zM69.5 575.9h0.8v0.8h-0.8zM66.4 550.1h0.8v0.8h-0.8zM70.3 574.5h0.8v0.8h-0.8zM83.9 554.7h0.8v0.8h-0.8zM66.2 588.0h0.8v0.8h-0.8zM73.1 560.0h0.8v0.8h-0.8zM67.9 579.4h0.8v0.8h-0.8zM80.2 551.9h0.8v0.8h-0.8zM65.7 594.9h0.8v0.8h-0.8zM63.4 554.2h0.8v0.8h-0.8zM80.0 562.4h0.8v0.8h-0.8zM69.9 589.9h0.8v0.8h-0.8zM70.0 570.7h0.8v0.8h-0.8zM72.6 562.7h0.8v0.8h-0.8zM55.1 598.4h0.8v0.8h-0.8zM74.7 568.0h0.8v0.8h-0.8zM60.9 574.0h0.8v0.8h-0.8zM67.4 589.3h0.8v0.8h-0.8zM72.1 562.4h0.8v0.8h-0.8zM60.8 580.8h0.8v0.8h-0.8zM71.0 590.3h0.8v0.8h-0.8zM56.1 581.5h0.8v0.8h-0.8zM56.0 588.8h0.8v0.8h-0.8zM75.9 555.2h0.8v0.8h-0.8zM67.9 584.4h0.8v0.8h-0.8zM59.0 596.0h0.8v0.8h-0.8zM63.8 579.1h0.8v0.8h-0.8zM52.3 595.1h0.8v0.8h-0.8zM68.4 587.8h0.8v0.8h-0.8zM70.7 586.6h0.8v0.8h-0.8zM50.5 590.9h0.8v0.8h-0.8zM48.2 602.3h0.8v0.8h-0.8zM66.5 552.8h0.8v0.8h-0.8zM70.0 572.3h0.8v0.8h-0.8zM53.4 564.1h0.8v0.8h-0.8zM64.2 599.4h0.8v0.8h-0.8zM67.4 573.6h0.8v0.8h-0.8zM67.3 577.3h0.8v0.8h-0.8zM73.7 555.5h0.8v0.8h-0.8zM67.4 595.7h0.8v0.8h-0.8zM69.7 560.9h0.8v0.8h-0.8zM52.4 588.4h0.8v0.8h-0.8zM61.4 572.3h0.8v0.8h-0.8zM76.5 553.6h0.8v0.8h-0.8zM81.4 567.6h0.8v0.8h-0.8zM68.9 589.4h0.8v0.8h-0.8zM60.7 571.0h0.8v0.8h-0.8zM76.1 556.2h0.8v0.8h-0.8zM67.1 559.5h0.8v0.8h-0.8zM56.5 593.4h0.8v0.8h-0.8zM69.4 549.5h0.8v0.8h-0.8zM81.1 555.3h0.8v0.8h-0.8zM75.5 569.5h0.8v0.8h-0.8zM63.0 596.9h0.8v0.8h-0.8zM64.0 569.7h0.8v0.8h-0.8zM63.3 553.1h0.8v0.8h-0.8zM65.5 590.8h0.8v0.8h-0.8zM61.0 603.5h0.8v0.8h-0.8zM64.1 581.5h0.8v0.8h-0.8zM50.5 591.8h0.8v0.8h-0.8zM63.7 587.7h0.8v0.8h-0.8zM54.4 586.7h0.8v0.8h-0.8zM55.4 593.4h0.8v0.8h-0.8zM79.3 593.6h0.8v0.8h-0.8zM69.4 557.0h0.8v0.8h-0.8zM67.9 582.7h0.8v0.8h-0.8zM69.6 554.9h0.8v0.8h-0.8zM74.7 558.8h0.8v0.8h-0.8zM77.6 573.7h0.8v0.8h-0.8zM60.2 563.5h0.8v0.8h-0.8zM70.1 588.7h0.8v0.8h-0.8zM45.9 600.2h0.8v0.8h-0.8zM66.2 574.4h0.8v0.8h-0.8zM51.3 573.7h0.8v0.8h-0.8zM53.1 594.6h0.8v0.8h-0.8zM66.3 585.3h0.8v0.8h-0.8zM68.3 576.5h0.8v0.8h-0.8zM73.4 574.7h0.8v0.8h-0.8zM71.5 585.5h0.8v0.8h-0.8zM69.1 586.7h0.8v0.8h-0.8zM60.5 573.7h0.8v0.8h-0.8zM69.5 570.4h0.8v0.8h-0.8zM58.8 574.0h0.8v0.8h-0.8zM55.2 593.8h0.8v0.8h-0.8zM59.0 582.1h0.8v0.8h-0.8zM66.9 570.3h0.8v0.8h-0.8zM76.1 557.9h0.8v0.8h-0.8zM69.8 551.7h0.8v0.8h-0.8zM59.9 587.1h0.8v0.8h-0.8zM69.9 588.1h0.8v0.8h-0.8zM69.1 564.9h0.8v0.8h-0.8zM58.7 591.5h0.8v0.8h-0.8zM80.2 555.6h0.8v0.8h-0.8zM50.9 588.0h0.8v0.8h-0.8zM57.6 582.8h0.8v0.8h-0.8zM73.3 552.7h0.8v0.8h-0.8zM73.5 572.8h0.8v0.8h-0.8zM67.1 568.1h0.8v0.8h-0.8zM69.6 579.5h0.8v0.8h-0.8zM66.3 590.3h0.8v0.8h-0.8zM55.4 592.2h0.8v0.8h-0.8zM70.5 550.7h0.8v0.8h-0.8zM68.9 588.5h0.8v0.8h-0.8zM61.7 578.4h0.8v0.8h-0.8zM69.2 577.0h0.8v0.8h-0.8zM62.7 589.1h0.8v0.8h-0.8zM78.5 591.7h0.8v0.8h-0.8zM77.6 569.8h0.8v0.8h-0.8zM60.5 598.0h0.8v0.8h-0.8zM70.4 564.6h0.8v0.8h-0.8zM72.2 554.3h0.8v0.8h-0.8zM63.7 589.1h0.8v0.8h-0.8zM61.7 574.6h0.8v0.8h-0.8zM71.2 576.3h0.8v0.8h-0.8zM73.0 570.3h0.8v0.8h-0.8zM63.6 595.1h0.8v0.8h-0.8zM87.7 551.9h0.8v0.8h-0.8zM61.1 587.6h0.8v0.8h-0.8zM71.9 551.9h0.8v0.8h-0.8zM65.2 597.0h0.8v0.8h-0.8zM73.6 552.5h0.8v0.8h-0.8zM78.9 561.1h0.8v0.8h-0.8zM77.8 584.9h0.8v0.8h-0.8zM77.9 568.7h0.8v0.8h-0.8zM72.9 572.4h0.8v0.8h-0.8zM62.1 555.3h0.8v0.8h-0.8zM64.2 579.3h0.8v0.8h-0.8zM62.5 592.5h0.8v0.8h-0.8zM59.6 593.3h0.8v0.8h-0.8zM70.8 565.5h0.8v0.8h-0.8zM60.7 561.6h0.8v0.8h-0.8zM59.0 593.1h0.8v0.8h-0.8zM60.7 594.7h0.8v0.8h-0.8zM80.0 561.6h0.8v0.8h-0.8zM54.1 585.3h0.8v0.8h-0.8zM74.8 570.8h0.8v0.8h-0.8zM64.9 553.3h0.8v0.8h-0.8zM54.8 603.7h0.8v0.8h-0.8zM54.9 602.8h0.8v0.8h-0.8zM73.6 586.0h0.8v0.8h-0.8zM52.8 595.8h0.8v0.8h-0.8zM56.3 602.7h0.8v0.8h-0.8zM62.0 580.6h0.8v0.8h-0.8zM63.7 570.2h0.8v0.8h-0.8zM80.0 571.7h0.8v0.8h-0.8zM55.7 570.5h0.8v0.8h-0.8zM63.0 577.4h0.8v0.8h-0.8zM65.4 571.4h0.8v0.8h-0.8zM62.2 572.9h0.8v0.8h-0.8zM60.7 569.7h0.8v0.8h-0.8zM61.2 586.1h0.8v0.8h-0.8zM74.6 560.2h0.8v0.8h-0.8zM59.2 573.0h0.8v0.8h-0.8zM70.6 582.3h0.8v0.8h-0.8zM54.8 572.4h0.8v0.8h-0.8zM64.1 567.2h0.8v0.8h-0.8zM79.9 564.9h0.8v0.8h-0.8zM55.1 578.5h0.8v0.8h-0.8zM69.7 574.7h0.8v0.8h-0.8zM54.8 598.8h0.8v0.8h-0.8zM70.0 591.1h0.8v0.8h-0.8zM59.1 588.9h0.8v0.8h-0.8zM74.5 594.2h0.8v0.8h-0.8zM66.9 565.6h0.8v0.8h-0.8zM75.0 551.7h0.8v0.8h-0.8zM51.8 555.9h0.8v0.8h-0.8zM63.8 580.2h0.8v0.8h-0.8zM67.7 577.4h0.8v0.8h-0.8zM66.0 590.1h0.8v0.8h-0.8zM66.5 556.3h0.8v0.8h-0.8zM63.1 574.4h0.8v0.8h-0.8zM66.2 591.9h0.8v0.8h-0.8zM63.1 586.3h0.8v0.8h-0.8zM61.4 576.8h0.8v0.8h-0.8zM71.5 570.3h0.8v0.8h-0.8zM64.9 592.9h0.8v0.8h-0.8zM62.2 599.2h0.8v0.8h-0.8zM52.7 601.3h0.8v0.8h-0.8zM54.4 585.7h0.8v0.8h-0.8zM71.2 601.4h0.8v0.8h-0.8zM64.9 587.2h0.8v0.8h-0.8zM76.1 564.0h0.8v0.8h-0.8zM64.1 566.3h0.8v0.8h-0.8zM59.9 588.0h0.8v0.8h-0.8zM75.7 562.9h0.8v0.8h-0.8zM86.6 565.9h0.8v0.8h-0.8zM64.6 569.9h0.8v0.8h-0.8zM71.6 587.7h0.8v0.8h-0.8zM60.1 600.9h0.8v0.8h-0.8zM56.6 598.5h0.8v0.8h-0.8zM73.8 557.8h0.8v0.8h-0.8zM48.6 595.2h0.8v0.8h-0.8zM57.6 600.0h0.8v0.8h-0.8zM65.1 584.1h0.8v0.8h-0.8zM61.3 579.6h0.8v0.8h-0.8zM70.3 553.5h0.8v0.8h-0.8zM63.8 571.4h0.8v0.8h-0.8zM59.5 575.6h0.8v0.8h-0.8zM82.2 558.5h0.8v0.8h-0.8zM69.9 559.1h0.8v0.8h-0.8zM49.4 591.4h0.8v0.8h-0.8zM79.5 563.0h0.8v0.8h-0.8zM70.0 588.3h0.8v0.8h-0.8zM73.3 582.5h0.8v0.8h-0.8zM67.8 571.7h0.8v0.8h-0.8zM49.6 577.8h0.8v0.8h-0.8zM51.4 558.9h0.8v0.8h-0.8zM61.3 592.6h0.8v0.8h-0.8zM69.3 588.3h0.8v0.8h-0.8zM77.8 561.8h0.8v0.8h-0.8zM75.9 554.2h0.8v0.8h-0.8zM63.5 578.7h0.8v0.8h-0.8zM74.5 587.7h0.8v0.8h-0.8zM64.0 553.6h0.8v0.8h-0.8zM50.6 601.0h0.8v0.8h-0.8zM82.3 552.6h0.8v0.8h-0.8zM63.3 600.3h0.8v0.8h-0.8zM65.2 565.9h0.8v0.8h-0.8zM61.0 579.6h0.8v0.8h-0.8zM74.1 583.7h0.8v0.8h-0.8zM65.7 551.9h0.8v0.8h-0.8zM72.8 579.0h0.8v0.8h-0.8zM73.8 568.3h0.8v0.8h-0.8zM59.5 596.3h0.8v0.8h-0.8zM83.3 559.3h0.8v0.8h-0.8zM50.0 592.4h0.8v0.8h-0.8zM74.9 553.3h0.8v0.8h-0.8zM64.9 566.3h0.8v0.8h-0.8zM66.2 578.8h0.8v0.8h-0.8zM54.5 565.5h0.8v0.8h-0.8zM65.2 582.4h0.8v0.8h-0.8zM57.4 595.7h0.8v0.8h-0.8zM65.5 603.8h0.8v0.8h-0.8zM63.8 594.3h0.8v0.8h-0.8zM81.6 555.7h0.8v0.8h-0.8zM52.9 572.5h0.8v0.8h-0.8zM70.5 591.1h0.8v0.8h-0.8zM70.1 568.1h0.8v0.8h-0.8zM64.0 565.8h0.8v0.8h-0.8zM51.6 555.0h0.8v0.8h-0.8zM71.2 553.7h0.8v0.8h-0.8zM65.9 591.4h0.8v0.8h-0.8zM62.4 598.3h0.8v0.8h-0.8zM62.4 588.0h0.8v0.8h-0.8zM57.2 570.5h0.8v0.8h-0.8zM61.3 597.4h0.8v0.8h-0.8zM60.7 585.5h0.8v0.8h-0.8zM65.0 566.8h0.8v0.8h-0.8zM54.5 585.8h0.8v0.8h-0.8zM67.5 591.9h0.8v0.8h-0.8zM74.0 563.4h0.8v0.8h-0.8zM72.7 561.3h0.8v0.8h-0.8zM67.5 555.2h0.8v0.8h-0.8zM62.9 580.3h0.8v0.8h-0.8zM64.8 565.3h0.8v0.8h-0.8zM75.2 572.5h0.8v0.8h-0.8zM62.8 554.6h0.8v0.8h-0.8zM69.6 569.7h0.8v0.8h-0.8zM68.2 584.2h0.8v0.8h-0.8zM57.2 585.1h0.8v0.8h-0.8zM53.5 600.9h0.8v0.8h-0.8zM55.8 587.5h0.8v0.8h-0.8zM60.5 591.1h0.8v0.8h-0.8zM71.1 597.0h0.8v0.8h-0.8zM83.7 553.6h0.8v0.8h-0.8zM58.0 572.9h0.8v0.8h-0.8zM79.5 553.5h0.8v0.8h-0.8zM53.9 592.0h0.8v0.8h-0.8zM78.7 559.6h0.8v0.8h-0.8zM55.6 598.5h0.8v0.8h-0.8zM70.4 572.2h0.8v0.8h-0.8zM73.9 582.7h0.8v0.8h-0.8zM68.8 557.7h0.8v0.8h-0.8zM62.4 569.1h0.8v0.8h-0.8zM63.1 584.5h0.8v0.8h-0.8zM60.4 568.9h0.8v0.8h-0.8zM65.1 564.0h0.8v0.8h-0.8zM52.3 587.9h0.8v0.8h-0.8zM67.3 568.1h0.8v0.8h-0.8zM64.9 562.3h0.8v0.8h-0.8zM50.3 593.6h0.8v0.8h-0.8zM77.6 550.0h0.8v0.8h-0.8zM67.0 574.1h0.8v0.8h-0.8zM69.8 560.6h0.8v0.8h-0.8zM69.6 574.6h0.8v0.8h-0.8zM64.5 589.1h0.8v0.8h-0.8zM70.1 603.7h0.8v0.8h-0.8zM63.4 591.7h0.8v0.8h-0.8zM70.8 556.7h0.8v0.8h-0.8zM69.1 562.4h0.8v0.8h-0.8zM70.1 556.3h0.8v0.8h-0.8zM57.3 574.8h0.8v0.8h-0.8zM64.1 597.6h0.8v0.8h-0.8zM54.9 597.9h0.8v0.8h-0.8zM62.2 577.1h0.8v0.8h-0.8zM56.1 600.0h0.8v0.8h-0.8zM71.2 573.0h0.8v0.8h-0.8zM70.9 591.5h0.8v0.8h-0.8zM66.4 599.6h0.8v0.8h-0.8zM83.1 554.2h0.8v0.8h-0.8zM61.3 595.7h0.8v0.8h-0.8zM56.5 597.4h0.8v0.8h-0.8zM59.5 602.9h0.8v0.8h-0.8zM62.1 583.1h0.8v0.8h-0.8zM78.1 562.4h0.8v0.8h-0.8zM58.1 594.6h0.8v0.8h-0.8zM66.5 592.6h0.8v0.8h-0.8zM51.0 572.9h0.8v0.8h-0.8zM74.0 576.5h0.8v0.8h-0.8zM62.3 566.4h0.8v0.8h-0.8zM78.4 561.4h0.8v0.8h-0.8zM76.7 572.9h0.8v0.8h-0.8zM54.6 592.4h0.8v0.8h-0.8zM84.0 585.8h0.8v0.8h-0.8zM67.4 580.3h0.8v0.8h-0.8zM61.5 601.6h0.8v0.8h-0.8zM77.7 572.5h0.8v0.8h-0.8zM64.6 575.3h0.8v0.8h-0.8zM71.5 562.5h0.8v0.8h-0.8zM52.2 579.1h0.8v0.8h-0.8zM65.7 575.6h0.8v0.8h-0.8zM61.0 595.4h0.8v0.8h-0.8zM59.7 571.9h0.8v0.8h-0.8zM68.1 575.5h0.8v0.8h-0.8zM60.0 574.0h0.8v0.8h-0.8zM60.4 556.1h0.8v0.8h-0.8zM56.6 599.9h0.8v0.8h-0.8zM63.6 594.6h0.8v0.8h-0.8zM65.8 594.0h0.8v0.8h-0.8zM68.6 588.0h0.8v0.8h-0.8zM55.6 561.0h0.8v0.8h-0.8zM62.7 569.2h0.8v0.8h-0.8zM66.9 559.9h0.8v0.8h-0.8zM62.1 590.6h0.8v0.8h-0.8zM53.3 591.3h0.8v0.8h-0.8zM60.8 577.0h0.8v0.8h-0.8zM73.8 572.9h0.8v0.8h-0.8zM66.9 551.5h0.8v0.8h-0.8zM75.1 570.2h0.8v0.8h-0.8zM70.2 577.7h0.8v0.8h-0.8zM58.5 589.7h0.8v0.8h-0.8zM65.5 582.7h0.8v0.8h-0.8zM57.7 555.8h0.8v0.8h-0.8zM58.4 596.6h0.8v0.8h-0.8zM77.1 556.8h0.8v0.8h-0.8zM71.8 578.4h0.8v0.8h-0.8zM72.8 590.7h0.8v0.8h-0.8zM58.9 560.7h0.8v0.8h-0.8zM68.9 558.7h0.8v0.8h-0.8zM73.2 567.6h0.8v0.8h-0.8zM61.6 579.7h0.8v0.8h-0.8zM52.0 585.3h0.8v0.8h-0.8zM55.5 594.9h0.8v0.8h-0.8zM61.7 602.6h0.8v0.8h-0.8zM72.9 568.5h0.8v0.8h-0.8zM68.0 563.8h0.8v0.8h-0.8zM73.8 561.9h0.8v0.8h-0.8zM58.2 570.6h0.8v0.8h-0.8zM64.5 586.2h0.8v0.8h-0.8zM66.9 554.8h0.8v0.8h-0.8zM72.2 555.9h0.8v0.8h-0.8zM70.2 559.9h0.8v0.8h-0.8zM67.6 575.1h0.8v0.8h-0.8zM71.6 582.3h0.8v0.8h-0.8zM55.0 572.4h0.8v0.8h-0.8zM73.6 577.4h0.8v0.8h-0.8zM59.6 581.0h0.8v0.8h-0.8zM56.6 600.4h0.8v0.8h-0.8zM72.8 582.8h0.8v0.8h-0.8zM64.3 594.4h0.8v0.8h-0.8zM72.7 582.5h0.8v0.8h-0.8zM54.9 594.4h0.8v0.8h-0.8zM73.8 571.0h0.8v0.8h-0.8zM75.3 559.1h0.8v0.8h-0.8zM64.5 596.6h0.8v0.8h-0.8zM65.1 589.6h0.8v0.8h-0.8zM64.1 574.8h0.8v0.8h-0.8zM63.3 600.0h0.8v0.8h-0.8zM76.9 552.8h0.8v0.8h-0.8zM55.6 599.5h0.8v0.8h-0.8zM82.0 554.8h0.8v0.8h-0.8zM72.0 558.7h0.8v0.8h-0.8zM63.5 582.9h0.8v0.8h-0.8zM49.4 568.9h0.8v0.8h-0.8zM59.3 563.1h0.8v0.8h-0.8zM66.1 572.4h0.8v0.8h-0.8zM60.9 594.6h0.8v0.8h-0.8zM63.6 552.8h0.8v0.8h-0.8zM70.8 571.2h0.8v0.8h-0.8zM66.9 570.6h0.8v0.8h-0.8zM65.4 568.4h0.8v0.8h-0.8zM52.6 595.6h0.8v0.8h-0.8zM60.5 597.2h0.8v0.8h-0.8zM59.5 569.0h0.8v0.8h-0.8zM72.9 588.6h0.8v0.8h-0.8zM68.0 580.5h0.8v0.8h-0.8zM59.0 577.4h0.8v0.8h-0.8zM66.4 588.8h0.8v0.8h-0.8zM70.5 573.8h0.8v0.8h-0.8zM71.7 582.0h0.8v0.8h-0.8zM60.6 585.8h0.8v0.8h-0.8zM77.7 565.8h0.8v0.8h-0.8zM57.0 547.6h0.8v0.8h-0.8zM62.6 592.7h0.8v0.8h-0.8zM64.4 592.2h0.8v0.8h-0.8zM70.1 573.6h0.8v0.8h-0.8zM59.6 598.0h0.8v0.8h-0.8zM75.9 589.3h0.8v0.8h-0.8zM59.9 597.8h0.8v0.8h-0.8zM84.6 560.0h0.8v0.8h-0.8zM75.2 556.9h0.8v0.8h-0.8zM59.2 601.2h0.8v0.8h-0.8zM63.8 598.4h0.8v0.8h-0.8zM54.9 604.4h0.8v0.8h-0.8zM48.0 590.2h0.8v0.8h-0.8zM57.0 599.6h0.8v0.8h-0.8zM68.1 599.1h0.8v0.8h-0.8zM68.4 597.1h0.8v0.8h-0.8zM67.9 570.5h0.8v0.8h-0.8zM67.6 565.0h0.8v0.8h-0.8zM53.2 600.4h0.8v0.8h-0.8zM69.3 583.1h0.8v0.8h-0.8zM56.2 593.7h0.8v0.8h-0.8zM74.1 572.8h0.8v0.8h-0.8zM73.3 569.8h0.8v0.8h-0.8zM54.9 588.5h0.8v0.8h-0.8zM58.9 596.4h0.8v0.8h-0.8zM60.5 589.6h0.8v0.8h-0.8zM67.1 582.7h0.8v0.8h-0.8zM69.4 586.5h0.8v0.8h-0.8zM77.4 558.9h0.8v0.8h-0.8zM64.6 573.2h0.8v0.8h-0.8zM60.6 557.9h0.8v0.8h-0.8zM68.0 550.8h0.8v0.8h-0.8zM61.5 589.5h0.8v0.8h-0.8zM65.5 559.9h0.8v0.8h-0.8zM52.2 555.5h0.8v0.8h-0.8zM67.2 567.1h0.8v0.8h-0.8zM62.5 551.8h0.8v0.8h-0.8zM59.7 581.8h0.8v0.8h-0.8zM53.7 585.6h0.8v0.8h-0.8zM63.6 597.6h0.8v0.8h-0.8zM66.1 578.1h0.8v0.8h-0.8zM70.4 576.9h0.8v0.8h-0.8zM56.3 584.4h0.8v0.8h-0.8zM62.5 603.5h0.8v0.8h-0.8zM73.1 559.3h0.8v0.8h-0.8zM63.1 571.1h0.8v0.8h-0.8zM62.0 587.2h0.8v0.8h-0.8zM65.7 562.9h0.8v0.8h-0.8zM57.1 592.3h0.8v0.8h-0.8zM66.5 586.9h0.8v0.8h-0.8zM64.3 576.5h0.8v0.8h-0.8zM77.8 558.5h0.8v0.8h-0.8zM67.9 588.4h0.8v0.8h-0.8zM62.6 578.6h0.8v0.8h-0.8zM71.7 581.5h0.8v0.8h-0.8zM67.6 583.4h0.8v0.8h-0.8zM72.8 558.7h0.8v0.8h-0.8zM62.0 583.6h0.8v0.8h-0.8zM61.9 591.8h0.8v0.8h-0.8zM76.2 559.5h0.8v0.8h-0.8zM67.1 563.9h0.8v0.8h-0.8zM68.0 591.5h0.8v0.8h-0.8zM69.2 569.8h0.8v0.8h-0.8zM63.5 575.2h0.8v0.8h-0.8zM65.4 574.2h0.8v0.8h-0.8zM70.6 590.9h0.8v0.8h-0.8zM61.8 604.6h0.8v0.8h-0.8zM80.8 576.1h0.8v0.8h-0.8zM66.0 593.7h0.8v0.8h-0.8zM75.8 563.6h0.8v0.8h-0.8zM62.5 566.8h0.8v0.8h-0.8zM71.5 564.0h0.8v0.8h-0.8zM55.3 558.6h0.8v0.8h-0.8zM52.7 583.3h0.8v0.8h-0.8zM68.1 562.4h0.8v0.8h-0.8zM56.1 597.7h0.8v0.8h-0.8zM56.6 600.4h0.8v0.8h-0.8zM59.4 595.5h0.8v0.8h-0.8zM73.5 565.2h0.8v0.8h-0.8zM65.1 596.4h0.8v0.8h-0.8zM71.0 554.1h0.8v0.8h-0.8zM64.9 586.4h0.8v0.8h-0.8zM71.9 584.7h0.8v0.8h-0.8zM78.8 593.2h0.8v0.8h-0.8zM75.7 579.4h0.8v0.8h-0.8zM62.6 567.0h0.8v0.8h-0.8zM65.3 565.1h0.8v0.8h-0.8zM66.3 601.5h0.8v0.8h-0.8zM60.4 584.8h0.8v0.8h-0.8zM68.0 566.9h0.8v0.8h-0.8zM67.8 569.7h0.8v0.8h-0.8zM50.2 579.0h0.8v0.8h-0.8zM61.5 567.6h0.8v0.8h-0.8zM71.0 573.1h0.8v0.8h-0.8zM75.9 570.5h0.8v0.8h-0.8zM73.4 591.3h0.8v0.8h-0.8zM60.1 591.8h0.8v0.8h-0.8zM72.0 567.2h0.8v0.8h-0.8zM70.2 563.0h0.8v0.8h-0.8zM70.8 591.0h0.8v0.8h-0.8zM46.2 601.9h0.8v0.8h-0.8zM52.0 596.7h0.8v0.8h-0.8zM63.1 597.9h0.8v0.8h-0.8zM63.5 595.2h0.8v0.8h-0.8zM74.8 553.7h0.8v0.8h-0.8zM65.1 573.5h0.8v0.8h-0.8zM61.0 589.6h0.8v0.8h-0.8zM70.9 555.1h0.8v0.8h-0.8zM74.6 554.5h0.8v0.8h-0.8zM62.7 580.1h0.8v0.8h-0.8zM73.6 572.0h0.8v0.8h-0.8zM49.1 603.7h0.8v0.8h-0.8zM69.4 581.1h0.8v0.8h-0.8zM57.8 592.7h0.8v0.8h-0.8zM67.7 567.5h0.8v0.8h-0.8zM66.4 591.6h0.8v0.8h-0.8zM74.6 564.9h0.8v0.8h-0.8zM56.9 597.8h0.8v0.8h-0.8zM74.9 557.4h0.8v0.8h-0.8zM82.8 563.8h0.8v0.8h-0.8zM62.8 568.0h0.8v0.8h-0.8zM73.2 569.3h0.8v0.8h-0.8zM68.0 600.3h0.8v0.8h-0.8zM68.9 585.8h0.8v0.8h-0.8zM54.5 587.3h0.8v0.8h-0.8zM72.6 593.3h0.8v0.8h-0.8zM66.7 561.0h0.8v0.8h-0.8zM75.7 555.2h0.8v0.8h-0.8zM63.0 595.4h0.8v0.8h-0.8zM76.0 567.3h0.8v0.8h-0.8zM63.0 583.9h0.8v0.8h-0.8zM74.5 565.1h0.8v0.8h-0.8zM63.7 580.2h0.8v0.8h-0.8zM75.7 559.0h0.8v0.8h-0.8zM70.5 580.7h0.8v0.8h-0.8zM75.0 582.0h0.8v0.8h-0.8zM77.7 547.8h0.8v0.8h-0.8zM62.0 582.2h0.8v0.8h-0.8zM80.4 582.1h0.8v0.8h-0.8zM53.5 594.1h0.8v0.8h-0.8zM62.8 569.8h0.8v0.8h-0.8zM59.7 558.4h0.8v0.8h-0.8zM77.2 565.1h0.8v0.8h-0.8zM67.5 570.9h0.8v0.8h-0.8zM62.8 597.7h0.8v0.8h-0.8zM70.7 562.7h0.8v0.8h-0.8zM60.5 553.5h0.8v0.8h-0.8zM67.9 573.5h0.8v0.8h-0.8zM50.7 593.4h0.8v0.8h-0.8zM76.9 584.8h0.8v0.8h-0.8zM63.0 598.3h0.8v0.8h-0.8zM64.3 565.4h0.8v0.8h-0.8zM63.4 588.5h0.8v0.8h-0.8zM56.7 588.1h0.8v0.8h-0.8zM58.0 595.2h0.8v0.8h-0.8zM67.7 554.6h0.8v0.8h-0.8zM74.3 564.5h0.8v0.8h-0.8zM58.0 570.7h0.8v0.8h-0.8zM63.1 587.4h0.8v0.8h-0.8zM62.1 573.6h0.8v0.8h-0.8zM58.6 582.6h0.8v0.8h-0.8zM50.9 592.3h0.8v0.8h-0.8zM62.4 600.5h0.8v0.8h-0.8zM67.2 581.4h0.8v0.8h-0.8zM57.8 580.8h0.8v0.8h-0.8zM82.6 579.6h0.8v0.8h-0.8zM57.8 584.4h0.8v0.8h-0.8zM64.3 585.6h0.8v0.8h-0.8zM54.7 596.2h0.8v0.8h-0.8zM77.4 592.2h0.8v0.8h-0.8zM68.8 575.6h0.8v0.8h-0.8zM68.9 589.3h0.8v0.8h-0.8zM61.2 590.3h0.8v0.8h-0.8zM64.4 586.1h0.8v0.8h-0.8zM72.7 577.6h0.8v0.8h-0.8zM51.9 602.6h0.8v0.8h-0.8zM54.1 554.5h0.8v0.8h-0.8zM59.6 594.8h0.8v0.8h-0.8zM58.3 599.8h0.8v0.8h-0.8zM46.9 593.3h0.8v0.8h-0.8zM72.4 590.8h0.8v0.8h-0.8zM78.8 570.5h0.8v0.8h-0.8zM83.0 556.5h0.8v0.8h-0.8zM65.1 573.5h0.8v0.8h-0.8zM63.8 571.0h0.8v0.8h-0.8zM73.8 588.6h0.8v0.8h-0.8zM77.8 563.4h0.8v0.8h-0.8zM54.3 601.5h0.8v0.8h-0.8zM68.8 555.4h0.8v0.8h-0.8zM62.7 589.2h0.8v0.8h-0.8zM64.3 590.7h0.8v0.8h-0.8zM67.6 582.2h0.8v0.8h-0.8zM57.0 596.7h0.8v0.8h-0.8zM51.2 594.7h0.8v0.8h-0.8zM64.8 594.2h0.8v0.8h-0.8zM54.3 580.2h0.8v0.8h-0.8zM62.7 595.7h0.8v0.8h-0.8zM68.7 560.5h0.8v0.8h-0.8zM57.3 590.3h0.8v0.8h-0.8zM63.5 580.7h0.8v0.8h-0.8zM60.2 603.8h0.8v0.8h-0.8zM73.7 577.0h0.8v0.8h-0.8zM85.7 568.4h0.8v0.8h-0.8zM77.2 558.2h0.8v0.8h-0.8zM53.8 593.8h0.8v0.8h-0.8zM66.3 599.3h0.8v0.8h-0.8zM60.8 571.8h0.8v0.8h-0.8zM64.0 566.9h0.8v0.8h-0.8zM70.9 585.2h0.8v0.8h-0.8zM59.9 602.2h0.8v0.8h-0.8zM64.6 571.4h0.8v0.8h-0.8zM56.2 574.8h0.8v0.8h-0.8zM58.3 597.5h0.8v0.8h-0.8zM73.3 585.8h0.8v0.8h-0.8zM70.5 568.5h0.8v0.8h-0.8zM57.4 597.8h0.8v0.8h-0.8zM59.5 597.9h0.8v0.8h-0.8zM75.3 583.7h0.8v0.8h-0.8zM79.4 551.9h0.8v0.8h-0.8zM72.6 554.1h0.8v0.8h-0.8zM78.9 550.7h0.8v0.8h-0.8zM69.8 566.2h0.8v0.8h-0.8zM50.5 605.2h0.8v0.8h-0.8zM65.7 553.6h0.8v0.8h-0.8zM62.5 582.9h0.8v0.8h-0.8zM73.4 555.4h0.8v0.8h-0.8zM56.6 603.8h0.8v0.8h-0.8zM75.6 561.1h0.8v0.8h-0.8zM72.8 555.3h0.8v0.8h-0.8zM59.3 583.5h0.8v0.8h-0.8zM71.8 553.4h0.8v0.8h-0.8zM59.9 593.3h0.8v0.8h-0.8zM70.6 563.9h0.8v0.8h-0.8zM61.5 600.7h0.8v0.8h-0.8zM61.5 554.4h0.8v0.8h-0.8zM63.8 560.4h0.8v0.8h-0.8zM55.6 557.5h0.8v0.8h-0.8zM69.8 588.2h0.8v0.8h-0.8zM65.3 555.7h0.8v0.8h-0.8zM75.8 559.4h0.8v0.8h-0.8zM67.2 576.4h0.8v0.8h-0.8zM75.2 563.5h0.8v0.8h-0.8zM63.1 576.4h0.8v0.8h-0.8zM68.3 556.9h0.8v0.8h-0.8zM54.9 578.6h0.8v0.8h-0.8zM64.8 588.6h0.8v0.8h-0.8zM65.7 587.0h0.8v0.8h-0.8zM48.7 592.4h0.8v0.8h-0.8zM75.3 558.0h0.8v0.8h-0.8zM65.0 600.0h0.8v0.8h-0.8zM82.8 554.0h0.8v0.8h-0.8zM75.8 552.5h0.8v0.8h-0.8zM61.7 599.9h0.8v0.8h-0.8zM72.2 559.8h0.8v0.8h-0.8zM65.6 572.5h0.8v0.8h-0.8zM78.6 559.7h0.8v0.8h-0.8zM50.2 582.7h0.8v0.8h-0.8zM69.4 563.8h0.8v0.8h-0.8zM70.2 560.8h0.8v0.8h-0.8zM59.7 587.1h0.8v0.8h-0.8zM68.4 574.4h0.8v0.8h-0.8zM67.2 586.1h0.8v0.8h-0.8zM54.5 590.4h0.8v0.8h-0.8zM64.2 565.7h0.8v0.8h-0.8zM67.2 561.5h0.8v0.8h-0.8zM68.1 568.3h0.8v0.8h-0.8zM56.8 595.1h0.8v0.8h-0.8zM56.9 600.2h0.8v0.8h-0.8zM47.9 585.8h0.8v0.8h-0.8zM69.7 559.9h0.8v0.8h-0.8zM68.2 596.1h0.8v0.8h-0.8zM75.0 563.4h0.8v0.8h-0.8zM66.5 595.2h0.8v0.8h-0.8zM76.0 564.2h0.8v0.8h-0.8zM61.2 601.4h0.8v0.8h-0.8zM73.5 568.5h0.8v0.8h-0.8zM65.7 591.4h0.8v0.8h-0.8zM62.0 601.2h0.8v0.8h-0.8zM51.4 576.3h0.8v0.8h-0.8zM68.6 578.4h0.8v0.8h-0.8zM80.1 566.1h0.8v0.8h-0.8zM57.3 592.7h0.8v0.8h-0.8zM63.7 581.7h0.8v0.8h-0.8zM72.3 597.7h0.8v0.8h-0.8zM64.9 554.3h0.8v0.8h-0.8zM61.5 592.3h0.8v0.8h-0.8zM65.5 583.2h0.8v0.8h-0.8zM52.8 591.1h0.8v0.8h-0.8zM45.7 594.4h0.8v0.8h-0.8zM75.9 579.5h0.8v0.8h-0.8zM69.3 594.7h0.8v0.8h-0.8zM68.5 582.8h0.8v0.8h-0.8zM57.0 593.4h0.8v0.8h-0.8zM73.5 580.9h0.8v0.8h-0.8zM58.2 574.3h0.8v0.8h-0.8zM66.0 573.1h0.8v0.8h-0.8zM79.9 569.6h0.8v0.8h-0.8zM62.7 580.3h0.8v0.8h-0.8zM46.5 600.6h0.8v0.8h-0.8zM76.4 553.5h0.8v0.8h-0.8zM51.2 574.6h0.8v0.8h-0.8zM65.2 599.2h0.8v0.8h-0.8zM76.6 562.1h0.8v0.8h-0.8zM64.8 566.7h0.8v0.8h-0.8zM59.6 596.8h0.8v0.8h-0.8zM61.2 571.8h0.8v0.8h-0.8zM53.6 585.6h0.8v0.8h-0.8zM60.4 596.8h0.8v0.8h-0.8zM65.9 580.3h0.8v0.8h-0.8zM61.5 587.9h0.8v0.8h-0.8zM72.5 556.1h0.8v0.8h-0.8zM59.8 595.8h0.8v0.8h-0.8zM71.9 574.4h0.8v0.8h-0.8zM71.5 576.6h0.8v0.8h-0.8zM61.8 589.3h0.8v0.8h-0.8zM70.8 580.5h0.8v0.8h-0.8zM79.5 550.7h0.8v0.8h-0.8zM62.8 558.4h0.8v0.8h-0.8zM71.2 569.5h0.8v0.8h-0.8zM63.1 579.3h0.8v0.8h-0.8zM58.5 592.9h0.8v0.8h-0.8zM72.9 580.7h0.8v0.8h-0.8zM60.1 597.6h0.8v0.8h-0.8zM64.8 566.0h0.8v0.8h-0.8zM69.3 588.4h0.8v0.8h-0.8zM64.7 588.1h0.8v0.8h-0.8zM57.8 588.3h0.8v0.8h-0.8zM66.5 590.0h0.8v0.8h-0.8zM65.2 593.5h0.8v0.8h-0.8zM57.4 578.1h0.8v0.8h-0.8zM62.3 566.0h0.8v0.8h-0.8zM74.4 559.9h0.8v0.8h-0.8zM70.3 600.0h0.8v0.8h-0.8zM69.1 579.5h0.8v0.8h-0.8zM77.1 553.5h0.8v0.8h-0.8zM47.1 591.1h0.8v0.8h-0.8zM64.0 579.0h0.8v0.8h-0.8zM70.3 582.0h0.8v0.8h-0.8zM83.1 558.7h0.8v0.8h-0.8zM63.1 564.9h0.8v0.8h-0.8zM76.0 550.8h0.8v0.8h-0.8zM52.5 597.5h0.8v0.8h-0.8zM56.5 598.0h0.8v0.8h-0.8zM64.9 590.6h0.8v0.8h-0.8zM77.2 579.5h0.8v0.8h-0.8zM63.3 582.9h0.8v0.8h-0.8zM53.7 584.6h0.8v0.8h-0.8zM62.5 578.0h0.8v0.8h-0.8zM68.6 557.3h0.8v0.8h-0.8zM56.3 602.6h0.8v0.8h-0.8zM78.6 563.9h0.8v0.8h-0.8zM69.4 587.8h0.8v0.8h-0.8zM55.9 595.1h0.8v0.8h-0.8zM57.2 569.7h0.8v0.8h-0.8zM79.4 561.2h0.8v0.8h-0.8zM57.9 580.9h0.8v0.8h-0.8zM60.2 558.7h0.8v0.8h-0.8zM65.4 556.3h0.8v0.8h-0.8zM60.0 575.3h0.8v0.8h-0.8zM67.8 576.1h0.8v0.8h-0.8zM65.7 592.6h0.8v0.8h-0.8zM68.0 552.0h0.8v0.8h-0.8zM64.1 595.7h0.8v0.8h-0.8zM49.5 593.8h0.8v0.8h-0.8zM78.3 574.2h0.8v0.8h-0.8zM60.9 572.1h0.8v0.8h-0.8zM65.8 576.4h0.8v0.8h-0.8zM63.0 583.8h0.8v0.8h-0.8zM67.9 566.0h0.8v0.8h-0.8zM75.9 558.9h0.8v0.8h-0.8zM59.4 587.3h0.8v0.8h-0.8zM68.5 582.2h0.8v0.8h-0.8zM72.7 587.6h0.8v0.8h-0.8zM62.9 605.6h0.8v0.8h-0.8zM69.7 581.3h0.8v0.8h-0.8zM58.8 575.7h0.8v0.8h-0.8zM62.6 553.7h0.8v0.8h-0.8zM57.7 579.9h0.8v0.8h-0.8zM81.3 555.2h0.8v0.8h-0.8zM62.2 563.7h0.8v0.8h-0.8zM73.2 567.6h0.8v0.8h-0.8zM69.1 589.8h0.8v0.8h-0.8zM65.9 579.8h0.8v0.8h-0.8zM68.6 572.6h0.8v0.8h-0.8zM73.2 569.2h0.8v0.8h-0.8zM65.0 580.5h0.8v0.8h-0.8zM72.0 562.2h0.8v0.8h-0.8zM67.5 566.8h0.8v0.8h-0.8zM65.1 581.7h0.8v0.8h-0.8zM58.5 579.5h0.8v0.8h-0.8zM66.6 590.9h0.8v0.8h-0.8zM70.6 568.8h0.8v0.8h-0.8zM64.7 578.3h0.8v0.8h-0.8zM56.5 582.1h0.8v0.8h-0.8zM67.4 575.9h0.8v0.8h-0.8zM68.2 566.4h0.8v0.8h-0.8zM70.3 580.7h0.8v0.8h-0.8zM57.0 594.6h0.8v0.8h-0.8zM74.9 553.4h0.8v0.8h-0.8zM65.4 570.6h0.8v0.8h-0.8zM68.7 559.5h0.8v0.8h-0.8zM59.7 579.3h0.8v0.8h-0.8zM64.1 568.7h0.8v0.8h-0.8zM73.0 553.8h0.8v0.8h-0.8zM57.6 580.8h0.8v0.8h-0.8zM57.8 592.8h0.8v0.8h-0.8zM39.8 597.8h0.8v0.8h-0.8zM74.0 582.4h0.8v0.8h-0.8zM75.6 567.9h0.8v0.8h-0.8zM56.8 565.2h0.8v0.8h-0.8zM87.5 557.5h0.8v0.8h-0.8zM56.8 600.7h0.8v0.8h-0.8zM65.9 564.1h0.8v0.8h-0.8zM70.9 563.7h0.8v0.8h-0.8zM56.7 582.2h0.8v0.8h-0.8zM64.3 565.4h0.8v0.8h-0.8zM59.7 591.9h0.8v0.8h-0.8zM60.0 592.6h0.8v0.8h-0.8zM70.9 600.1h0.8v0.8h-0.8zM79.6 571.8h0.8v0.8h-0.8zM55.6 560.1h0.8v0.8h-0.8zM66.7 575.5h0.8v0.8h-0.8zM50.7 598.9h0.8v0.8h-0.8zM72.9 560.0h0.8v0.8h-0.8zM48.7 601.8h0.8v0.8h-0.8zM78.7 563.2h0.8v0.8h-0.8zM61.7 595.4h0.8v0.8h-0.8zM60.3 591.6h0.8v0.8h-0.8zM55.6 583.7h0.8v0.8h-0.8zM68.6 565.6h0.8v0.8h-0.8zM64.7 574.6h0.8v0.8h-0.8zM73.1 580.8h0.8v0.8h-0.8zM77.2 566.4h0.8v0.8h-0.8zM76.3 563.9h0.8v0.8h-0.8zM60.0 600.3h0.8v0.8h-0.8zM53.7 563.8h0.8v0.8h-0.8zM72.2 552.9h0.8v0.8h-0.8zM73.1 570.9h0.8v0.8h-0.8zM59.2 596.9h0.8v0.8h-0.8zM70.5 575.8h0.8v0.8h-0.8zM67.2 565.2h0.8v0.8h-0.8zM62.5 555.1h0.8v0.8h-0.8zM72.1 555.9h0.8v0.8h-0.8zM78.3 550.4h0.8v0.8h-0.8zM76.2 555.6h0.8v0.8h-0.8zM82.0 560.6h0.8v0.8h-0.8zM61.8 590.3h0.8v0.8h-0.8zM57.5 575.7h0.8v0.8h-0.8zM81.7 558.9h0.8v0.8h-0.8zM65.7 558.5h0.8v0.8h-0.8zM65.0 562.2h0.8v0.8h-0.8zM70.7 558.9h0.8v0.8h-0.8zM66.9 577.4h0.8v0.8h-0.8zM75.8 575.0h0.8v0.8h-0.8zM60.2 595.7h0.8v0.8h-0.8zM72.8 574.9h0.8v0.8h-0.8zM51.6 577.9h0.8v0.8h-0.8zM68.0 587.9h0.8v0.8h-0.8zM57.3 603.1h0.8v0.8h-0.8zM80.8 573.8h0.8v0.8h-0.8zM69.1 556.3h0.8v0.8h-0.8zM53.4 596.5h0.8v0.8h-0.8zM56.7 594.5h0.8v0.8h-0.8zM58.9 555.6h0.8v0.8h-0.8zM52.5 587.8h0.8v0.8h-0.8zM62.8 586.1h0.8v0.8h-0.8zM63.5 571.1h0.8v0.8h-0.8zM61.3 587.3h0.8v0.8h-0.8zM69.6 573.4h0.8v0.8h-0.8zM74.4 584.0h0.8v0.8h-0.8zM70.4 587.8h0.8v0.8h-0.8zM65.8 583.0h0.8v0.8h-0.8zM74.9 572.4h0.8v0.8h-0.8zM74.8 568.4h0.8v0.8h-0.8zM70.8 597.7h0.8v0.8h-0.8zM78.4 574.6h0.8v0.8h-0.8zM64.7 592.4h0.8v0.8h-0.8zM60.5 602.4h0.8v0.8h-0.8zM58.1 588.0h0.8v0.8h-0.8zM69.0 563.3h0.8v0.8h-0.8zM66.5 570.8h0.8v0.8h-0.8zM65.2 567.6h0.8v0.8h-0.8zM70.5 562.1h0.8v0.8h-0.8zM55.4 601.8h0.8v0.8h-0.8zM66.0 580.8h0.8v0.8h-0.8zM62.9 561.5h0.8v0.8h-0.8zM62.2 563.4h0.8v0.8h-0.8zM69.4 568.0h0.8v0.8h-0.8zM65.6 576.2h0.8v0.8h-0.8zM65.2 586.9h0.8v0.8h-0.8zM66.5 581.7h0.8v0.8h-0.8zM52.5 590.2h0.8v0.8h-0.8zM56.1 575.8h0.8v0.8h-0.8zM55.5 595.4h0.8v0.8h-0.8zM55.8 602.2h0.8v0.8h-0.8zM66.8 572.5h0.8v0.8h-0.8zM66.9 573.5h0.8v0.8h-0.8zM70.5 548.0h0.8v0.8h-0.8zM64.5 582.4h0.8v0.8h-0.8zM72.9 570.7h0.8v0.8h-0.8zM55.2 584.6h0.8v0.8h-0.8zM61.0 593.8h0.8v0.8h-0.8zM67.8 583.1h0.8v0.8h-0.8zM61.0 600.8h0.8v0.8h-0.8zM63.8 576.3h0.8v0.8h-0.8zM67.8 573.1h0.8v0.8h-0.8zM66.0 567.5h0.8v0.8h-0.8zM53.0 584.2h0.8v0.8h-0.8zM63.6 576.8h0.8v0.8h-0.8zM65.7 564.4h0.8v0.8h-0.8zM58.0 596.5h0.8v0.8h-0.8zM57.4 601.0h0.8v0.8h-0.8zM70.0 578.9h0.8v0.8h-0.8zM51.7 602.4h0.8v0.8h-0.8zM57.5 562.8h0.8v0.8h-0.8zM65.4 556.6h0.8v0.8h-0.8zM60.0 592.3h0.8v0.8h-0.8zM68.3 570.6h0.8v0.8h-0.8zM65.4 571.4h0.8v0.8h-0.8zM61.9 593.3h0.8v0.8h-0.8zM69.3 562.3h0.8v0.8h-0.8zM58.9 584.3h0.8v0.8h-0.8zM66.2 596.1h0.8v0.8h-0.8zM48.3 571.0h0.8v0.8h-0.8zM71.3 591.8h0.8v0.8h-0.8zM70.1 566.1h0.8v0.8h-0.8zM55.1 594.1h0.8v0.8h-0.8zM61.3 596.8h0.8v0.8h-0.8zM65.5 581.1h0.8v0.8h-0.8zM56.5 595.2h0.8v0.8h-0.8zM63.9 584.5h0.8v0.8h-0.8zM66.4 581.0h0.8v0.8h-0.8zM53.8 595.5h0.8v0.8h-0.8zM65.6 596.3h0.8v0.8h-0.8zM59.1 573.8h0.8v0.8h-0.8zM59.9 576.2h0.8v0.8h-0.8zM65.1 560.4h0.8v0.8h-0.8zM68.2 570.2h0.8v0.8h-0.8zM52.6 585.3h0.8v0.8h-0.8zM66.2 592.1h0.8v0.8h-0.8zM52.5 580.8h0.8v0.8h-0.8zM63.8 596.3h0.8v0.8h-0.8zM54.9 602.6h0.8v0.8h-0.8zM51.1 596.0h0.8v0.8h-0.8zM65.3 574.1h0.8v0.8h-0.8zM73.2 576.5h0.8v0.8h-0.8zM74.9 561.4h0.8v0.8h-0.8zM51.4 601.9h0.8v0.8h-0.8zM67.9 577.8h0.8v0.8h-0.8zM66.9 570.5h0.8v0.8h-0.8zM63.6 572.5h0.8v0.8h-0.8zM68.0 586.8h0.8v0.8h-0.8zM74.1 570.2h0.8v0.8h-0.8zM75.0 555.9h0.8v0.8h-0.8zM56.3 583.5h0.8v0.8h-0.8zM81.5 548.8h0.8v0.8h-0.8zM86.3 554.1h0.8v0.8h-0.8zM62.7 587.1h0.8v0.8h-0.8zM68.8 587.8h0.8v0.8h-0.8zM66.8 594.5h0.8v0.8h-0.8zM73.0 557.9h0.8v0.8h-0.8zM72.1 584.9h0.8v0.8h-0.8zM71.5 566.7h0.8v0.8h-0.8zM68.2 557.8h0.8v0.8h-0.8zM64.1 562.8h0.8v0.8h-0.8zM53.2 605.7h0.8v0.8h-0.8zM48.9 593.7h0.8v0.8h-0.8zM70.6 587.1h0.8v0.8h-0.8zM56.4 564.5h0.8v0.8h-0.8zM55.9 583.5h0.8v0.8h-0.8zM68.3 559.9h0.8v0.8h-0.8zM68.7 580.8h0.8v0.8h-0.8zM69.3 587.6h0.8v0.8h-0.8zM65.7 582.3h0.8v0.8h-0.8zM67.3 571.0h0.8v0.8h-0.8zM64.6 561.3h0.8v0.8h-0.8zM77.9 555.9h0.8v0.8h-0.8zM76.0 560.7h0.8v0.8h-0.8zM76.3 553.9h0.8v0.8h-0.8zM75.6 555.8h0.8v0.8h-0.8zM54.4 556.4h0.8v0.8h-0.8zM66.6 586.3h0.8v0.8h-0.8zM73.9 555.0h0.8v0.8h-0.8zM83.8 570.1h0.8v0.8h-0.8zM64.8 590.6h0.8v0.8h-0.8zM54.1 578.4h0.8v0.8h-0.8zM62.5 591.6h0.8v0.8h-0.8zM73.1 580.2h0.8v0.8h-0.8zM70.9 563.0h0.8v0.8h-0.8zM49.7 584.4h0.8v0.8h-0.8zM58.2 591.7h0.8v0.8h-0.8zM68.2 549.3h0.8v0.8h-0.8zM59.1 581.9h0.8v0.8h-0.8zM59.2 593.5h0.8v0.8h-0.8zM57.0 569.0h0.8v0.8h-0.8zM77.7 563.5h0.8v0.8h-0.8zM59.4 570.5h0.8v0.8h-0.8zM60.8 587.0h0.8v0.8h-0.8zM57.3 577.5h0.8v0.8h-0.8zM77.3 568.0h0.8v0.8h-0.8zM69.0 554.1h0.8v0.8h-0.8zM59.3 573.4h0.8v0.8h-0.8zM64.3 590.6h0.8v0.8h-0.8zM63.7 561.3h0.8v0.8h-0.8zM68.6 586.4h0.8v0.8h-0.8zM57.8 574.5h0.8v0.8h-0.8zM63.1 573.8h0.8v0.8h-0.8zM58.1 601.5h0.8v0.8h-0.8zM63.7 579.4h0.8v0.8h-0.8zM66.8 586.5h0.8v0.8h-0.8zM56.3 583.2h0.8v0.8h-0.8zM79.1 559.0h0.8v0.8h-0.8zM55.4 598.9h0.8v0.8h-0.8zM70.3 573.4h0.8v0.8h-0.8zM54.3 585.7h0.8v0.8h-0.8zM53.6 583.8h0.8v0.8h-0.8zM66.0 564.6h0.8v0.8h-0.8zM64.8 571.3h0.8v0.8h-0.8zM49.8 568.3h0.8v0.8h-0.8zM64.8 587.0h0.8v0.8h-0.8zM73.0 555.7h0.8v0.8h-0.8zM61.7 597.6h0.8v0.8h-0.8zM74.6 570.2h0.8v0.8h-0.8zM73.6 556.2h0.8v0.8h-0.8zM69.2 565.3h0.8v0.8h-0.8zM55.4 596.8h0.8v0.8h-0.8zM71.1 557.7h0.8v0.8h-0.8zM63.6 577.7h0.8v0.8h-0.8zM55.7 595.4h0.8v0.8h-0.8zM55.8 579.9h0.8v0.8h-0.8zM68.1 582.6h0.8v0.8h-0.8zM61.1 574.4h0.8v0.8h-0.8zM70.3 589.3h0.8v0.8h-0.8zM60.5 596.1h0.8v0.8h-0.8zM74.5 554.9h0.8v0.8h-0.8zM73.3 553.6h0.8v0.8h-0.8zM64.8 590.1h0.8v0.8h-0.8zM54.5 595.1h0.8v0.8h-0.8zM67.3 555.2h0.8v0.8h-0.8zM75.9 552.6h0.8v0.8h-0.8zM65.1 601.9h0.8v0.8h-0.8zM72.3 564.0h0.8v0.8h-0.8z" fill="#23309a" fill-opacity="0.42"/>
<g filter="url(#bl4)">
<polygon points="49,601 56,598 63,600 63,607 56,609 49,608" fill="#2c40b0" fill-opacity="0.35"/>
</g>
<g filter="url(#bl4)">
<polygon points="74,544 92,542.5 104,540.5 118,540 124.5,544 124.5,556 121,567 117,571 110,562 98,556 74,555.5" fill="#3448b8" fill-opacity="0.85"/>
<polygon points="80,547 98,545 110,543 120,543.5 122.5,549 121,558 116.5,563 109,557.5 97,552.5 80,552" fill="#2ea0dc" fill-opacity="0.95"/>
<polygon points="98,547 106,544.5 116,544.5 121,549 120,556 115.5,560 108,556 101,552" fill="#52c048" fill-opacity="0.97"/>
<ellipse cx="112.5" cy="551" rx="7" ry="5" fill="#a8d838" fill-opacity="0.97"/>
<ellipse cx="113" cy="551" rx="5.5" ry="4.2" fill="#e8e030" fill-opacity="0.97"/>
<ellipse cx="113.5" cy="551" rx="3.6" ry="3" fill="#f09020" fill-opacity="0.97"/>
<ellipse cx="113.8" cy="551" rx="2.2" ry="1.9" fill="#e01818" fill-opacity="0.97"/>
</g>
<rect x="38.4" y="521.3" width="92.79999999999998" height="93.70000000000005" fill="none" stroke="#1a1a1a" stroke-width="1.3"/>
<rect x="46.2" y="542.3" width="32.599999999999994" height="53.10000000000002" fill="none" stroke="#d02040" stroke-width="1"/>
<text x="63.50" y="540.29" font-size="7.2" fill="#1a1a1a" text-anchor="middle" stroke="#1a1a1a" stroke-width="0.22" >R1+R2</text>
<text x="32.80" y="532.78" font-size="8.0" fill="#1a1a1a" text-anchor="end" stroke="#1a1a1a" stroke-width="0.22" >10<tspan font-size="5.6" dy="-3.6">5</tspan></text>
<line x1="35.90" y1="530.40" x2="38.40" y2="530.40" stroke="#1a1a1a" stroke-width="0.9" />
<text x="32.80" y="553.58" font-size="8.0" fill="#1a1a1a" text-anchor="end" stroke="#1a1a1a" stroke-width="0.22" >10<tspan font-size="5.6" dy="-3.6">4</tspan></text>
<line x1="35.90" y1="551.20" x2="38.40" y2="551.20" stroke="#1a1a1a" stroke-width="0.9" />
<text x="32.80" y="576.58" font-size="8.0" fill="#1a1a1a" text-anchor="end" stroke="#1a1a1a" stroke-width="0.22" >10<tspan font-size="5.6" dy="-3.6">3</tspan></text>
<line x1="35.90" y1="574.20" x2="38.40" y2="574.20" stroke="#1a1a1a" stroke-width="0.9" />
<text x="29.80" y="603.88" font-size="8.0" fill="#1a1a1a" text-anchor="middle" stroke="#1a1a1a" stroke-width="0.22" >0</text>
<line x1="35.90" y1="601.00" x2="38.40" y2="601.00" stroke="#1a1a1a" stroke-width="0.9" />
<text x="53.90" y="627.88" font-size="8.0" fill="#1a1a1a" text-anchor="middle" stroke="#1a1a1a" stroke-width="0.22" >0</text>
<line x1="53.90" y1="615.00" x2="53.90" y2="617.50" stroke="#1a1a1a" stroke-width="0.9" />
<text x="76.30" y="627.88" font-size="8.0" fill="#1a1a1a" text-anchor="middle" stroke="#1a1a1a" stroke-width="0.22" >10<tspan font-size="5.6" dy="-3.6">3</tspan></text>
<line x1="76.30" y1="615.00" x2="76.30" y2="617.50" stroke="#1a1a1a" stroke-width="0.9" />
<text x="101.60" y="627.88" font-size="8.0" fill="#1a1a1a" text-anchor="middle" stroke="#1a1a1a" stroke-width="0.22" >10<tspan font-size="5.6" dy="-3.6">4</tspan></text>
<line x1="101.60" y1="615.00" x2="101.60" y2="617.50" stroke="#1a1a1a" stroke-width="0.9" />
<text x="121.80" y="627.88" font-size="8.0" fill="#1a1a1a" text-anchor="middle" stroke="#1a1a1a" stroke-width="0.22" >10<tspan font-size="5.6" dy="-3.6">5</tspan></text>
<line x1="121.80" y1="615.00" x2="121.80" y2="617.50" stroke="#1a1a1a" stroke-width="0.9" />
<line x1="36.60" y1="595.00" x2="38.40" y2="595.00" stroke="#1a1a1a" stroke-width="0.55" />
<line x1="36.60" y1="596.05" x2="38.40" y2="596.05" stroke="#1a1a1a" stroke-width="0.55" />
<line x1="36.60" y1="597.10" x2="38.40" y2="597.10" stroke="#1a1a1a" stroke-width="0.55" />
<line x1="36.60" y1="598.15" x2="38.40" y2="598.15" stroke="#1a1a1a" stroke-width="0.55" />
<line x1="36.60" y1="599.20" x2="38.40" y2="599.20" stroke="#1a1a1a" stroke-width="0.55" />
<line x1="36.60" y1="600.25" x2="38.40" y2="600.25" stroke="#1a1a1a" stroke-width="0.55" />
<line x1="36.60" y1="601.30" x2="38.40" y2="601.30" stroke="#1a1a1a" stroke-width="0.55" />
<line x1="36.60" y1="602.35" x2="38.40" y2="602.35" stroke="#1a1a1a" stroke-width="0.55" />
<line x1="36.60" y1="603.40" x2="38.40" y2="603.40" stroke="#1a1a1a" stroke-width="0.55" />
<line x1="36.60" y1="604.45" x2="38.40" y2="604.45" stroke="#1a1a1a" stroke-width="0.55" />
<line x1="36.60" y1="605.50" x2="38.40" y2="605.50" stroke="#1a1a1a" stroke-width="0.55" />
<line x1="36.60" y1="606.55" x2="38.40" y2="606.55" stroke="#1a1a1a" stroke-width="0.55" />
<line x1="46.90" y1="615.00" x2="46.90" y2="616.80" stroke="#1a1a1a" stroke-width="0.55" />
<line x1="48.00" y1="615.00" x2="48.00" y2="616.80" stroke="#1a1a1a" stroke-width="0.55" />
<line x1="49.10" y1="615.00" x2="49.10" y2="616.80" stroke="#1a1a1a" stroke-width="0.55" />
<line x1="50.20" y1="615.00" x2="50.20" y2="616.80" stroke="#1a1a1a" stroke-width="0.55" />
<line x1="51.30" y1="615.00" x2="51.30" y2="616.80" stroke="#1a1a1a" stroke-width="0.55" />
<line x1="52.40" y1="615.00" x2="52.40" y2="616.80" stroke="#1a1a1a" stroke-width="0.55" />
<line x1="53.50" y1="615.00" x2="53.50" y2="616.80" stroke="#1a1a1a" stroke-width="0.55" />
<line x1="54.60" y1="615.00" x2="54.60" y2="616.80" stroke="#1a1a1a" stroke-width="0.55" />
<line x1="55.70" y1="615.00" x2="55.70" y2="616.80" stroke="#1a1a1a" stroke-width="0.55" />
<line x1="56.80" y1="615.00" x2="56.80" y2="616.80" stroke="#1a1a1a" stroke-width="0.55" />
<line x1="57.90" y1="615.00" x2="57.90" y2="616.80" stroke="#1a1a1a" stroke-width="0.55" />
<line x1="59.00" y1="615.00" x2="59.00" y2="616.80" stroke="#1a1a1a" stroke-width="0.55" />
<line x1="60.10" y1="615.00" x2="60.10" y2="616.80" stroke="#1a1a1a" stroke-width="0.55" />
<line x1="36.80" y1="567.28" x2="38.40" y2="567.28" stroke="#1a1a1a" stroke-width="0.6" />
<line x1="83.92" y1="615.00" x2="83.92" y2="616.60" stroke="#1a1a1a" stroke-width="0.6" />
<line x1="36.80" y1="563.23" x2="38.40" y2="563.23" stroke="#1a1a1a" stroke-width="0.6" />
<line x1="88.37" y1="615.00" x2="88.37" y2="616.60" stroke="#1a1a1a" stroke-width="0.6" />
<line x1="36.80" y1="560.35" x2="38.40" y2="560.35" stroke="#1a1a1a" stroke-width="0.6" />
<line x1="91.53" y1="615.00" x2="91.53" y2="616.60" stroke="#1a1a1a" stroke-width="0.6" />
<line x1="36.80" y1="558.12" x2="38.40" y2="558.12" stroke="#1a1a1a" stroke-width="0.6" />
<line x1="93.98" y1="615.00" x2="93.98" y2="616.60" stroke="#1a1a1a" stroke-width="0.6" />
<line x1="36.80" y1="556.30" x2="38.40" y2="556.30" stroke="#1a1a1a" stroke-width="0.6" />
<line x1="95.99" y1="615.00" x2="95.99" y2="616.60" stroke="#1a1a1a" stroke-width="0.6" />
<line x1="36.80" y1="554.76" x2="38.40" y2="554.76" stroke="#1a1a1a" stroke-width="0.6" />
<line x1="97.68" y1="615.00" x2="97.68" y2="616.60" stroke="#1a1a1a" stroke-width="0.6" />
<line x1="36.80" y1="553.43" x2="38.40" y2="553.43" stroke="#1a1a1a" stroke-width="0.6" />
<line x1="99.15" y1="615.00" x2="99.15" y2="616.60" stroke="#1a1a1a" stroke-width="0.6" />
<line x1="36.80" y1="552.25" x2="38.40" y2="552.25" stroke="#1a1a1a" stroke-width="0.6" />
<line x1="100.44" y1="615.00" x2="100.44" y2="616.60" stroke="#1a1a1a" stroke-width="0.6" />
<line x1="36.80" y1="544.94" x2="38.40" y2="544.94" stroke="#1a1a1a" stroke-width="0.6" />
<line x1="107.68" y1="615.00" x2="107.68" y2="616.60" stroke="#1a1a1a" stroke-width="0.6" />
<line x1="36.80" y1="541.28" x2="38.40" y2="541.28" stroke="#1a1a1a" stroke-width="0.6" />
<line x1="111.24" y1="615.00" x2="111.24" y2="616.60" stroke="#1a1a1a" stroke-width="0.6" />
<line x1="36.80" y1="538.68" x2="38.40" y2="538.68" stroke="#1a1a1a" stroke-width="0.6" />
<line x1="113.76" y1="615.00" x2="113.76" y2="616.60" stroke="#1a1a1a" stroke-width="0.6" />
<line x1="36.80" y1="536.66" x2="38.40" y2="536.66" stroke="#1a1a1a" stroke-width="0.6" />
<line x1="115.72" y1="615.00" x2="115.72" y2="616.60" stroke="#1a1a1a" stroke-width="0.6" />
<line x1="36.80" y1="535.01" x2="38.40" y2="535.01" stroke="#1a1a1a" stroke-width="0.6" />
<line x1="117.32" y1="615.00" x2="117.32" y2="616.60" stroke="#1a1a1a" stroke-width="0.6" />
<line x1="36.80" y1="533.62" x2="38.40" y2="533.62" stroke="#1a1a1a" stroke-width="0.6" />
<line x1="118.67" y1="615.00" x2="118.67" y2="616.60" stroke="#1a1a1a" stroke-width="0.6" />
<line x1="36.80" y1="532.42" x2="38.40" y2="532.42" stroke="#1a1a1a" stroke-width="0.6" />
<line x1="119.84" y1="615.00" x2="119.84" y2="616.60" stroke="#1a1a1a" stroke-width="0.6" />
<line x1="36.80" y1="531.35" x2="38.40" y2="531.35" stroke="#1a1a1a" stroke-width="0.6" />
<line x1="120.88" y1="615.00" x2="120.88" y2="616.60" stroke="#1a1a1a" stroke-width="0.6" />
<text transform="translate(11.60,535.60) rotate(-90)" x="0" y="3.02" font-size="8.4" fill="#1a1a1a" text-anchor="middle" font-weight="bold" textLength="29" lengthAdjust="spacingAndGlyphs" >PE - CD71</text>
<polyline points="12.1,551.6 12.1,635.7 92.9,635.7" fill="none" stroke="#1a1a1a" stroke-width="1"/>
<text x="113.05" y="637.80" font-size="8.6" fill="#1a1a1a" text-anchor="middle" font-weight="bold" textLength="35.5" lengthAdjust="spacingAndGlyphs" >APC - Ter119</text>
<text x="0.50" y="512.26" font-size="11" fill="#000" text-anchor="start" font-weight="bold" stroke="#000" stroke-width="0.45">H</text>
<line x1="180.00" y1="364.00" x2="180.00" y2="455.00" stroke="#1a1a1a" stroke-width="1.35" />
<line x1="179.50" y1="454.50" x2="243.75" y2="454.50" stroke="#1a1a1a" stroke-width="1.35" />
<line x1="177.00" y1="365.50" x2="180.00" y2="365.50" stroke="#1a1a1a" stroke-width="1.35" />
<text x="174.90" y="368.31" font-size="7.8" fill="#1a1a1a" text-anchor="end" stroke="#1a1a1a" stroke-width="0.22" >30</text>
<line x1="177.00" y1="395.17" x2="180.00" y2="395.17" stroke="#1a1a1a" stroke-width="1.35" />
<text x="174.90" y="397.97" font-size="7.8" fill="#1a1a1a" text-anchor="end" stroke="#1a1a1a" stroke-width="0.22" >20</text>
<line x1="177.00" y1="424.83" x2="180.00" y2="424.83" stroke="#1a1a1a" stroke-width="1.35" />
<text x="174.90" y="427.64" font-size="7.8" fill="#1a1a1a" text-anchor="end" stroke="#1a1a1a" stroke-width="0.22" >10</text>
<line x1="177.00" y1="454.50" x2="180.00" y2="454.50" stroke="#1a1a1a" stroke-width="1.35" />
<text x="174.90" y="457.31" font-size="7.8" fill="#1a1a1a" text-anchor="end" stroke="#1a1a1a" stroke-width="0.22" >0</text>
<line x1="178.20" y1="380.33" x2="180.00" y2="380.33" stroke="#1a1a1a" stroke-width="0.8" />
<line x1="178.20" y1="410.00" x2="180.00" y2="410.00" stroke="#1a1a1a" stroke-width="0.8" />
<line x1="178.20" y1="439.67" x2="180.00" y2="439.67" stroke="#1a1a1a" stroke-width="0.8" />
<text x="208.00" y="357.87" font-size="7.7" fill="#1a1a1a" text-anchor="middle" stroke="#1a1a1a" stroke-width="0.22" >BFU-E</text>
<line x1="196.25" y1="386.25" x2="196.25" y2="390.00" stroke="#444" stroke-width="1.0" />
<line x1="196.25" y1="416.75" x2="196.25" y2="429.25" stroke="#444" stroke-width="1.0" />
<line x1="191.71" y1="386.25" x2="200.79" y2="386.25" stroke="#444" stroke-width="1.0" />
<line x1="191.71" y1="429.25" x2="200.79" y2="429.25" stroke="#444" stroke-width="1.0" />
<rect x="188.00" y="390.00" width="16.50" height="26.75" fill="#cc0324" />
<line x1="188.00" y1="399.30" x2="204.50" y2="399.30" stroke="#9a0820" stroke-width="1.6" />
<line x1="227.62" y1="438.25" x2="227.62" y2="442.00" stroke="#444" stroke-width="1.0" />
<line x1="227.62" y1="450.00" x2="227.62" y2="453.00" stroke="#444" stroke-width="1.0" />
<line x1="223.16" y1="438.25" x2="232.09" y2="438.25" stroke="#444" stroke-width="1.0" />
<line x1="223.16" y1="453.00" x2="232.09" y2="453.00" stroke="#444" stroke-width="1.0" />
<rect x="219.50" y="442.00" width="16.25" height="8.00" fill="#164d8d" />
<line x1="219.50" y1="446.25" x2="235.75" y2="446.25" stroke="#0a2a50" stroke-width="1.6" />
<text transform="translate(145.40,411.90) rotate(-90)" x="0" y="3.24" font-size="9" fill="#1a1a1a" text-anchor="middle" stroke="#1a1a1a" stroke-width="0.28" textLength="42.6" lengthAdjust="spacingAndGlyphs" >CFU per 3,000</text>
<text transform="translate(155.90,411.90) rotate(-90)" x="0" y="3.24" font-size="9" fill="#1a1a1a" text-anchor="middle" stroke="#1a1a1a" stroke-width="0.28" textLength="52.2" lengthAdjust="spacingAndGlyphs" >GFP<tspan font-size="5.5" dy="-2.8">+</tspan><tspan dy="2.8"> R1+R2 cells</tspan></text>
<polyline points="196.25,380 196.25,370 227.5,370 227.5,421.25" fill="none" stroke="#1a1a1a" stroke-width="0.9"/>
<text x="212.50" y="369.65" font-size="7.5" fill="#1a1a1a" text-anchor="middle" stroke="#1a1a1a" stroke-width="0.28" >***</text>
<text transform="translate(196.50,464.80) rotate(-46)" font-size="7.8" fill="#1a1a1a" stroke="#1a1a1a" stroke-width="0.22" text-anchor="end"><tspan font-style="italic">Exosc3</tspan><tspan font-size="5.4" dy="-3">C/C</tspan></text>
<text transform="translate(202.40,470.60) rotate(-46)" font-size="7.8" fill="#1a1a1a" stroke="#1a1a1a" stroke-width="0.22" text-anchor="end">Cre<tspan font-size="5.4" dy="-3">–</tspan></text>
<text transform="translate(233.40,464.80) rotate(-46)" font-size="7.8" fill="#1a1a1a" stroke="#1a1a1a" stroke-width="0.22" text-anchor="end"><tspan font-style="italic">Exosc3</tspan><tspan font-size="5.4" dy="-3">C/C</tspan></text>
<text transform="translate(240.10,469.80) rotate(-46)" font-size="7.8" fill="#1a1a1a" stroke="#1a1a1a" stroke-width="0.22" text-anchor="end">Cre<tspan font-size="5.4" dy="-3">+</tspan></text>
<line x1="301.30" y1="364.00" x2="301.30" y2="455.00" stroke="#1a1a1a" stroke-width="1.35" />
<line x1="300.80" y1="454.50" x2="360.00" y2="454.50" stroke="#1a1a1a" stroke-width="1.35" />
<line x1="298.30" y1="365.50" x2="301.30" y2="365.50" stroke="#1a1a1a" stroke-width="1.35" />
<text x="296.20" y="368.31" font-size="7.8" fill="#1a1a1a" text-anchor="end" stroke="#1a1a1a" stroke-width="0.22" >1000</text>
<line x1="298.30" y1="383.30" x2="301.30" y2="383.30" stroke="#1a1a1a" stroke-width="1.35" />
<text x="296.20" y="386.11" font-size="7.8" fill="#1a1a1a" text-anchor="end" stroke="#1a1a1a" stroke-width="0.22" >800</text>
<line x1="298.30" y1="401.10" x2="301.30" y2="401.10" stroke="#1a1a1a" stroke-width="1.35" />
<text x="296.20" y="403.91" font-size="7.8" fill="#1a1a1a" text-anchor="end" stroke="#1a1a1a" stroke-width="0.22" >600</text>
<line x1="298.30" y1="418.90" x2="301.30" y2="418.90" stroke="#1a1a1a" stroke-width="1.35" />
<text x="296.20" y="421.71" font-size="7.8" fill="#1a1a1a" text-anchor="end" stroke="#1a1a1a" stroke-width="0.22" >400</text>
<line x1="298.30" y1="436.70" x2="301.30" y2="436.70" stroke="#1a1a1a" stroke-width="1.35" />
<text x="296.20" y="439.51" font-size="7.8" fill="#1a1a1a" text-anchor="end" stroke="#1a1a1a" stroke-width="0.22" >200</text>
<line x1="298.30" y1="454.50" x2="301.30" y2="454.50" stroke="#1a1a1a" stroke-width="1.35" />
<text x="296.20" y="457.31" font-size="7.8" fill="#1a1a1a" text-anchor="end" stroke="#1a1a1a" stroke-width="0.22" >0</text>
<line x1="299.50" y1="374.40" x2="301.30" y2="374.40" stroke="#1a1a1a" stroke-width="0.8" />
<line x1="299.50" y1="392.20" x2="301.30" y2="392.20" stroke="#1a1a1a" stroke-width="0.8" />
<line x1="299.50" y1="410.00" x2="301.30" y2="410.00" stroke="#1a1a1a" stroke-width="0.8" />
<line x1="299.50" y1="427.80" x2="301.30" y2="427.80" stroke="#1a1a1a" stroke-width="0.8" />
<line x1="299.50" y1="445.60" x2="301.30" y2="445.60" stroke="#1a1a1a" stroke-width="0.8" />
<text x="330.00" y="357.97" font-size="7.7" fill="#1a1a1a" text-anchor="middle" stroke="#1a1a1a" stroke-width="0.22" >CFU-E</text>
<line x1="318.27" y1="384.50" x2="318.27" y2="395.00" stroke="#444" stroke-width="1.0" />
<line x1="318.27" y1="415.00" x2="318.27" y2="426.25" stroke="#444" stroke-width="1.0" />
<line x1="313.89" y1="384.50" x2="322.66" y2="384.50" stroke="#444" stroke-width="1.0" />
<line x1="313.89" y1="426.25" x2="322.66" y2="426.25" stroke="#444" stroke-width="1.0" />
<rect x="310.30" y="395.00" width="15.95" height="20.00" fill="#cc0324" />
<line x1="310.30" y1="406.25" x2="326.25" y2="406.25" stroke="#9a0820" stroke-width="1.6" />
<line x1="343.75" y1="442.50" x2="343.75" y2="444.50" stroke="#444" stroke-width="1.0" />
<line x1="343.75" y1="449.25" x2="343.75" y2="450.50" stroke="#444" stroke-width="1.0" />
<line x1="339.62" y1="442.50" x2="347.88" y2="442.50" stroke="#444" stroke-width="1.0" />
<line x1="339.62" y1="450.50" x2="347.88" y2="450.50" stroke="#444" stroke-width="1.0" />
<rect x="336.25" y="444.50" width="15.00" height="4.75" fill="#164d8d" />
<line x1="336.25" y1="447.00" x2="351.25" y2="447.00" stroke="#0a2a50" stroke-width="1.6" />
<text transform="translate(258.30,413.20) rotate(-90)" x="0" y="3.24" font-size="9" fill="#1a1a1a" text-anchor="middle" stroke="#1a1a1a" stroke-width="0.28" textLength="43" lengthAdjust="spacingAndGlyphs" >CFU per 3,000</text>
<text transform="translate(269.40,413.30) rotate(-90)" x="0" y="3.24" font-size="9" fill="#1a1a1a" text-anchor="middle" stroke="#1a1a1a" stroke-width="0.28" textLength="51.7" lengthAdjust="spacingAndGlyphs" >GFP<tspan font-size="5.5" dy="-2.8">+</tspan><tspan dy="2.8"> R1+R2 cells</tspan></text>
<polyline points="317.5,382.5 317.5,377.5 343.75,377.5 343.75,436.25" fill="none" stroke="#1a1a1a" stroke-width="0.9"/>
<text x="331.25" y="376.40" font-size="7.5" fill="#1a1a1a" text-anchor="middle" stroke="#1a1a1a" stroke-width="0.28" >***</text>
<text transform="translate(319.50,464.80) rotate(-46)" font-size="7.8" fill="#1a1a1a" stroke="#1a1a1a" stroke-width="0.22" text-anchor="end"><tspan font-style="italic">Exosc3</tspan><tspan font-size="5.4" dy="-3">C/C</tspan></text>
<text transform="translate(325.50,470.60) rotate(-46)" font-size="7.8" fill="#1a1a1a" stroke="#1a1a1a" stroke-width="0.22" text-anchor="end">Cre<tspan font-size="5.4" dy="-3">–</tspan></text>
<text transform="translate(351.10,464.80) rotate(-46)" font-size="7.8" fill="#1a1a1a" stroke="#1a1a1a" stroke-width="0.22" text-anchor="end"><tspan font-style="italic">Exosc3</tspan><tspan font-size="5.4" dy="-3">C/C</tspan></text>
<text transform="translate(357.00,469.80) rotate(-46)" font-size="7.8" fill="#1a1a1a" stroke="#1a1a1a" stroke-width="0.22" text-anchor="end">Cre<tspan font-size="5.4" dy="-3">+</tspan></text>
<line x1="410.10" y1="364.50" x2="410.10" y2="454.70" stroke="#1a1a1a" stroke-width="1.35" />
<line x1="409.60" y1="454.20" x2="468.90" y2="454.20" stroke="#1a1a1a" stroke-width="1.35" />
<line x1="407.10" y1="366.00" x2="410.10" y2="366.00" stroke="#1a1a1a" stroke-width="1.35" />
<text x="405.00" y="368.81" font-size="7.8" fill="#1a1a1a" text-anchor="end" stroke="#1a1a1a" stroke-width="0.22" >1.0</text>
<line x1="407.10" y1="383.64" x2="410.10" y2="383.64" stroke="#1a1a1a" stroke-width="1.35" />
<text x="405.00" y="386.45" font-size="7.8" fill="#1a1a1a" text-anchor="end" stroke="#1a1a1a" stroke-width="0.22" >0.8</text>
<line x1="407.10" y1="401.28" x2="410.10" y2="401.28" stroke="#1a1a1a" stroke-width="1.35" />
<text x="405.00" y="404.09" font-size="7.8" fill="#1a1a1a" text-anchor="end" stroke="#1a1a1a" stroke-width="0.22" >0.6</text>
<line x1="407.10" y1="418.92" x2="410.10" y2="418.92" stroke="#1a1a1a" stroke-width="1.35" />
<text x="405.00" y="421.73" font-size="7.8" fill="#1a1a1a" text-anchor="end" stroke="#1a1a1a" stroke-width="0.22" >0.4</text>
<line x1="407.10" y1="436.56" x2="410.10" y2="436.56" stroke="#1a1a1a" stroke-width="1.35" />
<text x="405.00" y="439.37" font-size="7.8" fill="#1a1a1a" text-anchor="end" stroke="#1a1a1a" stroke-width="0.22" >0.2</text>
<line x1="407.10" y1="454.20" x2="410.10" y2="454.20" stroke="#1a1a1a" stroke-width="1.35" />
<text x="405.00" y="457.01" font-size="7.8" fill="#1a1a1a" text-anchor="end" stroke="#1a1a1a" stroke-width="0.22" >0</text>
<line x1="408.30" y1="374.82" x2="410.10" y2="374.82" stroke="#1a1a1a" stroke-width="0.8" />
<line x1="408.30" y1="392.46" x2="410.10" y2="392.46" stroke="#1a1a1a" stroke-width="0.8" />
<line x1="408.30" y1="410.10" x2="410.10" y2="410.10" stroke="#1a1a1a" stroke-width="0.8" />
<line x1="408.30" y1="427.74" x2="410.10" y2="427.74" stroke="#1a1a1a" stroke-width="0.8" />
<line x1="408.30" y1="445.38" x2="410.10" y2="445.38" stroke="#1a1a1a" stroke-width="0.8" />
<text x="439.40" y="358.17" font-size="7.7" fill="#1a1a1a" text-anchor="middle" stroke="#1a1a1a" stroke-width="0.22" >CFU-GM</text>
<rect x="417.60" y="452.90" width="17.30" height="1.30" fill="#333" />
<rect x="443.60" y="452.90" width="17.30" height="1.30" fill="#333" />
<text transform="translate(374.60,410.80) rotate(-90)" x="0" y="3.24" font-size="9" fill="#1a1a1a" text-anchor="middle" stroke="#1a1a1a" stroke-width="0.28" textLength="40.4" lengthAdjust="spacingAndGlyphs" >CFU per 3,000</text>
<text transform="translate(384.90,411.70) rotate(-90)" x="0" y="3.24" font-size="9" fill="#1a1a1a" text-anchor="middle" stroke="#1a1a1a" stroke-width="0.28" textLength="51.7" lengthAdjust="spacingAndGlyphs" >GFP<tspan font-size="5.5" dy="-2.8">+</tspan><tspan dy="2.8"> R1+R2 cells</tspan></text>
<text transform="translate(426.50,464.80) rotate(-46)" font-size="7.8" fill="#1a1a1a" stroke="#1a1a1a" stroke-width="0.22" text-anchor="end"><tspan font-style="italic">Exosc3</tspan><tspan font-size="5.4" dy="-3">C/C</tspan></text>
<text transform="translate(432.40,470.60) rotate(-46)" font-size="7.8" fill="#1a1a1a" stroke="#1a1a1a" stroke-width="0.22" text-anchor="end">Cre<tspan font-size="5.4" dy="-3">–</tspan></text>
<text transform="translate(461.10,464.80) rotate(-46)" font-size="7.8" fill="#1a1a1a" stroke="#1a1a1a" stroke-width="0.22" text-anchor="end"><tspan font-style="italic">Exosc3</tspan><tspan font-size="5.4" dy="-3">C/C</tspan></text>
<text transform="translate(466.30,469.80) rotate(-46)" font-size="7.8" fill="#1a1a1a" stroke="#1a1a1a" stroke-width="0.22" text-anchor="end">Cre<tspan font-size="5.4" dy="-3">+</tspan></text>
<line x1="178.30" y1="516.20" x2="178.30" y2="607.20" stroke="#1a1a1a" stroke-width="1.35" />
<line x1="177.80" y1="606.70" x2="237.50" y2="606.70" stroke="#1a1a1a" stroke-width="1.35" />
<line x1="175.30" y1="517.70" x2="178.30" y2="517.70" stroke="#1a1a1a" stroke-width="1.35" />
<text x="173.20" y="520.51" font-size="7.8" fill="#1a1a1a" text-anchor="end" stroke="#1a1a1a" stroke-width="0.22" >20</text>
<line x1="175.30" y1="539.95" x2="178.30" y2="539.95" stroke="#1a1a1a" stroke-width="1.35" />
<text x="173.20" y="542.76" font-size="7.8" fill="#1a1a1a" text-anchor="end" stroke="#1a1a1a" stroke-width="0.22" >15</text>
<line x1="175.30" y1="562.20" x2="178.30" y2="562.20" stroke="#1a1a1a" stroke-width="1.35" />
<text x="173.20" y="565.01" font-size="7.8" fill="#1a1a1a" text-anchor="end" stroke="#1a1a1a" stroke-width="0.22" >10</text>
<line x1="175.30" y1="584.45" x2="178.30" y2="584.45" stroke="#1a1a1a" stroke-width="1.35" />
<text x="173.20" y="587.26" font-size="7.8" fill="#1a1a1a" text-anchor="end" stroke="#1a1a1a" stroke-width="0.22" >5</text>
<line x1="175.30" y1="606.70" x2="178.30" y2="606.70" stroke="#1a1a1a" stroke-width="1.35" />
<text x="173.20" y="609.51" font-size="7.8" fill="#1a1a1a" text-anchor="end" stroke="#1a1a1a" stroke-width="0.22" >0</text>
<line x1="176.50" y1="528.83" x2="178.30" y2="528.83" stroke="#1a1a1a" stroke-width="0.8" />
<line x1="176.50" y1="551.08" x2="178.30" y2="551.08" stroke="#1a1a1a" stroke-width="0.8" />
<line x1="176.50" y1="573.33" x2="178.30" y2="573.33" stroke="#1a1a1a" stroke-width="0.8" />
<line x1="176.50" y1="595.58" x2="178.30" y2="595.58" stroke="#1a1a1a" stroke-width="0.8" />
<text x="207.80" y="509.87" font-size="7.7" fill="#1a1a1a" text-anchor="middle" stroke="#1a1a1a" stroke-width="0.22" >BFU-E</text>
<line x1="195.88" y1="533.50" x2="195.88" y2="558.90" stroke="#444" stroke-width="1.0" />
<line x1="195.88" y1="578.20" x2="195.88" y2="582.50" stroke="#444" stroke-width="1.0" />
<line x1="191.54" y1="533.50" x2="200.21" y2="533.50" stroke="#444" stroke-width="1.0" />
<line x1="191.54" y1="582.50" x2="200.21" y2="582.50" stroke="#444" stroke-width="1.0" />
<rect x="188.00" y="558.90" width="15.75" height="19.30" fill="#cc0324" />
<line x1="188.00" y1="575.30" x2="203.75" y2="575.30" stroke="#9a0820" stroke-width="1.6" />
<line x1="220.60" y1="602.50" x2="220.60" y2="606.00" stroke="#444" stroke-width="0.9" />
<line x1="216.25" y1="602.50" x2="225.00" y2="602.50" stroke="#444" stroke-width="0.9" />
<rect x="212.50" y="605.60" width="16.25" height="1.20" fill="#164d8d" />
<text transform="translate(145.10,561.00) rotate(-90)" x="0" y="3.24" font-size="9" fill="#1a1a1a" text-anchor="middle" stroke="#1a1a1a" stroke-width="0.28" textLength="41.5" lengthAdjust="spacingAndGlyphs" >CFU per 5,000</text>
<text transform="translate(156.10,562.00) rotate(-90)" x="0" y="3.24" font-size="9" fill="#1a1a1a" text-anchor="middle" stroke="#1a1a1a" stroke-width="0.28" textLength="52.3" lengthAdjust="spacingAndGlyphs" >GFP<tspan font-size="5.5" dy="-2.8">+</tspan><tspan dy="2.8"> R1+R2 cells</tspan></text>
<polyline points="196.25,530 196.25,525.75 221.25,525.75 221.25,595" fill="none" stroke="#1a1a1a" stroke-width="0.9"/>
<text x="208.75" y="525.90" font-size="7.5" fill="#1a1a1a" text-anchor="middle" stroke="#1a1a1a" stroke-width="0.28" >***</text>
<text transform="translate(193.00,615.60) rotate(-46)" font-size="7.8" fill="#1a1a1a" stroke="#1a1a1a" stroke-width="0.22" text-anchor="end"><tspan font-style="italic">Exosc3</tspan><tspan font-size="5.4" dy="-3">C/C</tspan></text>
<text transform="translate(199.00,622.10) rotate(-46)" font-size="7.8" fill="#1a1a1a" stroke="#1a1a1a" stroke-width="0.22" text-anchor="end">Cre<tspan font-size="5.4" dy="-3">–</tspan></text>
<text transform="translate(228.40,615.60) rotate(-46)" font-size="7.8" fill="#1a1a1a" stroke="#1a1a1a" stroke-width="0.22" text-anchor="end"><tspan font-style="italic">Exosc3</tspan><tspan font-size="5.4" dy="-3">C/C</tspan></text>
<text transform="translate(235.10,622.10) rotate(-46)" font-size="7.8" fill="#1a1a1a" stroke="#1a1a1a" stroke-width="0.22" text-anchor="end">Cre<tspan font-size="5.4" dy="-3">+</tspan></text>
<line x1="294.30" y1="515.70" x2="294.30" y2="607.20" stroke="#1a1a1a" stroke-width="1.35" />
<line x1="293.80" y1="606.70" x2="356.25" y2="606.70" stroke="#1a1a1a" stroke-width="1.35" />
<line x1="291.30" y1="517.20" x2="294.30" y2="517.20" stroke="#1a1a1a" stroke-width="1.35" />
<text x="289.20" y="520.01" font-size="7.8" fill="#1a1a1a" text-anchor="end" stroke="#1a1a1a" stroke-width="0.22" >1000</text>
<line x1="291.30" y1="535.10" x2="294.30" y2="535.10" stroke="#1a1a1a" stroke-width="1.35" />
<text x="289.20" y="537.91" font-size="7.8" fill="#1a1a1a" text-anchor="end" stroke="#1a1a1a" stroke-width="0.22" >800</text>
<line x1="291.30" y1="553.00" x2="294.30" y2="553.00" stroke="#1a1a1a" stroke-width="1.35" />
<text x="289.20" y="555.81" font-size="7.8" fill="#1a1a1a" text-anchor="end" stroke="#1a1a1a" stroke-width="0.22" >600</text>
<line x1="291.30" y1="570.90" x2="294.30" y2="570.90" stroke="#1a1a1a" stroke-width="1.35" />
<text x="289.20" y="573.71" font-size="7.8" fill="#1a1a1a" text-anchor="end" stroke="#1a1a1a" stroke-width="0.22" >400</text>
<line x1="291.30" y1="588.80" x2="294.30" y2="588.80" stroke="#1a1a1a" stroke-width="1.35" />
<text x="289.20" y="591.61" font-size="7.8" fill="#1a1a1a" text-anchor="end" stroke="#1a1a1a" stroke-width="0.22" >200</text>
<line x1="291.30" y1="606.70" x2="294.30" y2="606.70" stroke="#1a1a1a" stroke-width="1.35" />
<text x="289.20" y="609.51" font-size="7.8" fill="#1a1a1a" text-anchor="end" stroke="#1a1a1a" stroke-width="0.22" >0</text>
<line x1="292.50" y1="526.15" x2="294.30" y2="526.15" stroke="#1a1a1a" stroke-width="0.8" />
<line x1="292.50" y1="544.05" x2="294.30" y2="544.05" stroke="#1a1a1a" stroke-width="0.8" />
<line x1="292.50" y1="561.95" x2="294.30" y2="561.95" stroke="#1a1a1a" stroke-width="0.8" />
<line x1="292.50" y1="579.85" x2="294.30" y2="579.85" stroke="#1a1a1a" stroke-width="0.8" />
<line x1="292.50" y1="597.75" x2="294.30" y2="597.75" stroke="#1a1a1a" stroke-width="0.8" />
<text x="324.60" y="510.37" font-size="7.7" fill="#1a1a1a" text-anchor="middle" stroke="#1a1a1a" stroke-width="0.22" >CFU-E</text>
<line x1="311.88" y1="543.00" x2="311.88" y2="554.50" stroke="#444" stroke-width="1.0" />
<line x1="311.88" y1="579.60" x2="311.88" y2="585.75" stroke="#444" stroke-width="1.0" />
<line x1="307.41" y1="543.00" x2="316.34" y2="543.00" stroke="#444" stroke-width="1.0" />
<line x1="307.41" y1="585.75" x2="316.34" y2="585.75" stroke="#444" stroke-width="1.0" />
<rect x="303.75" y="554.50" width="16.25" height="25.10" fill="#cc0324" />
<line x1="303.75" y1="570.80" x2="320.00" y2="570.80" stroke="#9a0820" stroke-width="1.6" />
<line x1="337.12" y1="594.50" x2="337.12" y2="597.50" stroke="#444" stroke-width="1.0" />
<line x1="337.12" y1="600.00" x2="337.12" y2="601.25" stroke="#444" stroke-width="1.0" />
<line x1="332.79" y1="594.50" x2="341.46" y2="594.50" stroke="#444" stroke-width="1.0" />
<line x1="332.79" y1="601.25" x2="341.46" y2="601.25" stroke="#444" stroke-width="1.0" />
<rect x="329.25" y="597.50" width="15.75" height="2.50" fill="#164d8d" />
<line x1="329.25" y1="598.75" x2="345.00" y2="598.75" stroke="#0a2a50" stroke-width="1.6" />
<text transform="translate(251.50,562.60) rotate(-90)" x="0" y="3.24" font-size="9" fill="#1a1a1a" text-anchor="middle" stroke="#1a1a1a" stroke-width="0.28" textLength="41.4" lengthAdjust="spacingAndGlyphs" >CFU per 5,000</text>
<text transform="translate(263.00,563.40) rotate(-90)" x="0" y="3.24" font-size="9" fill="#1a1a1a" text-anchor="middle" stroke="#1a1a1a" stroke-width="0.28" textLength="52.8" lengthAdjust="spacingAndGlyphs" >GFP<tspan font-size="5.5" dy="-2.8">+</tspan><tspan dy="2.8"> R1+R2 cells</tspan></text>
<polyline points="311.25,536.25 311.25,527 336.75,527 336.75,588.75" fill="none" stroke="#1a1a1a" stroke-width="0.9"/>
<text x="324.50" y="526.90" font-size="7.5" fill="#1a1a1a" text-anchor="middle" stroke="#1a1a1a" stroke-width="0.28" >***</text>
<text transform="translate(311.50,615.60) rotate(-46)" font-size="7.8" fill="#1a1a1a" stroke="#1a1a1a" stroke-width="0.22" text-anchor="end"><tspan font-style="italic">Exosc3</tspan><tspan font-size="5.4" dy="-3">C/C</tspan></text>
<text transform="translate(317.40,622.10) rotate(-46)" font-size="7.8" fill="#1a1a1a" stroke="#1a1a1a" stroke-width="0.22" text-anchor="end">Cre<tspan font-size="5.4" dy="-3">–</tspan></text>
<text transform="translate(344.50,615.60) rotate(-46)" font-size="7.8" fill="#1a1a1a" stroke="#1a1a1a" stroke-width="0.22" text-anchor="end"><tspan font-style="italic">Exosc3</tspan><tspan font-size="5.4" dy="-3">C/C</tspan></text>
<text transform="translate(350.50,621.30) rotate(-46)" font-size="7.8" fill="#1a1a1a" stroke="#1a1a1a" stroke-width="0.22" text-anchor="end">Cre<tspan font-size="5.4" dy="-3">+</tspan></text>
<line x1="400.90" y1="515.40" x2="400.90" y2="606.90" stroke="#1a1a1a" stroke-width="1.35" />
<line x1="400.40" y1="606.40" x2="461.70" y2="606.40" stroke="#1a1a1a" stroke-width="1.35" />
<line x1="397.90" y1="516.90" x2="400.90" y2="516.90" stroke="#1a1a1a" stroke-width="1.35" />
<text x="395.80" y="519.71" font-size="7.8" fill="#1a1a1a" text-anchor="end" stroke="#1a1a1a" stroke-width="0.22" >20</text>
<line x1="397.90" y1="539.27" x2="400.90" y2="539.27" stroke="#1a1a1a" stroke-width="1.35" />
<text x="395.80" y="542.08" font-size="7.8" fill="#1a1a1a" text-anchor="end" stroke="#1a1a1a" stroke-width="0.22" >15</text>
<line x1="397.90" y1="561.65" x2="400.90" y2="561.65" stroke="#1a1a1a" stroke-width="1.35" />
<text x="395.80" y="564.46" font-size="7.8" fill="#1a1a1a" text-anchor="end" stroke="#1a1a1a" stroke-width="0.22" >10</text>
<line x1="397.90" y1="584.02" x2="400.90" y2="584.02" stroke="#1a1a1a" stroke-width="1.35" />
<text x="395.80" y="586.83" font-size="7.8" fill="#1a1a1a" text-anchor="end" stroke="#1a1a1a" stroke-width="0.22" >5</text>
<line x1="397.90" y1="606.40" x2="400.90" y2="606.40" stroke="#1a1a1a" stroke-width="1.35" />
<text x="395.80" y="609.21" font-size="7.8" fill="#1a1a1a" text-anchor="end" stroke="#1a1a1a" stroke-width="0.22" >0</text>
<line x1="399.10" y1="528.09" x2="400.90" y2="528.09" stroke="#1a1a1a" stroke-width="0.8" />
<line x1="399.10" y1="550.46" x2="400.90" y2="550.46" stroke="#1a1a1a" stroke-width="0.8" />
<line x1="399.10" y1="572.84" x2="400.90" y2="572.84" stroke="#1a1a1a" stroke-width="0.8" />
<line x1="399.10" y1="595.21" x2="400.90" y2="595.21" stroke="#1a1a1a" stroke-width="0.8" />
<text x="431.70" y="508.97" font-size="7.7" fill="#1a1a1a" text-anchor="middle" stroke="#1a1a1a" stroke-width="0.22" >CFU-GM</text>
<line x1="418.35" y1="595.30" x2="418.35" y2="605.00" stroke="#444" stroke-width="0.9" />
<line x1="413.30" y1="595.30" x2="423.40" y2="595.30" stroke="#444" stroke-width="0.9" />
<rect x="410.40" y="604.60" width="15.80" height="1.60" fill="#cc0324" />
<rect x="436.30" y="602.50" width="15.90" height="3.70" fill="#164d8d" />
<text transform="translate(367.40,559.90) rotate(-90)" x="0" y="3.24" font-size="9" fill="#1a1a1a" text-anchor="middle" stroke="#1a1a1a" stroke-width="0.28" textLength="41.4" lengthAdjust="spacingAndGlyphs" >CFU per 5,000</text>
<text transform="translate(378.20,560.70) rotate(-90)" x="0" y="3.24" font-size="9" fill="#1a1a1a" text-anchor="middle" stroke="#1a1a1a" stroke-width="0.28" textLength="52.8" lengthAdjust="spacingAndGlyphs" >GFP<tspan font-size="5.5" dy="-2.8">+</tspan><tspan dy="2.8"> R1+R2 cells</tspan></text>
<text transform="translate(418.00,616.30) rotate(-46)" font-size="7.8" fill="#1a1a1a" stroke="#1a1a1a" stroke-width="0.22" text-anchor="end"><tspan font-style="italic">Exosc3</tspan><tspan font-size="5.4" dy="-3">C/C</tspan></text>
<text transform="translate(424.00,622.90) rotate(-46)" font-size="7.8" fill="#1a1a1a" stroke="#1a1a1a" stroke-width="0.22" text-anchor="end">Cre<tspan font-size="5.4" dy="-3">–</tspan></text>
<text transform="translate(451.10,616.30) rotate(-46)" font-size="7.8" fill="#1a1a1a" stroke="#1a1a1a" stroke-width="0.22" text-anchor="end"><tspan font-style="italic">Exosc3</tspan><tspan font-size="5.4" dy="-3">C/C</tspan></text>
<text transform="translate(457.00,622.10) rotate(-46)" font-size="7.8" fill="#1a1a1a" stroke="#1a1a1a" stroke-width="0.22" text-anchor="end">Cre<tspan font-size="5.4" dy="-3">+</tspan></text>
</svg>
</body></html>
